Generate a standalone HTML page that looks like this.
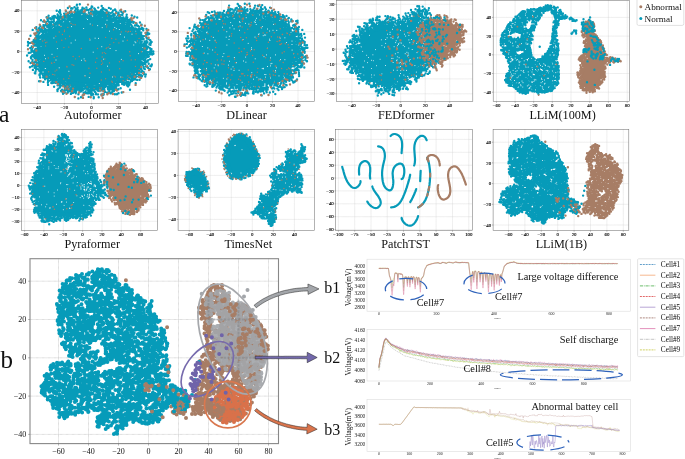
<!DOCTYPE html><html><head><meta charset="utf-8"><title>Figure</title><style>html,body{margin:0;padding:0;background:#fff}svg{display:block}</style></head><body><svg width="685" height="459" viewBox="0 0 685 459"><rect width="685" height="459" fill="#fff"/><rect x="21.3" y="0.4" width="137.0" height="102.9" fill="#fff"/><path d="M37.2 0.4V103.3M64.4 0.4V103.3M91.6 0.4V103.3M118.6 0.4V103.3M145.6 0.4V103.3M21.3 10.8H158.3M21.3 31.2H158.3M21.3 51.6H158.3M21.3 72.1H158.3M21.3 92.5H158.3" stroke="#c9c9c9" stroke-width="0.45" stroke-dasharray="0.7 0.35" fill="none"/><path d="M140.0 51.4L139.8 47.3L139.1 43.9L138.1 40.8L136.7 37.8L134.8 35.0L132.5 32.3L129.7 29.7L126.4 27.2L122.7 25.0L118.5 23.0L111.3 20.6L106.1 19.5L100.4 18.7L90.6 18.2L80.8 18.7L75.1 19.5L69.9 20.6L62.7 23.0L58.5 25.0L54.8 27.2L51.5 29.7L48.7 32.3L46.4 35.0L44.5 37.8L43.1 40.8L42.1 43.9L41.4 47.3L41.2 51.4L41.4 55.5L42.1 58.9L43.1 62.0L44.5 65.0L46.4 67.8L48.7 70.5L51.5 73.1L54.8 75.6L58.5 77.8L62.7 79.8L69.9 82.2L75.1 83.3L80.8 84.1L90.6 84.6L100.4 84.1L106.1 83.3L111.3 82.2L118.5 79.8L122.7 77.8L126.4 75.6L129.7 73.1L132.5 70.5L134.8 67.8L136.7 65.0L138.1 62.0L139.1 58.9L139.8 55.5Z" fill="#069bb9" fill-rule="evenodd"/><path d="M28 42h0m.7 1h0m-.3 .7h0m-.5 1.9h0m.9 7.4h0m-1.7 2.5h0m1.5 5.8h0m1.3 6h0m5.4 6.1h0m-.5-.3h0m.7-1.6h0m-2.6-1.6h0m1.7-2.2h0m-2.8-1.3h0m1.3-.8h0m1.4-.2h0m.6-.2h0m-1.9-1.5h0m.3-.3h0m-2.9-.4h0m3.6-.1h0m-.6-.5h0m-1.5-.3h0m3.3-.8h0m.5-.2h0m-3.4-1.1h0m3-1.5h0m-.3-.2h0m-.5 0h0m-3.6 0h0m4.6-.1h0m-.4-.1h0m-4.4-.7h0m3.3-.3h0m-3-.3h0m3.6-.2h0m-2-.2h0m1.7-.4h0m-1.9-.3h0m2-.4h0m-2.2-.1h0m2-.9h0m-.1-.7h0m.9-.8h0m-4.5-.3h0m3.4-.2h0m.4-.3h0m-2.4-.4h0m.9-.4h0m2.2-.4h0m-3.8-.5h0m3.3 0h0m-2.6-.1h0m-.4-.4h0m0-.1h0m3.8-.7h0m-5.3-.9h0m2.3-.3h0m-.7-1.4h0m3.5-.8h0m-.9-.1h0m.1-.3h0m.9-.1h0m-1.4-.7h0m-3.6-1.5h0m4-.3h0m1.5-.1h0m-3.8-.1h0m1.2-.8h0m2.3-.1h0m-.7-.2h0m-1.2-1.1h0m2.2-1h0m-1-.2h0m.9-1.4h0m-5.3-1.9h0m5.4-.5h0m-.6-1.1h0m-2.6-4.2h0m8.3-9.6h0m-.7 5.6h0m-4 1.3h0m3.1 .5h0m2.2 .9h0m-2.8 .1h0m-2.3 .7h0m5.4 0h0m-2.5 0h0m.6 .6h0m2 .7h0m-1.5 0h0m.6 .2h0m.8 .1h0m-3.9 0h0m3.8 0h0m-1.4 .6h0m1 0h0m-3.9 .1h0m-.7 .8h0m2.5 .7h0m-1 1.3h0m-.2 .9h0m2.8 .5h0m-3.6 .3h0m2.5 .3h0m-1 0h0m3.1 .1h0m0 .7h0m-2.7 .1h0m-1.1 .1h0m1.9 0h0m-3.6 0h0m5.3 .3h0m-2.1 .3h0m0 .1h0m-2.3 .3h0m1.2 .5h0m.1 1.3h0m2.6 .2h0m-3.3 .1h0m.1 0h0m-2 .2h0m5.8 0h0m-2.2 .1h0m-1.5 .1h0m-2.1 .1h0m3.7 .3h0m1.7 .2h0m-3.2 0h0m1.5 .4h0m1.5 0h0m-.9 0h0m-1.5 .3h0m-.7 0h0m.6 .7h0m-2.3 .2h0m4 .4h0m-2.1 .1h0m3.1 .2h0m-1.1 .1h0m-.6 0h0m2 .5h0m-4.8 .1h0m3.1 .2h0m.5 0h0m1.3 .2h0m.1 .3h0m-5.3 .3h0m3.1 .3h0m-2.4 .1h0m2 0h0m0 1h0m-1.7 .1h0m2.2 .5h0m1.9 .4h0m-.4 .5h0m.3 0h0m-.3 .1h0m-.2 .1h0m-4.2 .2h0m.4 .1h0m1.3 0h0m1.3 0h0m-.7 .1h0m-2.9 0h0m5.6 .1h0m-4.2 .3h0m1.5 .1h0m2.4 .2h0m-4.5 .3h0m2.4 .2h0m2.2 .1h0m-3.4 .2h0m-2.2 .2h0m5.6 .1h0m-3.1 0h0m1.1 .3h0m.4 .2h0m-3.4 0h0m2.8 .4h0m-1.1 .1h0m.7 .8h0m1.7 0h0m-1.6 .4h0m-2 0h0m2.7 .2h0m-.1 .1h0m-2.4 .1h0m3 .3h0m1.2 .1h0m-1.2 .2h0m-2.6 0h0m1.1 .1h0m-1.2 0h0m-1.6 .2h0m0 0h0m2.4 .2h0m1.3 0h0m-.4 .2h0m.3 .5h0m-.8 .4h0m-.5 .2h0m3 .1h0m-4.9 0h0m-.1 .2h0m.7 0h0m2.2 .1h0m-.4 0h0m-1 .2h0m1.6 .8h0m1 .1h0m-.1 .1h0m0 0h0m1.3 .3h0m-2.7 .4h0m-1.5 0h0m-1.3 .1h0m3.4 .5h0m-1.4 .2h0m.8 .1h0m-1.4 .4h0m-1.5 .1h0m.9 .2h0m4.7 .2h0m-.7 .4h0m-1.5 .7h0m1.8 0h0m-2.6 .4h0m1.9 .1h0m-2 .7h0m1.5 .1h0m-3.7 .1h0m5.3 .2h0m-.8 .4h0m-.8 .5h0m-1.9 .1h0m3.6 .1h0m-4.9 .3h0m2.7 .5h0m.5 .1h0m-3.1 .1h0m1.3 1.3h0m2 .1h0m-4 .5h0m4.9 .4h0m.8 .1h0m-.1 .2h0m-2.4 .1h0m-2.9 1.3h0m.1 .1h0m1.8 .4h0m2.7 0h0m-5 .2h0m3.7 1.2h0m-.6 0h0m.7 .5h0m.5 .2h0m.8 .2h0m.1 .2h0m-1.1 1.6h0m1.4 0h0m-.5 .2h0m-1.7 .8h0m0 .9h0m.2 .1h0m.5 2.1h0m-1.1 3.8h0m8.8 1.4h0m-4.5-.8h0m1.8-2.5h0m.1-.1h0m-.3-.5h0m.1-.5h0m2.6-.1h0m-.5-.5h0m-3.3-.2h0m2.2 0h0m-2.3-.1h0m-.6 0h0m3.6-.2h0m-2.4-.1h0m3.4-.1h0m.2-.7h0m-1.6 0h0m-1.9-.2h0m-.3-.1h0m-1.2-.4h0m2.5-.9h0m1.6 0h0m-1.7-.2h0m1.7-.1h0m.1-.2h0m-.7-.4h0m.4-.1h0m-.5-.2h0m-4.3 0h0m2 0h0m1.5-.6h0m2.1-.5h0m-3-.3h0m1.1-.1h0m-.4-.2h0m2-.1h0m-.3-.2h0m-.7-.2h0m-1.8-.2h0m-1.9-.9h0m.5 0h0m.2 0h0m-.5-.2h0m0 0h0m3.4 0h0m-1-.1h0m2.6-.1h0m-1.5 0h0m-1.9-.2h0m-.6-.3h0m3.5-.2h0m-3.5 0h0m-1-.1h0m.6-.8h0m3.7 0h0m-4.6-.1h0m-.4-.2h0m5.6-.1h0m-.1-.2h0m0-.1h0m-3.6-.5h0m1.2-.2h0m.7-.4h0m-3.6-.1h0m1.4-.3h0m1.8-.3h0m-3.2-.1h0m2.1-.2h0m-1.7-.1h0m-.3-.2h0m2.7 0h0m-2.6-.1h0m-.4-.3h0m-.2-.4h0m2-.2h0m-1.3-.7h0m0-.2h0m1.9-.2h0m-2.4-.6h0m2.6-.1h0m-.9 0h0m-1.3-.1h0m.4-.5h0m.1-1.5h0m-1-.1h0m.5-.3h0m.3-.4h0m0-.6h0m-.7-.3h0m.2-.1h0m.3-.6h0m-.5-3.4h0m0-1.8h0m-.1-.4h0m.1-3.9h0m.3-3.4h0m0-.9h0m-.1 0h0m.2-.3h0m-.1 0h0m-.2-.7h0m.7 0h0m-.9-.1h0m.2-.6h0m.1-.2h0m1 0h0m.3 0h0m-1.6-.4h0m.8-.1h0m.6 0h0m-.4-.6h0m-.1-.3h0m.6-.3h0m1.3-.2h0m-1.3-.2h0m-1.3-.1h0m1.7-.3h0m-1.5-.6h0m2.5-.2h0m.4-.2h0m-.2-.3h0m-1.7-.1h0m-.9 0h0m2.1-.1h0m1.3-.9h0m-1.7-.4h0m1.5-.1h0m.7 0h0m-2.8-.1h0m1.5-.5h0m1.2-.4h0m-2.6 0h0m1.9-.2h0m-1.2 0h0m2.7-.1h0m-1.1-.3h0m-4-.1h0m2.3-.1h0m1.6-.1h0m-.2 0h0m2-.2h0m-.3-.2h0m-4.6-.6h0m3.2-.3h0m1.1-.3h0m-3.4-.1h0m-1.1-.2h0m1.3-.4h0m-.3-.1h0m-.4-.2h0m1.5-.5h0m.6-.1h0m1.1-.4h0m-2.7 0h0m1.4-.1h0m-.7 0h0m-.3-.1h0m3.4-.4h0m-3.6-.2h0m3 0h0m-.5-.1h0m1.1-.2h0m-2.6-1.4h0m0-.1h0m-2.4-.4h0m1.2-.4h0m-1.6-.1h0m5.1-.3h0m-4.3-.3h0m4-.5h0m-.3-.8h0m-2.3-.1h0m-1-.6h0m2.4-.4h0m.4-.4h0m.1-1h0m-.6-1.4h0m-2.5-.3h0m4.5-.8h0m-.2-1.5h0m-.9-2h0m2-1.5h0m3.8 1h0m.4 .5h0m-2.7 .9h0m-1.6 .1h0m3.6 .2h0m-1.1 .9h0m2.8 .4h0m-5.5 1h0m5.6 .3h0m-.4 .6h0m-1.4 .1h0m.9 .1h0m-3.8 .1h0m1.6 .1h0m-.4 1.7h0m.9 .1h0m-2 .3h0m.7 .2h0m1.6 .1h0m-3.5 .7h0m3 0h0m-1.5 .6h0m.4 .2h0m3 .1h0m.6 .2h0m-5.3 .3h0m1.9 1h0m1.6 0h0m-1.6 .8h0m-.9 .4h0m1.8 .2h0m-1.5 0h0m4.1 .2h0m-2.4 .2h0m-1.6 .2h0m0 .1h0m3.5 .3h0m-1 0h0m-1.5 .1h0m-.5 0h0m-1.9 .1h0m2.4 .1h0m2.2 0h0m-.9 .1h0m-.7 .1h0m0 .3h0m-.9 .9h0m-1.6 0h0m.1 0h0m1.8 .1h0m-1.2 .5h0m-.1 .3h0m0 .8h0m-.2 .2h0m-1.1 34.7h0m1.8 1.6h0m-1 .4h0m1.5 .1h0m-.4 0h0m-.2 1.2h0m1 0h0m-1.5 0h0m-.8 .2h0m.8 0h0m2.9 .1h0m-1.4 1.1h0m-1.6 .1h0m1.2 0h0m-.6 .1h0m.8 .2h0m.3 .3h0m-1.8 0h0m3.3 .2h0m-.8 .4h0m-.9 1h0m-.1 0h0m3.2 .4h0m-.7 .1h0m.9 .2h0m-5.7 0h0m3.2 .1h0m.3 0h0m-.7 0h0m-1.4 .3h0m3.8 .2h0m-1.8 .2h0m-2.3 0h0m1.8 .2h0m2.7 .2h0m-5.3 0h0m2.3 .4h0m-1.3 .1h0m3.3 0h0m.9 .1h0m-.9 .1h0m-2.6 .1h0m2.9 .3h0m-2.3 .3h0m.2 0h0m.2 .3h0m.1 .6h0m-3.4 .6h0m1.9 .5h0m2.7 .2h0m-.3 .8h0m-4.3 .3h0m4.2 .2h0m1 0h0m-.4 .2h0m-.6 .5h0m.7 .1h0m-1.6 .1h0m1 .1h0m-4.2 1.8h0m9.4 6.1h0m-.1-1.2h0m.9-1.1h0m1.6-1.2h0m-5.8-.8h0m5.5-.9h0m-2-.6h0m1.5-.3h0m.4-1.1h0m.2-.8h0m-.1-.1h0m-4.2 0h0m2.1-.1h0m2.5-.3h0m-1.6 0h0m-2.1 0h0m-1.5-.1h0m4.7-.6h0m-.5-.6h0m-2.5-.2h0m3.5-.2h0m-1.2-.2h0m.8-.2h0m-4.9-.3h0m4.3-.1h0m-2-.4h0m-1.1 0h0m2.8-.3h0m-2.4-.3h0m-2.1-.2h0m-.2-.1h0m4.9-.3h0m.8-.6h0m-5-.1h0m1.7 0h0m-2.4-.2h0m3.4-.1h0m-.5-.1h0m-.7-.1h0m.6-.1h0m-1.7-.3h0m.6-.6h0m-.3-.4h0m1.8-.3h0m0-.2h0m-2.2-46.8h0m.9-.7h0m.7-.2h0m.9-.4h0m-2 0h0m-.6-.1h0m3-.3h0m1.3-.1h0m-4.6-.4h0m3.1-.2h0m.1-.6h0m1.3-.3h0m-4.6-.2h0m-.5-.2h0m2.3-.3h0m-1.6-.2h0m-.5-.7h0m5.7 0h0m-3.2-.3h0m1.3-.2h0m0-.2h0m-2.2-.1h0m3.9-.5h0m-2.6-.3h0m1.6-.1h0m-1.3-.4h0m.1-.4h0m2.3-.3h0m-.6-.9h0m-.9-.6h0m-.2 0h0m-.3-.3h0m1.6-.1h0m-.7-.2h0m-2-.8h0m1.4 0h0m-3.8-.1h0m2.7-.3h0m1.1-.2h0m.5-.2h0m-3.4-.4h0m-.2-.5h0m-.9-.3h0m4.4 0h0m-.7-.4h0m-.2-1.1h0m1.4-2.6h0m-2.3-1.1h0m3.3-.4h0m6 1.3h0m-5.9 .5h0m0 1h0m4 .5h0m-3.7 .4h0m5.3 .6h0m-4.9 .2h0m4.9 .2h0m.2 .2h0m-1.4 .6h0m-.6 .7h0m-3.6 .1h0m4.4 .1h0m-1.9 .2h0m1.3 .1h0m-1.7 0h0m-1.9 .1h0m4.1 .1h0m-2 0h0m3.3 0h0m-.6 .4h0m-4.2 0h0m1.3 .7h0m-.4 .1h0m.4 .4h0m.9 .6h0m.2 .1h0m.3 .3h0m-1.9 .1h0m2.9 0h0m-.1 .2h0m.7 .1h0m-5.3 1.1h0m5 .2h0m-2.8 0h0m-1.1 .2h0m-.6 0h0m5.4 .5h0m-1.5 .5h0m-2.7 .1h0m2.7 .2h0m-2.7 0h0m-1.7 .1h0m1.4 .4h0m.1 .1h0m-.6 .1h0m2.4 0h0m-.9 .4h0m1.1 .2h0m-2.9 .2h0m1.9 53.9h0m-2.1 .1h0m0 .4h0m2 .3h0m.4 .1h0m-.2 0h0m2.2 .1h0m0 .1h0m-.6 0h0m-1.6 .4h0m.1 0h0m.4 .6h0m-2.5 .1h0m.6 .1h0m2 .3h0m1.3 .2h0m-2.6 .5h0m2.2 .4h0m-2.5 .2h0m-.7 .3h0m3.9 .2h0m-3.9 0h0m2.2 .1h0m.3 .1h0m-.5 .9h0m-2.8 .1h0m2.5 0h0m2 .3h0m-.4 .8h0m-1.1 .3h0m-2.2 .2h0m2.1 0h0m.2 0h0m2.4 .3h0m-5.1 .3h0m4.4 .6h0m.8 .7h0m-.9 .7h0m-2.8 1.4h0m2.7 .3h0m.2 .5h0m-4 .3h0m.2 0h0m2.2 .3h0m-2 .2h0m1.5 .7h0m1.9 .7h0m-1.8 1.1h0m7.9 .2h0m.2-.2h0m-3.5-.9h0m4.3-.9h0m-3.7-.1h0m2.9-.4h0m-1.8-.4h0m1.8-.2h0m-2.9-.1h0m-.7-.1h0m-.8-.7h0m5.1-.1h0m-2-.1h0m-1.8-.4h0m.9-.6h0m1.4 0h0m1.6-.4h0m-3-.1h0m2.1-.1h0m-4 0h0m1.8-.4h0m2.4 0h0m-4.6-.1h0m2-.4h0m.1-.6h0m-.7-.1h0m-.9-.1h0m2-.1h0m-.2 0h0m1.1-.7h0m-2.1-.3h0m3.7-.3h0m.3-.2h0m-2.1-.4h0m-1.2-.1h0m2.4-.2h0m-2-.1h0m-2.1-.1h0m.4-.3h0m.5-.2h0m2.6-.2h0m-2.9 0h0m-1 0h0m2.8-.1h0m2.5-.2h0m-4.3-.2h0m2.4-.5h0m.7-.4h0m-.4 0h0m-1.1-.1h0m-1.9-.1h0m.4-.6h0m-.9-.6h0m-.7-57.2h0m2.6-1h0m-.8-.2h0m.1-.4h0m1.5-.7h0m-1.2-.1h0m1.6-.1h0m-1.5-.1h0m.9-.2h0m-2.3 0h0m3.2-.3h0m0 0h0m-3 0h0m4.6-.4h0m-.4-.7h0m-.2 0h0m-.2 0h0m-1.3-.1h0m-.5 0h0m0-.3h0m-.7-.1h0m1.3-.1h0m-1.6-.5h0m-2-.1h0m2.1-.1h0m1.9 0h0m-.9-.2h0m-2.4-.1h0m1.9-.6h0m-2.2-.3h0m4.2 0h0m-.2 0h0m-3.3-.3h0m2-.2h0m-.3 0h0m0-.4h0m2.8 0h0m-1.6 0h0m-3.5-.3h0m.1-.2h0m4.4-.4h0m0-.1h0m-3.5-.5h0m.8-.2h0m3.5-.7h0m-2.4-.5h0m.2-.6h0m1.3-.1h0m-.1-1.3h0m.3-2.5h0m-3.3-.2h0m9.1-3.3h0m-.2 .5h0m-2.3 1.9h0m3.1 .6h0m-5.1 .8h0m3.4 .2h0m-.2 .8h0m2.1 .5h0m-2.7 1h0m2.6 0h0m-.8 1.1h0m1 0h0m-2.6 .1h0m-.3 1h0m2 0h0m-4.8 .7h0m4.4 0h0m-2.2 .7h0m-2.4 .1h0m5.1 .1h0m-2.3 0h0m-1.1 .2h0m-1.2 0h0m5.2 .1h0m-1.2 0h0m-1 0h0m-1.9 .2h0m4.3 .1h0m-2.9 0h0m-1.6 .1h0m2.4 0h0m-.1 .4h0m-3.2 .5h0m4.6 .2h0m-1.3 .3h0m1 .1h0m.1 0h0m-2.5 0h0m1.9 .2h0m-.3 .2h0m.5 .6h0m-1.2 .3h0m1.7 .2h0m-1.3 0h0m-2.4 0h0m3.8 .1h0m-1.2 .1h0m.2 0h0m-1.6 .3h0m-.4 .2h0m1.5 .1h0m1.1 .1h0m-3.5 .1h0m-.5 .1h0m.3 .1h0m4.6 .1h0m-5.3 .3h0m3.6 .3h0m-.8 .2h0m-2.3 0h0m3.6 61.9h0m-1.4 0h0m-.3 .1h0m2.2 0h0m-2.8 0h0m3.5 .1h0m-4.2 .2h0m3.9 0h0m.5 .1h0m-.6 0h0m-4.5 .2h0m4.8 0h0m0 .2h0m-5.1 .1h0m5.5 .3h0m-4.6 .2h0m2.9 0h0m-.8 .2h0m-2.6 .1h0m.7 .2h0m3.1 .1h0m.9 0h0m-1.3 .4h0m.3 .1h0m-2.7 .2h0m1.7 .1h0m1.8 .2h0m-1.6 .2h0m.1 .1h0m1.7 .1h0m-5.3 .2h0m0 0h0m3.3 .1h0m2.5 .3h0m-2.4 .2h0m1.2 .2h0m-3.6 .1h0m.2 .4h0m3.3 0h0m.7 .2h0m-.2 .5h0m-1.6 0h0m-.9 .1h0m-1.4 .1h0m2.9 .1h0m-1.6 .1h0m-1.7 .3h0m4.6 .3h0m-4.2 .4h0m1.9 0h0m-.3 .2h0m1.8 .4h0m-.7 .8h0m-.7 .2h0m-.5 .4h0m-.4 .1h0m1.7 .3h0m-3 .7h0m2.7 .5h0m2.6 5.2h0m2.6-1.2h0m2-2.1h0m.4 0h0m-5-.9h0m5.2-1.2h0m-4.1-1.1h0m1.9-.6h0m-1.4-.8h0m2.8-.1h0m-1.8-.3h0m-1.8-.2h0m1.5-.7h0m-1.9-.2h0m1.5-.2h0m2.1-.2h0m-1.7 0h0m3.2-.1h0m-4.9-.1h0m4.1-.3h0m-2.1-.3h0m.7 0h0m-3.5-.2h0m.2-.5h0m.5-.1h0m1.3-.1h0m2.6-.9h0m-.8-.4h0m-3.6-.5h0m.4-.2h0m1.4 0h0m-1.9-.2h0m-.2-.1h0m5.6-.2h0m-.5 0h0m-3.5-.1h0m3 0h0m-1.4-.1h0m-1.8-.2h0m.9-.2h0m2.7-.1h0m.3 0h0m-1.4-.5h0m-2.9-63.4h0m3.2-.2h0m-3.6 0h0m1-.1h0m-.7 0h0m.2-.5h0m4.4-.1h0m-2.4-.2h0m.2 0h0m.4-.3h0m-3.2-.1h0m1.3 0h0m1.5 0h0m-2.3-.1h0m2.3-.3h0m1.7-.1h0m-2 0h0m-1.7-.2h0m4 0h0m-1.4-.1h0m1.3-.2h0m.4 0h0m-1.2-.2h0m-2.9-.1h0m.3-.2h0m-1.2 0h0m3.7-.4h0m-.2 0h0m-.1-.2h0m.8 0h0m-4.7-.2h0m2.2-.2h0m-1.8-1h0m1.4-.1h0m3.4-.5h0m-3.5-.1h0m-.8 0h0m.7 0h0m-.1-.2h0m.1 0h0m-1.1-.2h0m.8 0h0m3.5-.5h0m-1.8 0h0m-2.6-.2h0m1.4-.3h0m2.9-.2h0m-.2-.4h0m-2.8-.6h0m2.4-.2h0m-1.4-.1h0m-.5-.8h0m1.8-1.1h0m.3-1.7h0m-2.7-3.3h0m6.6 3.1h0m-2.1 1.4h0m5.6 .3h0m-2.8 .7h0m1.4 .4h0m-2.6 0h0m-1.3 2.2h0m4.3 .3h0m-3.4 1.4h0m1.3 .6h0m2.4 .4h0m.5 .1h0m-1.9 .3h0m-3.4 .5h0m.1 .2h0m.3 0h0m1.5 .3h0m-.8 .2h0m4.4 .3h0m-.1 0h0m-.8 0h0m-2.6 .1h0m2.3 .6h0m-.2 .1h0m-.7 0h0m-.1 .1h0m-3.2 .2h0m3.8 .1h0m.3 .6h0m-.8 0h0m-2.8 .3h0m4.4 .1h0m-1.4 0h0m-3.8 64.2h0m4.1 .1h0m1.5 0h0m-2.2 0h0m-.3 .2h0m.6 .2h0m-3.7 .1h0m-.2 .1h0m5.1 .5h0m.8 .2h0m-3.5 .3h0m1.6 .3h0m-2.2 .1h0m1.3 .2h0m-2.4 .4h0m1.1 0h0m.3 .1h0m.7 0h0m1 .3h0m-2.8 .2h0m1 .1h0m3.2 .1h0m-4 .8h0m1.5 0h0m-.8 .4h0m2.3 0h0m-.3 .3h0m-.5 .1h0m-2.5 .2h0m4.9 .7h0m-2.6 .2h0m.1 0h0m2.1 .3h0m.5 .1h0m-.3 0h0m-1.2 1.2h0m.6 .2h0m-3.5 0h0m-.3 1.4h0m3.6 .2h0m-2.2 0h0m.5 0h0m-.2 .2h0m1.6 .2h0m.2 3.5h0m5 1.3h0m.1-1h0m-2.3-2h0m1.8-.6h0m-2.4-.2h0m2-.4h0m3-.9h0m-5.2-.1h0m-.7-.5h0m1.5-.1h0m3.4-.6h0m-4.1 0h0m0-.2h0m-.6-.8h0m2.5-.5h0m1.2 0h0m-2.7-.6h0m-1.2-.1h0m4.9-.1h0m.2-.5h0m-.2-.1h0m-2.5 0h0m2-.5h0m1.1 0h0m-4.2 0h0m4.6-.1h0m-2.5-.3h0m2.6-.2h0m-1.8-.1h0m-1.1 0h0m-1.7-.1h0m1.9 0h0m-2.7-.1h0m4.5 0h0m-4.1-.5h0m-.4 0h0m5.1-.1h0m-1.5-.1h0m.6 0h0m-2.2-.2h0m-.4-.4h0m-1.6-.4h0m.3-.2h0m.8-.1h0m.6-.6h0m.8-.4h0m2.5-.2h0m-2.5-.2h0m1.3-.1h0m-1.6 0h0m-2.5-.1h0m-.1-.3h0m.9-64.5h0m4.2-.1h0m.5 0h0m-1.1-.1h0m-1.2-.2h0m-3.1-.1h0m4.6-.1h0m-.9-.1h0m-.2-.1h0m.4 0h0m-1.2 0h0m2.4 0h0m-4.4-.1h0m4.4-.1h0m-1.8-.1h0m.2-.2h0m-1.9-.1h0m-.8-.2h0m0-.8h0m3-.6h0m.9-.4h0m-1.8-1.3h0m-1.4-.2h0m1.3-.1h0m-2.9-.3h0m5.2-.1h0m.5-.4h0m-2.5-.1h0m2.3-.6h0m-4.9 0h0m.1-.8h0m3.3 0h0m-2.5-.3h0m.8-.2h0m-1.3-.1h0m.8-.3h0m3.6-.5h0m-.7-1.2h0m-.7-.7h0m-2.9-.6h0m.8-1.1h0m-.5-.4h0m10-.5h0m-3.5 1.7h0m2.9 2.5h0m.3 .1h0m.4 .7h0m-1.1 .1h0m-3.7 .7h0m2.8 0h0m-2 .1h0m3.7 .2h0m-1.7 0h0m1.3 .3h0m0 .3h0m-3.4 .1h0m-1.5 .4h0m3.6 .3h0m2 .2h0m-5.6 .1h0m3.9 .2h0m-1 .1h0m-.4 .1h0m-.6 1h0m1.2 0h0m0 .1h0m2 .1h0m.2 .2h0m-1.2 .1h0m-1.4 .4h0m-2.8 .2h0m5.4 .1h0m-1.2 .3h0m-3.6 0h0m4.7 0h0m-1.9 .2h0m-.8 .1h0m-2.5 .1h0m4.1 .1h0m.8 0h0m-1.6 .1h0m-1.6 .2h0m2.7 .2h0m-.8 .1h0m-.7 .4h0m-1.6 .1h0m1.7 .6h0m-2.4 0h0m1.6 0h0m3.1 .4h0m-2.5 .1h0m-2.8 .1h0m4.5 0h0m-1.5 .2h0m-.1 0h0m-.5 63.6h0m-.3 .1h0m3.5 .1h0m-3.4 .1h0m-1.9 .4h0m4.1 .1h0m-1.6 0h0m-2.1 .2h0m0 .1h0m4.6 .4h0m-3.5 .1h0m3.7 .2h0m-5.3 .2h0m2.7 .3h0m0 .4h0m-1.8 .1h0m0 .1h0m3.7 .1h0m-1.2 .1h0m-1.8 0h0m-.9 .1h0m1.2 .2h0m-.2 .1h0m1.6 0h0m.9 .4h0m-4.2 .2h0m4.3 .2h0m-.2 .4h0m-.6 .2h0m-1 .3h0m-2.1 .3h0m.8 .2h0m3.7 .2h0m-3.6 .9h0m4.1 .2h0m-3.4 .3h0m2 .1h0m-3 0h0m0 0h0m1.2 .1h0m.2 .1h0m-2.7 3.5h0m1.9 .1h0m3.4 .1h0m-2.7 2.7h0m4-1.9h0m.1-.7h0m.9-.1h0m0-.5h0m3.5-1.4h0m-.1 0h0m-2-.7h0m-.9-.9h0m.3-.8h0m-1.2-.7h0m-.4-.3h0m-.5 0h0m1.8-.3h0m3.7-.3h0m-5.8-.1h0m.6-.3h0m1.5-.1h0m1.2-1.2h0m-1-.1h0m1.3-.2h0m-2.8-.1h0m1.2-.4h0m2.1-.3h0m-2.8-.4h0m1.5-.3h0m1.6-.3h0m-1.8-.2h0m.2-.2h0m0 0h0m1-.1h0m-3.9-.3h0m1.1-.2h0m4.8 0h0m-3.2-.1h0m2.9-.1h0m-2.6-.1h0m.6 0h0m1.6-.1h0m-4.4-.1h0m5-.3h0m.1-62.6h0m-1.9-.8h0m.7-.5h0m.2-.1h0m-4-.2h0m1.4-.1h0m-1 0h0m.5-.1h0m-.1-.1h0m.3-.2h0m3.8-.2h0m-3.3 0h0m.9-.6h0m1.3-.1h0m1 0h0m-1.2 0h0m.9-.1h0m-2.8-.1h0m.4-.3h0m-.2-.1h0m-1.6-.2h0m4-.1h0m-2.3 0h0m-2.7-.1h0m3.3-.1h0m-2.4-.1h0m2.8 0h0m.1-.1h0m-1.5 0h0m-2.1-.2h0m3.7 0h0m-.6 0h0m-1.7-.2h0m1.7-.3h0m-1.9-.3h0m1-.1h0m-2.3-.3h0m1.3-.1h0m.2-.2h0m4.1-.1h0m-.2-.1h0m-1.9-.2h0m-1.6-.4h0m-.7-.1h0m4.3-.3h0m-4.3-.1h0m1-.3h0m2-.5h0m-3.5-.6h0m3.8-.7h0m-.2-.7h0m-1.3-.5h0m-2.8-.4h0m.7-.4h0m.2-.1h0m0-.3h0m-.9-.3h0m.6 0h0m5.8-.4h0m1.9 .8h0m2.3 1.8h0m-.9 1.8h0m-3.5 .1h0m2 .7h0m2.9 .9h0m-4.3 .9h0m4.5 .6h0m-1.6 0h0m-2.1 .2h0m-.5 0h0m4 .3h0m-2.3 0h0m-2.9 .2h0m5.3 .3h0m0 .3h0m-2.7 .6h0m2.9 0h0m-4 0h0m-.2 .2h0m.9 .3h0m.5 .1h0m.9 .1h0m-1.4 .2h0m1 0h0m-1.2 .6h0m3.6 .2h0m-5.8 .3h0m1 .1h0m1.4 .3h0m-1.9 .1h0m4.4 .3h0m-3.6 0h0m-.6 0h0m.6 0h0m2.5 .1h0m-2.4 .1h0m-1 .3h0m.5 .1h0m3 .1h0m-1.8 0h0m1.7 .1h0m-1.4 0h0m-.1 .1h0m1.7 .1h0m.6 1h0m-.9 58.6h0m.2 .3h0m.1 .3h0m-2 .1h0m.3 0h0m3.4 .1h0m-1.3 0h0m-1.4 0h0m2.8 .2h0m-2.1 0h0m-1 0h0m-2.5 .1h0m1.9 .1h0m-1.5 0h0m.5 .2h0m-1.1 .1h0m1.9 .3h0m1.8 0h0m.9 .1h0m-.4 .1h0m-4 .6h0m.1 0h0m2.4 0h0m-1.7 .1h0m4.6 0h0m-5.3 .1h0m2.9 .2h0m-.2 .1h0m2.6 .2h0m-4.3 .3h0m-.4 .1h0m1 .1h0m1.8 .6h0m-.3 0h0m-1.8 0h0m-.4 .1h0m1.8 .4h0m.9 .2h0m-1.9 .4h0m3.2 .2h0m-5.3 .1h0m4 .1h0m-.2 .2h0m-1.6 0h0m-.9 .7h0m4.1 .1h0m-5.5 .3h0m1.1 .7h0m1.5 .3h0m1.1 0h0m1.4 .1h0m.2 .1h0m-.9 .1h0m.7 0h0m-1.4 .1h0m-3.6 0h0m5.6 .3h0m-1 .9h0m.6 .1h0m-4 .2h0m4.6 .2h0m-4.4 .4h0m-.3 .6h0m2.8 .1h0m-1.3 1.2h0m4.2 .8h0m2 0h0m1.6-1h0m-1.4-3.5h0m-2.2-.2h0m2.1-.1h0m1.4-.1h0m-3.5-.1h0m.2-.1h0m.8-.6h0m-1.3-1.4h0m.3 0h0m-.2-.3h0m0-.1h0m1.7-.1h0m.3-.9h0m-.9-.2h0m.7-.1h0m-1.3-.1h0m3.5 0h0m-2.5-.7h0m-1.3 0h0m3.1-.3h0m-3.9-.2h0m3.3 0h0m-.4-.2h0m1.3-.2h0m-1.6-.8h0m-.1 0h0m0-.1h0m1.8-.1h0m-1.8-.2h0m2.1-.4h0m-3-.1h0m-1.5 0h0m1.5-.1h0m4 0h0m-.5-.2h0m-1.9 0h0m2.3-.5h0m-2-.2h0m-2.7-.1h0m4.3-.2h0m-5.1-.1h0m.2-.2h0m3.3-.3h0m0 0h0m2.2-.4h0m-.2-.1h0m-.9 0h0m-1.9-.1h0m1.3-.1h0m-.4-.4h0m.5-.4h0m1.3-.1h0m-.9-.3h0m.6-.4h0m-.7-53.6h0m-1.8-.3h0m1.1-.5h0m-1-.1h0m-.2-.2h0m2.1 0h0m-3-.4h0m-1.1 0h0m2-.1h0m-1.9 0h0m1.6-.1h0m-1.3-.1h0m.7-.1h0m-.1-.3h0m3.8-.2h0m-2.5-.2h0m.5 0h0m-.8-.2h0m1.3 0h0m-1.8-.1h0m2.1-.1h0m-1.1-.2h0m2.8-.1h0m-5-.4h0m0 0h0m-.2-.2h0m1.2-.1h0m3.2-.1h0m-4.7-.3h0m2-.6h0m2.3-.5h0m1.1-.2h0m-3.7 0h0m-.7 0h0m2.4 0h0m2.2-.2h0m-5.7-.2h0m4.7-.3h0m-4.4-.2h0m-.4 0h0m2.2-.3h0m3-.1h0m.5-.8h0m-.7-.5h0m.3-.5h0m-1.8 0h0m1.1-.2h0m.9-.2h0m-4.9-.1h0m3.5-1.3h0m-.1-.1h0m.4-.9h0m-2.3-.8h0m-1-1.8h0m-.3-.6h0m5.3 1.1h0m4.9 .8h0m-3.7 .6h0m1.3 1.2h0m-.9 1.7h0m.6 0h0m.8 2.7h0m-1.5 .3h0m3.9 .3h0m-5.5 0h0m0 .3h0m5.2 .3h0m-1.6 .1h0m-1.8 0h0m-.4 .7h0m2.8 .7h0m-.6 0h0m.6 .3h0m-2.8 .2h0m3 0h0m-3.9 .4h0m0 .1h0m4.6 .1h0m-2.8 .2h0m1.4 .4h0m-.4 .1h0m-2.5 .1h0m3.7 .2h0m-1.1 .1h0m.7 0h0m-1.2 .2h0m-1.3 .1h0m2.6 0h0m.3 .2h0m.1 .4h0m-1.5 .1h0m-1.4 .2h0m1.3 .2h0m.5 .4h0m-2.4 .4h0m1.7 .2h0m-1.4 .3h0m2.5 .1h0m-1.5 .2h0m2 .7h0m-.8 .1h0m1.1 .2h0m-3 0h0m4 .2h0m-.9 .1h0m-.2 .7h0m.1 48h0m-.6 .5h0m.4 .1h0m-2.5 .8h0m.1 0h0m3.6 .1h0m-4.6 .1h0m3.5 .1h0m.2 .8h0m1 .3h0m-2.7 0h0m-3.1 .1h0m5.6 .2h0m-.4 0h0m-4.6 0h0m.3 .1h0m-.7 .1h0m3.2 0h0m-2.8 .2h0m4.2 0h0m-2 .1h0m.3 0h0m2 .2h0m-3.9 .1h0m-1.3 0h0m2.2 .1h0m2 .3h0m-3.7 0h0m3.9 .1h0m-2.4 .2h0m.2 .2h0m-1.5 .6h0m2.9 .1h0m-1.9 .1h0m-.6 .3h0m1.2 .1h0m-2.3 .3h0m2.6 .5h0m.9 0h0m.9 .2h0m-2.4 .3h0m3.2 .5h0m.6 0h0m-2.8 .1h0m1.9 .2h0m-2.8 .5h0m1.9 .8h0m-3.4 3.4h0m1.1 4.3h0m8.2-2.8h0m-1.8-3.3h0m-1.3-1h0m1.1-.1h0m-.7-.2h0m2-.3h0m-2.6-1.3h0m1.1-.5h0m.8-.2h0m-1.4-.1h0m2.8-.1h0m-3.2-.1h0m-.5-.5h0m1.9-.3h0m2.6-.6h0m1.1-.7h0m-1.3-.7h0m-4.5 0h0m4.8-.6h0m.9-.2h0m-2.8-.1h0m-.7-.1h0m-2.3-.7h0m5.9-.4h0m-.1-.1h0m-5.1-.6h0m4.8-.2h0m-1.3 0h0m-2.4-.2h0m-1.2-.1h0m.6 0h0m2.1-.1h0m-2.8-.1h0m5.3-.1h0m-.1 0h0m-4-.1h0m-1.4-.1h0m1.3-.4h0m2.7 0h0m-1 0h0m-1.1-1.1h0m.4-.1h0m-1.8 0h0m4.5-.2h0m-1.3-.8h0m1.9-.1h0m-2.7-.4h0m0-1.1h0m.9-.5h0m1.4-.5h0m-.3-38.1h0m-.4-.7h0m0-.1h0m.8-.6h0m-.6-.5h0m-2.3-.2h0m1.1-.1h0m.6-.1h0m1.1-.2h0m-.9-.2h0m-1.5-.1h0m2.2-.5h0m-2-.1h0m-.9-.1h0m-2-.2h0m5.6-.1h0m-4.5-.1h0m1.7-.1h0m2.7-.2h0m-4.3 0h0m3.9-.2h0m-3-.4h0m.4 0h0m.6-.1h0m1.4-.3h0m-3.4-.2h0m1.4 0h0m-1 0h0m.3-.4h0m.7-.1h0m-.4 0h0m-1.2-.1h0m-1.2 0h0m2.7-.1h0m-2-.5h0m-.3-.3h0m5.2-.1h0m-4.1-.1h0m-1.1-.2h0m1.8 0h0m-1-.1h0m-.3-.5h0m2.5 0h0m1.5-.1h0m-.7-1.1h0m-2.5 0h0m-.8-.1h0m2-.3h0m-.9-.9h0m-.4 0h0m3.3-.3h0m-2-.3h0m-1.8 0h0m.3-1.1h0m1-.4h0m-1.1-.3h0m2.7-.1h0m-2.7-.3h0m2.9-.1h0m-4.1-.2h0m.6-.9h0m.4-.8h0m-.8-.7h0m5.4-1.2h0m-5.1-.7h0m7.8 1.9h0m2.7 .8h0m-4.3 4.2h0m.4 .3h0m.6 .1h0m-.6 .6h0m3.2 .8h0m.5 2h0m-2.1 0h0m.3 .1h0m-2.3 1.8h0m.6 .8h0m1.9 .3h0m-1.4 .1h0m1.9 0h0m-1.6 .1h0m1.6 .5h0m-1.5 .4h0m3.6 .3h0m-4.5 .1h0m1.3 0h0m-1.8 .2h0m4.1 .2h0m.7 .9h0m-3.2 .6h0m2.3 .5h0m.1 .1h0m-.7 0h0m-2.8 .2h0m4.1 0h0m-4.9 .3h0m-.6 .1h0m4.5 0h0m-1.5 .2h0m-.9 .1h0m-.2 .1h0m1.3 .7h0m-.3 .3h0m2 .1h0m.9 .4h0m-.1 .7h0m-2.1 .1h0m.8 0h0m-.9 .1h0m2.1 0h0m-4 .3h0m.6 0h0m3.4 0h0m-1.1 .2h0m-.6 .5h0m.3 .2h0m-.7 .2h0m.9 .9h0m.7 .1h0m-.7 .4h0m-.2 .3h0m1.5 .3h0m-.1 .4h0m-.1 2.6h0m-.1 17h0m0 0h0m.4 .4h0m-.3 .2h0m-.4 .3h0m.6 .6h0m-.6 .6h0m0 .6h0m.5 .2h0m-.6 .2h0m-.3 0h0m1.1 .3h0m-.3 .1h0m-.3 .3h0m.1 0h0m.5 .3h0m-.3 .2h0m-1.7 .4h0m-.2 .2h0m-.5 .5h0m1 .1h0m-1.1 .3h0m1.9 1h0m-.1 0h0m.8 .2h0m-1.9 .1h0m-.6 .2h0m1.8 .1h0m.9 .7h0m-4.1 .1h0m1.4 .1h0m0 .1h0m.2 0h0m-2.1 .3h0m4.5 .2h0m-4 .2h0m1.3 0h0m-1.7 .1h0m2.3 .3h0m-.9 .1h0m2.1 0h0m-1.6 .3h0m2.4 .5h0m-3.4 0h0m2.1 0h0m-3.6 .3h0m-.5 0h0m3.3 .1h0m-2.5 0h0m1.7 .7h0m-.3 .2h0m1.8 0h0m-4.1 .1h0m2.9 .4h0m-2.3 0h0m2.4 0h0m2.4 .2h0m-.9 .1h0m-.6 0h0m-1 .4h0m-1.9 .2h0m-1.1 .2h0m2.3 .1h0m-.2 .1h0m3.3 .1h0m-5.2 0h0m.2 .4h0m1.5 .1h0m-1.2 .3h0m4.3 .1h0m-3.9 .8h0m.3 .1h0m1.7 .3h0m-3 .2h0m3.1 .8h0m1 .1h0m-4.3 .4h0m.7 .1h0m.3 .3h0m-.6 .2h0m.4 .1h0m3.1 .1h0m-1.5 .9h0m.8 1h0m-2 .2h0m.6 .1h0m-.6 .2h0m4 .2h0m-5.2 1.1h0m3.7 2.2h0m3.9-3.4h0m1.5-2.4h0m-2.7-.8h0m2.1-.4h0m1.5-.2h0m-1.8-1h0m-1.4-.3h0m2 0h0m3.2-.4h0m-6-.5h0m5.8-1.5h0m-2.6-.3h0m-2.2-.2h0m-.2 0h0m3.5-1h0m-3.4 0h0m1.7-1.2h0m-1.9-.7h0m2.5-.2h0m2.8-.3h0m-2.8-.2h0m-2-.1h0m-.5-.5h0m.5-.6h0m4.4-.2h0m-.1 0h0m-4.8-.2h0m1.4-.6h0m-1.2-.7h0m4-.4h0m-2-.3h0m.4-.1h0m1.8 0h0m-5 0h0m.6-.5h0m4.3-.2h0m-.2 0h0m-4-.1h0m2.1-.5h0m.7-.1h0m-.4-.1h0m1.9-.3h0m-.6-.3h0m-3.6-.1h0m2.9 0h0m-3.5-.3h0m.8-.1h0m1.5-.8h0m-1.2 0h0m-.3 0h0m.9-1.2h0m3.4-.1h0m-5.2-.4h0m2.3-.1h0m1.7-.2h0m-3.3-.2h0m0-.8h0m1.6-.1h0m1.9 0h0m-1-.2h0m1.9-.1h0m-1.5-.1h0m-2 0h0m2.1-.1h0m.8-.5h0m-.5-.2h0m.7-.3h0m-3.4-.2h0m2 0h0m-1.4-.4h0m3.6-.3h0m.2-.2h0m-3-.2h0m2.3-.3h0m.7 0h0m-.3-.4h0m-2.4-.1h0m2.8 0h0m-1.8-.1h0m-3.4-.3h0m.7 0h0m1.5-.2h0m-1.6-.2h0m.5-.1h0m3.2 0h0m-4.3-.1h0m.6 0h0m2.5-.4h0m-.4 0h0m-2.2-.8h0m.7-.1h0m-.2 0h0m.4-.3h0m3.8-.1h0m-3.7-.1h0m-1.3-.4h0m1.5-.2h0m2.6-.4h0m-3.3-.1h0m1.3-.1h0m.7-.3h0m-3-.2h0m1-.1h0m3.5-.4h0m-2.3-.2h0m2.1-.5h0m-1.2 0h0m0 0h0m-2.9-.1h0m4.6-.1h0m-3.1-1.5h0m.4-.2h0m-1.7-.5h0m-.5-.1h0m3-.1h0m.2 0h0m-2.6-.1h0m1.6-.1h0m.4-.1h0m1.1-.1h0m1.3-.4h0m-2.6 0h0m1.2-.1h0m-2.2-.1h0m2.2 0h0m1.4-.2h0m-5.3-.2h0m1.4-.3h0m1.3-.1h0m-.6-.2h0m3.1-.3h0m.2-.1h0m-5.2-.9h0m2.8 0h0m-2.7-.2h0m2.3-.4h0m.8-.4h0m-3-.7h0m1.1-.6h0m-.4 0h0m-.9-.5h0m-.1-.2h0m2-.4h0m2.5-.2h0m-.9-.1h0m-1.3-.1h0m-2.5 0h0m.3 0h0m5-.1h0m-1.5-.1h0m-1.8-.1h0m-1.8-.2h0m1.8 0h0m-2.2-.2h0m3.1 0h0m-1.1-.1h0m-.8 0h0m3-.1h0m-2.5-.3h0m1.6-.9h0m-1.3-.2h0m1.6 0h0m-2.7 0h0m-.7 0h0m4.9-.4h0m-3.3-.2h0m1.9-.1h0m-.1-.4h0m-3.1-.2h0m2.3 0h0m.7 0h0m-3.2-.1h0m1.4 0h0m-.8-.1h0m.7 0h0m-.8-.6h0m2-.4h0m-1.1-.2h0m-1-.1h0m1.3-.3h0m-1.3-.5h0m-.4-.3h0m2.9 0h0m-1.6-.7h0m-.3-1.4h0m3.8-.5h0m-5.1-.9h0m1.2 0h0m1-.3h0m3.1-.2h0m-1.8 0h0m-2.8-.1h0m3.1-.9h0m-2.8-1.2h0m-.9-.6h0m3.4-1.2h0m-1.6-2.3h0m6.5 6.5h0m1.1 3.4h0m-1.6 .7h0m3.2 .6h0m-3 .2h0m1.6 .6h0m-2.5 1.4h0m1.1 1.3h0m.6 1.2h0m1 .2h0m.4 .4h0m-1.8 2h0m-2 .5h0m1.3 0h0m1.6 .6h0m-2.9 .2h0m0 .5h0m1.6 .2h0m-.7 .4h0m1 .2h0m-1.4 .4h0m4.2 .1h0m-3.8 .7h0m.4 .6h0m.7 .7h0m1.6 .6h0m-3.2 0h0m-.7 .4h0m2.4 .4h0m-2.3 .3h0m5.5 .3h0m-2.6 .4h0m-.2 .2h0m-1.7 .2h0m.9 .4h0m-2 .7h0m.7 1h0m1.2 .8h0m1.5 .2h0m1.6 .2h0m-2.6 .8h0m-2.5 .2h0m1.2 .2h0m.1 .3h0m-.8 .4h0m4.2 .5h0m-3.9 0h0m-.9 .1h0m3.8 .1h0m-3.8 0h0m1.7 .5h0m1.3 .1h0m-1.5 .1h0m1.3 .1h0m-2.1 .5h0m4 .4h0m-4.7 0h0m3.7 .4h0m-3.1 .2h0m2.6 0h0m-1.6 1h0m-.3 1.1h0m-.6 .4h0m3.4 .6h0m-3.1 .2h0m1 .7h0m-1.1 .2h0m2.5 .2h0m-1.4 .5h0m-1.1 .3h0m3.7 1.4h0m-3.6 .4h0m.3 .1h0m.6 2.4h0m2 1.2h0m-3.1 1.3h0m5 .1h0m-4.1 5.3h0m-.5 2.1h0m5.8-10.4h0m-.7-.2h0m1.2-.6h0m.2-.9h0m-1.6-5.4h0m2-4.6h0m-2-.1h0m3.2-.7h0m-3.1-.7h0m.9-.5h0m-.3-.1h0m.5-.9h0m1.9-.1h0m-2.1 0h0m.6-.3h0m-1.4-.9h0m.1-.4h0m1-.7h0m-1.1-.3h0m0-3.9h0m.3-1.3h0m-.6-.3h0m1.5-1.3h0m-1.1-1.2h0m-.4-.5h0" stroke="#069bb9" stroke-width="2.40" stroke-linecap="round" fill="none"/><path d="M45.6 58.7h0m-1.2-3.4h0m9.5-17.3h0m-1.9 16.3h0m7.2 13.5h0m-3.2-7.8h0m1.3-11.4h0m1.8-23.4h0m.4-.2h0m1.5 1.3h0m7.9 45h0m2.2-28.3h0m.4-16.4h0m-1.7-4.9h0m5.5 18.4h0m6.2 20.2h0m2.2-31.8h0m3.8-9h0m-3.4 39.4h0m1 1.8h0m-.1 15h0m4.3 1.9h0m3.9-25.4h0m-3.2-12.2h0m5.1-1.8h0m-4.9-14.2h0m7.5 1.6h0m.8 12.8h0m3.3 8.3h0m-2.5 36.8h0m8.2-17.3h0m-3.8-7h0m-1.5-31.6h0m3.4-3.3h0m1.4-4.1h0m6.2 2.3h0m-3.6 8.7h0m.5 17.3h0m2.4 28.5h0m3.5-26.4h0m3.3-21.1h0m-3-.9h0m-1.5-1.1h0m5.5 6.8h0m4.3 2.8h0m-1.6 4h0m-1.7 18.3h0m-.5 17.6h0m11.2-42.8h0m3 7.6h0m.8 .9h0m-2 2.3h0m4.6 8.6h0" stroke="#ffffff" stroke-width="1.00" stroke-linecap="round" fill="none"/><path d="M29.1 38.9h0m-1.1 10.3h0m5.8 14.7h0m-1.6-1h0m.7-16h0m.5-3h0m-1.6-1.1h0m3.5-4.3h0m-.3-3.9h0m-.7-1.2h0m.9-5.5h0m4.6-3.2h0m-1.6 5.6h0m-2 2.8h0m.1 17.4h0m-.2 9.7h0m1.2 4.4h0m3.3 16.7h0m6-4.6h0m-3.5-48.6h0m-1-.7h0m4.9-3.7h0m-2.2-1.9h0m-.7-1.4h0m3.2-2.8h0m10.7 66.7h0m-1.8-2.2h0m9.6-71.6h0m-3 6.8h0m.5 69.1h0m2.2 2.1h0m-2.8 3h0m1.1 .6h0m2.7 1.6h0m2-4.6h0m-1-2.5h0m-1.4-72.4h0m1.9-1.5h0m2.7-.5h0m.9-.5h0m-.9-.1h0m-1.1-5.1h0m4.6 5.6h0m-1.1 76.5h0m-1.1 2.6h0m2.8 5.8h0m8.2 .9h0m-.4-2.4h0m-3.5-3h0m4.6-80.8h0m4.3-7.1h0m-3.3 5.5h0m-.1 1.2h0m-.3 82.9h0m6.4 3.1h0m.1-83.8h0m.9-3.6h0m8.7 80.4h0m1.2 5.2h0m1.1 2.5h0m4.6-3.8h0m-4.5 0h0m.5-2.9h0m3.4-78.5h0m2.1 80.3h0m4.1 .9h0m4-3.4h0m-1-1h0m3.5-74h0m-3.5-2.5h0m5.2-3.3h0m2.6 2h0m-.4 80.3h0m7.9-73.8h0m2.3-.2h0m-1.5 2h0m3.6 2.8h0m-.9 53.9h0m-.1 .1h0m1 8h0m5.5-7h0m-1.9-.8h0m3.9-3.8h0m-4.1-.4h0m2.2-6h0m-.1-41.5h0m3.8 .3h0m3.4 4.2h0m-1.4 .7h0m-1.4 2.3h0m.5 3.1h0m2.6 1.7h0m-3.9 10.7h0m2.5 17.8h0m1.8 3.9h0" stroke="#a77d65" stroke-width="2.40" stroke-linecap="round" fill="none"/><path d="M43.8 61.4h0m1.8-15.5h0m0-3.1h0m1.3-.7h0m-4.2-1.1h0m2-.9h0m8.5-15.3h0m-4.9 33.2h0m3.2 4.9h0m.3 .3h0m-3.1 8.5h0m4 2.7h0m2.1 .5h0m.3-3.8h0m1.7-1.1h0m-2.5-7.6h0m-.1-4.9h0m2.9-1.1h0m-.6-14.5h0m-.7-5.6h0m3.4-4.3h0m0-7.3h0m2.1-5.6h0m-.5 7.5h0m3.7 3.5h0m-.1 1.4h0m-2 3h0m3.1 4.2h0m-3.7 1.6h0m2.1 7.3h0m-.2 31.4h0m6.4 6.1h0m-1.3-6.7h0m.9-2.5h0m-2.7-8.8h0m-.1-.7h0m1.9-19.3h0m.8-10.8h0m-1.8-8.9h0m3.2-4h0m-4.2-6.5h0m6.2 7.7h0m2.2 .1h0m-2.1 31.8h0m2.4 2.4h0m-3.4 5.8h0m1.7 .6h0m5.5-8.8h0m2-8h0m5.7-34h0m2.6 24.3h0m-3.9 22.2h0m3.2 7.3h0m-3.8 7.8h0m2 10.9h0m7 1.6h0m-4.1-15.4h0m5.6-11h0m-3.1-37.1h0m.1-10.5h0m4.9 33.9h0m-.6 9.8h0m4.7 2.7h0m-.1 3.4h0m-4.7 3.8h0m4.6 3.8h0m-.1 8h0m-1.5 7.9h0m1.7 .1h0m4.1-9.3h0m-3-15.6h0m2.3-4.2h0m-2.7-1.9h0m3.5-3.4h0m-3.3-.6h0m1.9-.4h0m1.9-4h0m.8-1h0m-1.4-10.2h0m1-10.5h0m.3-1.8h0m.6-9h0m6.1 13.7h0m-1.9 8.7h0m2.1 4.1h0m-3.9 2h0m-1.2 2.5h0m.8 15.8h0m-.1 7.1h0m2.4 11.3h0m.5 .9h0m3.2-5.3h0m-1.4-.8h0m5.6-7.4h0m-.3-6.9h0m-.5-18.9h0m-3-3.6h0m10-8h0m-4.6 .6h0m1.8 28.8h0m-1 16.5h0m1.1 3.6h0m4-1.4h0m2.6-2h0m-1.9-1.5h0m4-1.8h0m-.7-14.2h0m-1-4.2h0m-.5-3.9h0m-2.4-11.5h0m.5-8.2h0m.7-.7h0m1.9 0h0m5.7 2.3h0m1.3 7.2h0m-2.1 18.9h0m.2 6.6h0m3.7 3h0m2.2-17.6h0m-2.3-13.4h0" stroke="#a77d65" stroke-width="1.40" stroke-linecap="round" fill="none"/><rect x="21.3" y="0.4" width="137.0" height="102.9" fill="none" stroke="#747474" stroke-width="0.55"/><path d="M37.2 103.3v1.2M64.4 103.3v1.2M91.6 103.3v1.2M118.6 103.3v1.2M145.6 103.3v1.2M21.3 10.8h-1.2M21.3 31.2h-1.2M21.3 51.6h-1.2M21.3 72.1h-1.2M21.3 92.5h-1.2" stroke="#555" stroke-width="0.4" fill="none"/><g font-family="'Liberation Serif','Times New Roman',serif" font-size="4.9" fill="#000" font-weight="normal" stroke="#000" stroke-width="0.12"><text x="37.2" y="108.8" text-anchor="middle">−40</text><text x="64.4" y="108.8" text-anchor="middle">−20</text><text x="91.6" y="108.8" text-anchor="middle">0</text><text x="118.6" y="108.8" text-anchor="middle">20</text><text x="145.6" y="108.8" text-anchor="middle">40</text><text x="19.4" y="12.4" text-anchor="end">40</text><text x="19.4" y="32.8" text-anchor="end">20</text><text x="19.4" y="53.2" text-anchor="end">0</text><text x="19.4" y="73.7" text-anchor="end">−20</text><text x="19.4" y="94.1" text-anchor="end">−40</text></g><text x="92.8" y="118.6" text-anchor="middle" font-family="'Liberation Serif','Times New Roman',serif" font-size="12.2" fill="#111">Autoformer</text><rect x="178.5" y="0.4" width="136.1" height="101.2" fill="#fff"/><path d="M196.2 0.4V101.6M221.6 0.4V101.6M247.1 0.4V101.6M272.5 0.4V101.6M298.0 0.4V101.6M178.5 12.2H314.6M178.5 31.8H314.6M178.5 51.4H314.6M178.5 71.0H314.6M178.5 90.5H314.6" stroke="#c9c9c9" stroke-width="0.45" stroke-dasharray="0.7 0.35" fill="none"/><path d="M295.3 50.6L295.1 46.5L294.4 43.1L293.4 40.0L292.0 37.1L290.2 34.2L287.9 31.5L285.1 29.0L281.9 26.5L278.2 24.3L274.1 22.4L267.1 20.0L261.9 18.9L256.4 18.1L246.7 17.6L237.0 18.1L231.5 18.9L226.3 20.0L219.3 22.4L215.2 24.3L211.5 26.5L208.3 29.0L205.5 31.5L203.2 34.2L201.4 37.1L200.0 40.0L199.0 43.1L198.3 46.5L198.1 50.6L198.3 54.7L199.0 58.1L200.0 61.2L201.4 64.1L203.2 67.0L205.5 69.7L208.3 72.2L211.5 74.7L215.2 76.9L219.3 78.8L226.3 81.2L231.5 82.3L237.0 83.1L246.7 83.6L256.4 83.1L261.9 82.3L267.1 81.2L274.1 78.8L278.2 76.9L281.9 74.7L285.1 72.2L287.9 69.7L290.2 67.0L292.0 64.1L293.4 61.2L294.4 58.1L295.1 54.7Z" fill="#069bb9" fill-rule="evenodd"/><path d="M184.6 44.4h0m5.4 20h0m-.4-.6h0m.8-3.7h0m1.4-.2h0m-1.5-1.2h0m.1-1.5h0m.7-.6h0m.6-.5h0m-.9-.1h0m-3.1-.1h0m-1.6-.1h0m5.6-.6h0m-3.6-1.1h0m1.9-.4h0m-1.7-.3h0m1.1 0h0m-3.1 0h0m5-.3h0m-.3-.1h0m.5-.7h0m-3.2 0h0m.6-.4h0m-2.3 0h0m5.4-.4h0m-.7-2.6h0m.3-.4h0m-4.7-.9h0m2.1-1.1h0m1.5-.9h0m-.5-.7h0m-3.2-1h0m4.3-.2h0m-3.4-1.9h0m2.7-.1h0m-.8-.2h0m.4-.5h0m1.9-.1h0m-4.9-.2h0m4.2-.6h0m-4.9-1.7h0m5.1 0h0m-3-.2h0m-.6-2.1h0m3.5-.5h0m0-1.3h0m-1.7-6.2h0m5.2-3.3h0m-.3 1.2h0m-.3 1h0m2 0h0m-.3 .2h0m1 .2h0m-.8 .3h0m.8 .6h0m1 0h0m-1.1 .7h0m-3.5 .4h0m-.9 1.7h0m5.6 .2h0m-2.5 .7h0m-1.6 1.3h0m.1 0h0m1.4 .7h0m.5 0h0m0 .1h0m2 .8h0m-2.6 .1h0m-.1 .6h0m1.6 .3h0m.6 .1h0m-1 .2h0m1.5 0h0m-1.9 .3h0m-1.8 .3h0m1.4 0h0m2.3 1.4h0m-2.2 .3h0m-1.5 .5h0m-.5 .3h0m2.7 .1h0m1.2 .2h0m-4.3 .5h0m4.3 .1h0m-3.2 .2h0m-.4 1h0m1 .2h0m1.4 .3h0m.7 .2h0m-3.8 0h0m-.4 .5h0m3.8 0h0m.5 .1h0m-1.3 0h0m1.7 0h0m-4.4 .4h0m-.1 .2h0m3 .3h0m.6 .4h0m-1.8 .3h0m-2.3 .1h0m4.2 .4h0m-3.6 0h0m.2 .5h0m3 .1h0m-2.7 .1h0m-.5 .1h0m2.8 .2h0m-.9 .1h0m-1.8 .1h0m4.6 .1h0m-1.5 0h0m-2.5 .3h0m1.2 .9h0m-.1 .1h0m2.1 .3h0m-2.8 .2h0m3.3 .2h0m-1.5 0h0m1.9 .1h0m-3.7 0h0m-.9 .3h0m3.9 .2h0m-2.4 0h0m2.4 .1h0m.5 0h0m-2.7 0h0m0 .2h0m2.9 .1h0m-1.5 .2h0m-.1 .1h0m-1.4 .5h0m-2.4 .4h0m-.3 .1h0m3.1 .1h0m.8 0h0m-2.5 .5h0m1.4 .5h0m2.3 0h0m-.5 0h0m-.4 .1h0m-1.5 0h0m-1.5 .5h0m.3 0h0m3.6 .2h0m-2.2 .1h0m-2.4 .1h0m-.1 .2h0m2.9 .1h0m1.6 .1h0m-3.4 .1h0m3.6 .1h0m-.7 .2h0m-3.1 0h0m-1.3 .2h0m3.5 .1h0m.1 .2h0m-3.5 .3h0m2.1 .2h0m2.7 0h0m-4.4 .1h0m1.9 .7h0m-.8 .4h0m-.2 .1h0m3 .4h0m.1 .4h0m-.3 .1h0m-3.3 0h0m2 .2h0m2.6 .4h0m-.4 .2h0m-1.9 .1h0m2.3 .1h0m-2.5 .2h0m-1 .4h0m2.9 .6h0m-4.3 .1h0m3.7 .9h0m.9 0h0m-4.7 0h0m3.7 .2h0m-4.1 .1h0m2.5 .1h0m3 0h0m-1.2 0h0m-2.8 .2h0m3.1 .2h0m-.6 .4h0m-2.8 .7h0m3.9 .2h0m-2 .3h0m-.4 .1h0m2.5 .1h0m-5.1 .4h0m.1 .2h0m.5 .3h0m3.6 .3h0m-2.9 .7h0m1.1 .6h0m-2.6 .4h0m4.2 .5h0m-.6 .4h0m-1.4 .2h0m3.1 .1h0m.4 .1h0m-.7 0h0m.3 .3h0m-3.2 .3h0m1.7 .1h0m-1.7 .3h0m1.9 .1h0m1.7 .1h0m-.9 .5h0m-1.7 1.3h0m1.8 .3h0m-2.4 .7h0m.1 .4h0m2.7 .1h0m-1.5 .8h0m.6 0h0m1.1 .2h0m-.5 1.1h0m-2 .2h0m1.2 3.4h0m-3 .7h0m4.4 .8h0m4.5 3h0m-.8-.5h0m1.7 0h0m-3.4-1.5h0m3.2-.3h0m-4.2-1.1h0m3.6-.3h0m.9-.5h0m-5-.4h0m4.4-.1h0m-2.9-.8h0m-.1-.8h0m-1.2-.4h0m3.3-.2h0m1.7-.3h0m-1.5-.2h0m1-1.2h0m-.5-.6h0m1.2-.1h0m-1-.1h0m.6-.1h0m.5-.3h0m-3.2-.2h0m1.2-.9h0m.9-.8h0m.1-.7h0m-.6-.1h0m1.2-.3h0m-3-.7h0m.4-.2h0m.4 0h0m-.7-.3h0m2.2-.4h0m-3.1-.1h0m4.2-.1h0m-1.1-.3h0m-3.6-.1h0m2.3-.5h0m-1.6 0h0m1.2 0h0m.1-.1h0m1.2 0h0m-3.2-.7h0m4.3 0h0m-.7-.4h0m-.3-.1h0m-2.1 0h0m1.2-.3h0m-.5-.3h0m.7-.1h0m-.4-.1h0m-2.9-.3h0m1.3-.5h0m.3-.2h0m-2-.7h0m2.7-.2h0m-1-.1h0m1.6-.7h0m-2.5-.1h0m-.4-.1h0m3 0h0m-1.2-.4h0m-.3-.1h0m-1.3 0h0m.7-.9h0m-.4-.3h0m-.2 0h0m.7-.3h0m-.5-.6h0m.9-.2h0m-1.1 0h0m-.1-.3h0m0-1.9h0m-.4-.5h0m1-.8h0m-.4-.2h0m.4-.4h0m-.8-.6h0m.5-.4h0m-.8-.3h0m1.1-.1h0m-.1-.3h0m-.6-.3h0m.5-.7h0m-.5-.3h0m.5-.4h0m.1-1h0m0-.1h0m-.4-2h0m0-.3h0m.2-.3h0m-.5-1.1h0m.3-.9h0m.4-.4h0m-.1-.3h0m.5-.2h0m.3-.6h0m-.9 0h0m0-.7h0m1.7-.2h0m-1.4-.1h0m.9-.4h0m-1-.2h0m.8-.2h0m-1.8 0h0m.4-.2h0m.4-.6h0m2.1 0h0m-.7-.1h0m1.2-.1h0m-.4-.5h0m-1.1-.1h0m-.6-.1h0m.6-.1h0m-1.8-.3h0m2.2-.1h0m.3-.3h0m.4-.2h0m.7-.1h0m-2.2-.7h0m1.8-1h0m-2 0h0m1.3-.1h0m1.7-.4h0m-2.4 0h0m.8-.1h0m.9-.3h0m-2.9-.3h0m4.9-.1h0m-.2-.1h0m-2.9-.4h0m2.3-.1h0m-3.7-.2h0m.3 0h0m2.9-.2h0m1.4-.2h0m-.9-.1h0m-.4-.2h0m-2-.9h0m-1.3-.1h0m3.2-.4h0m-1-.1h0m-2.6-.1h0m-.1-.2h0m4.4-.6h0m-2.9-.2h0m.4-.3h0m-1.4-.6h0m2.5-.8h0m1.4-.3h0m-3.8-.4h0m1.5-.4h0m2 0h0m1.1-.4h0m-2.5-1h0m.4-.5h0m1.8-.9h0m-5.3-.1h0m2.7-.9h0m2.6-.2h0m-1.9-.2h0m.7-.3h0m-1.1-.1h0m-.6-.8h0m2.5-.3h0m-3.3-.3h0m2.7-2.6h0m-2.3-.1h0m7.4-7.8h0m1.5 .8h0m-3.1 2h0m2.4 2.3h0m-.9 .2h0m-.4 0h0m1.7 .9h0m-2.8 0h0m-.8 .9h0m3.8 .6h0m-5 .2h0m5.2 .1h0m-4.5 .2h0m4.5 .5h0m-.8 .3h0m-4.4 .4h0m2.6 .4h0m2.7 0h0m-1 .4h0m1.2 0h0m-3.4 0h0m2.6 .2h0m-2.6 .1h0m3.2 .2h0m-1.4 .1h0m-3.9 .5h0m3.5 .2h0m-2.2 .3h0m1.4 .4h0m0 0h0m1.7 0h0m-4 .3h0m2.3 .2h0m-1.9 .5h0m4.6 0h0m-2.1 .9h0m-3.1 0h0m-.1 .1h0m4.7 .1h0m.2 .2h0m.2 .2h0m-.6 0h0m1 .1h0m-2.1 .3h0m-2.7 .1h0m.4 0h0m-.6 0h0m3.6 .4h0m-1.3 .2h0m1.3 0h0m.2 0h0m1.4 .1h0m-5.6 .3h0m3.6 .1h0m-3.9 .1h0m4.9 0h0m-4.8 .2h0m1.6 .1h0m1.1 .4h0m1.1 0h0m-3.9 .2h0m5.3 .3h0m-4.9 .2h0m.7 .5h0m1.9 .4h0m-2 .1h0m1.2 .5h0m-.2 .1h0m.7 .4h0m-2.7 0h0m2.1 .5h0m-.2 .3h0m-1.1 .3h0m-.9 35.8h0m1.1 .7h0m-.3 .9h0m.5 .2h0m.4 .1h0m-.9 .1h0m3.5 .4h0m.4 .1h0m-2.3 .1h0m2.1 .1h0m-4.5 .1h0m4.2 0h0m-2.2 0h0m-1.5 .2h0m2.1 .1h0m-1.3 .5h0m4 0h0m.6 .1h0m-2.5 .1h0m-.9 .2h0m-1.8 0h0m5.1 .1h0m-1 .1h0m-3.6 .1h0m2.6 .4h0m-2.4 0h0m2.8 .1h0m.4 .3h0m.2 .3h0m-4.3 .2h0m4.1 .1h0m-1.5 0h0m-3.1 .1h0m2.8 .3h0m3.1 .2h0m-3.3 .7h0m2.2 0h0m.3 0h0m-2 .2h0m1 .1h0m-1.7 0h0m1.8 .2h0m1.2 .1h0m-3.5 0h0m2 .3h0m.6 .2h0m-1 0h0m-1.8 .4h0m0 0h0m3.7 0h0m-3.5 .3h0m.2 .1h0m.5 .3h0m-.1 .2h0m2.7 .1h0m-2.3 .4h0m1.6 .5h0m.6 0h0m-3.5 .6h0m2.1 .4h0m-.6 0h0m1.3 .4h0m-3.1 .7h0m.6 0h0m-1.2 .4h0m2.6 1.1h0m1.2 .4h0m1.4 .8h0m-3 .1h0m-2.2 1.1h0m2.7 .8h0m-1 .5h0m9.4 4h0m-3.5-3.9h0m1-.3h0m-.6-.4h0m.7-.1h0m.5-.2h0m-.9-.4h0m-.6-.2h0m2.3 0h0m.2-.3h0m-1.6-.4h0m.1-.4h0m-.6-.2h0m2.9-.2h0m-5.7-.6h0m2.8-.1h0m-.1-.9h0m2.9-.1h0m-1.8-.2h0m.5 0h0m1.2-.1h0m-2.2-.1h0m2.1-.4h0m-1.1-.5h0m1-.7h0m-3.2 0h0m-.4-.1h0m2.8-.2h0m-1.4-.1h0m2.2-.2h0m-2.9-.3h0m1.6-.1h0m.6-.1h0m-1.3-.4h0m2.6-.3h0m-1.6-.1h0m-3.4 0h0m4.7 0h0m-1.7-.1h0m1.4-.1h0m-4.2-.2h0m.7 0h0m.7-.1h0m1.1 0h0m2.1-.1h0m-.3 0h0m-2.4 0h0m-1.6 0h0m2.9 0h0m1.1-.1h0m-.7-.2h0m-4.3-.2h0m4.5-.2h0m-1.9-.3h0m.1-.2h0m2.7-.2h0m-4.3-.2h0m.8-.2h0m-1-.4h0m-.4-.1h0m1.8-.4h0m.8-.4h0m-.5 0h0m-1.7-.1h0m-.1-.3h0m1.6 0h0m-2.5-.8h0m.4-.2h0m.2-.3h0m0 0h0m-.9-44.7h0m2.2-.4h0m.1-.7h0m0-.2h0m-.5-.3h0m1.4 0h0m1.1-.1h0m-.8 0h0m-2.4-.1h0m4.2-.1h0m-.6-.4h0m-1.5-.2h0m-1.1-.1h0m3.3-.1h0m-.9-.1h0m-2.4-.1h0m-1.5-.6h0m3.3-.2h0m-1.1-.2h0m-.4-.3h0m-1.3 0h0m-.9-.1h0m2.8-.3h0m1.9-.4h0m-.8-.1h0m-1.4-.2h0m.9 0h0m.2-.2h0m-3.2-.1h0m2.3-.1h0m-1.1-.2h0m2.5-.3h0m.3 0h0m-1.9-.2h0m2.3 0h0m-.6-.1h0m-.7-.2h0m1.6-.1h0m-2.5-.1h0m1.1-.4h0m.4-1.4h0m-1.1-.1h0m-.3-.5h0m0-.1h0m-1.7-.3h0m-.2-.2h0m4.5-.7h0m-2.7-.2h0m-1.8-1.5h0m3.2-.6h0m1.6-.4h0m.1-.2h0m-.4-1.5h0m-3.5-1h0m2.5-.4h0m4.9 1.2h0m.9 0h0m-2.4 .1h0m1.9 1.5h0m-2.1 .1h0m-1.1 .1h0m1.9 .7h0m-1.6 .6h0m2.2 .2h0m.9 .3h0m-3.7 .1h0m5.1 .2h0m-4.8 .3h0m3 0h0m-.8 .3h0m2.9 .1h0m-5.1 .1h0m2.6 .1h0m2 .8h0m-3.9 .4h0m4.3 .4h0m-4.6 .4h0m-.1 0h0m.5 .4h0m3.9 .2h0m-4.4 .1h0m1.5 .5h0m-1.1 0h0m.5 .1h0m.7 .2h0m.8 .1h0m.9 0h0m-.4 .1h0m.1 0h0m-.8 .1h0m-2.4 .1h0m1.8 0h0m1.1 .2h0m1.3 .3h0m-3.2 .1h0m1.5 0h0m-1.8 .1h0m-1.2 .1h0m2.1 .2h0m2.3 .1h0m.5 .2h0m-2.5 .2h0m-1.8 .2h0m1.1 0h0m1.6 0h0m-1.9 .1h0m-.9 0h0m1.8 .3h0m-1.7 .3h0m2.2 .2h0m-1.6 0h0m2.1 53.6h0m1.7 .3h0m-1.2 .3h0m-1.9 .3h0m.8 .1h0m-1.4 .2h0m.4 .4h0m2.4 .7h0m-3.4 .1h0m4.8 .2h0m-1.8 0h0m-3.7 0h0m.8 .1h0m2.6 0h0m2 0h0m-2.6 .1h0m-1.8 .1h0m4.8 .4h0m-1.4 .3h0m-1.8 0h0m3.1 .3h0m-1.3 .4h0m-1.1 .2h0m.9 .1h0m.7 1h0m-3.4 .3h0m3.3 0h0m-.9 .4h0m.2 .3h0m-1.1 .4h0m.4 .3h0m-1.6 .4h0m-.5 .6h0m2.3 .4h0m-2.9 .3h0m3.7 .5h0m-4.1 .5h0m2.7 .4h0m2.5 .1h0m-.9 .4h0m-.5 .9h0m7.4 3.2h0m-3.1-1.9h0m-1.3-1h0m-1.2-.5h0m5.4-1.1h0m-4.9-.4h0m3-.4h0m1.8 0h0m-1.4-.2h0m-.7-.4h0m2-.2h0m-.7 0h0m-2.9-.2h0m.3-.2h0m2.3-.4h0m-4.1-.1h0m.6 0h0m-.3-.5h0m.8 0h0m4.6-.2h0m-3-.2h0m-2.5-.3h0m.3-.3h0m1-.2h0m-.8 0h0m2-.2h0m-2.3 0h0m5.4-.1h0m-3.1-.2h0m-.9 0h0m1.2-.7h0m-.3 0h0m.3-.1h0m-.4-.3h0m-1.3-.1h0m1.3-.4h0m-.7-.3h0m1.7-.1h0m-2.7-.5h0m2 0h0m.3-.1h0m-.2-.2h0m-1.1-.2h0m1.9 0h0m-3.1-.2h0m-.1-.2h0m1.9-.3h0m-.3-.1h0m-.3-.2h0m-.9-.1h0m-1.1-56.8h0m1.2-.3h0m.3-.5h0m1.9-.1h0m.6-.3h0m-1.2 0h0m-1.8 0h0m.9-.1h0m2.1 0h0m-.3-.4h0m.2 0h0m-3-.4h0m4.2-.1h0m-3.4-.1h0m1.6 0h0m2.4-.1h0m-3.4-.1h0m-1.6-.1h0m3 0h0m1.4 0h0m-4.7-.1h0m4.8-.1h0m-4.1-.1h0m-.1-.2h0m3.1-.1h0m.2-.1h0m-3.4-.1h0m4 0h0m-3.9-.4h0m2.4 0h0m-2.3 0h0m-.6-.2h0m4.2 0h0m-1.3-.7h0m.1-.2h0m-2.6-.6h0m2.4-.3h0m-.4-.7h0m-2.6-.4h0m-.1-.1h0m4.7-.3h0m0-.1h0m.7-.1h0m-3.1-.1h0m.3 0h0m-2.7-.1h0m1.3-.3h0m-.7 0h0m4.9 0h0m-4.9-.7h0m5.1-.1h0m-.7-.1h0m-4.6-.3h0m4-.2h0m-3.9-.1h0m4.8-.4h0m-.5-.5h0m.4 0h0m-3.4-1.1h0m4-.9h0m1.1-4.5h0m1.6 3.3h0m-2.1 .3h0m3.8 .3h0m-2.2 .5h0m-1.8 1.7h0m5 .4h0m.3 0h0m-1.6 .5h0m-2 .1h0m-.1 0h0m-1 0h0m.9 .1h0m2.6 0h0m-2 .3h0m1.4 .2h0m-3.7 .3h0m.8 .8h0m4.8 .1h0m-3.8 .3h0m1.2 .4h0m-1 .2h0m-2.1 .1h0m1 .1h0m3.6 .5h0m-4.1 .3h0m4.2 0h0m-1.5 0h0m1.7 .7h0m-2.2 .5h0m1 .1h0m-1.3 0h0m2.5 .1h0m-1.8 0h0m1.5 .1h0m-2.9 0h0m2.8 .2h0m.6 .7h0m-4.9 .2h0m1.3 .1h0m.7 0h0m2.2 .1h0m-2.6 0h0m3.6 .3h0m-2.2 .1h0m-.7 .1h0m-1.2 .4h0m-1.2 .2h0m-.1 61.1h0m.4 .2h0m2.7 0h0m1.2 .1h0m1 .1h0m-3.3 0h0m-.8 .1h0m4.7 0h0m-2.4 .3h0m-.4 .1h0m1.2 0h0m-.2 .2h0m-3.2 0h0m-.3 .2h0m2.9 .3h0m-3.5 0h0m2 .3h0m.5 .1h0m.1 .1h0m-1.1 .1h0m.5 .5h0m3.7 .1h0m-2.3 .1h0m-1.6 .4h0m1.7 .4h0m2.2 0h0m-1.9 0h0m-1.9 .1h0m2 0h0m-3.2 .3h0m4 .2h0m-2.1 .1h0m1.9 .1h0m-.4 .7h0m-.8 .7h0m1 .3h0m.7 0h0m-2.6 .4h0m3 .4h0m-4.2 .9h0m.3 .6h0m-1 1.2h0m3.8 .2h0m.3 .1h0m-1.9 .4h0m2.8 1.6h0m-1.9 .5h0m-.7 .2h0m-1.8 1.2h0m5.8 1.4h0m.7 0h0m.3-3.3h0m2.3-.6h0m-3.9-1.3h0m3.3-.2h0m.5-.2h0m-3.8-.4h0m1.7-.1h0m2.8-.7h0m.3-1h0m-.5-.2h0m.9-.1h0m-.1 0h0m-3.4-.5h0m2.6-.1h0m-1.7-.7h0m-.3-.2h0m.8-.1h0m1-.5h0m.2 0h0m-3.2-.1h0m4.2-.2h0m-2.7 0h0m.1 0h0m2.5-.2h0m.4-.2h0m-4.8-.1h0m-.4-.3h0m3.8 0h0m-4.6-.9h0m1.5 0h0m-.6-.4h0m-.3-.4h0m3.4-.1h0m.5-.2h0m-.9-.3h0m-2-.1h0m3.6-.5h0m-.4 0h0m-1-.1h0m1.4 0h0m-4.7-.1h0m1.2-.1h0m-1-.6h0m1.7-62.5h0m-1.9-.1h0m-.2 0h0m-.3-.1h0m3.1 0h0m2.4-.2h0m-4.4-.1h0m1.5-.1h0m.4-.2h0m1.7 0h0m-.7-.5h0m-3.4-.1h0m1-.1h0m3.6-.4h0m-.3 0h0m.6-.1h0m-.2-.1h0m-2.6-.1h0m-1.6-.1h0m1.8-.1h0m1-.1h0m-.2-.3h0m-1 0h0m0-.1h0m2.7-.2h0m-3.5 0h0m-.7-.1h0m4-.3h0m-2.6-.2h0m1-.2h0m.3-.2h0m1.2-.3h0m-1.8-.2h0m-1.4-.1h0m3.3-.3h0m-3.3-.9h0m3.7-.1h0m-2.7-1.6h0m2.1-.2h0m-4.7-.9h0m5.1-.1h0m-1.6-.1h0m1.2-.2h0m.7 0h0m-.1-.2h0m-4.3-.2h0m3.5-.1h0m-3.2-1.1h0m1.2-.4h0m3.1-1.7h0m-1.1-.6h0m-1.1-1.8h0m7.1-.2h0m-4.4 3.1h0m4.4 .6h0m-4 .1h0m-.7 .1h0m1.8 .9h0m2.2 .8h0m-2.2 .4h0m3.1 .6h0m-1.7 .6h0m1.3 .4h0m.8 0h0m-2.1 .1h0m-2.1 .1h0m2.2 .1h0m-.9 .4h0m2.8 .1h0m-.8 .1h0m-.4 .9h0m.9 .6h0m-.2 .1h0m.9 .1h0m-2.9 .3h0m-2.1 .3h0m3.6 .4h0m-1.4 0h0m.5 .1h0m-2.2 .3h0m-.4 0h0m4.3 .3h0m-4.5 0h0m4.6 .5h0m-2.9 0h0m2.5 .1h0m-3.2 .1h0m.6 0h0m.9 .3h0m1.2 0h0m-2 0h0m3.4 .1h0m-3.9 .5h0m1.9 0h0m-.8 0h0m1.6 .1h0m-.4 0h0m-1.8 .3h0m1.7 .1h0m-3.4 0h0m2 .1h0m-1.3 0h0m-.3 .1h0m3.4 0h0m.8 .1h0m-2.4 .2h0m2.4 .2h0m.7 .1h0m-1.2 .1h0m-3.9 .2h0m2.8 63.6h0m-2.8 1h0m1.5 0h0m3.6 .3h0m-4.1 .1h0m1.9 .4h0m-2.2 0h0m4.2 .2h0m-5.1 0h0m.4 .4h0m.3 0h0m2.3 .1h0m1.2 .2h0m-3.2 .1h0m2.8 .2h0m-4.4 0h0m4.5 .3h0m1.1 .1h0m-4.8 .2h0m4.5 0h0m-3.7 0h0m.1 .6h0m3.3 0h0m-.7 0h0m0 .5h0m-3.7 .3h0m.7 0h0m0 .3h0m2.8 .1h0m-3.5 0h0m3.1 .8h0m-2.9 .2h0m-.2 .6h0m-.1 .8h0m4.8 2.3h0m-3.3 .8h0m-1.1 .1h0m.6 .3h0m3.3 .1h0m-1.6 1.1h0m2.1 .4h0m-4.4 .4h0m7.3-2.3h0m-2-.3h0m0-1.3h0m1-.1h0m-.6-1.4h0m2.9-1.3h0m-3.3 0h0m5.6-.1h0m-1.9-.5h0m-.3-.3h0m-3.2-.1h0m2-.3h0m.4-.1h0m.5 0h0m-1.7-.1h0m-1.3-.1h0m.1-.3h0m2-.4h0m1.2-.3h0m-1.3-.6h0m-1.7-.1h0m4.7-.2h0m.1-.1h0m-4.7-.4h0m3.2-.3h0m.3-.1h0m.3-.7h0m-.5-.3h0m-.2-.1h0m-2.4-.1h0m-1-.2h0m2.6-.1h0m-1.7-.3h0m-.6-.4h0m3.5 0h0m1-63.7h0m-4.2 0h0m3-.5h0m.6 0h0m-3.4 0h0m-.2-.3h0m.7-.5h0m-1.3 0h0m3.3-.1h0m1.5-.1h0m-4.1 0h0m-.4-.1h0m-.1-.3h0m4.7-.1h0m-4-.1h0m2-.1h0m1.7-.2h0m-3.7 0h0m4.1-.1h0m-1.6-.2h0m-1.6-.2h0m-.5 0h0m2.3-.3h0m-1.1-.1h0m1.3-.4h0m-2.5-.4h0m2.6 0h0m-1.7 0h0m-2.3-.1h0m.5-.1h0m2.6 0h0m0-.6h0m-3-.2h0m5.1-.4h0m-1.5-.3h0m1.9-.1h0m-.5-.6h0m-.9-.3h0m-3-1.1h0m4.3-.1h0m-.9-.4h0m-3.9-.4h0m-.4-.2h0m3.7-.5h0m-2.9-.1h0m2-5.3h0m5.7 1.8h0m2.8 .1h0m-3.4 2.1h0m2.6 1.5h0m-3.8 .3h0m3.9 .6h0m-1.7 .4h0m1 .1h0m-3.6 .2h0m1.2 .4h0m2 .6h0m-.5 .5h0m2 .1h0m-3 .8h0m.3 .2h0m-1.8 0h0m3.6 .1h0m-.6 .1h0m-3.1 .3h0m3.4 .2h0m-3.7 .2h0m4 .2h0m.1 .4h0m.4 .1h0m-2.1 .7h0m-.3 .5h0m-.3 0h0m-1.2 .5h0m4.5 .1h0m-2.9 .1h0m-.3 0h0m1.3 .2h0m-1.7 0h0m-1 .1h0m.1 .1h0m-1.3 0h0m4.7 .4h0m-3.9 0h0m.2 .1h0m4.6 0h0m-1.7 .4h0m-3.4 .1h0m4.5 .2h0m.4 0h0m.1 .4h0m.4 63.1h0m-1.2 .2h0m.2 0h0m.2 0h0m-3.5 .1h0m-.4 0h0m2.9 .4h0m-.3 0h0m-3 .1h0m4.9 .2h0m-2.2 .2h0m.2 0h0m.5 .1h0m-2.4 .9h0m-1.7 .1h0m1.7 0h0m3.1 .1h0m-3.4 .1h0m3.6 0h0m-.1 .1h0m-.1 0h0m-4.4 .2h0m.3 .1h0m2 0h0m1.2 .2h0m.8 .1h0m-.3 .2h0m-1.4 .3h0m2.8 .1h0m-1 .1h0m.6 .1h0m-5 .1h0m0 .3h0m5.2 .2h0m-.3 .4h0m-5.3 .1h0m.2 0h0m2.2 .2h0m.3 .3h0m2.4 .3h0m-1.8 0h0m-.7 .1h0m.7 .2h0m-2.3 .1h0m.9 0h0m.3 .5h0m2 .8h0m-2.7 .4h0m2.8 .5h0m.3 .9h0m-1.2 .2h0m-2.2 .1h0m4.5 .6h0m-4.5 .7h0m-.3 .1h0m.6 .4h0m8 1.8h0m-.8-3.8h0m-2.1-.1h0m4.4-.3h0m-1.3-.3h0m-1.2-.2h0m.2-.4h0m2.8-.2h0m-3.9-.7h0m2.4-.2h0m0-.3h0m-1.7-.1h0m.2-.3h0m1-.1h0m-1.9 0h0m-1.6-.3h0m5.8-.3h0m-2.8-.1h0m.2-.1h0m1.1 0h0m-1.4-.9h0m.3-.1h0m0-.2h0m-.5-.3h0m.8-.4h0m-1.3-.1h0m-.8 0h0m-.5 0h0m0-.3h0m4.4-.3h0m-1.2-.6h0m-1.3-.2h0m-1-.3h0m-1.2-.2h0m4.8-.2h0m-.9-.1h0m-.7-.5h0m-1.5-.3h0m-.6 0h0m1.4 0h0m2.5 0h0m-3.7-.1h0m2.7 0h0m1.2 0h0m-3.6-.1h0m-.8 0h0m-.9-.2h0m5.2-.3h0m-1.5-.1h0m-2.2 0h0m.9 0h0m2.6-61.8h0m-1.9-.2h0m-.5 0h0m.5-.3h0m-1.6-.1h0m-.3-.1h0m-.4-.1h0m2.6 0h0m-3.7-.3h0m1 0h0m1-.2h0m-1.1-.1h0m.8 0h0m.3-.1h0m.5-.1h0m-.5-.1h0m-.7-.1h0m-1.2-.3h0m2.3-.1h0m.8-.5h0m-1.6-.2h0m-.9-.1h0m4.9-.4h0m-5.1 0h0m1.2 0h0m3.7-.2h0m0-.5h0m-5.5-.1h0m.2-.1h0m2.7-.8h0m.7-.3h0m1-.3h0m-1.5-.1h0m2-.4h0m-.3-.2h0m-.6 0h0m1.3-.2h0m-4.4 0h0m.2 0h0m3.3-.4h0m-2.2-.3h0m-2.5-.3h0m2.9-.1h0m1.1-.2h0m-2.7-.1h0m1.7 0h0m0-.9h0m-2.1-.1h0m1.3-.9h0m.1-.6h0m1.2-.2h0m1.1-.2h0m-1.7-1.8h0m-2.5-1.3h0m3.7-.9h0m2.8 2.3h0m-.2 .1h0m1.1 1.8h0m2.6 1.4h0m-3.2 .7h0m3.9 .2h0m-1.1 .1h0m-1 .3h0m-2.8 .1h0m4.6 .3h0m-3 .3h0m.3 .8h0m3.5 .8h0m-5.3 .5h0m2.8 .3h0m.8 .2h0m2 .2h0m-3.9 .1h0m2.2 1h0m-4.2 .8h0m5 .1h0m-2.1 .1h0m-2.2 .1h0m0 .3h0m2.9 0h0m1.8 .2h0m-2.7 .2h0m1.9 .1h0m.7 .1h0m-2.5 .1h0m1 1.1h0m1.5 0h0m.1 .3h0m-4.1 .1h0m-.1 0h0m-.5 .2h0m2.5 .4h0m-1.1 .2h0m3.2 .2h0m-1.1 .2h0m1.2 .1h0m.5 .3h0m-.7 57.4h0m-.3 .8h0m.3 .2h0m-2.3 .6h0m-.5 .2h0m-1.7 .1h0m3.5 .1h0m.4 0h0m-4.5 0h0m2.5 .2h0m-1.9 .1h0m0 0h0m2.9 .3h0m-1.6 0h0m.5 .1h0m1.2 .1h0m-1.4 .2h0m2.5 .1h0m-4.7 0h0m4.5 .1h0m-.4 .1h0m-2 .2h0m2.6 .5h0m-1.4 0h0m2.3 .1h0m-2.2 .3h0m-1.2 .2h0m3.5 .4h0m-2.9 .2h0m3 .4h0m-3.6 .2h0m0 .3h0m.2 1.4h0m-.3 .4h0m.4 .1h0m1.2 .2h0m-2.5 .3h0m.4 .3h0m.5 .9h0m-.8 .1h0m2.1 .5h0m-1.3 1.4h0m.4 1.3h0m3.1 .3h0m-5.7 .9h0m11.2 .7h0m-2.1-2.4h0m1.2-3.1h0m-2.3-.2h0m1.5-1h0m-2.7-1h0m-.5-.7h0m5.2-.5h0m-4.3-.1h0m-.4 0h0m3.4 0h0m1.3-.1h0m-.9 0h0m-3-.5h0m3.4-.6h0m-4.2 0h0m-.1-.1h0m.6-.3h0m-.9-.3h0m2-.3h0m1.9-.1h0m-.9-.8h0m-1.4-.1h0m-1.3-.1h0m2.6-.1h0m-3 0h0m.1-.3h0m1.9-.2h0m1.1-.1h0m2.4-.1h0m-4.6 0h0m2.1-.2h0m-2.3-.6h0m4.7 0h0m-5.1-.1h0m2.9-.1h0m-.3-.3h0m1-.1h0m-2.4 0h0m-.7-.1h0m3 0h0m1.7-.4h0m-4.9-.2h0m-.6 0h0m5.2-.2h0m-1.6-.3h0m-.7-.1h0m-.9 0h0m2.2-.1h0m.5-.1h0m-1.1 0h0m1.9-.1h0m-.6 0h0m-1.3-.4h0m0-.2h0m.9-.3h0m.5-.2h0m.3-52.5h0m-1.1-.2h0m-.1-.9h0m-.8-.4h0m-.6-.1h0m1.6 0h0m-3.5-.1h0m1.6-.1h0m.9-.1h0m-2.4-.2h0m4.6-.2h0m-1.9 0h0m.8-.1h0m-1-.1h0m-2.3 0h0m3.2-.1h0m-3.9-.1h0m4.8-.3h0m-4.1-.7h0m4.2-.2h0m-2.1 0h0m-.4-.1h0m-1-.2h0m.6-.1h0m-2.4-.8h0m0-.1h0m3.3 0h0m0-.1h0m.6-.1h0m-1.9 0h0m2.2-.1h0m-.8-.1h0m1.8-.4h0m-5.2-.5h0m-.4-.9h0m5-.1h0m-3.7-.1h0m2-.1h0m2.5-.1h0m-.7-.2h0m.7-.3h0m-4.2-.1h0m1-1.1h0m.5-.2h0m1.3-.1h0m-4-.2h0m1.2-.1h0m-1.4-.1h0m5.5-.2h0m-4.8-.1h0m3.4-.5h0m-1.4-.4h0m-1.9 0h0m.7-.1h0m-.2-.4h0m3.7-.6h0m-3-1.2h0m-2.1-3.1h0m8.2 4.7h0m.8 2h0m-.9 .6h0m-1.2 .5h0m1.4 .7h0m-.5 .4h0m1.7 .1h0m.7 .2h0m1.1 .5h0m-4.1 .3h0m1.7 .4h0m-1.4 1h0m3.7 0h0m-1.6 .1h0m-3.5 0h0m1.7 .6h0m-.7 .2h0m-.3 .7h0m1 .3h0m3.6 .3h0m-2.7 .5h0m1.6 .2h0m1.2 .1h0m-3.2 .1h0m-.7 .1h0m.4 .1h0m-.7 .2h0m.9 0h0m-2.1 .2h0m1.5 .1h0m1.8 .1h0m.1 .3h0m-1.6 .2h0m-1.2 0h0m2.8 .1h0m-1.5 .2h0m3 .6h0m-1.9 .5h0m2.4 0h0m-3.6 0h0m3.7 .2h0m-.5 .2h0m-4.3 .1h0m4.6 .1h0m-2.6 .2h0m.3 .5h0m1.2 .7h0m.8 .1h0m-1.3 .1h0m1.7 .4h0m.1 .2h0m-.1 45.6h0m-.8 .4h0m-1.2 1h0m1.5 .2h0m-2.1 .1h0m-1.1 1.1h0m-.2 .1h0m1.8 .1h0m-2.7 .1h0m.7 .4h0m-1.3 .1h0m5.1 .2h0m-3.5 .1h0m2 0h0m-1.2 .4h0m-.2 0h0m-1.9 0h0m2.3 .4h0m-.1 .2h0m-.3 .1h0m-.4 .1h0m-1.2 .1h0m-.4 .2h0m1 .4h0m2.5 0h0m-3.5 0h0m.7 .1h0m4.7 .3h0m-1 .1h0m-.6 .3h0m1.1 0h0m-4.1 .1h0m4.5 .3h0m-2.4 .1h0m1.6 .1h0m-1.4 .3h0m-3 .2h0m1.6 .2h0m-1 .3h0m-.9 .2h0m.1 .2h0m.7 .3h0m.4 .4h0m3.9 .2h0m-3.8 .6h0m-1.5 .1h0m4.7 .4h0m-3.2 .2h0m.3 0h0m-.9 .2h0m3.1 1.4h0m-2.9 .1h0m3 .2h0m-1.3 1.1h0m2.3 .1h0m-3.8 1.5h0m1.2 1.5h0m3.5-1h0m1.2-1.8h0m1.5-.2h0m1.9-1.8h0m-1-.7h0m-1.9-1.3h0m2.4-1.6h0m-.1 0h0m-2.3-.2h0m-.3-.7h0m-.2 0h0m2.7-.5h0m-1.2-.2h0m.8-.1h0m.4-.3h0m.8-.1h0m-4-.1h0m2.6-.2h0m1.7-.1h0m.2-.9h0m-4.2-.5h0m-1-.3h0m4-.3h0m-3.4-.4h0m5.2-.1h0m-2.5-.3h0m.3-.3h0m.7-.1h0m-1.2-.3h0m1.4-.5h0m-1.3-.2h0m-2.5-.1h0m2.7-.1h0m2.5-.2h0m-2.7 0h0m-2.9-.2h0m1.8-.1h0m0-.3h0m2.1-.1h0m-1.8 0h0m3.2-.6h0m-1.4-.1h0m-1.9-.1h0m-1.3-.4h0m2.7-.2h0m-2.1 0h0m1.4-.1h0m.6-.1h0m-1.7 0h0m-.4-.3h0m.5-.3h0m1.4 0h0m.6-.3h0m-.8-.1h0m2.3-.3h0m-1.5-.2h0m-.2-.1h0m.9 0h0m.4-.5h0m.8-2.1h0m-1.4-36.4h0m1.4-.2h0m-2-.2h0m-.2-.1h0m-.9-.9h0m.1 0h0m-.2-.1h0m.2-.3h0m2-.1h0m-2.1-.3h0m1.5 0h0m-2.3-.3h0m1.2-.8h0m2.1-.8h0m.7-.1h0m-3.3 0h0m.2-.5h0m-2.1-.5h0m1.2 0h0m1-.2h0m-1.9 0h0m1.4 0h0m.1-.1h0m.4 0h0m-.9-.1h0m2.7 0h0m0-.3h0m-2.6-.5h0m1.6-.1h0m-2.4-.1h0m-.5 0h0m2.7-.1h0m-1.9 0h0m3-.1h0m-1.9-.5h0m-2.5-.1h0m.7-.1h0m-.7-.1h0m3.8 0h0m.4-.1h0m-.3-.1h0m-1.1-.3h0m.5 0h0m-2.5-.1h0m1.5-.5h0m-2.2-.2h0m.5-.8h0m3-.3h0m-3.3-.1h0m-.4-.3h0m.9-.2h0m1.4-.9h0m1.2-.2h0m-2.1-.7h0m.9-.2h0m.4-1h0m-.8-1.1h0m-1-.3h0m1-.2h0m2.4-.6h0m-3.6-.6h0m5.9 2.6h0m-.6 .7h0m3.1 .9h0m.7 1.2h0m-.7 .3h0m1.2 0h0m-4.3 .1h0m3.1 .3h0m-2.5 .7h0m0 1.8h0m5 1.4h0m-.7 .2h0m-4.1 .3h0m.4 .8h0m-1 .5h0m.5 .3h0m.5 .1h0m2.7 .4h0m-1 .3h0m-2.1 .5h0m.1 .1h0m.7 .2h0m4 .2h0m-4.4 .1h0m1.2 .3h0m.1 .4h0m-2 .7h0m2 .2h0m-.9 .7h0m-.4 .9h0m3.2 0h0m-3.4 .2h0m.4 .2h0m1.8 .7h0m-2.6 .2h0m-.2 0h0m1.6 .1h0m2.6 .9h0m-2.8 .1h0m3.6 0h0m-2.6 .1h0m-.4 .2h0m1.4 .1h0m.6 1.4h0m-.9 .6h0m1.2 .3h0m-.6 .2h0m1.6 .6h0m0 .2h0m-1.2 .2h0m-1.6 0h0m2.3 .3h0m-.7 .3h0m-.1 .4h0m1.3 .5h0m-1.2 .2h0m.1 .5h0m.3 .2h0m-.2 .1h0m.1 .4h0m-.2 .3h0m.5 .4h0m.5 .7h0m-.1 14.3h0m-.2 .2h0m.3 .3h0m-.6 .2h0m0 .3h0m.1 .8h0m.6 .8h0m-.9 .5h0m.9 .3h0m-.3 1.1h0m-.2 .2h0m-.3 1.9h0m-1.2 .6h0m-1.8 .1h0m-.4 .5h0m1.2 .2h0m-1.2 .1h0m.9 .1h0m-1.2 .5h0m1.9 .2h0m-1.5 0h0m.6 0h0m1.2 0h0m.2 .2h0m-2.1 .6h0m-.8 .1h0m1.6 .7h0m-.4 .1h0m-.6 .1h0m.7 .6h0m-1.7 1.2h0m1 .1h0m-.5 0h0m1.7 .1h0m1.4 0h0m-.7 .3h0m-2.9 0h0m2.5 1.1h0m-1.4 .1h0m.4 .2h0m-1 .2h0m1.8 .3h0m-.7 1.2h0m1 .3h0m-.8 .1h0m.2 0h0m1.1 .1h0m.9 0h0m-4 0h0m2 .2h0m1.7 1h0m-1.4 .2h0m.2 .5h0m-2 .2h0m1.6 .1h0m-1 .4h0m3.2 .2h0m-4.1 .3h0m4.1 .2h0m.2 .2h0m-1.6 .2h0m-.1 .1h0m-2.2 .5h0m1.8 .2h0m-1.6 .1h0m-.3 .7h0m2.8 .8h0m-2.7 .4h0m.3 .2h0m3.7 .9h0m.2 .9h0m1.2-.5h0m.9-1h0m1.6-1.5h0m2.1-3.5h0m-.1-1.9h0m-3.6-1h0m-.8-.1h0m1.2-.3h0m3.1-.1h0m-4.7-1.3h0m4.5-.9h0m-4.5-.1h0m.6-.2h0m2-.2h0m-2.3-.2h0m3.7 0h0m-1.2-.2h0m-1-.3h0m-.5-.3h0m1.6-.8h0m-.1 0h0m.3-.4h0m2.2-.8h0m-5-.4h0m-.4-.1h0m3.9-.4h0m-1.9-.9h0m1.3-.1h0m-1.6 0h0m-.2-.3h0m-.9-.9h0m.8-.3h0m1.9-.5h0m-1.6-.1h0m2.7-.2h0m-3.1 0h0m.1-.1h0m1 0h0m-2.3-.8h0m5.8-.2h0m-1.7-.1h0m-.3-.1h0m-3.5-.1h0m4.7-.1h0m-2.1-.6h0m-2.6-.1h0m.3 0h0m.6-.1h0m-1.2-.1h0m2.9-.1h0m-1.2-.2h0m.2-.1h0m.8-.2h0m2.1 0h0m-4.4-.1h0m2.5-.4h0m-2.2 0h0m1-.2h0m-1.7-.9h0m.1-.1h0m.7-.2h0m1.3-.2h0m-.4-.2h0m-.6-.1h0m2.8-.1h0m1.2-.3h0m-2 0h0m-.1 0h0m1.8 0h0m-.7-.1h0m.8-.1h0m-3.3-.1h0m-.4-.2h0m2.4-.5h0m-.6-.4h0m.1-.2h0m-2.1-.1h0m-.2-.5h0m1.5-.3h0m2.1-.2h0m-1.2-.4h0m-2.5-.1h0m.6-.3h0m1.5-.2h0m2.9 0h0m-2.3 0h0m-1.3-.1h0m-1.5 0h0m.3-.6h0m.1 0h0m-.5-.3h0m1.7-.2h0m1.8 0h0m-1.8-.4h0m-1.2-.2h0m4.6-.1h0m-5.5 0h0m3.4-.1h0m-2.1-.1h0m.4-.1h0m2.6-.2h0m-.9 0h0m-.6-.2h0m0-.5h0m-2.3-.1h0m3.5-.5h0m-2.2-.1h0m-.2-.1h0m-.5-.1h0m2.2-.1h0m-3.2-.2h0m2.3-.2h0m-1.9-.3h0m4.1-.3h0m-1.8-.2h0m-2.8-.1h0m1.5-.1h0m1.9-.1h0m-2.8-.1h0m3.2-.1h0m-3.7 0h0m2.3-.1h0m-2.4 0h0m4.6-.7h0m-3.7-.1h0m2 0h0m-2.6-.2h0m.6-.2h0m-.5-.2h0m1.8-.3h0m-1.3-.1h0m-.7-.1h0m.1-.7h0m2.9-.2h0m-2.8-.6h0m0 0h0m5.3-.1h0m-2-.3h0m-2-.5h0m-1.8 0h0m-.1-.1h0m2.2-.2h0m-1.7-.2h0m3.2 0h0m1.7-.1h0m-3.6-.2h0m3-.1h0m-1.5-.4h0m-2.9-.1h0m5-.8h0m-2.2-.2h0m.9-.1h0m-1.8-.5h0m-1.8-.4h0m2.6-.5h0m-1.4 0h0m-.2-.3h0m1.6-.1h0m1.3 0h0m-3-.5h0m1-.1h0m-1.5-.1h0m3.6-1.1h0m-4.4-.3h0m.8-.9h0m-.1-.1h0m.9-.4h0m.2-.2h0m3 0h0m-2.3-.1h0m-2.3-.1h0m.6 0h0m2.9-.6h0m-.5-.2h0m-3.2-.1h0m.9 0h0m1.6-.6h0m1.6-.9h0m-4-.2h0m1.2 0h0m-1-.3h0m.9-.2h0m.3 0h0m-.3-.4h0m2.5-.4h0m-1.5-.4h0m1.2-1h0m.3-.3h0m-1.5 0h0m2 0h0m-1.1-.2h0m.5-.1h0m-3.6-.2h0m3.2-.5h0m-.8-.1h0m.1-.1h0m-1.2-.9h0m3.4-.2h0m-3.9-.1h0m.3-.9h0m-.6-.5h0m.1-.7h0m2.8-1.9h0m-1.5-1.7h0m1.4-.3h0m4.8 9.1h0m1.9 4h0m-3.1 .1h0m-.9 .2h0m1.3 1.6h0m3.5 1.8h0m-4.9 .1h0m1.8 .8h0m.2 .6h0m-.3 .2h0m1.5 1.7h0m0 0h0m-2 .3h0m-.4 .6h0m3.8 .1h0m-3 1h0m2.8 .3h0m-3.5 .8h0m3.5 1h0m.8 .1h0m-5 .6h0m.6 .1h0m1.1 1.2h0m.7 .3h0m.1 .6h0m-.6 .3h0m2.5 0h0m-4.6 .1h0m4.8 .1h0m0 .1h0m-2.9 .5h0m2.2 .6h0m-4.1 .9h0m2.6 .1h0m.8 .6h0m1.2 .3h0m-.1 1.2h0m-3.5 .2h0m-.8 .2h0m1.6 1h0m-.5 .5h0m-1.2 .2h0m2.4 0h0m-.1 .2h0m.2 .3h0m-1.2 .2h0m4.2 .6h0m-5.6 .3h0m5 .5h0m-2.9 .2h0m.9 .3h0m-.6 .4h0m3.1 .6h0m-5.5 .5h0m1.2 .1h0m4 1h0m-4.2 .5h0m1.7 0h0m-1.1 .4h0m-.3 .2h0m-1 1.3h0m2.3 .5h0m-2.3 0h0m.6 .1h0m2.5 .3h0m-1.6 .3h0m-.3 .7h0m.7 1.2h0m-1 .5h0m-1 .2h0m1.2 .8h0m-1.3 .1h0m4.1 .3h0m2.5-6.3h0m.2 0h0m-.7-4.6h0m-.2-8.9h0m1.3 0h0m-.4-2.6h0" stroke="#069bb9" stroke-width="2.40" stroke-linecap="round" fill="none"/><path d="M202.3 46.5h0m-1.7-5.3h0m6.5-9.1h0m-.5 .6h0m-1 6.3h0m4.2 1.4h0m-2 7.5h0m-3.6 5.2h0m3.7 .7h0m-1.3 14.6h0m.1 1.8h0m7.5-2.3h0m1.1-3h0m-2.6-14.9h0m2.4-9.7h0m-1.8-2.9h0m4.9 27.3h0m0 1h0m8.7 13.3h0m-3.6-.7h0m-.5-21.7h0m1.1-3h0m3-8.5h0m-.7-7.9h0m.6-5.5h0m-4.3-4.5h0m8.2-4.6h0m1.9 3.1h0m-2.7 2.2h0m-.6 8.4h0m-.3 3.1h0m.5 21.9h0m-1.1 3.8h0m4.6 1.7h0m-1.9 2.3h0m2.9 1.3h0m5.1-.1h0m-2.5-7.6h0m-2.3-5.2h0m5.1-27.2h0m-5.3-1.4h0m5.9-6.5h0m-.6-.7h0m-5.3-3.1h0m11.3 4.8h0m-5.3 2.6h0m2.9 13.5h0m2.7 17.6h0m-2.2 3.9h0m2.4 1.2h0m-3.8 20.1h0m8.7-6.2h0m1-3.4h0m-.1-23.3h0m-.1-1.6h0m-3.4-4.4h0m.7-19.3h0m-2.7-6.4h0m10.4 .6h0m-1.1 1.9h0m-1.2 1.7h0m1.1 .5h0m.8 2.1h0m-1.2 12.6h0m.2 21.7h0m1.7 18.5h0m-3.3 1.9h0m8.6 1.1h0m-3.2-1.2h0m1.3 0h0m3-10.3h0m-1.1-.2h0m1-.3h0m0-32.6h0m-4.8-1.3h0m.7-.5h0m2.6-6h0m.6-1.4h0m5.2 2.5h0m2.2 2h0m-5.3 4h0m1.3 .1h0m3.9 4.1h0m.3 1.3h0m-2.5 7.8h0m-1 6.6h0m-2.4 1.8h0m3.6 9.8h0m-2.8 8h0m1.1 .1h0m-.4 2.5h0m5.1 .9h0m5.1-6h0m-.1-1.5h0m-5-4.6h0m.3-2.1h0m1-.4h0m-1.4-5.5h0m5.1-3h0m-2.6-24.6h0m.4-5.9h0m3.4 6h0m2.8 7h0m.6 .7h0m.3 21.5h0m-4.2 8.2h0m2.7 8.1h0m5.9-16.2h0m1.7-17.2h0m-1.7-4.7h0m7.1 3.3h0m0 3.4h0m.1 5.6h0m1.5 3.6h0" stroke="#ffffff" stroke-width="1.00" stroke-linecap="round" fill="none"/><path d="M184.4 45.9h0m3.3 7.6h0m.1-20.6h0m6.1 3h0m.6 2.3h0m-2.4 9.6h0m.5 .3h0m-.3 8.2h0m1.3 1.8h0m-1 5.7h0m2.6 11.4h0m-1 .2h0m2.4 2.4h0m6.8-2.7h0m-.3-47.8h0m-4.8-1.3h0m.9-7.6h0m6.4-2h0m-.3 7.5h0m.8 52.5h0m-2.1 4.7h0m5.8 1.2h0m2.8 .4h0m-1-62.3h0m1.5-5.2h0m3.4-1.4h0m4.5 3h0m-1.9 75.4h0m2.5 1.2h0m7.1-86h0m-.5 5.6h0m9.2 82.5h0m.8-3.8h0m.1 0h0m1.2-80.7h0m-1-.3h0m2.5-3.4h0m.7 3.6h0m1.6 79h0m-2.2 3.2h0m-1 1.6h0m6.7-4h0m3.2-84.5h0m-3-1.6h0m10.3 4h0m3.9 86.3h0m2.1-81.3h0m-3.8-8.6h0m9 7.2h0m0 82.8h0m2.4-7.8h0m4.1-70.5h0m-3.6-1.4h0m2.6-5.7h0m-2.9-1.5h0m9.1 6.4h0m.6 3.9h0m-2.7 65h0m5.2 1.9h0m-.8-4.3h0m4.9-1.1h0m-1.8-.8h0m.9-59.4h0m-1.5-.3h0m7.5 1.9h0m-1 53.8h0m-1.5 9.3h0m6.6-3.8h0m-.8-8.2h0m3.9-28.9h0m-3.6-12.3h0m-.6-4.1h0m.9-3.4h0m6.3 18.7h0m0 9.9h0m-.8 4.9h0m.2 4.3h0m1.9 2.1h0m3.6-6h0m-.8-2h0" stroke="#a77d65" stroke-width="2.40" stroke-linecap="round" fill="none"/><path d="M197.5 35.4h0m-3.1 9.1h0m1.7 4.9h0m-.1 9.5h0m.2 0h0m7.1 5.2h0m.1-10.5h0m-.3-13.9h0m-3.9-2.7h0m8.9-12.5h0m.5 3.5h0m-.7 5.7h0m1.7 15.5h0m-5 11.2h0m2 2h0m.6 .1h0m-3.1 6.5h0m2.2 1.2h0m1.2 4h0m1.3 .2h0m4 6.1h0m1.4-1.4h0m-2.3-8.1h0m-.7-7.3h0m3.9-11.5h0m.5-4.6h0m-.4-6.7h0m-3.8-4.4h0m4.9-12.5h0m2.1 7.1h0m-2 11.4h0m1.1 12.1h0m-.2 5.3h0m4.1 .2h0m.6 4h0m-3.9 .4h0m-1.6 5.8h0m-.1 .7h0m.5 .8h0m11 6h0m-.3-3.2h0m-3.7-10.3h0m.2-3.2h0m3.7-4.5h0m-3.8-26.7h0m1.3-6h0m-1.8-.1h0m-.8-2.9h0m10.8-5.6h0m-.8 1.3h0m-1 17.1h0m-.4 2.4h0m-2.2 20.2h0m-.6 11.5h0m3.4 7.3h0m-1.3 4.7h0m-1.2 5.2h0m9.3-5.7h0m-4.4-10.6h0m1.1-5.9h0m-.8-3.8h0m4.6-6.4h0m-.2-4.3h0m-4.8-5.2h0m4.4-16.3h0m1.2-9.8h0m-.6-.9h0m6.7-1h0m-2.7 2.8h0m.3 1h0m-1.4 .1h0m.4 2.2h0m-.4 5.8h0m2.6 5.8h0m-4 4.7h0m1.7 2.7h0m1.8 8.5h0m-2.7 2.9h0m.3 21.8h0m1.2 .4h0m-1.1 .3h0m2.7 1.6h0m-4.6 .7h0m.6 3.8h0m5 6h0m3.1-4.2h0m2.3-4.5h0m.6-1.2h0m-3.9-.9h0m3.5-.7h0m-2.9-4.6h0m-1.8-15.2h0m.9-.4h0m-.3-1.9h0m3.5-1.9h0m-4.2-12.9h0m1.3-8.6h0m2.2-2.7h0m1.2-1.5h0m-1-.2h0m1.2-2.3h0m1.5-7.5h0m3.4 23.2h0m.5 2.4h0m-2.5 9.2h0m-1.6 5.8h0m.7 6.6h0m4.5 6.2h0m-.5 3.8h0m-5.2 2.3h0m2.5 .8h0m.7 11.5h0m3.3-.4h0m-.1-6.5h0m2.9-.4h0m1.3-24.2h0m-4.4-19.1h0m4.8-3.3h0m-2.3-5.3h0m-.8-7.5h0m6.9 12.7h0m1.5 9.4h0m-1.1 6.4h0m-1.7 9.1h0m4.2 16.6h0m-4.8 5h0m9.3 3.3h0m-4.1-6.3h0m5.1-.8h0m-2-.6h0m1.8-2.7h0m-1.8-1.1h0m2.7-4.8h0m-.7-.2h0m-5.1-5.9h0m1.2-23.4h0m2.8-4.1h0m.9-8.6h0m5.1 4.7h0m-2.6 8.2h0m2.1 .3h0m.3 3.2h0m-.8 .5h0m-2.1 .5h0m4.4 2.2h0m-1.1 .7h0m-.5 .2h0m-.2 16.1h0m1.9 7.7h0m5.5 5.6h0m-2.9-.3h0m2.7-4.2h0m-3.7-6.9h0m-1-9.6h0m2-1.3h0m1.1-8h0m-3-9.2h0m.2-.1h0m4.8-1h0m-.4-.3h0m2.8 1.6h0m-1.5 10.1h0m.7 2.8h0m4.9 6h0m-.3 12h0m-4.9 2.4h0m1.1 .8h0m2.5 2.2h0m2.3-13.6h0m3.3-3.5h0" stroke="#a77d65" stroke-width="1.50" stroke-linecap="round" fill="none"/><rect x="178.5" y="0.4" width="136.1" height="101.2" fill="none" stroke="#747474" stroke-width="0.55"/><path d="M196.2 101.6v1.2M221.6 101.6v1.2M247.1 101.6v1.2M272.5 101.6v1.2M298.0 101.6v1.2M178.5 12.2h-1.2M178.5 31.8h-1.2M178.5 51.4h-1.2M178.5 71.0h-1.2M178.5 90.5h-1.2" stroke="#555" stroke-width="0.4" fill="none"/><g font-family="'Liberation Serif','Times New Roman',serif" font-size="4.9" fill="#000" font-weight="normal" stroke="#000" stroke-width="0.12"><text x="196.2" y="107.1" text-anchor="middle">−40</text><text x="221.6" y="107.1" text-anchor="middle">−20</text><text x="247.1" y="107.1" text-anchor="middle">0</text><text x="272.5" y="107.1" text-anchor="middle">20</text><text x="298.0" y="107.1" text-anchor="middle">40</text><text x="176.6" y="13.8" text-anchor="end">40</text><text x="176.6" y="33.4" text-anchor="end">20</text><text x="176.6" y="53.0" text-anchor="end">0</text><text x="176.6" y="72.6" text-anchor="end">−20</text><text x="176.6" y="92.1" text-anchor="end">−40</text></g><text x="246.5" y="118.6" text-anchor="middle" font-family="'Liberation Serif','Times New Roman',serif" font-size="12.2" fill="#111">DLinear</text><rect x="336.4" y="0.4" width="136.4" height="101.2" fill="#fff"/><path d="M351.9 0.4V101.6M376.3 0.4V101.6M400.7 0.4V101.6M425.2 0.4V101.6M449.7 0.4V101.6M336.4 4.3H472.8M336.4 19.2H472.8M336.4 34.1H472.8M336.4 49.1H472.8M336.4 64.0H472.8M336.4 78.9H472.8M336.4 93.8H472.8" stroke="#c9c9c9" stroke-width="0.45" stroke-dasharray="0.7 0.35" fill="none"/><path d="M354.6 59.1L356.5 62.5L360.7 67.2L368.8 74.2L375.6 79.2L380.6 82.1L385.2 84.0L388.7 84.6L390.2 84.5L392.1 84.0L393.9 83.0L402.1 76.9L410.2 72.7L412.6 71.1L424.5 61.2L427.2 58.6L429.3 56.0L431.0 53.1L431.4 50.1L430.6 34.2L430.0 30.7L428.4 28.2L420.3 18.5L415.8 21.5L411.6 23.9L407.9 25.4L404.3 26.5L400.5 27.1L396.0 27.5L383.0 27.3L381.0 27.6L378.3 28.3L374.9 29.9L372.3 31.6L369.3 34.4L366.4 37.9L362.9 43.0L359.6 48.5L356.7 54.1Z" fill="#069bb9" fill-rule="evenodd"/><path d="M347.2 69.2h0m-1.8-4.5h0m.9-.9h0m-2.1-.2h0m.5 0h0m1.5-.5h0m.3-.4h0m1.2-.9h0m-1.9-.5h0m-3-.4h0m3.5 0h0m-1.6-.3h0m2.7-.2h0m-.6-1.9h0m.9 0h0m-1.4-1.6h0m-.3-.1h0m-.7-1.3h0m.2-1.6h0m-1.8-1.2h0m3.1-.8h0m-1-.7h0m-.3-1.5h0m2.2-1.7h0m-.7-1.9h0m5.9-10.4h0m-.3 .4h0m.1 2.9h0m-2.4 1.4h0m2 1.1h0m-1.5 .3h0m-1.4 .5h0m3 .9h0m1.1 2.1h0m-1.7 .7h0m-1.8 .1h0m3.1 .7h0m-2.6 .6h0m.7 .9h0m-1.3 .2h0m1.1 .6h0m1.6 .8h0m-2.2 .1h0m1.6 .5h0m.1 0h0m.5 .1h0m.1 .7h0m-3.2 0h0m2.1 .3h0m.7 .4h0m.5 .3h0m1.1 .1h0m-2.8 .2h0m-1.5 .1h0m3.4 .2h0m-3.3 0h0m1.7 .4h0m1.5 .1h0m-.6 .2h0m0 0h0m.2 0h0m-.3 0h0m-2.4 1h0m2.7 .1h0m-1.7 .9h0m2 .2h0m-3.3 .1h0m-.4 .9h0m.9 .7h0m1.2 1.3h0m-2.3 .1h0m2.2 .1h0m2.2 0h0m.4 .2h0m.3 .1h0m-3.9 0h0m-1.9 .6h0m4.2 .2h0m-4.3 .1h0m5.5 0h0m0 .2h0m-3.1 .1h0m1.7 .1h0m-.9 .2h0m-.2 .2h0m.6 .1h0m1.8 .3h0m-1.4 .3h0m1.5 .2h0m-3.4 .6h0m1.4 0h0m-1.6 .3h0m3.6 0h0m-.3 .3h0m-1.6 0h0m.2 .1h0m1.2 0h0m-.5 .9h0m-1.5 0h0m.9 .1h0m1.6 .1h0m-1.5 .5h0m-1.1 .2h0m2.8 .2h0m-4 .5h0m3.9 .5h0m-4.7 1h0m-.1 .1h0m2.6 .2h0m2.1 .6h0m-1.1 .6h0m-3.9 .5h0m3.9 .4h0m-.3 0h0m-.5 .1h0m0 .6h0m-.9 .8h0m1.1 .1h0m-1.7 1h0m2.4 .5h0m-1.2 .1h0m1.5 .1h0m6.2 10.3h0m.6-3.7h0m-1.8-.7h0m-.1-2.7h0m1.7-.2h0m-.4-1.3h0m-2.9-1.1h0m.3-.5h0m1.9-.4h0m1.3-.5h0m-4.6-.8h0m4.7 0h0m-2.6-.1h0m2.3-1h0m-2.1-.1h0m-1.8-.2h0m1.8-.2h0m-.9-.4h0m.4-.2h0m-.9-.6h0m-1.2-.1h0m3.4-.6h0m-2-.3h0m-.9 0h0m4.4-.1h0m-5.7-.1h0m4.4 0h0m-1.8 0h0m2-.8h0m-3.8-.1h0m4.3-.1h0m-.7 0h0m-4-.5h0m.2 0h0m.5-.1h0m3.9-.2h0m-1.6-.5h0m1.3-.3h0m.4-.2h0m-1.8-.2h0m-1.2-.3h0m2.8-.1h0m-3.2-.3h0m2.5-.2h0m-3.1 0h0m.1-.1h0m2.3-.3h0m-.3-.1h0m.6-.1h0m-3-.3h0m-.1-.1h0m2.2-.2h0m-.5 0h0m-.9-.7h0m-.2-.1h0m-.8-.4h0m0-1.1h0m0-.1h0m.7-.3h0m.5 0h0m.6-.7h0m-.5-.8h0m-1.2-.9h0m.3 0h0m.4-.7h0m-.3-.3h0m1.4-.1h0m1.3-.3h0m.1 0h0m-1.8-.2h0m.5-.1h0m.8-.1h0m-1.3-.1h0m-.3 0h0m.5-.3h0m-.1-.3h0m-1-.2h0m.5-.5h0m-1.3-.2h0m4 0h0m-1.7-.1h0m-.3 0h0m-1.9-.2h0m2.6-.2h0m-.6-.8h0m2.5-.4h0m-.7-.3h0m-1.1-.6h0m-1.1 0h0m.1-.8h0m-1.4 0h0m-.7-.2h0m.2-.3h0m2.3-.2h0m-2-.1h0m3.5-.4h0m1.4-.3h0m-2.3-.3h0m-.9 0h0m1-.2h0m.7-.1h0m1.6-.2h0m-2.6-.1h0m2.9-.2h0m-5.6-.3h0m1 0h0m3.8-.3h0m-4.7 0h0m2.8-.1h0m2.3-.1h0m-2.8-.3h0m.1-.3h0m.7-.5h0m.2-.1h0m-.4 0h0m-1.7 0h0m-1.5-.3h0m5.6-.1h0m-1.9 0h0m2.1-.1h0m-5.7 0h0m1.3-2.1h0m-.6-.1h0m2.6-.7h0m-.4-.6h0m.1-.1h0m2.9-.1h0m-5.5-.4h0m.3-.8h0m3.6-.3h0m-2.2-.2h0m2.3-.3h0m-1 0h0m1.9-.3h0m-3-.3h0m1.2 0h0m-3.5-.4h0m1.5-.1h0m-.8-.4h0m-.4-.5h0m4.1 0h0m-3.1-1h0m-.5-.4h0m1.8-.4h0m3-.4h0m-5.6-.3h0m2.2-4h0m3.3-.3h0m-.1-1.4h0m.2-2.3h0m-1.7-.3h0m6.4-3.6h0m1.2 .4h0m-1.5 2.8h0m1.7 1.1h0m-4 1.3h0m4 .1h0m-3.4 .1h0m2.5 .6h0m-.8 .1h0m-1.4 .7h0m-.3 .1h0m1.1 .1h0m-1.2 0h0m1 .4h0m-.1 .3h0m-2.4 .5h0m4.2 .7h0m-4.1 .3h0m4.8 .1h0m-5.5 0h0m1.8 .3h0m.7 .1h0m2.2 .1h0m.8 0h0m-5.5 1.1h0m4.5 0h0m1.1 .3h0m-2.7 0h0m-.7 .7h0m-.9 .3h0m4.4 .2h0m-2 .1h0m-2.6 .1h0m2.1 0h0m.3 0h0m.7 .1h0m.5 .1h0m.4 .1h0m-3.1 0h0m.3 .3h0m-1.4 .5h0m3 0h0m-1.3 .1h0m2.3 .2h0m-3.2 .1h0m-.2 .5h0m.5 .8h0m.8 .1h0m-2.3 .1h0m3.9 .2h0m-1.1 .1h0m-3.3 .3h0m0 0h0m4.8 .4h0m-.9 .7h0m0 .1h0m-4 0h0m2.2 .1h0m1.4 0h0m.9 .1h0m-4.3 0h0m3.5 .2h0m-2.6 .2h0m3.9 .4h0m-.4 .2h0m-1 .1h0m.2 .4h0m-1.6 .3h0m.5 .4h0m-.8 .2h0m-.5 .1h0m1.6 .4h0m.5 .1h0m-2.1 .1h0m-.3 0h0m1 .3h0m-1.6 .2h0m2.5 .1h0m-1.5 .8h0m.8 .2h0m-.1 .3h0m-1.3 2.3h0m-.2 .7h0m-.7 .3h0m.7 0h0m-.4 16.5h0m1 .2h0m-1.4 1.5h0m1.1 .7h0m1.5 .2h0m-2.4 .5h0m1.3 .1h0m2.7 .1h0m.6 .4h0m-2.1 .2h0m2.4 0h0m-5 .1h0m5.1 .9h0m-4.4 .2h0m4.4 .1h0m-2.2 .4h0m-.6 .2h0m2.4 0h0m-1.3 .1h0m-2.9 .2h0m2 .1h0m1.9 .3h0m1.2 .3h0m-1.2 .4h0m.7 .2h0m0 .1h0m-.1 .5h0m-2.4 .4h0m-1.2 .1h0m4 .5h0m-3.5 .2h0m3.7 .3h0m-4.1 0h0m-1.1 .3h0m5.5 .3h0m-.2 .2h0m-5.5 0h0m.3 .1h0m3.9 0h0m1.5 0h0m-2.7 .1h0m2 .2h0m-.2 .6h0m-3.9 0h0m2.3 .4h0m2.3 .1h0m-.6 .4h0m.4 .3h0m-3.5 .3h0m1.3 0h0m2.5 .5h0m-1.7 .3h0m.3 0h0m-2.7 .1h0m1.1 1.3h0m8.3 6.1h0m.3-.8h0m-.6-.8h0m-1.9-1.4h0m-2.5-.5h0m.3-.5h0m2.6-1h0m-2.1-.5h0m3.7-.5h0m-1-.3h0m-1.5-.1h0m3.2-.5h0m-2.5-.4h0m-.3-.1h0m-.2-.1h0m-1.2-.2h0m2.1 0h0m-2.3 0h0m4.3-.2h0m-5 0h0m.2 0h0m5.1-.1h0m-3.5-.2h0m.1-.2h0m-.6-.2h0m-1.8-.1h0m4.6 0h0m-3.5-.1h0m.6-.3h0m-1.2-.2h0m1.5-.2h0m1-.3h0m-.3-.5h0m1.7-.7h0m-2.5-.3h0m-.6-.4h0m1.4-.1h0m-.6-.1h0m.3-.1h0m.2-.1h0m-1.5-.2h0m.9-.3h0m-1.9-.4h0m3.9-.4h0m-1.6-.9h0m-1.2-.2h0m-.9-.1h0m.2 0h0m.5-.1h0m-.3-.1h0m-.7-.2h0m.2-.4h0m-.1-.1h0m.7-32.2h0m.4-.6h0m0-.3h0m-.5-.3h0m-.6-.1h0m1.5-.8h0m-1.4-.2h0m.8 0h0m1.6-.1h0m-.4-.1h0m-.4-.8h0m.8 0h0m.6-.3h0m-1.4-.1h0m-1.4-.1h0m0-.1h0m4.3-.6h0m-2.4-.3h0m.6-.2h0m1.8-.1h0m-2.4-.1h0m0-.3h0m-.6-.3h0m.2-.7h0m1.4-.3h0m-2.7-.2h0m0-.1h0m3.1 0h0m2.2-.1h0m-.7-.2h0m-2.8-1h0m-1.6-.6h0m2.8 0h0m.2 0h0m-2.1-.1h0m2.9-.1h0m.3-.9h0m0-.1h0m-3.2-.2h0m2.6-.3h0m-2.9-.2h0m3.1-.7h0m-.9-.1h0m-.1-.2h0m-2.3-.5h0m3.9-.7h0m-4.5-.4h0m.9-.4h0m4.4-.6h0m-5-1.2h0m4.9-.5h0m-2.1-.4h0m-.5 0h0m.9-.4h0m0-.3h0m1.5-1.4h0m-2.1-.3h0m.6-.5h0m7.2-3.2h0m0 1.1h0m-.9 .3h0m-3.7 .8h0m3.2 1.2h0m1.6 .3h0m-4.5 0h0m3 0h0m-4.1 1.5h0m.6 .9h0m4.3 .4h0m-3.3 0h0m.3 .4h0m.5 .5h0m-2.1 .4h0m3.7 .5h0m-.1 .2h0m-1.3 .1h0m-2 .2h0m1.1 .1h0m4.2 .5h0m-5.2 0h0m4 .1h0m-3 .1h0m1 .5h0m2.9 .1h0m-4.1 .9h0m4 .1h0m-1.7 .1h0m1 .3h0m1.1 .3h0m0 .5h0m-3.1 .1h0m3.1 0h0m-3 0h0m1.1 .1h0m-4 .4h0m5.4 0h0m-2 .3h0m1.8 0h0m-.2 .1h0m1 0h0m-5.1 .3h0m.1 0h0m.3 .2h0m3.2 0h0m-.2 .2h0m-3.3 .1h0m.1 .1h0m-.7 .1h0m1.1 .3h0m-1.1 44.4h0m2 1.1h0m-1.6 0h0m1.8 .3h0m-1 .5h0m.4 1.1h0m.5 .4h0m-1.2 0h0m-.7 .3h0m.8 0h0m2.2 0h0m.7 0h0m-.7 .1h0m1.4 0h0m-2.8 .3h0m-1.7 0h0m4.8 .1h0m-3.1 .2h0m.8 0h0m1.7 .2h0m-1.6 .1h0m2.4 .1h0m-2.1 .2h0m-2.8 .1h0m.9 .4h0m1.2 .1h0m1.2 .3h0m1.4 .2h0m-1 .1h0m1.5 .4h0m-.3 .6h0m-3.6 .2h0m-.1 1.1h0m.5 .1h0m2.7 0h0m.4 .1h0m-.9 .6h0m.2 .1h0m-.8 .1h0m-2.7 .3h0m3.2 .2h0m-1.4 .1h0m-1.7 .4h0m-1.1 .5h0m3.8 .9h0m1.8 2.1h0m-1.5 1h0m.1 .3h0m-.6 .2h0m2 4.3h0m3.5-1.3h0m-2.8-1.3h0m5-.1h0m-4.2-.8h0m-.8-.9h0m.3-.4h0m3-.5h0m-2.1-.3h0m1.8-.9h0m-.4-.1h0m-2.4-2.5h0m3.2-.5h0m.8-1h0m-3.9-.2h0m4.4-.3h0m-5.1-.1h0m5.3-.1h0m-.9 0h0m-2.1-.2h0m-1.9 0h0m1.3-.4h0m3 0h0m-2.9-.3h0m2.2-.1h0m1.8 0h0m-1.6-.2h0m.6-.1h0m-4.6-.5h0m4.6-.2h0m-.1-.1h0m-3.1-.1h0m1.8-.7h0m-1.2-.2h0m-.5-1.1h0m-1.2-.7h0m.9-50.3h0m-1.5-.3h0m2.8-.1h0m-2.3 0h0m3.4-.4h0m-2.1-.2h0m.5-.1h0m3.4-.1h0m-.3 0h0m-3.3-.1h0m-.2-.3h0m-.8 0h0m.7-.1h0m3.6-.2h0m-2.4 0h0m-.7-.1h0m.8-.2h0m-3-.4h0m2-.4h0m1.6-.6h0m1.8-.1h0m-3.8 0h0m1.9-.1h0m-1.4 0h0m1.8-.2h0m1-.1h0m-3.9-.4h0m.3 0h0m3.4-.3h0m-2.9-.1h0m2.8-.1h0m-2.5-.5h0m1.7-.7h0m-2.8-.2h0m3.8-.8h0m-2.3-.1h0m-1.3-1.1h0m-.2-.2h0m.3-.1h0m.2-3.6h0m5.8-.6h0m2.5 .2h0m-.4 1.1h0m-.3 .7h0m1 .1h0m-.9 .9h0m-.3 0h0m-1.1 .7h0m-.9 1.2h0m3.4 .6h0m.2 .2h0m-1.8 .7h0m-1.2 .1h0m2.6 .2h0m1.7 .1h0m-5.9 .1h0m5.3 0h0m-3.6 .2h0m2.3 .2h0m.7 .5h0m1 .2h0m-4 .6h0m3.9 .3h0m-.7 .5h0m-1.1 .3h0m-2.1 0h0m.9 0h0m-2.2 0h0m4.6 .1h0m-4.6 .3h0m2.8 .4h0m-2.8 .1h0m.3 .2h0m3.1 .1h0m-.1 0h0m.4 .4h0m-.4 .1h0m-2.1 .4h0m4.1 .1h0m-3.2 .3h0m-2.4 0h0m.6 54.1h0m-.1 .1h0m-.4 .2h0m1.7 .1h0m3.7 .7h0m-.7 .1h0m-2.5 .1h0m-.1 .1h0m1.8 0h0m1.3 .1h0m-3.1 .2h0m-1.1 0h0m3 0h0m-1.7 .2h0m.4 .1h0m-2.7 .1h0m4.2 0h0m-.7 .1h0m2.2 0h0m-3.4 .1h0m-.7 0h0m1.4 .1h0m-.3 .1h0m-1.3 .3h0m3.6 0h0m-2.6 .1h0m0 0h0m-.3 .2h0m-1.5 .4h0m.5 .1h0m4.3 .2h0m-5.3 .6h0m3.9 0h0m-1.1 .2h0m1.9 0h0m-4.8 .8h0m4.9 .5h0m-.5 .1h0m.3 .1h0m1 .2h0m-3.3 .1h0m-2 .1h0m4.9 0h0m-4.8 .2h0m1.3 .1h0m-1.4 1.1h0m4.5 0h0m.3 .1h0m-2.6 .4h0m-.8 .4h0m2.3 1h0m.9 1.7h0m4.9 1.3h0m-1.7-.5h0m2.3-2.1h0m-.9-.6h0m-1.1-.3h0m.5-.2h0m.4-.7h0m-.9-.1h0m.2-.3h0m1-.1h0m-3.9-.8h0m3.7-.2h0m-3.5-.4h0m4.2-1.3h0m-3.9-.2h0m2.9-.1h0m-2.5 0h0m4.2-.3h0m-2-.6h0m1.8-.1h0m-.6-.1h0m.4-.1h0m.1-.2h0m-.3-.1h0m-.3 0h0m.6-.4h0m-1.1-.2h0m-2.8-.2h0m.3-.1h0m-.7-.9h0m2.6-.3h0m.1 0h0m.4-.3h0m-3.2-.1h0m5.6-.1h0m-4.2-.1h0m1.7-.3h0m-.6 0h0m1.2-.3h0m1.8-.3h0m-1.3-1.2h0m1.3 0h0m-2.6-52.7h0m-1.2 0h0m-.3 0h0m1.1 0h0m1.4 0h0m-3-.2h0m-.6 0h0m2.9 0h0m1.8 0h0m-.3-.1h0m.5-.1h0m-3.8-.2h0m4.2 0h0m-1.9 0h0m1 0h0m-4.4-.1h0m1.2 0h0m-1-.1h0m-.3-.1h0m4.3 0h0m.1-.3h0m-3.3-.1h0m3.2-.1h0m.1-.1h0m.1-.1h0m-.4-.1h0m-3.2 0h0m4.1-.1h0m-5.5-.2h0m.9 0h0m4-.2h0m-3.6 0h0m-.5-.1h0m1.2-.1h0m-1-.3h0m-.8-.1h0m2-.3h0m-1.5-.2h0m3.1-.2h0m-1.1-.8h0m1.2 0h0m.5-.3h0m-.4-.5h0m-2.8-.2h0m-.3-.4h0m3.5-.3h0m-3.1-.4h0m1.3-.3h0m2.9-.8h0m-5.4-1.1h0m1.1-.2h0m1.5-.5h0m1.9-.4h0m-1.7-.1h0m-.2-.9h0m-2.4-.7h0m8.2-1.6h0m.4 2.2h0m.7 1.4h0m-1.5 1.4h0m3.4 .1h0m-3.7 .2h0m3.8 .4h0m-3.4 .1h0m2.5 .3h0m-.2 0h0m-.3 .1h0m1.4 .6h0m-1.2 .2h0m-.9 .1h0m-2.6 0h0m3.1 0h0m1.5 0h0m-2.6 .1h0m-2.4 .2h0m3.3 0h0m-2.1 .1h0m-.6 .5h0m1.1 .1h0m-1.6 .4h0m5.1 .3h0m-2.1 .3h0m-.4 1.2h0m2.2 .1h0m-3.3 .1h0m3.6 .1h0m-2.8 0h0m-1.2 .1h0m1 0h0m-1.7 .2h0m2.9 .1h0m.9 0h0m-.3 0h0m-.4 .3h0m-1.5 .1h0m-.2 .4h0m2.6 .2h0m-2.7 0h0m-1.6 .4h0m4.3 .4h0m.6 47.7h0m-.8 .2h0m-.7 .9h0m-1.3 .7h0m-.3 .1h0m2.5 1.1h0m-3.1 0h0m3.9 0h0m-2.7 .1h0m2.5 0h0m.1 0h0m-2.4 .1h0m-2 .1h0m0 .2h0m1.3 0h0m.4 .2h0m-2 0h0m.8 .3h0m2.8 .8h0m-2.4 .2h0m.8 .1h0m1.7 .3h0m.9 .5h0m-2.4 .5h0m1.2 .2h0m.5 0h0m-2 .1h0m-2.3 .5h0m2.4 .1h0m-.3 .2h0m.9 .1h0m-2.4 .1h0m3.7 0h0m.3 .2h0m-2.4 .3h0m-.9 .1h0m2.9 0h0m-2.6 .8h0m3.6 .1h0m-4.6 .2h0m2.5 0h0m-3.4 .5h0m.2 .2h0m3.9 0h0m-1.9 .2h0m2 0h0m-3.2 .2h0m.3 .1h0m-1.1 .1h0m-.4 .1h0m4 .1h0m-3.1 0h0m1.9 .4h0m-2.4 .2h0m3.2 .6h0m-1.4 .9h0m-1.7 .1h0m3.6 .1h0m-1.3 .5h0m.1 .9h0m8.7-1.2h0m-4.8-.4h0m3.1-.1h0m.6-1.3h0m-2.9-1h0m1.2-1h0m-1.2-1.2h0m.4-.2h0m-1.4-.5h0m1.8-.1h0m-2.5 0h0m.2-.2h0m3.4-.1h0m.9 0h0m-2-.1h0m3-.1h0m-5.2 0h0m2.4-.2h0m-1.2-.1h0m-.1-.3h0m-.9-.5h0m-.1-.3h0m1.9-.1h0m2.9-.2h0m-4.8-.2h0m4-.9h0m-2.1-.2h0m.8-.2h0m2.5-.1h0m-1.1 0h0m-.9-.2h0m-3.6-.3h0m.1-.8h0m4 0h0m-.3 0h0m-2.5-.3h0m-1.3-.2h0m.6 0h0m4-.2h0m-1.8 0h0m-2.2 0h0m4.3 0h0m-2.7-.3h0m-.3-.2h0m2.8-.4h0m-3.7-.3h0m-.5-.3h0m-.4-.1h0m1.5-.3h0m-1.3-.1h0m3.8-.3h0m-2.3-.3h0m0-.1h0m1.1 0h0m2.8-.2h0m.1-.2h0m-3.2-.2h0m3.2-.1h0m-.4 0h0m-1.3-.1h0m-1.1-.5h0m1.5-.1h0m-.2-.2h0m-1.5-45.8h0m.4-.3h0m-.4 0h0m-2.7-.7h0m5.7 0h0m-2.1-.1h0m-3.5-.1h0m-.2 0h0m3.4 0h0m-3.3-.1h0m3.1-.2h0m-1.3-.1h0m-1.8 0h0m4.8-.1h0m-1-.1h0m-.3 0h0m-1.9-.2h0m-.7-.6h0m1.8-.1h0m-.2-.1h0m-.1-.1h0m2.3-.1h0m.9-.2h0m-4.9-.2h0m2.1-.1h0m1.2-.1h0m.8-.2h0m-3.9 0h0m-.6-.3h0m2-.2h0m3.4-.2h0m-4.3 0h0m-.4 0h0m.9-.3h0m-1.2-.1h0m5-.4h0m-3.9-.4h0m2.5-.5h0m.8-.2h0m-4.4-.1h0m1.9-.1h0m1.3 0h0m-2.9-.4h0m.8-.6h0m3.3-.1h0m-4.2-.1h0m4.6-.2h0m-4.7 0h0m.7-.2h0m2.2-.5h0m1.5-1h0m-3-.1h0m3.6-.4h0m-.8-.7h0m-4 0h0m3.1-1h0m-.7-2.1h0m5.4-3.6h0m1.7 2.2h0m-1 .2h0m1.1 .4h0m-4.5 .4h0m4.2 1.2h0m-2.4 .6h0m3.8 1.1h0m-4.2 .6h0m3.8 .7h0m-.2 .6h0m-2.6 0h0m.5 .1h0m-2.7 .2h0m3.4 0h0m-1.5 .3h0m1.2 .2h0m1.7 .1h0m-1.1 .1h0m-1.1 .2h0m-3.1 .3h0m5.2 0h0m-5.1 0h0m4.8 .7h0m-.1 .5h0m-.7 .1h0m-2.1 .1h0m3.7 .2h0m-1 0h0m-1.8 .1h0m-.8 .2h0m-.3 0h0m3.7 .2h0m-2.8 .2h0m2.4 0h0m-4.6 .2h0m1.8 0h0m.3 .2h0m2.2 .2h0m-4.8 .1h0m1.6 .4h0m2 .2h0m2.3 .5h0m-.7 .4h0m-2.4 .1h0m-.4 .2h0m.7 .4h0m.8 .2h0m-2.8 .2h0m1.4 .2h0m-2.2 .2h0m1 .3h0m0 .4h0m-.3 0h0m-1 .1h0m0 .1h0m5.7 42.6h0m-.6 .5h0m.4 .8h0m-.7 .1h0m-2 .8h0m1.8 .2h0m.1 .1h0m-2.3 .5h0m-1.9 .1h0m.1 .1h0m2.5 .2h0m-2.4 .1h0m4.1 .1h0m.9 .1h0m-1.1 .1h0m-.4 .2h0m-1.1 0h0m.5 .4h0m-.1 .6h0m.1 .3h0m-2.3 .3h0m2.9 0h0m-2.2 .1h0m1.3 .1h0m1.2 .5h0m-3.5 .2h0m0 .1h0m1.6 .4h0m1.6 .1h0m-1.2 .4h0m2.7 0h0m.1 .2h0m-2.9 .1h0m-1.3 .2h0m0 .6h0m.3 3.6h0m-.4 .3h0m1.7 .6h0m-2 1.2h0m1.3 .8h0m5.9-2.4h0m.1-.6h0m-1.5-1.4h0m1.9-1h0m-1.4-.1h0m2.7-.9h0m.6-.1h0m-1.2-.5h0m-1.5-.1h0m2.3-.3h0m-.2-.5h0m1.1-.7h0m.1-.4h0m-3.2-.1h0m1.8 0h0m-2 0h0m-1.1-.4h0m1.6-.3h0m1.3 0h0m-1.5-.1h0m.9-.1h0m-.3-.2h0m-.4-.1h0m-1.9-.1h0m-.6 0h0m5.3-.2h0m-.9-.4h0m-1.4-.6h0m1.5 0h0m-1.3-.2h0m-1.5-.1h0m1.5-.4h0m-1.6-.1h0m2.4 0h0m-2.2-.1h0m2-.2h0m2.2 0h0m-5.6-.1h0m4.6-.3h0m-3.5-.1h0m-1-.2h0m-.1-.1h0m5.3-.2h0m-3.7 0h0m-.6 0h0m-.9-.2h0m2.4-.5h0m2-.1h0m-4.9-.2h0m1.2-.3h0m.4 0h0m1.3-.3h0m1.6-.4h0m-1.4-.1h0m1.7 0h0m-.5-.1h0m-2.9-.5h0m-.4-.1h0m5-.2h0m-2.3-1.2h0m.2-.6h0m0-.2h0m1.7-.1h0m.1-.3h0m.2-.1h0m-1.6 0h0m.4-.3h0m.6-.2h0m-5.3-41h0m.7-.7h0m2.7-.8h0m-1.8 0h0m.5-.5h0m1.4-.1h0m.4-.1h0m.2-.1h0m-.6-.3h0m2-.2h0m-3.8-.1h0m.8-.1h0m-2 0h0m0-.1h0m3.9-.2h0m-3-.1h0m.1-.2h0m3.7-.1h0m.3-.1h0m.3-.1h0m-1.7-.2h0m-.9-.1h0m-3.1-.1h0m5.3-1.1h0m-5-.2h0m4.7 0h0m-1.4-.1h0m.5-.1h0m1.1-.2h0m-4.8-.1h0m1.9 0h0m-.7 0h0m.1-.1h0m1.6 0h0m-2.6-.1h0m4.4-.1h0m-2.7-.1h0m1.9-1.1h0m.5 0h0m-.2-.1h0m0-.2h0m-1.5-.3h0m-3.1-.2h0m4 0h0m-2.3-.2h0m2.4 0h0m-.3-.1h0m-1.9-.5h0m-1.5-.6h0m1.5-.1h0m-1.5-.5h0m-.2-.5h0m4.2-.1h0m.8-1h0m-1.8-.1h0m.2-.9h0m-2.2-1.1h0m3.8-.5h0m-.1-1.9h0m-1.9-.6h0m1.7-.1h0m3.7 .5h0m1.9 2.2h0m1.3 1.3h0m-2.9 .1h0m-2.3 .4h0m1.1 .3h0m-1.2 .1h0m5.3 .1h0m-2.7 0h0m-3 .2h0m5.4 0h0m-3.3 .6h0m2.7 1.1h0m-4.9 .8h0m1.9 .1h0m-.3 .2h0m3.2 .2h0m-3.5 .3h0m.1 .4h0m-1.4 .1h0m.4 .1h0m.5 .1h0m4.9 .4h0m-3.5 .2h0m-.6 .1h0m4.1 .4h0m-5.5 .2h0m2.8 .1h0m-.7 0h0m1.3 .3h0m-3 .3h0m4.9 .2h0m-4.5 .2h0m2.7 .1h0m-.4 .6h0m-2.9 0h0m.3 .2h0m4.7 .7h0m-5.3 0h0m.3 .1h0m5 .3h0m-4.5 .2h0m2.1 .1h0m-1.5 .1h0m2.1 0h0m-1.4 .4h0m-1.5 .2h0m1.3 0h0m-.8 .1h0m2.9 .1h0m-1.7 .3h0m-1.2 .3h0m4.1 .2h0m-3.8 .1h0m3.5 .1h0m-2 .3h0m.9 .2h0m.8 .2h0m-.9 .2h0m.5 .4h0m1.1 .2h0m-2.5 .2h0m1.3 .4h0m-1 .6h0m2 1.4h0m.4 .7h0m-1.3 32.9h0m.8 .4h0m-1.3 .1h0m0 0h0m1.5 .4h0m-2.8 .6h0m.3 0h0m.1 .1h0m1.7 .1h0m-1.8 .5h0m2 .1h0m-2.9 .2h0m1.9 0h0m-1 .4h0m0 .1h0m-1.5 .1h0m2.1 .4h0m-1.1 .7h0m.6 0h0m-2.6 .2h0m1.5 .2h0m3.6 .5h0m-2.6 0h0m-2.5 0h0m4.6 .1h0m-4.3 .3h0m3.2 .1h0m1.9 .1h0m-5.2 .3h0m.2 .3h0m4.7 .1h0m-2.3 .3h0m2.1 .1h0m-2.9 .1h0m-.2 .2h0m2.7 .1h0m-2.5 .2h0m-.5 .2h0m-.9 .2h0m4.1 1h0m-4.4 .2h0m2.7 .1h0m-.4 .1h0m-.4 0h0m0 .2h0m-2.6 .1h0m2.4 .3h0m-2.2 .3h0m5.6 0h0m-5.7 .1h0m3.4 .1h0m-1.5 .1h0m1.9 .4h0m-2.4 .7h0m-.8 .6h0m-.5 .3h0m.9 .2h0m4.4 1.2h0m-5.2 0h0m.1 1h0m3.7 .9h0m-2.4 0h0m-1.2 .1h0m0 .5h0m1.6 .1h0m5.8-2.1h0m1.4-1h0m.4-1.5h0m-3.5-.3h0m1.2-2.4h0m1.3-1.9h0m2.9-.9h0m-5.6-.4h0m5.5 0h0m-3.4-.3h0m2.7-.3h0m-1-.5h0m-2.9 0h0m1.4-.2h0m2.8-.1h0m-3.6-.1h0m1.1-.5h0m2-.2h0m1-.1h0m-.4-.2h0m-4.4-.7h0m-.5-.3h0m3.4-.1h0m-2.3-.6h0m1.3 0h0m-1.4-.2h0m2.6-.5h0m-1.2-.2h0m1.7 0h0m.5 0h0m-1.7-.5h0m-.8 0h0m-1.3-.3h0m3.5-.3h0m-4.2 0h0m2.3-.5h0m-2.2-.1h0m1.6 0h0m3.2-.1h0m-1.3-.4h0m-1.9-.2h0m3.4-.2h0m-.9 0h0m-2.5-.3h0m3.8-.2h0m-2.7-.1h0m-2.3-.2h0m2 0h0m.8-.4h0m2-.2h0m-3.6-.3h0m2.6 0h0m.2-.2h0m-.8-.3h0m-1.1 0h0m0-.1h0m-.7 0h0m2.6-.7h0m-2.4-.3h0m3.2-.2h0m-1.7-.2h0m1.5 0h0m-2.7-.1h0m1.7-.2h0m-.8-.3h0m1.2 0h0m.3-.2h0m-1.2-.2h0m1.9-.2h0m-2-.4h0m1.4-1h0m.5-.4h0m-1.2-.3h0m1.1-1.1h0m-.7-.1h0m.5-1.3h0m-.2-.3h0m-1.3-.8h0m1.5 0h0m-.5-.5h0m-.8-.2h0m1.4-.7h0m.1-.4h0m-1.3-.7h0m.2-.2h0m-.2-.3h0m1.1-.3h0m-1.7-.1h0m.7-.2h0m.1 0h0m-.1-.4h0m1.2-.3h0m-1.3-.4h0m.6-.1h0m.5-.4h0m-.7-1.3h0m-.3 0h0m0-.1h0m-.3-.1h0m.7-.2h0m-.9-.1h0m1-.2h0m.9-1.9h0m-.4-.1h0m-.3-.5h0m-.3-.5h0m-1.3-.7h0m.5-.5h0m1.8-.1h0m-1.1-1h0m.5 0h0m-.9-2.5h0m.6-.2h0m.4-.3h0m.2-.3h0m-2.8-.3h0m1-.4h0m1.4 0h0m.1-.3h0m-3.1 0h0m2.1-.5h0m-2.4-.3h0m.8-.2h0m1.2-.2h0m-.6-.1h0m.2-.3h0m.1-.4h0m.9-.1h0m-2.6-.4h0m2.2-.2h0m-.4 0h0m-1.7-.1h0m2.9-.1h0m-1-.2h0m-2.4-.1h0m-.4 0h0m2.5-.4h0m-2.9-.3h0m2.7-.1h0m-1.1-.1h0m2.5 0h0m-4.9 0h0m.9-.3h0m2.4-.3h0m-2.2-.3h0m2-.5h0m-.9-.1h0m2.2-.1h0m-1.6-.1h0m-1.1-.7h0m2.6-.4h0m-4.2-.1h0m.3-.2h0m.2-.4h0m-.3-.1h0m2.5-.5h0m-2.4 0h0m.9-.2h0m2.3-.3h0m-1.7-.1h0m1.5-.2h0m-.7-.8h0m1.7-.4h0m-1.6-.2h0m-1.6-.2h0m2-.4h0m-2.8-.2h0m0-.2h0m1.9-.1h0m-2.2-.3h0m4.4-.1h0m-3.8-.2h0m4.4 0h0m-4.7-.7h0m2.1 0h0m2.4-2.4h0m-.2-.4h0m-4.5-.1h0m1.3-.6h0m2.3-.8h0m-2.3-.1h0m-.4-1.3h0m1.3-1.8h0m.5-2h0m4.7 9.8h0m3 2.6h0m-3.5 2.7h0m.7 .4h0m1.5 .6h0m-2.3 1.1h0m4.8 1h0m-4.7 .1h0m-.6 .9h0m2.7 .3h0m-2.2 .1h0m1.7 .2h0m-1.7 .3h0m3.7 0h0m1.2 .3h0m-.1 .1h0m-2 .1h0m-3.5 0h0m2.4 .1h0m-.2 .4h0m.4 .2h0m.2 .3h0m-2.4 .1h0m1.5 .1h0m-1 .6h0m.7 .1h0m3 .5h0m-4.1 .9h0m2.8 1.1h0m.6 .2h0m-1.4 .5h0m.6 .6h0m-3.3 .2h0m4.4 .1h0m-.2 .1h0m-1.5 .2h0m1.7 .2h0m-4.4 .5h0m5.1 .4h0m-2.9 0h0m-.8 .1h0m.1 .1h0m1.4 .1h0m2.1 .2h0m-2.3 .3h0m-2.3 .1h0m3.9 .1h0m-2.9 .1h0m0 .3h0m1.5 .2h0m-.1 0h0m.9 .4h0m-1.6 .2h0m-2 .2h0m.7 .1h0m-.8 .2h0m.7 0h0m3.4 .1h0m.4 .3h0m-1 .5h0m-1.3 .1h0m-.2 .5h0m-.9 .1h0m-1.1 0h0m.3 0h0m.7 .1h0m.4 .1h0m1 0h0m-.9 .6h0m.5 .1h0m2.4 .2h0m-.9 .3h0m1.6 .3h0m-3.9 .2h0m1.2 .5h0m1.2 .3h0m-2.6 .2h0m3.9 .1h0m-2.5 .1h0m-.6 .2h0m1 .5h0m.7 .1h0m.4 .5h0m-2.1 .4h0m1.4 .2h0m.2 .1h0m-2.6 .1h0m5.1 .1h0m-3.4 .9h0m-2.5 .2h0m.8 .1h0m.8 0h0m1.1 .1h0m-.3 .3h0m-1.3 .1h0m1.2 .3h0m-1.3 .2h0m2.5 .2h0m-2.4 .1h0m1.9 .1h0m-.9 .2h0m1.6 0h0m-1.4 .1h0m.4 .1h0m0 .1h0m-.1 .2h0m3.1 .4h0m-5 0h0m1 .1h0m-1.3 .3h0m4.5 0h0m-4 0h0m1.7 .2h0m-1.6 .2h0m1.8 0h0m2.7 .1h0m-.9 .1h0m-.8 .5h0m-.4 0h0m-3.3 .1h0m-.1 .9h0m3.1 .3h0m-2.7 .2h0m-.4 0h0m.2 .1h0m-.2 .3h0m1.7 0h0m-1.8 .5h0m3.3 .5h0m-3.3 .3h0m4.3 .5h0m-.2 .1h0m1 .3h0m-2.8 .1h0m-.3 .3h0m-.6 .1h0m3.2 .2h0m-3.5 .2h0m4.6 0h0m-3.6 .5h0m-2 0h0m1.8 0h0m2.8 .1h0m-4.6 0h0m5.1 .8h0m.4 .1h0m-1.8 0h0m-1.8 .1h0m.1 1.1h0m-1.9 .5h0m0 .7h0m3.7 0h0m-.3 .2h0m0 .6h0m1.7 .8h0m-4.7 .8h0m2.5 .4h0m.7 .6h0m-1.2 .2h0m.5 1.3h0m.4 2.5h0m-2.4 .1h0m5.5-4.5h0m-.1-2.8h0m0-2.2h0m-.4-2h0m2.8-.2h0m-2-.2h0m1.8-.6h0m-1.1-1.7h0m2.4-.1h0m.7-1.2h0m-3.9 0h0m.7-.2h0m-.6-.1h0m3.6-2.8h0m-2-1.6h0m-2.4-1.1h0m3.6-.5h0m-3.4-.6h0m-.3-.1h0m2.8-.9h0m.2-.3h0m-.2-1h0m-1.6-1.5h0m3.4-1h0m-2.9-1.9h0m.9 0h0m.6 0h0m-3.1 0h0m1.5-.1h0m-1.5-.6h0m.9-2.4h0m3.3-.5h0m-4.2 0h0m4.1-2h0m-3.8-2.3h0m1.3-.1h0m-1.2-.8h0m4.8-.2h0m-2.7-.2h0m0-1.6h0m-2.6-1h0m2.6-.6h0m-.9-4.9h0m4.4 27.9h0" stroke="#069bb9" stroke-width="2.40" stroke-linecap="round" fill="none"/><path d="M361.3 46.9h0m1.4 4.5h0m1.7 9.6h0m-1.6 6.1h0m.7 .1h0m8 7.7h0m-.1-6.4h0m-3.8-5.9h0m4-2.3h0m-3.1-2.8h0m-1.8-2.2h0m2.7-19.9h0m6.1 14.2h0m-2.6 5.2h0m.4 5.9h0m3.3 5h0m-2.4 9.4h0m7.7-1.2h0m-1.8-14.6h0m1.8-13.7h0m-.6-5.8h0m4.2 25.7h0m7.5-7.1h0m-.1-19.8h0m5.4-1.7h0m1.7 6h0m-1.4 1.6h0m-1.3 12.3h0m1.7 10.3h0m14.1-35.6h0m4.8 2.5h0m-3.9-3.3h0m2.6-3.3h0m1.8-4.7h0m1.8-1.6h0m3.6 12.6h0m-1.5 9.7h0m1.6 4.3h0m1.5 9.7h0" stroke="#ffffff" stroke-width="0.90" stroke-linecap="round" fill="none"/><path d="M387.6 34.2h0m-.5 3.6h0m-1.4 1.7h0m0 3.9h0m-1.3 3.8h0m9 23h0m-.3-7.7h0m-1.3-4.1h0m3.5-4.6h0m-1.2-7.1h0m1.6-4.1h0m-4.7-4.9h0m-1-3.3h0m.1-2.1h0m2.4-3h0m2.3-5.3h0m6.6-4.2h0m-4.8 2h0m3.9 2.8h0m.1 5.7h0m-2.8 7.6h0m-1.6 2.9h0m5.1 2.3h0m-3 .6h0m-.7 2h0m-.4 2.6h0m.8 4.3h0m1.1 5.1h0m-2 2.2h0m-.6 .8h0m3.8 1.7h0m-1.1 .7h0m2.7 .4h0m-1.5 2.9h0m-3.2 3.9h0m3.6 .3h0m-.4 2.9h0m-.8 2.4h0m7.8 .5h0m-3.5-1.3h0m2.7-4.7h0m-2.8-.2h0m1.7-5.1h0m-2.1-1.6h0m1.6-.4h0m2.6-7.2h0m-2.4-2.2h0m1.7-1.4h0m-2.2-5.7h0m-1.5-1.3h0m2.5-9.2h0m-1.3-1.9h0m3.6-1.5h0m-.5-6.6h0m-1-5.2h0m-2.5-.7h0m4.9-2.9h0m0 18.1h0m2.7 4.1h0m-2.7 .4h0m4.3 2.1h0m-3.4 .7h0m-1 5.5h0m3.4 1.3h0m-4 3.6h0m.5 2h0m1.4 4.4h0m-.5 1.4h0m2.7 4.3h0m4.1 11.3h0m-.2-.8h0m.1-3.6h0m-1.4-6.5h0m2.9-7.7h0m-.8-5.3h0m-.4-9.2h0m3.1-3.3h0m0-8.1h0m-1.2-.6h0m-1-1.4h0m1.5-1.8h0m5.9-12.1h0m-4.3 1.4h0m5.4 1.6h0m-2 .5h0m.9 .2h0m-1.7 2h0m-1.5 12.5h0m1.7 2.6h0m.6 1.2h0m.3 3h0m-.5 2.5h0m-1.2 2.5h0m1.1 3.8h0m1.5 1.8h0m-1.2 3h0m-.4 3.6h0m-1.3 7.2h0m1.3 .2h0m-.2 7.1h0m6.2-14.2h0m-2.9-2.3h0m5.1-2.5h0m-1.7-17.9h0m-2.2-3.4h0m1.6-14.8h0m2.9 11.8h0m-.2 4.4h0m3.2 .2h0m-.8 2.6h0m.6 5.3h0m-1.6 1.2h0m2.2 5.4h0m-1.4 4.9h0m2.4 .1h0m.3 6.1h0m-4.9 3.1h0m5.8-17.8h0m.2-12.7h0m.1-.6h0" stroke="#ffffff" stroke-width="1.00" stroke-linecap="round" fill="none"/><path d="M432.3 33.9L432.5 36.4L433.1 39.3L435.9 48.1L438.0 52.7L439.3 54.6L440.0 54.9L442.9 54.0L445.7 52.3L448.3 50.1L451.3 46.8L454.0 43.1L456.4 38.9L458.2 34.7L458.7 32.1L458.2 30.6L457.0 29.0L455.3 27.6L453.3 26.5L450.1 25.5L444.0 24.0L441.1 23.5L439.2 23.4L438.1 23.7L436.6 24.6L434.4 27.0L432.9 30.0L432.5 31.7Z" fill="#a77d65" fill-rule="evenodd"/><path d="M425.9 30.1h0m-1 2.4h0m1.1 2.7h0m-.1 3.4h0m0 5.6h0m4.4 8.6h0m1.2-.6h0m-.6-.2h0m-.9-2.6h0m-2.1 0h0m1.4-2.8h0m1.3 0h0m1.2-.6h0m-2.2-1h0m-.1 0h0m-2.2-1.3h0m2.1-.2h0m-1.3-2.5h0m1.4-.1h0m-.2-.2h0m.9-.5h0m-3.6-.3h0m.7-.8h0m3.1-.8h0m.7 0h0m-1.3-.3h0m1.7 0h0m-.7-.1h0m.7-.1h0m-4.1-.1h0m-.7-.4h0m3.2-.1h0m1.7-.5h0m-2.4-.2h0m2.7-.1h0m-2.7-.5h0m2.8-.2h0m-5-.3h0m.9-.1h0m3.8-.7h0m-3-.2h0m-.3-.3h0m2.7-.6h0m-1.9-.5h0m-1.9 0h0m1.4-.2h0m.9-.2h0m-.1 0h0m1.4-.6h0m-1.6 0h0m-1.9-.3h0m3.2-.2h0m-1.7-.7h0m3-.3h0m-3.5-.6h0m2.7-.1h0m.3-.1h0m-3.4-.4h0m3.2-.1h0m-4-.2h0m3.9-1.8h0m-3.4-.3h0m-.3-.5h0m3.2-.6h0m1.1-.5h0m-4.7-.1h0m2.4 0h0m1.4-.1h0m.9-1.3h0m-1.9-.4h0m1.7-.2h0m-.8-.3h0m.8-.2h0m-1-.4h0m-.1-.6h0m.3-.2h0m.9-.2h0m-.1-1.4h0m-1.2-1.2h0m7-3.5h0m-1 1.1h0m-.4 .1h0m1.8 1.9h0m-.2 .7h0m-3.9 .6h0m1.4 .3h0m.8 1h0m-.6 .1h0m1.7 .2h0m-3 .1h0m3.6 0h0m-3.5 0h0m3.8 .1h0m-3.7 .1h0m-1.2 1.1h0m4.7 .3h0m.2 0h0m-3.5 .1h0m3.2 .2h0m-5.2 .5h0m5.6 .1h0m0 .2h0m-1.5 0h0m-1.8 .1h0m2 .3h0m-2.5 .1h0m1.5 0h0m-.7 .5h0m1.4 .1h0m-2.8 .5h0m-.5 .3h0m1.7 .3h0m.7 .1h0m-1.8 .3h0m2.1 .1h0m-3.5 .3h0m1 .1h0m1.4 0h0m-.8 .2h0m-1.4 .1h0m1.8 .1h0m1.1 0h0m-.7 .3h0m-1.4 .2h0m1.4 .7h0m-.5 .2h0m-.4 .2h0m-1.3 .3h0m.2 1h0m-.2 .3h0m1.3 .8h0m.1 .4h0m-1.5 0h0m.8 .5h0m-.7 .1h0m.6 .2h0m-1 .2h0m.1 .4h0m1.3 .8h0m-1.2 .1h0m1.2 1.4h0m.3 1h0m-.2 1h0m-.1 .7h0m1 1.1h0m-1.9 .1h0m1.2 .3h0m.1 0h0m-.9 0h0m1.7 .5h0m-2.4 .5h0m.2 .6h0m0 .3h0m2.7 0h0m-1.7 .1h0m-.6 .2h0m.8 .3h0m-1.4 1.3h0m.5 .2h0m2 .1h0m-.3 .6h0m.2 0h0m-1.7 .7h0m1.3 .8h0m-.3 0h0m.8 .1h0m-2.4 .2h0m3.1 .3h0m-.9 .1h0m1.7 .7h0m-.2 0h0m-3.7 .8h0m.6 .7h0m3 0h0m.7 .1h0m-.9 .3h0m-2.8 .1h0m2.5 .1h0m1.3 .5h0m-4.1 .1h0m2.4 .1h0m-2.8 .2h0m3.6 0h0m1.3 .1h0m-1.4 .4h0m.8 0h0m-.9 .1h0m1 .1h0m-3.7 .5h0m3.6 .5h0m-.4 0h0m1.5 .3h0m-2.3 0h0m1.5 .1h0m1.2 .3h0m-2.1 .1h0m.4 .8h0m-.2 .3h0m.7 .1h0m-2.7 .1h0m-.1 .3h0m1.9 .1h0m1.2 .5h0m-.4 0h0m-3.9 .2h0m5 0h0m-1.5 .3h0m-.5 .1h0m-3.4 .2h0m-.3 .1h0m1.5 .3h0m3.7 .3h0m-2.6 .5h0m1 0h0m-.1 .7h0m-2.9 .3h0m5 1.1h0m-4.3 1h0m7.3 2.5h0m1.6-.8h0m-2.8-.1h0m2.3-.3h0m.6-.6h0m-2-1.6h0m1.3-.6h0m1.2-.1h0m-4-.5h0m4.7-.1h0m-1.3-.1h0m.3-.4h0m-4.6-.2h0m3.3-.3h0m.3-.1h0m-.9-.4h0m-.1-.2h0m1-.4h0m-2-.2h0m-.4-.5h0m3.8 0h0m-2.6-.2h0m.3-.1h0m-1-.1h0m1.7-.1h0m2.3-.2h0m-2.8-.4h0m1.2-.1h0m-.2-.1h0m-1.1-.1h0m0-.1h0m-.5-.1h0m-2.1-.1h0m.8-.2h0m2.4-.1h0m2.5-.4h0m-5.4-.1h0m3.9 0h0m-3-.2h0m-.5-.1h0m-.2-.1h0m1.1-27.8h0m-1.5-.2h0m1.6-.1h0m-.1 0h0m1.7-.1h0m.9-.4h0m.9-.7h0m-2.2-.1h0m1.6-.3h0m-.9-.1h0m-.4-.1h0m-1.1-.5h0m1.7-.5h0m-1.4-.1h0m2-.2h0m-4.4 0h0m.1 0h0m.2-.1h0m4.1-.1h0m.2-.1h0m-.2-.3h0m1.3-.2h0m-.3-.3h0m-3.4-.3h0m-.1-.1h0m.2 0h0m.6-1.5h0m-1-1h0m-.4-.1h0m.8-.3h0m-.2-.1h0m-.7-1.5h0m5.1 .4h0m2.1 .8h0m.8 1.2h0m-2.1 1.5h0m1.1 1.1h0m1.1 0h0m.3 1.1h0m-1 0h0m-.8 .2h0m-.1 .2h0m3.5 .5h0m-2.1 .7h0m-2.5 .2h0m-.6 .6h0m5.1 0h0m-3.5 .1h0m2.3 0h0m.9 .2h0m.7 .2h0m.1 0h0m-1.4 .2h0m-4.4 .1h0m5 .2h0m-.4 .3h0m-4 0h0m3.3 .3h0m-.2 .7h0m2.3 20.8h0m-.4 .6h0m-1 .9h0m.2 .1h0m-.7 .3h0m-.5 .5h0m.7 .1h0m-.8 .8h0m.7 .4h0m-.2 .1h0m-1.8 .9h0m.5 0h0m1.7 0h0m-1.5 .1h0m-2.3 .5h0m3 .1h0m-2.3 .7h0m.5 .1h0m-.9 .2h0m.2 0h0m1.5 .1h0m-.6 .4h0m-.8 .2h0m.7 .2h0m3.8 .4h0m-4.1 0h0m2.5 .4h0m-3.4 .3h0m5.3 .1h0m-2.3 0h0m-1.5 .1h0m1.4 .3h0m-2.7 1h0m2.2 0h0m-2.2 .1h0m0 .4h0m1 .7h0m1.1 .1h0m0 .3h0m.8 0h0m-3.4 .1h0m1.2 1.5h0m-1.3 .1h0m-.2 .1h0m6.1-3h0m3.5-.6h0m1.3-1.2h0m-4.3-.2h0m2.3-.2h0m-1.9-.5h0m1.6-.1h0m-1.8-.9h0m3-.1h0m-.8-.2h0m-.6-.2h0m-1-.2h0m1-.2h0m1.8-.3h0m-2.6-.2h0m-1.7-.7h0m4.7-.4h0m-4-.1h0m3.8-.1h0m0-.1h0m-2.3-.1h0m-.7-.1h0m-.2-.3h0m1.4-.1h0m2.9-.2h0m-1.2-.6h0m-4.4-.8h0m1.4-.3h0m1.7-.3h0m.9 0h0m-2.2-.2h0m-.9 0h0m4.8-.1h0m-3.3-.3h0m.9 0h0m1-1.2h0m-2-.1h0m-.4-.2h0m-.9-.4h0m3.9-.9h0m-2-.4h0m2-.1h0m-1-.1h0m-1.1-.3h0m1.1-.1h0m1-.1h0m.7-.2h0m-.5-.2h0m-1-.3h0m-.9-.2h0m1.1-.1h0m-1.3-.1h0m1.9-1.3h0m-.1-1.5h0m1-1h0m.1-.1h0m-.5-.2h0m-.2-9.8h0m-.5-.3h0m-.5-.5h0m-1.7-.3h0m1.9 0h0m-.9 0h0m-3.1-.3h0m-.1-.5h0m2.8-.2h0m-.5-.1h0m.8 0h0m1.6-.1h0m-3.8 0h0m1.7-.1h0m-1.1-.4h0m.8 0h0m2.3-.3h0m-3.4-.1h0m.8-.1h0m-2.1-.2h0m.5-.1h0m5.3-.3h0m-4.3 0h0m-1.2-.1h0m.8-.4h0m-.4-.6h0m-.3-.2h0m.1-1h0m2.8-.4h0m-2.7-.3h0m-.8-.9h0m5.7-.5h0m-.4-.3h0m-4-.2h0m3.4 0h0m1.5 3.5h0m.9 1.2h0m-.2 .2h0m.9 .4h0m2.8 0h0m-4.4 .4h0m2.7 .2h0m.7 .1h0m-1.8 .1h0m-1.8 .4h0m4.9 .4h0m-.9 .1h0m.4 .5h0m-.8 0h0m-3.5 .6h0m2.8 .3h0m-1.8 .6h0m-1.1 .4h0m1.8 .1h0m-.2 .1h0m-.6 .1h0m-.1 0h0m.5 .1h0m4.5 0h0m-.6 .2h0m.2 0h0m-1.6 .1h0m.8 .3h0m-1.7 .1h0m2.4 1.3h0m-3.4 0h0m-.1 .2h0m1 0h0m-.1 0h0m0 .2h0m1.3 .1h0m-.6 .3h0m-1.5 .2h0m3.9 .1h0m-4.3 .1h0m-.1 .9h0m.3 .1h0m2 .1h0m-.3 .1h0m-1 .2h0m1.7 .4h0m-2.2 .1h0m-.7 .1h0m3.3 .3h0m-1.2 .1h0m1.2 .2h0m-2.8 .7h0m-1.3 .1h0m.2 .2h0m-.1 .8h0m4 0h0m-2.8 .2h0m1.9 0h0m-2.2 .1h0m-.5 1.2h0m2.5 .1h0m1.9 .3h0m-5 .1h0m2.5 .1h0m0 .1h0m-.9 .4h0m3.7 .4h0m-3.9 .4h0m1.8 .1h0m-1.8 .5h0m-.4 .1h0m1 .3h0m3.4 .2h0m-.5 .1h0m-2.5 .6h0m-1.6 1h0m2.8 .1h0m-.3 .2h0m-2.2 .4h0m-1.5 .6h0m.6 .7h0m3.1 .5h0m-1.6 1.7h0m-1.8 1.1h0m1.5 .3h0m1.8 1.1h0m-2.5 1.1h0m-.6 .3h0m.3 1.1h0m-.7 .2h0m6.5-10.3h0m1.6-.7h0m-1.7-.6h0m1-2.3h0m.4-.5h0m-1.3-2.7h0m-.5-.1h0m.8-.5h0m.6-.1h0m.1-1.7h0m-1-.8h0m-.1-.1h0m1.6-.5h0m2.1-.1h0m-2.5-.3h0m1.3-.8h0m-2.5-3.6h0m.1-.1h0m-.3-1h0m.3-.7h0" stroke="#a77d65" stroke-width="2.40" stroke-linecap="round" fill="none"/><path d="M444 45.6h0m2.1 .8h0" stroke="#ffffff" stroke-width="0.90" stroke-linecap="round" fill="none"/><path d="M388.3 46.6h0m1.2 2.2h0m2.2 12.1h0m.6-5.5h0m.6-18.8h0m4.5-7h0m.4 5h0m2.6 5.6h0m-3.5 9.1h0m4.7 10.9h0m0 .5h0m-4.2 1.7h0m-.2 .3h0m0 4.7h0m8.1 12.2h0m-3-10.3h0m3.8-3.4h0m-3.5-1.7h0m-.1-1.5h0m3.8-.9h0m4.8-40.9h0m-1.6 11.8h0m4.4 8.3h0m-.1 17.6h0m-3.4 5.1h0m1.6 1.4h0m6.2-18.3h0m4.4-24.2h0m2.6 11.2h0m-4.5 6.6h0m1.7 1.5h0m-.4 1h0m-2 14.8h0m3.8 7.8h0m-2 9.3h0m7.1-11.4h0m-.2-3.5h0m-2.4-21.4h0m4.2-15.6h0m1.3-1h0m3.3 14.8h0m3.4-6.8h0" stroke="#a77d65" stroke-width="2.40" stroke-linecap="round" fill="none"/><path d="M348.6 57.4h0m21.3 25.6h0m7.7 2.4h0m3.9-5.3h0m-.3-4.5h0m-1.3-.8h0m9.2-56.5h0m-.9 3.9h0m-1.5 8.3h0m-.1 25.5h0m8.1 22.9h0m-3.8-6.5h0m5.7-25.1h0m4.9 17.2h0m.6 3.4h0m4.9-13.3h0m-2.9-23.4h0m9.8-14.9h0m-.3 27.4h0m-1.3 .6h0m-3.7 13.3h0m3.1 17.7h0m2.7-.3h0m3.5-23.4h0m1.1-35.1h0m-1-1.6h0m2.6 50.1h0m7.3-2.5h0m-.7-43.1h0m3.6-3.1h0" stroke="#a77d65" stroke-width="1.50" stroke-linecap="round" fill="none"/><path d="M419.9 47.5h0m-.4-.2h0m-.7-.7h0m-1.1-4.4h0m1.8-1.8h0m.2-1.6h0m0-.6h0m-1.3-3.2h0m-.6-.8h0m0-1.4h0m.1-.6h0m-1.3-.1h0m2.8-.9h0m.1-1.6h0m-2.1-.8h0m2.4-.4h0m3.2-4.2h0m-2.1 .7h0m1.1 .2h0m1.2 .2h0m-3 .5h0m.2 0h0m1.4 1.2h0m2.2 .4h0m0 2.2h0m.8 .3h0m-4.4 1.4h0m3.9 .8h0m-1.1 .3h0m-.2 .5h0m.4 1.5h0m-2 1.2h0m-.4 .5h0m1.6 .4h0m1.1 2.5h0m-.7 .3h0m1.5 .1h0m-2.9 .5h0m3.5 .5h0m-3.8 1.7h0m4.7 1.5h0m-1.1 .7h0m-3.1 3.4h0m2.6 .1h0m.6 1.7h0m.9 .5h0m-2.7 .7h0m.5 .9h0m-1.9 1.2h0m1.4 .6h0m-1 .8h0m.8 .4h0m-.5 .1h0m2.6 .1h0m.6 3.3h0m-.7 .1h0m-1.8 .1h0m1.5 1.9h0m4.7 6.1h0m2.5-6.6h0m-3.4-.2h0m2.4-1.3h0m.6-.1h0m-4.2-.7h0m.9-1.1h0m-1.9-.3h0m1.3-.8h0m-.4-5.9h0m-.1-1h0m6.3 11.8h0m-.8 .5h0m1.8 1.7h0m-1.7 .1h0m.1 0h0m3 1.4h0m-3.3 .5h0m2.7 1.6h0m-.8 1.3h0m1.8 1.6h0m.5 1.5h0m5.2-3.7h0m.6-1.2h0m-.6-1.1h0m-1.4-.5h0m-.1-.1h0" stroke="#a77d65" stroke-width="2.40" stroke-linecap="round" fill="none"/><path d="M425.9 31h0m-.1 4.5h0m6.1 17.7h0m-3.3-4.4h0m.4-2.2h0m1-1h0m1.6-.2h0m-1.7-3.7h0m-1-.6h0m-1.6-.4h0m1.1-.5h0m1.1-5.2h0m-2.4-.7h0m1.6-2.8h0m.6-1.2h0m-1.9-3.5h0m4.3-2h0m-3.2-.4h0m7.4-6.9h0m-.9 .4h0m-1.7 6.5h0m1.3 3.9h0m-1.5 .4h0m2.4 .6h0m.7 3.3h0m.5 2.6h0m-1.3 1.9h0m2.3 2.5h0m-1.6 1.1h0m1 0h0m-4.4 1.2h0m.4 1.2h0m1.7 6.6h0m-1.8 1.1h0m2.8 1.2h0m-1.9 .6h0m1.8 1.9h0m-1.7 .8h0m3.4 .5h0m-3.1 0h0m2.7 1.4h0m-3.9 1.9h0m2.7 1.9h0m3.3-3.1h0m2.2-6.4h0m1.4-1.7h0m-.2-2.2h0m-3.2-3.5h0m.3-1.4h0m2.9-1.5h0m.2-1.6h0m.9-.7h0m-.7-2.3h0m-3.9-2.9h0m.6-4.3h0m-.8-.1h0m5.1-4.6h0m-4.2-.5h0m4.8-6.8h0m-.3 2.5h0" stroke="#069bb9" stroke-width="2.40" stroke-linecap="round" fill="none"/><path d="M432 53.5h0m-1.4-4.1h0m-3.1-7.4h0m1.6-.8h0m-1-12.9h0m-1.1-1.6h0m2.8-.7h0m1.8-3.9h0m5.6-5.1h0m-3 12.2h0m-1.7 11.7h0m6 10.7h0m3.9-.3h0m-2.8-16.9h0m-.5-2.4h0m3.8-2.6h0m-3.7-11.2h0m6.2 2.5h0m2.9 4.2h0m-1.5 10.1h0m-1 1.2h0m1.4 7.4h0m-2.7 15h0m7.5-9.3h0m7.9-24.6h0m-.3 5h0m-2.6 3.3h0m.3 8.9h0" stroke="#069bb9" stroke-width="2.40" stroke-linecap="round" fill="none"/><rect x="336.4" y="0.4" width="136.4" height="101.2" fill="none" stroke="#747474" stroke-width="0.55"/><path d="M351.9 101.6v1.2M376.3 101.6v1.2M400.7 101.6v1.2M425.2 101.6v1.2M449.7 101.6v1.2M336.4 4.3h-1.2M336.4 19.2h-1.2M336.4 34.1h-1.2M336.4 49.1h-1.2M336.4 64.0h-1.2M336.4 78.9h-1.2M336.4 93.8h-1.2" stroke="#555" stroke-width="0.4" fill="none"/><g font-family="'Liberation Serif','Times New Roman',serif" font-size="4.9" fill="#000" font-weight="normal" stroke="#000" stroke-width="0.12"><text x="351.9" y="107.1" text-anchor="middle">−40</text><text x="376.3" y="107.1" text-anchor="middle">−20</text><text x="400.7" y="107.1" text-anchor="middle">0</text><text x="425.2" y="107.1" text-anchor="middle">20</text><text x="449.7" y="107.1" text-anchor="middle">40</text><text x="334.5" y="5.9" text-anchor="end">30</text><text x="334.5" y="20.8" text-anchor="end">20</text><text x="334.5" y="35.7" text-anchor="end">10</text><text x="334.5" y="50.7" text-anchor="end">0</text><text x="334.5" y="65.6" text-anchor="end">−10</text><text x="334.5" y="80.5" text-anchor="end">−20</text><text x="334.5" y="95.4" text-anchor="end">−30</text></g><text x="406.2" y="118.6" text-anchor="middle" font-family="'Liberation Serif','Times New Roman',serif" font-size="12.2" fill="#111">FEDformer</text><rect x="493.2" y="0.4" width="136.1" height="101.2" fill="#fff"/><path d="M496.5 0.4V101.6M515.1 0.4V101.6M533.7 0.4V101.6M552.3 0.4V101.6M571.0 0.4V101.6M589.7 0.4V101.6M608.4 0.4V101.6M627.2 0.4V101.6M493.2 17.4H629.3M493.2 36.1H629.3M493.2 54.8H629.3M493.2 73.5H629.3M493.2 92.2H629.3" stroke="#c9c9c9" stroke-width="0.45" stroke-dasharray="0.7 0.35" fill="none"/><path d="M503.5 53.7h0m-.2-.1h0m.5-1.6h0m-1.5-1.4h0m-1-.3h0m1.2-.4h0m-1.3 0h0m2.4-.6h0m.2-.7h0m-.3-1.1h0m-.8-.5h0m0-.6h0m-.2-.9h0m-1.6-.3h0m-.1-.4h0m.5-.1h0m2.2-.5h0m-.6-.4h0m.6-.6h0m.1-.7h0m-2.9 0h0m.4-.2h0m1.8 0h0m.6-.3h0m.4-.6h0m-2.4 0h0m0-.3h0m.5-.2h0m-1.3-.1h0m1.8-.1h0m.8-.4h0m-2.5-.4h0m2.6-.4h0m-1.5-.4h0m-.9-.6h0m.5-.2h0m2.3-1h0m-.9-1h0m-.8 0h0m.9-.2h0m-1.2-1h0m2.1 0h0m-1.7-.2h0m.6-.1h0m-.3-.8h0m.2-.9h0m6-8.8h0m.9 .2h0m-.6 .8h0m-1.1 0h0m.6 .3h0m-.3 0h0m1.1 .6h0m-2.1 .3h0m1.1 .5h0m-.9 .2h0m2.2 .1h0m-.1 .5h0m-3.1 .3h0m.6 .6h0m-.3 .5h0m.8 .4h0m1.8 .3h0m.1 .2h0m-3.5 .1h0m3.2 .1h0m-4 .1h0m2.6 .3h0m-.8 .3h0m-.7 .1h0m-1.4 .3h0m2 .1h0m-2.5 .3h0m-.3 0h0m2.1 .4h0m1.8 .1h0m-.6 1h0m.4 0h0m0 .5h0m.4 .2h0m-2.4 .5h0m-1.1 .1h0m2 .2h0m-1.9 .1h0m0 0h0m1.7 1.8h0m.4 .1h0m-.9 .7h0m1.3 0h0m2.1 0h0m-.2 .2h0m-.5 .1h0m-2.5 .1h0m3.1 .5h0m-.5 .2h0m-.2 .1h0m-2 .3h0m2 .1h0m-.3 .3h0m.9 .2h0m-3.2 0h0m.6 0h0m.1 0h0m-1 .1h0m-.5 .2h0m1.4 .2h0m.8 0h0m.1 .3h0m-.3 .6h0m-2.2 .4h0m2.2 .3h0m-2.6 .2h0m3.5 .2h0m2 .3h0m-3.6 .6h0m3.2 .2h0m-2.9 .1h0m-.4 .1h0m-.4 0h0m-1.5 .1h0m2.7 0h0m-1.5 .1h0m2.7 0h0m-1.8 .2h0m.7 .1h0m-2 0h0m3.8 .3h0m-4.9 .1h0m3 .9h0m2.5 .1h0m-1.8 .1h0m1.9 .8h0m-.2 .1h0m-1.4 .2h0m-1.1 .2h0m.6 .2h0m.3 .1h0m1.2 .1h0m-3.3 .1h0m2 .1h0m-2.2 0h0m2.5 0h0m1.1 .1h0m-2.5 .3h0m-2.6 .5h0m4.8 0h0m-1.4 .3h0m1.3 .1h0m-.6 .3h0m-2.8 .2h0m-.2 .4h0m4 .3h0m-3 0h0m-1.8 .2h0m.6 .2h0m1.5 0h0m.7 .2h0m-.5 0h0m-1 .1h0m2.2 .1h0m-3.2 0h0m2.3 .4h0m1.4 .3h0m.2 .1h0m-1.8 .5h0m.7 .4h0m-3.3 0h0m-.1 .2h0m1.2 .3h0m.7 .1h0m.6 .9h0m-.2 0h0m2.1 .1h0m-2.4 .1h0m.6 .1h0m2.3 .8h0m-3.6 .2h0m4.3 .5h0m-2.6 .3h0m-.6 .3h0m2.7 .8h0m.3 0h0m-1.1 .3h0m-2.3 .1h0m2.4 .3h0m-1.6 .2h0m1.8 .3h0m.7 .4h0m-.3 0h0m-1.4 0h0m1.3 1.5h0m0 .8h0m-.6 0h0m1.1 .1h0m-1.6 .1h0m.9 0h0m.2 1.3h0m-.4 .3h0m1.2 .4h0m0 .2h0m-.6 3.2h0m.7 1.1h0m.1 .9h0m-.7 2.1h0m.5 1h0m-1.6 1.5h0m-1.5 .8h0m3 0h0m-.6 .1h0m-.3 .2h0m-.6 1.1h0m.3 0h0m-2.4 .6h0m2.9 .3h0m-1.8 .2h0m2.5 0h0m-3.5 .2h0m1.6 .4h0m.4 .2h0m.1 .2h0m-.4 .2h0m1.1 .6h0m.8 .1h0m-1 .1h0m-.6 0h0m.7 .5h0m-2.8 .4h0m1.2 .1h0m1.5 .2h0m-2 .1h0m-1.7 .2h0m2.8 .3h0m.5 .2h0m1.2 .6h0m-3.8 0h0m.2 .1h0m3.1 .1h0m-2 .1h0m2.5 .1h0m-1.4 .6h0m-.2 0h0m-1.6 .1h0m-.1 .3h0m2.3 .1h0m1.1 .1h0m-2.2 .1h0m2.1 .1h0m-.9 .1h0m1.2 1h0m-1.2 1.6h0m1.3 .2h0m5.8 3.1h0m-1.5-1.5h0m1-.2h0m.5-.2h0m-2.3-.4h0m.3-.3h0m-1.5-.3h0m-1.1-.1h0m4.2-.1h0m-1.4-.2h0m-2.4-.2h0m-.9-.3h0m2.3-.1h0m-.1-.1h0m-2.5-.1h0m.7-.5h0m-.7-.2h0m1-.1h0m.9 0h0m.1 0h0m1.6-.2h0m-2.3 0h0m2.3 0h0m-2.6-.1h0m2.9 0h0m-1.1-.1h0m1.2-.4h0m-3.9 0h0m.8-.2h0m2.7-.2h0m-2.4-.2h0m-.4-.2h0m3.8-.4h0m-3.3-.3h0m-1.6-.4h0m2.1-.3h0m2.8-.1h0m.6-.2h0m-1.6 0h0m-.8-.1h0m.3 0h0m1.1-.3h0m-1.3-.3h0m1.1-.1h0m.2-.5h0m-2.5-.1h0m2.2-.2h0m-2.1-.1h0m.4 0h0m3.1-.3h0m-.5-.3h0m0-.1h0m.3-.1h0m-4.3 0h0m1.5-.1h0m1.5-.9h0m.6-.1h0m-.7-.4h0m-3.4-.4h0m5.2-.1h0m-2.5-.1h0m-.7-.2h0m2.5-.4h0m.5-.2h0m-4.1-.1h0m4-.1h0m-4.6-.1h0m4.7-.4h0m-2.6-.1h0m2.3-.1h0m.5 0h0m-4.5-.2h0m.8-.2h0m2.7-.2h0m-4-.1h0m.4-.8h0m4.3-.1h0m-1-.1h0m-.2-.4h0m-3.8 0h0m1.1 0h0m-1-.1h0m3.3 0h0m-1.2-.2h0m1.9-.1h0m-1.8-.1h0m-2-.2h0m.9-.1h0m.8-.1h0m3-.1h0m0 0h0m-3-.1h0m2.3 0h0m-2.2-.2h0m.4-.1h0m-1.1-.1h0m2-.2h0m-3.8-.2h0m2.1-.2h0m-.6 0h0m0-.1h0m-.5 0h0m3.9-.3h0m0 0h0m-2.3-.2h0m2.4-.1h0m-1.6-.2h0m-1.2-.1h0m0-.1h0m2-.1h0m-4.1-.1h0m4.4 0h0m-1.7-.4h0m1.8 0h0m-3.9 0h0m3.1-.2h0m.2-.3h0m-.2-.2h0m-1-.3h0m.8-.2h0m-2.2-.2h0m-1.3 0h0m3.6-.3h0m-.1-.1h0m.6 0h0m-4.1-.1h0m1.8-.1h0m1.8 0h0m-.6-.3h0m.5-.2h0m-1.9-.3h0m2.7-.1h0m.5-.2h0m-.5-.3h0m-4.5-.1h0m1.7 0h0m1.8-.1h0m-.8-.1h0m1.3 0h0m-3.8-.1h0m1.5-.5h0m3.4 0h0m-1.3-.2h0m.7-.1h0m-3.3 0h0m4.2-.1h0m-4.2-.5h0m1.4-.2h0m2.5-.6h0m-2.8-.1h0m.6-.1h0m2.6-.5h0m-1.5 0h0m.9-.2h0m-1.6-.1h0m.7-.2h0m-3.9-.6h0m-.1 0h0m.4-.4h0m3.9-.1h0m.5-.1h0m-.5 0h0m1-.8h0m.4-.1h0m-4.7-.2h0m4.7-.3h0m-1.6 0h0m0-.2h0m-.9-.8h0m2.6-.4h0m-4.4 0h0m-.3 0h0m3.7-.1h0m-1.1 0h0m.1-.4h0m-1.7-.5h0m1.6-.1h0m-2.6-.1h0m3.2-.3h0m-.2-.1h0m-1.3-.3h0m-1-.2h0m1.5-.1h0m-3-.1h0m.6-.3h0m2.7-.3h0m-.8-.1h0m-2.8-.2h0m.5-.3h0m5.2 0h0m-1.4-.1h0m-1.4-.3h0m-1-.1h0m-.4-.4h0m1.7-.3h0m0-.1h0m2.1 0h0m-2.1-.4h0m-3 0h0m2.4 0h0m-.1-.4h0m1.4-.3h0m1.5-.4h0m.1-.1h0m-4-.1h0m-.4 0h0m1.2-.5h0m2.8-.4h0m-1.2 0h0m-1.7-.2h0m-1.7-.1h0m2.6-.2h0m-2-.1h0m3.9-.3h0m-4-.1h0m1.4 0h0m-.1-.1h0m2.8 0h0m-3.6-.1h0m-1.4-.1h0m5.1 0h0m-1.2-.1h0m.2 0h0m-1-.1h0m.9-.3h0m-1.5-.1h0m3.1 0h0m-3.5-.1h0m2.9 0h0m.6-.1h0m-3.6 0h0m-.2-.2h0m-1.2-.2h0m.4-.2h0m3.2-.3h0m-.5 0h0m-1.5-.1h0m-1.1-.2h0m2.4-.1h0m-.8-.1h0m-2.8 0h0m5.3 0h0m-4.5-.1h0m.5-.1h0m.8-.1h0m3.3-.1h0m-5.1 0h0m0-.1h0m2.5-.1h0m-2.3 0h0m.5-.1h0m4.4-.8h0m-1.8-.3h0m-1.7-.1h0m-.5-.1h0m-.4-.5h0m1.3-.2h0m2.7-.3h0m-2.8-.1h0m3-.1h0m-2.8-.1h0m.6-.2h0m2.6 0h0m-1.4 0h0m-3.6-.2h0m2.3-.2h0m1.5-.4h0m-2.5 0h0m-1.6-.3h0m1.3 0h0m2.6-.3h0m-1.7-.2h0m3.3-.2h0m-4.1-.3h0m.8-.4h0m2.2 0h0m-.9-.2h0m-.9 0h0m-1.9-.2h0m1.2-.1h0m.9-.2h0m-2.9-.2h0m.9-.3h0m.6-.4h0m2.5 0h0m-3-.2h0m.4-.1h0m-.8-1.1h0m-.6-.1h0m.3-3.4h0m1.4-1.1h0m-1.1 0h0m2.7-.3h0m-2-.5h0m.6 0h0m3-.5h0m-.3-.1h0m-3.1-.6h0m3.1-.3h0m-.7 0h0m1.2-.2h0m-3.2-.2h0m2.1-.1h0m-.7-.2h0m-1.4 0h0m3.2-.2h0m.1-.3h0m-1.5-.2h0m-1.6-.5h0m-.8-.1h0m-.9-.3h0m-.6-.1h0m3.8-.1h0m-1-.1h0m.4-.1h0m1.7-.3h0m-1.4-.2h0m-2.4-.1h0m1.5-.1h0m1.3-.2h0m-2.9 0h0m3.2-.1h0m-.3-.4h0m2-.1h0m-1.3 0h0m-1.9-.3h0m2.1-1h0m.9-.1h0m-.9 0h0m-1.5-.2h0m.2-.1h0m-.6-.5h0m-.7 0h0m-1.5-.2h0m3.5 0h0m-1-.1h0m1-.1h0m-1.3-.2h0m-1.1 0h0m-.9-.3h0m1-.2h0m.3-.4h0m-2.1 0h0m4.2-.1h0m.4-.4h0m.7-.3h0m-1-.1h0m-.1-.4h0m-.9-.1h0m-.3-.6h0m.6-1.4h0m1.2 0h0m.4-.5h0m.3-.3h0m-.2-1.3h0m0-.2h0m6.5-5.2h0m-1.2 1h0m1.1 .8h0m-1.4 .1h0m-.2 .2h0m-1.2 .7h0m1.3 0h0m-1 .9h0m.3 .2h0m-1.9 .2h0m2.6 .1h0m-1.5 0h0m-.6 .2h0m-.8 .2h0m3.9 .3h0m-.9 0h0m-3 .1h0m1.2 .1h0m-1.6 .2h0m-1 0h0m1.1 .2h0m4.2 .4h0m-3.6 .4h0m3.6 .1h0m-2 .5h0m-2.2 0h0m-.4 0h0m.2 .3h0m.6 .1h0m2.2 .4h0m.6 .3h0m-2.5 .5h0m1.4 .2h0m-2.2 .1h0m1.7 .1h0m-2.7 .2h0m3.6 .1h0m-.8 .2h0m-1.1 0h0m-.1 0h0m-1.2 0h0m5.5 .2h0m-1.7 0h0m-1.1 0h0m.7 .2h0m-1.5 .3h0m.1 .3h0m1.5 .4h0m-2.8 .1h0m.6 .1h0m1.5 .1h0m-1.1 .1h0m-2.1 .4h0m4.2 0h0m-4.3 .3h0m2.7 .2h0m2.3 0h0m-3.2 .7h0m2.8 0h0m-1.6 .4h0m.2 0h0m1.6 .1h0m-1.3 .4h0m-3 .1h0m2 .3h0m-1.7 .5h0m1.3 .5h0m1.8 .2h0m.5 .3h0m-.7 .2h0m-.2 0h0m-.8 .2h0m1.4 0h0m1.5 .1h0m-4.5 .3h0m1.6 .6h0m.5 .1h0m2.5 0h0m-.8 0h0m-2.2 .4h0m2 0h0m-3.2 .2h0m.5 0h0m-1.3 0h0m1.2 .1h0m1.9 0h0m-3.3 .2h0m4 0h0m-.1 0h0m-.9 .1h0m-.3 .2h0m-.7 .3h0m-.9 .2h0m1.2 .4h0m1.4 .6h0m-3.6 .4h0m1.9 .5h0m1.6 .3h0m-1.3 0h0m.8 .2h0m1.6 .3h0m.7 1.1h0m0 1h0m-.1 .4h0m-.1 .3h0m-.3 1.4h0m.2 .5h0m-3.5 0h0m-.2 .4h0m.5 .5h0m2.3 .2h0m-4.3 .4h0m5.6 .4h0m-.4 .2h0m0 .1h0m-2 0h0m-3.4 .2h0m2.3 .3h0m.9 .2h0m.7 .4h0m-2.2 .1h0m1.2 .3h0m-.8 0h0m3.5 .1h0m-2.6 .2h0m1.5 .4h0m-1.6 0h0m2.4 .3h0m-1.7 0h0m-3.6 .4h0m5.4 .1h0m-4.8 0h0m3.9 0h0m1 .1h0m-5.2 .3h0m1.2 0h0m3 .1h0m-1.3 0h0m-.8 .1h0m-.7 .1h0m.5 0h0m.1 .4h0m-2.1 .1h0m.7 .3h0m-.3 0h0m-.5 .3h0m2.6 .6h0m-.8 0h0m2.4 .4h0m-.2 .1h0m-.4 .2h0m.9 .1h0m-4.3 .2h0m3.8 0h0m.3 .4h0m-4.3 .3h0m-.2 .1h0m5.1 .2h0m-.7 .1h0m.1 .2h0m-4 .2h0m2.5 .4h0m-3.1 .1h0m4.9 .3h0m-4.6 .2h0m2.7 0h0m-1.1 .1h0m2.6 .5h0m-1.2 .2h0m-1.3 .1h0m-.8 .1h0m4.7 .2h0m-3.4 .2h0m-1 .2h0m-.7 4.2h0m3.6 .6h0m.6 .2h0m-2.9 0h0m1.9 .2h0m-2.1 0h0m1.8 .1h0m1.1 .1h0m-1.8 .1h0m2 .4h0m-2.8 .3h0m-.8 0h0m2.3 0h0m-2.3 .1h0m.9 .4h0m3.1 0h0m-.9 .1h0m-4.3 .2h0m3.4 .4h0m-.2 .1h0m-2.6 .4h0m.8 .3h0m-.2 .7h0m3.8 0h0m.4 .1h0m-.3 0h0m-2.2 .4h0m-2.5 .3h0m3.6 0h0m-3.6 .2h0m3.8 0h0m-3.6 .1h0m2.3 .5h0m-1.3 .5h0m-1.2 .1h0m1.9 .1h0m-2 .2h0m.3 0h0m2.3 0h0m-1.4 .2h0m1.8 .5h0m.7 .2h0m.8 .1h0m-3.8 0h0m2.1 .1h0m-1.4 .1h0m3.9 0h0m-.8 .1h0m-1.8 0h0m-1 .3h0m1 .1h0m-1.2 .1h0m-1.2 .1h0m3.9 .4h0m1 .5h0m-2.7 .1h0m-2.8 .1h0m.8 .7h0m3.5 .4h0m-1.8 .1h0m-1.7 .9h0m3.2 .2h0m.2 .1h0m-2.7 0h0m1.1 .1h0m-2.3 0h0m.6 .1h0m.4 .2h0m4.3 0h0m-.4 .2h0m-.1 .1h0m-2.4 .3h0m.3 0h0m-3.2 .2h0m.4 .3h0m4.5 .2h0m-4.7 .1h0m.9 .1h0m3.5 .1h0m-2.3 .5h0m1.3 .1h0m-2.3 0h0m2.1 0h0m-.2 .1h0m-2.1 .1h0m4 .1h0m-2.9 .5h0m2.4 .1h0m-1.3 .1h0m-1.1 .4h0m-.7 .3h0m-.1 .5h0m1.4 .2h0m3.1 0h0m-4.1 .1h0m2 .3h0m-3.6 .3h0m1.9 .1h0m-1.6 .2h0m5.1 0h0m-.4 .2h0m-1.4 0h0m.3 .3h0m-.5 .2h0m-1 .1h0m-1 .6h0m-1.2 0h0m.7 .1h0m-.1 .1h0m.7 .5h0m-.5 0h0m4.3 .2h0m.3 .2h0m-1.5 .1h0m-4.2 .2h0m5.7 .3h0m-1.8 .3h0m-3.9 .2h0m1.1 .2h0m-.4 .1h0m5 0h0m-4.4 0h0m.1 .2h0m2.6 .1h0m1 .2h0m-4.1 .3h0m.7 0h0m4.1 .4h0m-.6 .1h0m-2.8 .1h0m.2 .2h0m-1.5 0h0m3.6 .1h0m-2.3 .1h0m-2.3 .5h0m4.1 0h0m0 .1h0m-3.4 .2h0m-.2 .1h0m5.4 .2h0m-4.9 0h0m2.2 .1h0m.4 .1h0m-3.7 .2h0m1.5 0h0m2.6 0h0m-2.9 .1h0m.6 .1h0m1.2 .1h0m-1.6 .1h0m4.5 .3h0m-.5 .1h0m-1.4 .1h0m-3.5 0h0m-.4 .2h0m3.4 .2h0m-1.7 0h0m2 0h0m1.4 .5h0m-1.8 .1h0m-1.2 .1h0m1 .1h0m1.8 .1h0m-2.9 0h0m.8 .1h0m-.5 .6h0m1.9 .2h0m-.1 .1h0m-2.1 .2h0m.5 .1h0m1 .1h0m-1.8 0h0m-1.7 0h0m3.4 .1h0m-.4 .1h0m1.3 0h0m-.4 .4h0m-2.9 .2h0m1.7 .1h0m2.4 .1h0m-.7 .3h0m.8 0h0m-5 .1h0m.6 0h0m.1 .5h0m2.9 .3h0m-3 .1h0m2.7 0h0m-2.8 .1h0m3.1 .4h0m1.2 .2h0m.4 .1h0m-1.8 .3h0m1.8 .2h0m-1.7 0h0m.1 .2h0m-.1 .2h0m-.3 0h0m1.9 .1h0m.3 .1h0m-4.9 .4h0m.6 0h0m4.4 .2h0m-2.2 .2h0m.8 0h0m-1.2 .1h0m.7 .1h0m1.9 .4h0m-3.1 .2h0m-.7 .2h0m-.1 .5h0m3.2 .1h0m-3.5 .1h0m2 .7h0m1.1 .2h0m.4 .4h0m-1.5 .1h0m.1 .3h0m6.1 1.2h0m-.6-.1h0m.3-.2h0m-3-.2h0m.6-.2h0m1.9-.4h0m2.3-.1h0m-4.8-.1h0m3.3-.2h0m.4-.1h0m-2.6 0h0m1.6-.3h0m-1.4-.1h0m0-.3h0m-1-.1h0m1.9-.1h0m2 0h0m-.5 0h0m-.5-.8h0m1.8-.1h0m-1.2-.1h0m1.5-.1h0m-5.5 0h0m5.3-.1h0m-2.8-.1h0m2.2-.2h0m-3.2-.1h0m2.6-.1h0m1.6 0h0m-.9-.2h0m-.3-.2h0m-1.3 0h0m.6 0h0m-3.4-.1h0m1.9-.4h0m2.3-.4h0m-.7-.6h0m-1.9 0h0m-.1-.3h0m2.5-.3h0m.4-.7h0m.4-.2h0m-.3-.3h0m-2.1 0h0m.5-.1h0m-2.4-.3h0m3.2-.3h0m-3.1-.1h0m4.2 0h0m-3.8 0h0m1.3-.2h0m1 0h0m-.8-.1h0m-1.3-.1h0m2.8-.1h0m-4.2-.2h0m5.4 0h0m-4.3-.2h0m-1-.5h0m2.6-.1h0m-1.1-.1h0m-1 0h0m4.6-.1h0m-2.9-.1h0m-.1-.3h0m-.8-.2h0m1.1 0h0m1.6-.1h0m-1.4 0h0m-2.1 0h0m2.5-.2h0m-.4-.1h0m-2.5-.5h0m2.1 0h0m-1.8-.1h0m3.8-.4h0m.9 0h0m-3.1 0h0m0-.1h0m-2.2 0h0m-.2-.3h0m1.3-.1h0m3-.1h0m-.9-.3h0m-1.2-.1h0m-.8-.6h0m1.8-.4h0m.6-.1h0m-.3-.2h0m-3.6 0h0m2.8-.3h0m-1.1-.1h0m-.5-.1h0m-.7-.6h0m1.8 0h0m-.8-.2h0m-1.6-.1h0m1.7-.2h0m1 0h0m2.5-.3h0m-4.7 0h0m5-.2h0m-5.2-.1h0m.7-.5h0m3.7-.4h0m-1.5-.2h0m.5-.1h0m1.5-.2h0m-3.4 0h0m.9-.1h0m.2-.3h0m-.3-.4h0m-.6 0h0m-.5-.6h0m-.8-.1h0m4.3-.1h0m-4.6-.2h0m3.2-.1h0m-.6 0h0m-.1-.2h0m1.2-.2h0m.5-.1h0m-2.9-.1h0m2.8-.1h0m-3.1-.2h0m1.8-.1h0m.6-.1h0m.5-.1h0m-2.8 0h0m.7-.1h0m1.2-.8h0m-3-.5h0m2.7 0h0m2.4-.4h0m-4.8 0h0m1 0h0m-.2-.3h0m.1-.2h0m.4-.2h0m-1.4-.2h0m2.9-.4h0m1.6 0h0m-2.1 0h0m.5-.4h0m-.6-.1h0m1.4-.2h0m1.6-.4h0m-.2-.1h0m-1.9-.3h0m-.9 0h0m1.4 0h0m-2.6-.1h0m.3-.1h0m-1.9 0h0m5.3-.5h0m-3.6-.2h0m-1.2-.1h0m-.1-.4h0m.4-.1h0m-.1-.2h0m4.3 0h0m-.4-.4h0m-.3-.1h0m-3.7-.1h0m3.2 0h0m-1.4 0h0m-1.6-.1h0m4.9 0h0m-1.1 0h0m-2.5-.3h0m2.1-.2h0m-.6-.3h0m-2.3-.6h0m2.6-.1h0m1.4-.2h0m-4.1-.3h0m.4 0h0m1.4-.1h0m-.2-.3h0m1.4 0h0m1-.3h0m-.8-.1h0m.9-.1h0m-2.1 0h0m1.6 0h0m-4.7-.1h0m4.6 0h0m-.1-.1h0m-2.7-.2h0m.4-.3h0m.5-.1h0m-.5-.1h0m-1.6-.5h0m3.2-.1h0m-2.3-.1h0m-.2 0h0m-1.2-.1h0m2-.3h0m.1-1h0m-1-.3h0m-.8-.2h0m-.5-.3h0m1.4-.2h0m2.6 0h0m-4.1-.2h0m2.9-.1h0m1.1-.1h0m-3.9-.1h0m4.9 0h0m-3.5-.1h0m.1 0h0m-1.1-.4h0m.3-.2h0m4.8-.3h0m-5.1 0h0m4.7 0h0m-1.3-.5h0m-.9 0h0m.6 0h0m-2.7-.1h0m-.4-.1h0m1.8-.2h0m-.2-.2h0m-2 0h0m2.7-.2h0m1.6-.3h0m-2.7-.1h0m4-.4h0m-3.2-.1h0m3.3-.3h0m-5.8-.1h0m3.3 0h0m1.2 0h0m.9-.1h0m-3.5-.4h0m1.2-.2h0m-1.9 0h0m1.7 0h0m.9-.2h0m.9-.2h0m-.5-.5h0m-.4-.2h0m-.6-.1h0m.3-.4h0m1.4-.1h0m.5-.1h0m-.1-.1h0m-2.8-.4h0m1.2-.1h0m.9-.3h0m.5-.1h0m-2.3-.5h0m1.4-.4h0m-2 0h0m-.9-.4h0m2.2-.1h0m-3.2-.2h0m5.5-.5h0m0-.2h0m-1.2-.1h0m-2.7-.2h0m2.1-.2h0m.7 0h0m-3.6-.3h0m2.7-.1h0m.2-.1h0m.2 0h0m-3.7-.1h0m4.2-.1h0m-3.8-.2h0m1.1-.1h0m-.9-.1h0m.3-.1h0m-.3-.2h0m3.5 0h0m.4-.1h0m-1.7-.4h0m-1.9 0h0m.1-.2h0m-.6 0h0m2.8-.1h0m-1.4-.3h0m2.9 0h0m.7-.4h0m-5.5 0h0m2-.2h0m-.6-.5h0m.5-.2h0m-1.2-.6h0m1.5-.6h0m1.6 0h0m1.6-.4h0m-5.1 0h0m2.5-.2h0m-2.6-.2h0m4.4-.3h0m.8 0h0m-4.2-.2h0m2.9 0h0m-1.1 0h0m.2-.1h0m-2.2 0h0m.5-.6h0m3-.3h0m.5-.4h0m-2.8-.1h0m-1-.2h0m3.4 0h0m-3.7-.3h0m2.4-.4h0m-2.1-.2h0m2.3-.4h0m-1.9-.2h0m-.6 0h0m3.6-.2h0m-1-.2h0m1.6-.5h0m-1.6-.1h0m-.7-.1h0m.3-.3h0m-2.7 0h0m2.8-.2h0m-2.7-.2h0m3.9-.1h0m-.2-.2h0m-.1-.1h0m-4.4-.5h0m1.7-.3h0m2.8 0h0m-1.1-.3h0m1.2-.3h0m-.5-.8h0m.6 0h0m.8-.2h0m-2.5-.1h0m-2.9-.1h0m4.5-.2h0m-1.2-.5h0m-3.2-.2h0m4.4 0h0m-1.9 0h0m-2.8-.4h0m2.4-.4h0m-1.7 0h0m.4 0h0m-.7-.2h0m3.7-.4h0m-3.3-.1h0m2.7-.2h0m-2-.1h0m.6 0h0m-1.7-.1h0m5-.2h0m-1.4-.3h0m1.9-.1h0m-4.4-.1h0m-1.1 0h0m5.1-.2h0m-5-.2h0m0-.8h0m.3-.1h0m.9-.2h0m-1.1-.1h0m-.2 0h0m3.4-.1h0m-3.5-1.8h0m.2-.1h0m-.1-.7h0m0-.1h0m2.9-.5h0m-2.1-.7h0m2-.1h0m-.8-.2h0m-1.1-.9h0m2-.3h0m-.7-.3h0m-.2-.1h0m1 0h0m0-.4h0m1.5-.1h0m-2.9 0h0m.1-.4h0m-1.6-.8h0m.9-.2h0m-1.5-.4h0m2.6-.2h0m-1.1 0h0m2.3-.2h0m-.8-.2h0m-2.6-.3h0m3 0h0m1.5-.1h0m-3.5-.3h0m-.3-.8h0m2.6-.1h0m0 0h0m.2-.2h0m-3.5-.1h0m-.4 0h0m2.1 0h0m-.6-.2h0m1.3 0h0m-1.4-.1h0m-.1-.2h0m4.2-.2h0m-3.8-.2h0m.4-.2h0m3.3-.6h0m-.7 0h0m-4.6 0h0m4-.1h0m-2.8-.2h0m-.9-.1h0m1.5-.5h0m.6-.2h0m-.6-.1h0m-1.8-.2h0m3.6-.1h0m-2.2-.2h0m-1 0h0m1.2-.2h0m3.1 0h0m-.4 0h0m-4.1-.2h0m1.5-.2h0m-1.6-.7h0m1.9-.4h0m3.6-.3h0m-2.4-.7h0m-.4-.3h0m-.6-.1h0m-1.2-.1h0m4.4-1.1h0m-.1-.4h0m6.4-.7h0m-2.9 .1h0m1.8 .2h0m-3.9 .8h0m4.8 .2h0m-2.9 .1h0m-2.7 .3h0m2.8 .1h0m-.2 .5h0m-1 .1h0m-.6 .5h0m0 .1h0m2 0h0m1.3 .1h0m-.1 .2h0m-1.7 0h0m2.1 .2h0m-3.1 .1h0m-.3 .3h0m1.2 .2h0m2.8 0h0m-4 0h0m3.6 0h0m-1.8 .1h0m1.1 0h0m.2 .1h0m-4.2 0h0m.5 0h0m5.4 .6h0m-4.7 .1h0m1.3 .5h0m-.8 .3h0m-1.1 0h0m2.1 .3h0m-2.3 .1h0m3.7 .1h0m-.2 .1h0m-3.2 0h0m4.3 .2h0m-2 .6h0m-.8 .1h0m-1.5 0h0m2.5 0h0m-2.4 .4h0m1 .1h0m-1.5 .1h0m3.2 .8h0m.3 .3h0m1.5 .1h0m-1.4 .1h0m-.8 .1h0m.6 .3h0m2 0h0m-3.8 .1h0m-1.2 .1h0m4.2 .2h0m-.3 .5h0m.7 .4h0m-.8 0h0m-3.3 .3h0m3.4 1.3h0m-.5 .8h0m1 3.1h0m-1.1 .1h0m1 .1h0m-1.4 .1h0m1.8 0h0m0 .6h0m-.8 .9h0m-1.6 .2h0m2 .2h0m-1.4 0h0m1.7 .2h0m-.5 .3h0m-2.6 .8h0m.1 .1h0m1.7 .4h0m.6 .1h0m-1.6 .1h0m-1.2 .1h0m-1.2 .4h0m2.8 0h0m2.5 .1h0m-1.8 0h0m-.8 .9h0m0 0h0m-2.3 .2h0m1.1 .2h0m-.5 0h0m.9 .1h0m-.4 .4h0m.6 0h0m0 1.2h0m-2 .1h0m-.6 .1h0m2.2 .5h0m-1.8 .2h0m-.4 .1h0m3.3 0h0m-2.1 .3h0m-1.1 .2h0m2.7 .1h0m.9 .2h0m.1 .1h0m-.1 .3h0m-.5 .2h0m-1.9 0h0m.3 .3h0m2.9 .1h0m-3.8 1.5h0m1.4 .5h0m-1 .2h0m-.1 .1h0m-.2 .2h0m2.5 .1h0m-.9 .1h0m-1 .2h0m2.6 .4h0m.3 .2h0m-4.2 .7h0m2.2 .5h0m-2.4 .3h0m.4 .4h0m.5 .6h0m-.8 0h0m.5 .2h0m-.4 0h0m.9 .5h0m1.8 .2h0m.1 .2h0m-2.9 .2h0m1.1 .2h0m-.7 .8h0m.1 .6h0m.8 .8h0m-.8 .6h0m.1 .6h0m-.3 .4h0m1.4 .2h0m-.8 .1h0m.2 0h0m-.2 0h0m-.1 0h0m1.1 1.1h0m-1.9 .2h0m1.1 .7h0m0 0h0m.3 0h0m.9 0h0m-2 .5h0m2.2 .8h0m-2.6 .2h0m2.2 .2h0m.3 .7h0m-1.2 .1h0m1.7 .7h0m-3 .2h0m2.1 1.1h0m-1.8 .2h0m2.6 .2h0m-1.4 0h0m-1.2 .2h0m3.1 .1h0m-2 .2h0m-.2 0h0m2 .4h0m-.9 .4h0m.8 .2h0m-.4 0h0m-2.1 .1h0m0 .5h0m2.9 .1h0m-2.2 .5h0m3.9 .5h0m.1 .5h0m-3.4 0h0m0 .8h0m2.6 .1h0m-2.4 .2h0m1.9 .5h0m-3 0h0m.4 .2h0m.5 .3h0m1 .3h0m-2.3 0h0m4.6 0h0m-2.4 0h0m-2.3 .3h0m.6 0h0m1.9 .1h0m.5 .2h0m1.1 0h0m-1.1 .2h0m-1.8 .1h0m3.6 0h0m-3.3 .1h0m3 .1h0m-3.2 0h0m4 0h0m-3.8 .1h0m-.6 .2h0m3.3 0h0m-3.5 .1h0m4.6 .1h0m-5.3 .4h0m-.5 0h0m4.7 .5h0m-.8 0h0m.8 .2h0m-2 .3h0m1.5 .2h0m1.2 .1h0m-5.1 0h0m3.7 .2h0m-2.9 0h0m.1 .2h0m1.3 .4h0m3.2 .1h0m-1.5 .4h0m-2 .1h0m-.9 .2h0m2.7 .4h0m.1 .3h0m-.4 .3h0m-2 0h0m3.5 .1h0m-2.6 .1h0m3 0h0m-3.5 .3h0m2.5 .3h0m-.1 0h0m-2.2 0h0m-1.4 .3h0m.8 0h0m3.5 .2h0m0 .2h0m.2 .2h0m-.9 .2h0m-2.7 .3h0m-1.5 0h0m2.8 .2h0m2.6 0h0m-1.7 .1h0m0 .1h0m-3.5 .3h0m4.9 .1h0m-5.1 .5h0m3.7 .1h0m-3 .1h0m4 0h0m-4.2 .3h0m3.9 .2h0m-3.1 .3h0m4 .1h0m-2.6 0h0m-1.7 0h0m-1.1 .1h0m3.9 .3h0m.1 0h0m-3.9 0h0m-.1 .1h0m5.5 .2h0m-3.7 .1h0m1.7 .2h0m1.1 0h0m-2.9 .2h0m.7 0h0m-2.4 .3h0m2.1 .1h0m.5 1h0m.7 .1h0m-2 .3h0m.2 .4h0m1.9 .2h0m-1.8 .8h0m2.8 .5h0m-3.3 .4h0m3.2 0h0m-.4 .1h0m1.6 0h0m-.8 .4h0m-3.1 .9h0m-1.2 .2h0m4.3 .4h0m-3.7 0h0m-1 .2h0m3.8 0h0m-1.1 .6h0m-2.9 .4h0m2.6 .1h0m-.6 .1h0m.2 0h0m1.6 .2h0m.5 .2h0m.6 .5h0m-1.9 0h0m.2 .5h0m-.8 .5h0m0 .2h0m.5 0h0m-1.3 .3h0m2.3 .1h0m-3.4 .3h0m3.7 0h0m-.8 .2h0m-2.7 .1h0m-.5 .1h0m1.8 .9h0m-1.6 .1h0m5.3 .2h0m-.4 0h0m-2.5 .2h0m-2 .3h0m1.8 .4h0m.6 0h0m-1.7 .1h0m3.7 .1h0m-.9 .3h0m1 .1h0m.4 .1h0m-.3 .2h0m-.2 .1h0m-2.2 0h0m2.5 .2h0m-3.8 .1h0m-1.1 0h0m0 .1h0m.4 0h0m4.2 0h0m-.8 .2h0m-1.7 .3h0m-1.4 0h0m2.3 .2h0m.1 .3h0m-2.6 0h0m.1 .3h0m-.6 .5h0m4.3 .1h0m-2.8 .1h0m-1.8 0h0m4.5 .1h0m-.1 0h0m-4.7 .1h0m.7 .2h0m-.4 .1h0m2.4 1.1h0m-1.3 .2h0m4.1 .3h0m-5.6 .1h0m4.3 .4h0m-4.3 1.5h0m10.5 1.4h0m-.1-.4h0m-.4-1.2h0m-.8-.2h0m1.5-.2h0m-.3 0h0m-1.6-.2h0m-2.4-.3h0m2.2-.3h0m.6 0h0m.5-.2h0m1.5-.1h0m0-.3h0m-3-.1h0m.3-.1h0m1-.3h0m-1.5-.1h0m3.1-.1h0m-2.5-.2h0m-2.2-.1h0m3.1-.2h0m.1-.3h0m-1.6-.1h0m.4-.1h0m1.9 0h0m-.3-.6h0m1.7-.2h0m-4.1 0h0m-1.2-.3h0m-.3-.1h0m.2 0h0m4.7-.1h0m-3.3-.4h0m3.1-.1h0m-1.8-.7h0m-.6 0h0m2.8-.1h0m-2.1 0h0m1.8-.1h0m-3.9-.2h0m-.9-.2h0m4.8-.9h0m-2.1-.1h0m-2.8 0h0m5.6-.2h0m-1.3-.3h0m-.2-.2h0m-3.5-.1h0m5.1-.1h0m-2.9 0h0m-.3-.1h0m.1-.1h0m.5 0h0m1.5-.4h0m1.1-.2h0m-3.8 0h0m1.8-.3h0m-1.4-.1h0m-1.4-.1h0m2.3 0h0m-3.2 0h0m3.9-.5h0m.7-.1h0m1.2-.8h0m-4.4-.1h0m-.6-.5h0m1.9-.1h0m1.6 0h0m.1 0h0m-.8-.1h0m1.6 0h0m-1.6 0h0m-1.7-.1h0m3 0h0m-1.4 0h0m-2.2-.1h0m.9-.2h0m-1.1-.5h0m3.4-.7h0m.7 0h0m-1.9 0h0m-.3-.1h0m.2-.1h0m-2.1-.1h0m3.4-.1h0m1.1-.2h0m-5.1-.2h0m3.5 0h0m-1.1-.1h0m2 0h0m-.7-.1h0m-2.3 0h0m-1.1-.1h0m.6-.5h0m1.8-.1h0m1.6-.2h0m-.8-.1h0m-4-.3h0m1.2-.3h0m3.5-.3h0m-1.3-.2h0m.4 0h0m-2.2-.8h0m1.9-.4h0m1.3 0h0m1.1-.2h0m-1.8-.1h0m0 0h0m-3-.1h0m2.3 0h0m.7-.2h0m.7 0h0m-2.7-.7h0m1.5-.1h0m-3.1-.1h0m2.4-.1h0m.5 0h0m-1.4 0h0m-.9-.1h0m1.7-.3h0m2.5-.2h0m-4.4-.1h0m-.4-.3h0m.8 0h0m1.2-.1h0m-1.2-.2h0m-1-.2h0m4.7 0h0m-3.9-.2h0m.4 0h0m-.7-.2h0m0-.4h0m4.7-.5h0m-1.4-.1h0m1.2-.2h0m-.3-.1h0m.4-.1h0m-2.9-.4h0m2.2 0h0m-4 0h0m1.9-.2h0m2.9 0h0m-1.8-.1h0m-.7-.2h0m.5-.2h0m1.6-.2h0m-2-.1h0m-1.7-.3h0m4.4 0h0m-5.7-.3h0m.6-.1h0m.1-.2h0m.8 0h0m3.8-.6h0m-1.8-.3h0m-1-.4h0m-.8 0h0m.5 0h0m1.9-.1h0m-2.6 0h0m3.8-.3h0m-.9-.2h0m-2-.3h0m3-.3h0m-2.8-.1h0m0-1.1h0m-1.9-.3h0m4 0h0m1.2-.4h0m-4.6 0h0m2.8 0h0m-1.6-.2h0m-.3-.2h0m3.5-.2h0m-.9-.2h0m-3-.3h0m-.4 0h0m.7-.2h0m2.6-1.2h0m-.7-.3h0m-1-.3h0m.8-.4h0m2 0h0m-1-.1h0m-4.2-.2h0m-.4-31h0m.6-1.3h0m0 0h0m-.6-1.1h0m2-1.4h0m-.6-.7h0m.4-1.1h0m-2.1-.3h0m.6-.1h0m3.4-1.7h0m-1-.1h0m1-.6h0m-2.2-.1h0m2.9-.3h0m-2.7-.2h0m-.9-.1h0m4.1-.2h0m-4.8-.3h0m4.6-.4h0m-2.2 0h0m-1.7-.2h0m-.5 0h0m4.2-.1h0m1.1-.2h0m-5.8-.1h0m2.6 0h0m-2.4-.3h0m3.7-.1h0m.1 0h0m.6-.3h0m-2.2-.1h0m-1.7 0h0m.6-.4h0m-1.1 0h0m3.5-.2h0m-.7-.2h0m.3-.1h0m-.2-.2h0m-1.2-.1h0m.1-.3h0m3.7-.4h0m-1.2 0h0m-1.9-.1h0m-1-.2h0m-.1 0h0m-.8-.2h0m.3-.4h0m3.6-.2h0m-.1-.5h0m-1.6-.5h0m-1.8 0h0m3.8-.2h0m-1.7-.2h0m2.6 0h0m-2.5-.1h0m-1-.3h0m-.5 0h0m3.4-.7h0m-2.5-.6h0m-.3-.1h0m-.2-.1h0m3.4-.2h0m-1.3-.3h0m-1.4-.5h0m-2.5-.1h0m.2-.2h0m2.8-.1h0m1.6-.8h0m6.8-2.6h0m-.2 .1h0m-2 1.3h0m1.4 .1h0m-.2 0h0m.6 .1h0m.5 0h0m-5.6 .3h0m4.6 .1h0m.7 .2h0m-3.9 .6h0m1.3 .2h0m.5 .2h0m1.9 0h0m.2 .2h0m-4.3 .3h0m-.4 .2h0m1.6 .2h0m-.1 .4h0m-2.4 .4h0m4.2 .3h0m.7 0h0m-2 .1h0m-1.5 0h0m2.4 .6h0m-.4 1.3h0m-3.1 1h0m-.3 .7h0m1.5 .3h0m-1.5 .4h0m1.4 .2h0m3.7 38.4h0m0 .8h0m.2 .6h0m.1 .7h0m-1 .1h0m1.2 .3h0m-.8 .1h0m-2.4 0h0m1.9 .4h0m-1 .5h0m2.1 .5h0m-3.2 .2h0m3 .4h0m-2.6 .1h0m1.6 0h0m1.2 .1h0m-3.1 0h0m3.2 .1h0m-4.4 .2h0m3 0h0m-4.1 .3h0m2.6 0h0m-1.2 .2h0m0 .2h0m1.6 0h0m-2.9 .1h0m1.5 .2h0m3.9 .1h0m-2.2 .5h0m-1.8 .2h0m2.6 .2h0m-1.8 .1h0m-2.3 .1h0m5.2 .2h0m.7 .4h0m-4 0h0m2.3 .1h0m-3.2 .2h0m4.4 .3h0m-2.6 0h0m.8 .1h0m.4 0h0m-3.2 .2h0m.3 .1h0m3.9 .1h0m-1.8 .1h0m-1.6 .2h0m2 0h0m.3 .2h0m-1.4 .2h0m2.6 .1h0m.6 .1h0m-5.6 .1h0m4.1 .1h0m1.6 0h0m-4.2 .1h0m-.1 0h0m-1.3 .7h0m.5 0h0m1.6 .3h0m.6 .1h0m1.5 .8h0m-.3 .1h0m-3.2 .1h0m1.6 0h0m-1.3 0h0m4.4 .3h0m-1.3 .2h0m-.4 0h0m.5 .3h0m-1.6 .1h0m-.4 .3h0m3.3 0h0m-3.9 .5h0m1.6 .1h0m-.8 .1h0m.6 1.1h0m2.3 .2h0m-1.5 .3h0m.2 0h0m-.1 .2h0m.7 .4h0m.6 .1h0m-.9 .1h0m1 .3h0m-1.8 .4h0m-1.4 .3h0m2.3 0h0m-2.9 .2h0m-.8 0h0m-.2 .1h0m4.2 .4h0m-3.2 .2h0m-.3 .1h0m2.3 .3h0m.5 .4h0m-2.5 .1h0m-1.3 .2h0m.4 .1h0m3.1 0h0m-3.9 .2h0m1.3 .2h0m-1 .4h0m.3 .1h0m.9 .2h0m2.1 .2h0m-2.7 .1h0m1.4 .5h0m-.6 0h0m4.2 .4h0m-2.7 0h0m2.2 .2h0m-2.3 .1h0m-1.2 .1h0m-1.1 .4h0m-.4 .3h0m2.9 0h0m-1.6 .1h0m1.8 0h0m2.1 .1h0m-.1 .1h0m-.1 .2h0m-3.3 0h0m-1.9 .1h0m1.9 .1h0m-.9 .2h0m2 .3h0m.4 .1h0m1.9 .1h0m-.3 .6h0m-5.3 .1h0m5.7 0h0m-1.1 0h0m-.9 .9h0m1.3 .2h0m-2.3 .2h0m.9 .1h0m-2.5 .2h0m2.7 .1h0m-.8 0h0m-.1 .2h0m2.3 .1h0m0 0h0m-.3 .5h0m.5 .1h0m-4.5 .1h0m3.3 .2h0m-1.2 0h0m1.7 0h0m-.4 .1h0m-.8 .1h0m-3.1 0h0m2.2 .5h0m1.6 .2h0m-1.5 .3h0m2.3 .1h0m.5 0h0m-4.9 .1h0m4.9 .1h0m.1 .1h0m-1.6 .2h0m-1.8 .2h0m2.4 .1h0m.9 .1h0m.4 .2h0m-1.5 .1h0m-3.1 0h0m2.8 0h0m-.6 .4h0m-.7 0h0m-1 .2h0m.5 .3h0m-.6 0h0m1.5 .1h0m-1.5 .2h0m2.4 .5h0m-1 0h0m1.3 .1h0m-2.4 0h0m3.1 .1h0m-1.8 .2h0m-2.5 0h0m3.3 .1h0m-3.2 .1h0m2.3 0h0m-1.3 .3h0m.3 .1h0m3.5 .2h0m-3.8 .1h0m2.8 .2h0m1.1 0h0m-3.2 .2h0m1 0h0m-.6 0h0m-3 .4h0m1.5 .1h0m3.6 .4h0m-3.5 .6h0m4 .3h0m-5 0h0m4.6 .1h0m-4 .3h0m0 .3h0m4.1 .1h0m-.7 .1h0m-1.6 .3h0m.6 0h0m-2 .4h0m-1 .2h0m2.7 0h0m1.7 .1h0m-4.5 .1h0m2.4 .2h0m-.4 .1h0m-1 .3h0m1.3 0h0m-.1 .1h0m2 .2h0m2-.7h0m1.4-.5h0m-2-.2h0m4.6-.1h0m-2.1 0h0m3.3-.4h0m-3.8-.3h0m3.3 0h0m-4.8-.4h0m4-.3h0m-.7-.4h0m-2.5 0h0m-1.2 0h0m4.9-.3h0m-2.4-.6h0m-2.1-.3h0m3.3 0h0m-2.8-.1h0m3.9 0h0m-4.3-.1h0m.2-.3h0m1.7-.1h0m2.4-.3h0m-4.2-.4h0m-.6-.1h0m2.2 0h0m-.8-.2h0m-.2 0h0m4.5-.2h0m-2.1-.9h0m.7 0h0m-.2-.2h0m1.4-.3h0m-2.9 0h0m0-.1h0m-1.4-.2h0m1.6-.1h0m1.8-.2h0m-.5-.2h0m-3.8-.1h0m4.5-.3h0m-1.3 0h0m.1-.2h0m-2.4-.1h0m4.1-.1h0m-3.2-.2h0m2.3 0h0m-.4-.1h0m-1.5-.1h0m1.1-.2h0m-3.1-.1h0m2.1 0h0m1.6-.1h0m-3.2 0h0m-.3-.4h0m4-.1h0m-3.8 0h0m-.2-.1h0m-.3-.1h0m.9-.1h0m2.6-.5h0m-1-.1h0m-1.9 0h0m2.5-.7h0m.6-.2h0m.9-.2h0m-1.2-.2h0m-3.9-.1h0m3.4 0h0m-.5-.1h0m-.2-.5h0m-1.4-.1h0m1.3 0h0m1.8-.3h0m-1.4-.6h0m-2.9 0h0m3.4 0h0m-.2-.3h0m1.8 0h0m-2.8-.4h0m-2 0h0m4 0h0m-1.3-.1h0m2.5-.2h0m-3 0h0m-1.4-.1h0m1.3-.3h0m2.1-.3h0m1.2 0h0m-.4-.4h0m-1-.6h0m-1.5-.1h0m-1.8-.2h0m1.5-.4h0m2.9-.1h0m-2.7 0h0m-1.3 0h0m4.4-.2h0m-1.4-.1h0m-1.3-.1h0m2-.2h0m-1 0h0m.4 0h0m-4.3 0h0m5.1-.4h0m-4.4 0h0m3.6 0h0m1.2-.7h0m-.9-.1h0m-.4-.1h0m0 0h0m-.8-.1h0m1.1-.2h0m-3.4-.6h0m3.3-.8h0m-4.2 0h0m.4-.4h0m1.7-.1h0m-1.5-.3h0m-.7 0h0m2.9-.1h0m1.4 0h0m-1.2-.1h0m-.3-.1h0m-1.7-.5h0m2.2-.1h0m1.7-.1h0m-2.7 0h0m.3-.3h0m-.6-.1h0m-1.8-.1h0m1.2-.6h0m-.4 0h0m1-.1h0m2.1-.1h0m-3.5-.1h0m-.8 0h0m4.5-.1h0m1.3 0h0m-4.6-.3h0m.6-.2h0m1.5-.1h0m0 0h0m-1.8-.2h0m-1.5-.4h0m4.9-.2h0m-4.3 0h0m4.2-.1h0m-4.4-.1h0m3.5-.1h0m-3 0h0m3.7 0h0m-.1-.1h0m-.9-.1h0m-2-.2h0m2.7-.2h0m-3.2-.3h0m-.1 0h0m-.5-.1h0m2.9-.3h0m-1.6-.6h0m-.6-.2h0m4.2-.1h0m-4.7-.1h0m-.6-.4h0m3.8-.4h0m-1-.2h0m-1.1-.5h0m-2-.1h0m3.2-.1h0m-.3-.1h0m.8-.2h0m-2.7-.1h0m4.5-.3h0m-4.9-.1h0m4.8-.5h0m-1.4-.1h0m-.4-.2h0m-3.3-.2h0m1.3-.2h0m1-.4h0m-1.1-.2h0m2.6-.2h0m-.9 0h0m-1.9-.1h0m2.6-.5h0m-.4-.4h0m-1.9-.4h0m2.1-.1h0m.5-.1h0m.5-.2h0m-1.5 0h0m-1.2-.7h0m3.3 0h0m-1.9-.1h0m-3.2-.2h0m2.6-.1h0m-2.8 0h0m5.4 0h0m0-.1h0m-2.4-.1h0m1-.3h0m-1.4-.2h0m1.9 0h0m-2.1-.2h0m.7-.2h0m-.1-.1h0m2.6-.2h0m-2.9-.3h0m.2-.2h0m-2.2-.1h0m2.6-.1h0m-.7-.3h0m-.1-.1h0m-1.9-.1h0m4-.5h0m1 0h0m-4.3-.5h0m2.9-.1h0m-2.5-.1h0m0 0h0m1.6-.2h0m1.3 0h0m.1-.3h0m.4-.1h0m.2-.1h0m-.9-.5h0m-2.5-.2h0m3.2-.2h0m-1.3 0h0m-.2-.1h0m-.4-.5h0m.2-1.1h0m-.5-.1h0m1.6-.1h0m-.4-.1h0m.9-.2h0m.9-.1h0m-1.2 0h0m-1.5 0h0m2.1-.8h0m-1-1.4h0m1.4-.4h0m.1-.1h0m-1.1-2.8h0m1.3-.9h0m-.4-.6h0m-.1-.4h0m.1-28.9h0m0-1.4h0m-3.9-.5h0m-1.7-.2h0m1.1-.1h0m1.5-.2h0m-1.8-.4h0m5.1 0h0m-1.5-.3h0m-1.3-.3h0m-2-.3h0m.2 0h0m2.1-.1h0m1.9-.5h0m-1.4 0h0m1-.1h0m-1.7-.1h0m-.1-.4h0m-1.7 0h0m-.6-.2h0m.4 0h0m-.9-.2h0m3.6-.1h0m-3.4 0h0m2.6 0h0m.5-.5h0m1.5-.4h0m-.9-.4h0m-2.4-.3h0m6.1 1.5h0m3.8 .6h0m-2.9 .3h0m-1.2 0h0m2.2 .3h0m-2.9 .2h0m-.7 .1h0m1.6 0h0m-.4 .3h0m.7 .1h0m1.7 .3h0m-3.7 .7h0m.1 .1h0m3.8 .1h0m-1 .4h0m-.5 0h0m.2 .1h0m.3 .1h0m-2.6 .6h0m.7 .3h0m2.6 0h0m-.8 .8h0m1.8 0h0m-2.2 .1h0m.9 .2h0m.3 0h0m1.3 .1h0m-3.4 .2h0m-1.4 .4h0m3 0h0m2.6 0h0m-1.5 .1h0m1.6 .3h0m-.9 .2h0m.7 .3h0m-1.2 .1h0m-.8 .1h0m-1.5 0h0m-.1 .1h0m.5 .5h0m1.5 .3h0m.7 .1h0m-1.8 .2h0m1.7 .2h0m-2.1 .2h0m1.1 .1h0m.1 .4h0m-.1 .2h0m0 .6h0m-.7 .4h0m1.7 .2h0m-1.2 1.1h0m.7 1.4h0m-1.9 .8h0m1.2 0h0m1.8 .2h0m-1.9 .2h0m1.4 .3h0m-2 .1h0m3 .1h0m-4.2 .4h0m1.9 1.3h0m1.8 .1h0m-.7 0h0m.1 .1h0m.8 0h0m-1.6 .5h0m-.1 .6h0m-.7 0h0m1.2 .1h0m-.2 .1h0m0 .1h0m-2.7 1.1h0m1.9 .2h0m1.7 .5h0m-2.4 .4h0m.8 .1h0m.9 .8h0m-2.1 .3h0m-1.2 .1h0m1.9 .3h0m-.2 .1h0m-1.7 .7h0m3.1 1.2h0m-2.1 .4h0m2 .3h0m-2.6 .2h0m1.4 .9h0m1.7 .2h0m-2.2 .1h0m1 .2h0m-2.7 0h0m1 .2h0m-1.1 .3h0m.7 .5h0m.9 1.3h0m-1 .1h0m3.7 0h0m-.6 0h0m-3.8 .1h0m4.2 .1h0m-4.4 .5h0m1 .6h0m1.6 0h0m-.3 .1h0m-.3 .3h0m-.3 .2h0m-1.5 .1h0m.2 .3h0m.4 .5h0m2.5 .2h0m-.9 0h0m-2.4 .6h0m5.2 .7h0m-4.1 .2h0m4 0h0m-3.6 .2h0m1.2 .1h0m1.2 0h0m.4 .1h0m-3.5 .2h0m2.1 .1h0m.4 .2h0m-2 .2h0m.9 0h0m2.3 .4h0m-1.6 .1h0m.2 .3h0m-.3 .1h0m-2.4 .8h0m4.1 .6h0m-1.9 1h0m-1.6 .1h0m1.3 .1h0m2.1 .1h0m-3.4 .1h0m3.6 .1h0m1.1 .2h0m-4.7 .7h0m4.8 .6h0m-3.8 .2h0m-.2 .4h0m1.7 .3h0m-1.3 .1h0m-.4 .4h0m-1.6 0h0m1.7 .4h0m-1.7 .9h0m5.4 0h0m-1 0h0m-4.7 .1h0m1 .1h0m1.2 0h0m1 .1h0m-.4 .2h0m.9 .3h0m-3.5 .1h0m3.3 .1h0m-2.3 .4h0m4.6 0h0m-2.9 0h0m-2 0h0m4.8 .1h0m-5.1 0h0m5.3 .2h0m-.9 .7h0m.4 .4h0m-4.8 0h0m.8 .5h0m4.4 .1h0m-3.7 .2h0m1.4 .3h0m-3.4 .6h0m1 .1h0m3.6 0h0m-.7 .3h0m-.2 .1h0m-2.6 .2h0m-.8 .6h0m-.3 .5h0m0 .3h0m1 .2h0m2.2 0h0m.6 .5h0m1.2 0h0m-4.3 .1h0m.4 .6h0m-1 .3h0m1.9 0h0m2.3 .3h0m-1.5 .2h0m-.5 .3h0m.6 0h0m-.4 .5h0m-.1 .1h0m-.6 .1h0m2.7 .1h0m-4.5 .2h0m0 0h0m2 .4h0m-1.8 .1h0m.5 .1h0m1.3 0h0m.2 .3h0m-.2 0h0m-1.4 .2h0m1 .3h0m-.8 .2h0m1.4 .4h0m.4 .2h0m-.2 .3h0m2.8 .2h0m-2 .6h0m-1.3 .2h0m3.6 0h0m-4.3 .1h0m0 .6h0m1.8 .1h0m1.5 .1h0m-4.3 0h0m.6 .1h0m2.4 .4h0m-1.7 0h0m1.8 .2h0m-1.8 .1h0m.7 .1h0m2.9 .4h0m-5 0h0m1.1 .6h0m3.4 .1h0m-2.9 .2h0m-.2 0h0m2.6 0h0m-3.6 .2h0m4.5 .8h0m-4.3 .1h0m2.2 .1h0m-1.3 .3h0m1.8 0h0m-.5 .1h0m-2.6 .1h0m1.5 .1h0m1.4 .1h0m-.2 .3h0m-2.6 .2h0m.9 0h0m4.3 0h0m-2.1 .2h0m-2.9 0h0m1.1 .1h0m-1.8 .1h0m1 .1h0m3.2 .2h0m1.1 .1h0m-1.8 0h0m.3 .1h0m.6 0h0m.8 .1h0m-1.9 .2h0m2.6 .5h0m-3.8 .1h0m1.3 0h0m.3 .3h0m1.1 .1h0m-1.1 .2h0m-2.8 .1h0m2.4 .4h0m1.1 .3h0m-1.1 .4h0m-3.2 0h0m-.1 .2h0m2.9 .2h0m1.1 .1h0m-.4 .1h0m-.6 .1h0m-.2 .2h0m-1.9 .1h0m3.1 .1h0m-1.5 .2h0m.4 .1h0m2.9 0h0m-5.2 .1h0m4 .2h0m.8 .3h0m-3.8 .1h0m-.3 .3h0m1.4 .3h0m-2.6 .4h0m4.3 .1h0m.8 .2h0m-4.7 0h0m2 .2h0m-1.8 .1h0m-.3 .2h0m4.1 .2h0m-2.3 .1h0m1.4 0h0m-2.5 .2h0m4.8 0h0m-4.8 .2h0m4 .3h0m-3.5 0h0m.7 .1h0m-.8 .1h0m.5 0h0m-1.6 .2h0m-.3 .1h0m2.7 .1h0m2.8 .1h0m-4.9 0h0m1.2 .1h0m-.6 .3h0m1.1 0h0m1.9 .2h0m-1.3 .4h0m2.5 .2h0m-4.6 .3h0m4.7 .1h0m-2.1 .2h0m-3.5 0h0m2.3 .5h0m-.3 .1h0m-2 .1h0m2.7 .1h0m-.2 .1h0m-.2 .1h0m-1.9 .1h0m5 .1h0m-5.3 0h0m1.1 .5h0m-.9 .3h0m2.5 .2h0m2.7 0h0m-3.3 .5h0m-.8 0h0m2.4 .2h0m1.1 0h0m-.5 .1h0m1.5 0h0m-4 0h0m1.9 .2h0m-1.2 .9h0m2.8 .1h0m-2.7 0h0m3.1 .1h0m-2.3 0h0m-.2 .3h0m-1.7 .3h0m2.3 .2h0m.6 .1h0m.3 .2h0m-1.9 0h0m.7 .7h0m-2.2 .3h0m-1.5 .3h0m.9 .4h0m.4 1.5h0m1.4 0h0m-1.4 .2h0m-.5 .9h0m5.5-6h0m.4-4.5h0m.1-1.1h0m-.2-1.1h0m.1-.7h0m.2-1.5h0m-.9-.8h0m.7-.4h0m.1-2.3h0m-.3-.9h0m.1-2.3h0m-.2-1.5h0m.3-.2h0m-.7-11.2h0m.6-4.4h0m-.3-2.1h0m.1-4.4h0m0-18.8h0m0-1.2h0m.2-.2h0m.2-3h0m1.7-1.7h0m-.3-.1h0m1.8 0h0m-3.1-.3h0m-.2-.6h0m4.5-.2h0m-4.8-.2h0m3.2-.1h0m1.7 0h0m-3.7-.4h0m-.3-.1h0m-.9-.1h0m5.2-.1h0m-2.2-.8h0m-.7-.2h0m1.8-.6h0m-3.7-.3h0m2.4-.6h0m.8-.4h0m.3-.1h0m-3.9-.1h0m4.5-.2h0m-4.5-.1h0m.3-.7h0m.8 0h0m-.3-.1h0m1.4-.4h0m.3 0h0m-.4-.3h0m.5 0h0m-1.8-1.2h0m1.1-.7h0m5.1 5.4h0m0 1.1h0m1.7 .2h0m-1.4 .1h0m.6 .2h0m.2 .8h0m-1.9 .6h0m.3 .1h0m4.7 0h0m-5.4 .1h0m5.7 .8h0m5.3 1.7h0m-2.7-.1h0m2.9 0h0m-2.1-.2h0m.6-.5h0m-.6-.2h0m0-.6h0m-.6-.3h0m-.9 0h0m-1.8-.1h0m1.9-.5h0m-1.8-.1h0m.8-.6h0m5.7 2.5h0m-.3 .1h0" stroke="#069bb9" stroke-width="2.40" stroke-linecap="round" fill="none"/><path d="M539.7 46.7h0" stroke="#069bb9" stroke-width="2.40" stroke-linecap="round" fill="none"/><path d="M502.7 45.7h0m5.7-15.3h0m-4.1 13.5h0m1.5 2h0m0 .1h0m3.3 4.4h0m-3.4 .9h0m3 2.7h0m0 3.4h0m3.7 27.8h0m2.1-4.7h0m-2.8-2.7h0m-.6-1.7h0m1.2-.1h0m.7-.6h0m-1.7-1.3h0m3.8-.4h0m-4.6-1.6h0m5.4-.7h0m-2.8-1h0m2.2-2h0m-5.1-6.8h0m1-2.6h0m.2-.6h0m3.8-.2h0m-4.3-1.5h0m2.1-10.8h0m-.4-2.7h0m-2.1-1h0m5.3-.3h0m-3.7-14.3h0m-.6-.7h0m3.4-2.2h0m-2.8-1h0m.9-.2h0m2.2-1.1h0m.5-3.6h0m3.1-2.5h0m1.2 1.7h0m1.5 25.6h0m-3.6 1.9h0m-1 1.8h0m5 11.1h0m-4.6 1.2h0m-1 .5h0m2.6 1h0m1.1 .7h0m-.8 .8h0m0 2.4h0m-.4 3.1h0m2.3 2.5h0m-4 .1h0m3.2 4.4h0m-3.2 2.6h0m2.3 4.9h0m-.5 .5h0m1.8 1.7h0m.3 1h0m6.3 .1h0m-4.3-3.2h0m-1-1.6h0m1.9-8.6h0m-.8-1.2h0m.6-.7h0m2.3-3.4h0m-.8-2.3h0m-1.2-.6h0m.2-3.5h0m1.3-11.5h0m2.2-5h0m.2-.5h0m-1.9-.7h0m1.1-3h0m.1-7.2h0m0-15.1h0m-1.7-2.6h0m8-4h0m-1.1 4.2h0m-2.8 19h0m-1.5 32.8h0m4 .5h0m.3 2h0m-4.2 2.2h0m3.8 .1h0m1 9.5h0m-1.5 .5h0m.8 .4h0m-3.5 2.6h0m2 1.3h0m-.9 1.5h0m-.3 .1h0m-.6 .6h0m6.4 1.4h0m-1.1-9h0m1.6-1h0m-1-.5h0m-.4-4.8h0m3.8-4.8h0m-2.7-.2h0m1.3-3.3h0m2.5-2.4h0m-3.5-46.3h0m1.4-1.5h0m6.5 47.7h0m1.2 1.1h0m-4.6 .5h0m5.1 .2h0m-3.2 .8h0m-1.7 2.6h0m1.9 1.4h0m-1 7.9h0m3.1 1.7h0m-2 1.7h0m-1.5 1h0m3.9 .6h0m-.5 .7h0m-4.2 1.7h0m1.9 1h0m.5 1.4h0m5.7-.9h0m.1-8.9h0m-1.2 0h0m.4-7.2h0m.1-.7h0m-1.6 0h0m3.5-3.4h0m-1.6-.7h0m2-11.3h0m2.6-46.3h0m.6 .6h0m4.4 4.4h0m-2.8 27.3h0m.6 4.3h0m.4 1.1h0m-2.4 .8h0m1.8 .7h0m-2.6 4.5h0m.7 2.7h0m-.7 8.8h0m2.6 .5h0m-1.4 2.6h0m-1.5 4h0m3.4 1.6h0m-2.4 3.4h0m2.2 1.2h0m0 3.2h0m-1.3 .1h0m-1.6 .3h0m2.2 4.8h0m6-70h0" stroke="#ffffff" stroke-width="1.00" stroke-linecap="round" fill="none"/><path d="M583.1 59.0L584.4 62.1L584.5 64.8L583.9 67.4L581.7 72.0L581.4 73.8L581.7 76.5L583.2 83.6L584.3 86.4L586.1 88.1L588.4 88.9L591.2 88.5L593.8 87.4L596.0 86.0L597.3 84.7L598.9 82.3L601.5 77.7L602.3 75.4L602.4 74.0L601.9 68.7L602.2 67.0L602.7 65.2L603.6 63.6L604.8 62.3L606.1 61.2L608.4 59.9L605.9 58.9L604.4 57.9L602.9 56.5L601.9 55.0L600.9 52.5L599.3 45.4L598.4 43.5L594.7 37.3L592.8 33.6L591.7 30.4L590.4 24.5L589.6 22.6L586.4 28.8L585.7 30.8L585.3 32.5L585.6 35.8L587.5 42.6L588.2 45.7L588.4 48.3L588.2 50.9L587.6 53.4L586.6 55.4L585.0 57.5Z" fill="#a77d65" fill-rule="evenodd"/><path d="M581.8 31.3h0m0 .6h0m0 23.8h0m.2 .2h0m-1 .4h0m0 .6h0m-.1 .6h0m-1.1 0h0m1.4 .1h0m-1.4 .6h0m-.5 .3h0m2.4 .3h0m-2.9 .7h0m2.2 .9h0m-1 .2h0m1.2 .1h0m-1.1 0h0m.2 4.5h0m.7 2h0m-.4 1.6h0m.9 1.2h0m0 .1h0m-1.3 .8h0m1.2 .3h0m-3.7 1.2h0m-.3 .2h0m.9 .2h0m2.2 .1h0m.1 .1h0m-1.9 .5h0m1.5 1.1h0m-2.7 .2h0m.9 0h0m1.1 0h0m-.4 .2h0m2.7 .4h0m-3.7 .7h0m2.5 1.1h0m-2.3 .1h0m3.3 .1h0m-2.1 .8h0m1.8 .2h0m.5 .8h0m0 .1h0m-.3 .6h0m-1.8 .9h0m.6 1.1h0m1.2 .1h0m-1.3 .1h0m1.5 .3h0m-2.8 .1h0m.8 .1h0m2.2 .3h0m-1 .2h0m-.3 .4h0m-.5 .6h0m1.4 1.1h0m.4 1h0m-1.6 .3h0m.4 1.4h0m5.8 4.8h0m.1-2h0m-3-.3h0m3.8-.1h0m-2.1 0h0m-2.6-.4h0m3.3-.1h0m1.2-.2h0m-.1-.1h0m-.1 0h0m-3.5-.2h0m.5-.2h0m1.1-.1h0m2.5 0h0m-.5-.4h0m-1-.3h0m.5 0h0m-3.6 0h0m-.3-.1h0m-.5-.4h0m3.4-1.4h0m-2.5-.1h0m1 0h0m-2-.3h0m1.7-.1h0m1.4-.1h0m-2.3 0h0m1.5-.6h0m-.4-.1h0m.8-.1h0m-1.1-.6h0m-1.5-.2h0m1.6-.5h0m.4-1h0m-.7-1h0m-.6-.4h0m.5-1.6h0m-1.3-.1h0m.1-6.4h0m.6-.8h0m0-.3h0m-.6-.6h0m1.2-.7h0m-.6-.1h0m.7 0h0m-.9-.6h0m1.1-.6h0m.7-.3h0m-1.5-.3h0m-.8-.1h0m2.1-.1h0m0-.2h0m.1-.4h0m.6-1.1h0m-.5 0h0m-1.7-.7h0m2-.3h0m-1.6-.3h0m.9 0h0m1.4-.1h0m-2.3-.1h0m.4-.5h0m-.7-.2h0m1.8-.2h0m-1-.1h0m1.1-.3h0m.1 0h0m-2.1-.3h0m2-.5h0m-2.6 0h0m1.2-.1h0m-1.1-.1h0m.2-.1h0m.5-.2h0m.2-.3h0m2.1 0h0m-2.4-.2h0m-.7-.3h0m3-.2h0m-1-.2h0m.7-.1h0m-2.1-.3h0m-.1-.1h0m1.5-.1h0m-2-1h0m.3-.3h0m.8-1.5h0m2.3-.2h0m-2.1-.3h0m1.7-.1h0m.6 0h0m-.6-.3h0m-2.4-.2h0m1.9-.4h0m0-.1h0m.1-.3h0m-.4-.3h0m3.2-.2h0m-.5-.3h0m-3 0h0m3.6-.2h0m-4.8-.2h0m2.2-1.1h0m1.6-.1h0m-2.5-.2h0m-.3-.1h0m.4-.2h0m.7-.1h0m.9 0h0m.7-.3h0m-2.5-.3h0m3.9-.1h0m-1.6 0h0m1.2-.1h0m-.7-.3h0m.1-1.2h0m-1.4-.7h0m-.9-.9h0m2.8-.1h0m-2.5 0h0m1.4-.7h0m-.1-1.3h0m.9 0h0m-.8-.1h0m0-.4h0m-1.4-.7h0m1.9-.6h0m.5-.1h0m-2-.1h0m2.5-1.8h0m-2.1 0h0m-.3 0h0m.5-.2h0m.3-.3h0m1.7-.1h0m-3.2-.2h0m-1-.1h0m.4-.2h0m-.1-.1h0m0-1.2h0m1.7-.1h0m.8-.4h0m.9-.5h0m-.9-.2h0m-.1-.2h0m-.3-.2h0m-.2-.1h0m1.8 0h0m-4.1-2.2h0m1.7-.9h0m-2.9-.9h0m2.1-.4h0m-.2-.7h0m.2 0h0m-1.8-.3h0m2.6-.4h0m-.3-1.2h0m-.5-.8h0m-2.3-.3h0m3.6-.4h0m.8-.7h0m-2.6-.1h0m-1.3-.2h0m.5-.2h0m2.9-.4h0m1.1-.1h0m-2.7 0h0m.6-.5h0m-.7-1.5h0m2.9-.3h0m-1.3 0h0m1.6-.1h0m-2.8-1h0m-1-.1h0m.9-.4h0m2.4-.4h0m.3-.1h0m-1.8-.8h0m.9-.1h0m.9-.5h0m.5-.1h0m-2.4-.2h0m-.5 0h0m2.7-1.4h0m-.1-.1h0m-1.8-.1h0m3.1-1.7h0m.3 .4h0m-.1 .3h0m.5 1.4h0m-.7 0h0m.9 .1h0m3 0h0m-2.6 .2h0m.8 .2h0m-2 .1h0m.4 .5h0m4 0h0m-3.7 .1h0m-.2 .4h0m1.9 .5h0m-1.7 .1h0m1.9 .1h0m-1.9 0h0m.3 .1h0m3.4 .1h0m-3.8 .2h0m.1 0h0m1.1 .5h0m1.7 1.3h0m-.9 .1h0m0 .5h0m1.6 .2h0m-1.5 .3h0m1.5 .1h0m-2.2 .4h0m-.2 0h0m-.4 .2h0m1.2 .4h0m1.7 .3h0m-1.3 .2h0m-1 .3h0m1.9 .1h0m-.3 .3h0m.8 0h0m-1.6 0h0m-.8 1h0m2.8 .2h0m-2.2 1.8h0m1.2 0h0m-.6 .2h0m1 1.4h0m.8 .7h0m-.4 1.3h0m-.8 .2h0m1.1 .1h0m-.8 .3h0m-5.1 3.5h0m.5 1.8h0m.2 .4h0m-.7 .6h0m.4 .5h0m.4 1.2h0m.1 .8h0m-.4 .3h0m.9 .7h0m-.7 .8h0m.7 .5h0m-.4 0h0m-.6 .6h0m-.2 .5h0m1.3 1.1h0m-.6 0h0m-.3 .1h0m-.4 2.2h0m.1 .7h0m3.7 34.3h0m1.5 .5h0m-3.7 0h0m-.3 .2h0m2.3 .1h0m-2.1 0h0m1.1 0h0m2.3 .8h0m-1 .4h0m-3.8 .2h0m-.3 .3h0m2.5 .2h0m1.7 .6h0m1.1 .5h0m-3.5 .4h0m2.7 0h0m.2 .3h0m2.2-.9h0m-.3-1h0m.2-1.1h0m4.3-.7h0m-2-.4h0m.5-.1h0m.9-.1h0m-4.5-.7h0m1.3-.5h0m1 0h0m-1.9-.4h0m3.5-.1h0m.3-.3h0m-3.6-.5h0m2.9-.2h0m.2-.1h0m1.7-.3h0m.6-.2h0m-1.8-.4h0m-1.4-.4h0m1.5-.3h0m-.3-.9h0m1.6-.2h0m.3 0h0m.1-1.2h0m-1-.4h0m.6-30.2h0m-.2-1.6h0m0 0h0m.5-1.1h0m-.6-1.2h0m-1-.3h0m.2-.1h0m-.1-.8h0m-.1-.1h0m-.4-.4h0m.6-.5h0m1.1-.3h0m-2-.5h0m1.7-1h0m-2.9 0h0m2.4-.2h0m-1.1-.1h0m1.4 0h0m-2.1-.2h0m2.2-.5h0m-1.3-.7h0m1.2-.1h0m-1.2 0h0m1.4-.1h0m-1.8-.5h0m-.4-.1h0m.2 0h0m-1.1-.2h0m3.7-.1h0m-2.1 0h0m-1.7-1h0m1.7-.2h0m-3.5-.3h0m3.8-.1h0m-1.8-.3h0m-1.2-.2h0m-.9-.2h0m0 0h0m.7-1.4h0m2 0h0m-1.2-.1h0m-1.6-.4h0m0-.1h0m1.8 0h0m-.3-1h0m-1.4-.6h0m.6-3.1h0m-.1-.2h0m-.3-.3h0m-.1-4.1h0m-.3-2h0m6.7 16.6h0m.2 .9h0m-.4 .6h0m.7 .3h0m-.2 1.9h0m1.9 .9h0m-.1 .1h0m-2.6 .6h0m.6 0h0m0 .3h0m.3 .4h0m1.6 .1h0m-1.6 1.2h0m.5 .1h0m-.3 .1h0m2.7 .2h0m-.2 .1h0m-.1 .2h0m-2.1 .5h0m.2 .2h0m-.8 1.1h0m.3 .5h0m-.9 .1h0m4.4 .2h0m-4 .1h0m2.6 .7h0m-2.2 0h0m1.6 .1h0m-2.5 0h0m1.3 .2h0m-1.1 0h0m-.1 .8h0m1 .1h0m-1.2 .1h0m5.1 .2h0m-3.3 .1h0m.8 .2h0m2.7 .2h0m-2.1 .3h0m-2.2 .3h0m2.7 .3h0m-2.8 .3h0m2.5 .5h0m0 .2h0m-1.8 .6h0m1.7 0h0m-1 0h0m.5 .3h0m-.3 0h0m0 .4h0m2.2 .1h0m-2 .3h0m2.5 2.1h0m.5 .7h0m-1 .6h0m0 .1h0m-.1 .1h0m-.5 .2h0m1.4 .7h0m-2.9 .5h0m-.2 .4h0m.7 .2h0m1.8 0h0m-1.1 .1h0m-.3 .2h0m-1.2 .2h0m1.1 .4h0m-1.5 1.2h0m.2 .4h0m1.2 .5h0m1.5 0h0m-3.5 .6h0m3.8 .1h0m.2 1.1h0m-1.1 .1h0m-1.1 0h0m-1.3 .1h0m.9 0h0m1.9 .2h0m-2.8 .1h0m-.6 .8h0m-.3 .6h0m2.1 .3h0m.1 .2h0m-.4 .2h0m-1.2 .5h0m3 .4h0m0 .2h0m-2 .1h0m1.9 .1h0m-1.4 .2h0m-2.1 .3h0m3.4 .2h0m-1.6 .9h0m1.7 .4h0m-.8 0h0m-.9 .1h0m-.6 .2h0m-.9 .4h0m.4 .4h0m-.2 .3h0m3.1 .1h0m-1.6 .1h0m-.9 .4h0m-1.6 .4h0m4.6 .1h0m-2.1 .2h0m-.4 .1h0m-.9 .2h0m-1.3 .1h0m3.1 0h0m.7 .1h0m-3.6 .4h0m.2 0h0m.4 .2h0m-.4 0h0m.4 0h0m-1.2 .3h0m2.6 1.1h0m.8 0h0m.7 .1h0m-2.2 1.8h0m-.6 .7h0m1 .1h0m-1.4 .1h0m.4 1h0m-.7 .2h0m6.6-18.9h0m1.7-1.9h0m.4-.1h0m.6-.1h0m-3.7-.7h0m.1-.1h0m3-.5h0m-.9-.2h0m-2.1-.5h0m4.6-.1h0m-4.7-.2h0m1.6-.3h0m-.2-.5h0m2.7-.2h0m-3.1-.2h0m1.7-.1h0m-1.9-.4h0m2.4-.1h0m-2.5-.3h0m2.8-.5h0m.7-.3h0m-3.7-2.2h0m5.7 2.6h0m.1 0h0m2.7 .8h0m-1.8 .2h0m.4 .8h0m-1.7 0h0m1.2 .1h0m.3 .4h0m1.2 .1h0m2.5 .2h0m-1.6 .3h0m-.7 .3h0m.3 .2h0m-1.7 1h0m-.4 0h0m.6 .6h0m4.1-.9h0m2.7-.4h0m-.8-.6h0m-1.7-.8h0" stroke="#a77d65" stroke-width="2.40" stroke-linecap="round" fill="none"/><path d="M587.2 58.4h0m2.5-27.2h0m10.9 25.2h0" stroke="#ffffff" stroke-width="0.90" stroke-linecap="round" fill="none"/><path d="M571.7 33.7h0m-.2-.2h0m1.1-1.1h0m3.3-.4h0m-.5-.4h0m.4-.9h0m-1.7-.2h0m2.1 .3h0m-.1 2.7h0" stroke="#069bb9" stroke-width="2.40" stroke-linecap="round" fill="none"/><path d="M581.9 22.8h0m0 1.6h0m4.5 8.6h0m.7-.6h0m-3-1.7h0m-.8-.2h0m-.2-1.2h0m4.3-.4h0m-1.4-.2h0m-1.3 0h0m-2.1-.5h0m2.4-.1h0m-2-1.7h0m.3-.8h0m4.4-1.2h0m-4.8-.2h0m2.1-.1h0m2.2-.2h0m.3-.5h0m-4-1.3h0m0-2.9h0m6.6-1.8h0m-.8 2.6h0m1.2 1.1h0m2.1 1.4h0m-1.6 .5h0m.7 .3h0m-.2 1.2h0m1.2 .1h0m.6 1h0m.1 .3h0m-4.1 .5h0m4.5 .6h0m-3.8 .5h0m2.3 .5h0m.3 .3h0m-2.1 2.7h0m-1.4 .8h0" stroke="#069bb9" stroke-width="2.40" stroke-linecap="round" fill="none"/><path d="M587.3 30.5h0m5.6-2.4h0m-.3 .7h0m-.6 1.2h0m-.1 .4h0m1.7 1h0m-1.5 .1h0m-1.5 4.2h0m.6 .2h0m2.1 .8h0m-1.4 3.4h0m.7 1.6h0m.9 1.6h0m.4 2.1h0m3.7 8h0m.1-3.6h0m-1.5-.4h0m-1.7-.9h0m2.2-.6h0m1.1-.5h0m-.4-.3h0m-2.6-1.6h0m3.7-.1h0m-1.4-.1h0m-.8-.2h0m-1.8-1h0m3.6-.8h0m-3.1-.1h0m3.8 0h0m-1.6-1h0m1.3-1.9h0m-1.3-1h0m-.7-1.9h0m-1.4-.6h0m-.6-6.7h0m6.4 14.4h0m-.8 .8h0m2.6 2.2h0m.8 2h0m.3 1.3h0m-3.4 1.2h0m.6 .9h0m-.1 3.3h0m-.7 1.2h0m.9 .2h0" stroke="#069bb9" stroke-width="2.40" stroke-linecap="round" fill="none"/><path d="M583.4 52.1h0m3.1-.1h0m-1-.6h0m-.8-.9h0m-1.2-.3h0m1.3-.6h0m2.8 0h0m-3.9 0h0m.5-.3h0m1.5-.2h0m3.4-.5h0m-.8 1.4h0m3.3 1.4h0m.1 1.2h0" stroke="#069bb9" stroke-width="2.40" stroke-linecap="round" fill="none"/><path d="M593.4 54h0m-1.8 .2h0m1.2 .3h0m-1.4 1.3h0m-.5 .2h0m.8 1.2h0m1.7 1.4h0m6.5 .6h0m-4-1h0m-.3-.8h0m1.1-1.1h0m-1.2-1h0m2-.8h0m-.8-.3h0m8.1-.1h0m0 .6h0m-1.8 .7h0m-1.7 1.5h0m2 .9h0m-1.1 .7h0m-1.8 .2h0m2.1 .6h0" stroke="#069bb9" stroke-width="2.40" stroke-linecap="round" fill="none"/><path d="M611.1 60.8h0m.2-1h0m1.1-1.5h0m5 .7h0m-3.7 .3h0m2.2 1.4h0m.8 .3h0m.7 0h0m-2.1 .2h0m2.9 .1h0m.3-2.2h0m.5-.1h0" stroke="#069bb9" stroke-width="2.40" stroke-linecap="round" fill="none"/><path d="M587 82.2h0m.5-20.8h0m7.3 23.5h0m-.4-15.1h0m15.7-4.9h0" stroke="#069bb9" stroke-width="2.40" stroke-linecap="round" fill="none"/><path d="M508.6 36.7h0m-1.8 15.5h0m3.5 25.6h0m7.1-51.1h0m2.3 17.7h0m6.2 20h0m1.5-25.5h0m5.6-22.2h0m5.6 78.4h0m-1.2-28.4h0m6.7 8.9h0m12.2-11.2h0" stroke="#a77d65" stroke-width="1.80" stroke-linecap="round" fill="none"/><rect x="493.2" y="0.4" width="136.1" height="101.2" fill="none" stroke="#747474" stroke-width="0.55"/><path d="M496.5 101.6v1.2M515.1 101.6v1.2M533.7 101.6v1.2M552.3 101.6v1.2M571.0 101.6v1.2M589.7 101.6v1.2M608.4 101.6v1.2M627.2 101.6v1.2M493.2 17.4h-1.2M493.2 36.1h-1.2M493.2 54.8h-1.2M493.2 73.5h-1.2M493.2 92.2h-1.2" stroke="#555" stroke-width="0.4" fill="none"/><g font-family="'Liberation Serif','Times New Roman',serif" font-size="4.9" fill="#000" font-weight="normal" stroke="#000" stroke-width="0.12"><text x="496.5" y="107.1" text-anchor="middle">−60</text><text x="515.1" y="107.1" text-anchor="middle">−40</text><text x="533.7" y="107.1" text-anchor="middle">−20</text><text x="552.3" y="107.1" text-anchor="middle">0</text><text x="571.0" y="107.1" text-anchor="middle">20</text><text x="589.7" y="107.1" text-anchor="middle">40</text><text x="608.4" y="107.1" text-anchor="middle">60</text><text x="627.2" y="107.1" text-anchor="middle">80</text><text x="491.3" y="19.0" text-anchor="end">40</text><text x="491.3" y="37.7" text-anchor="end">20</text><text x="491.3" y="56.4" text-anchor="end">0</text><text x="491.3" y="75.1" text-anchor="end">−20</text><text x="491.3" y="93.8" text-anchor="end">−40</text></g><text x="562.6" y="118.7" text-anchor="middle" font-family="'Liberation Serif','Times New Roman',serif" font-size="12.2" fill="#111">LLiM(100M)</text><rect x="21.3" y="129.3" width="136.2" height="101.2" fill="#fff"/><path d="M24.6 129.3V230.5M43.9 129.3V230.5M63.3 129.3V230.5M82.6 129.3V230.5M102.0 129.3V230.5M121.3 129.3V230.5M140.7 129.3V230.5M21.3 137.6H157.5M21.3 149.6H157.5M21.3 161.6H157.5M21.3 173.6H157.5M21.3 185.5H157.5M21.3 197.5H157.5M21.3 209.4H157.5M21.3 221.3H157.5" stroke="#c9c9c9" stroke-width="0.45" stroke-dasharray="0.7 0.35" fill="none"/><path d="M36.2 187.4L36.3 189.7L36.9 192.1L39.5 198.9L40.6 202.4L42.2 211.7L44.2 214.2L47.4 217.0L52.0 215.2L56.2 214.1L59.0 213.8L61.7 213.9L68.4 215.0L73.8 213.8L80.3 212.8L83.0 212.0L84.2 211.3L85.1 210.4L86.9 203.5L88.1 200.8L89.5 198.6L91.5 196.5L93.4 195.0L95.4 193.8L97.8 192.9L96.8 189.8L96.5 185.4L93.9 183.1L92.2 180.7L91.1 178.0L90.0 174.3L87.8 168.8L86.9 164.3L86.5 158.1L83.6 159.6L81.5 160.1L79.9 160.2L77.4 160.0L75.7 159.5L71.9 157.5L69.5 155.4L67.9 153.2L66.4 150.1L65.0 144.4L64.2 143.2L62.8 142.0L58.8 146.4L51.3 152.8L48.5 156.6L46.5 160.7L42.6 171.7L37.6 181.8L36.7 184.4Z" fill="#069bb9" fill-rule="evenodd"/><path d="M28.8 185.8h0m.6 1.9h0m.6 1.9h0m4.6 23.2h0m1.1-1h0m-1.7-.2h0m1.7-.5h0m-1.4-.8h0m-.1-.5h0m.6-1.9h0m.8-.4h0m-.4-3h0m-1.5-.4h0m1.4-.5h0m-2.4-1.7h0m1.8-.9h0m-2.6-.9h0m-.7-1.3h0m.3-1.1h0m3-.4h0m.7-.4h0m-3.1-.1h0m2.2-.5h0m-1.1 0h0m2.2-.3h0m0-.1h0m.2-.5h0m-.1-.1h0m-1.3-.4h0m1.5-.2h0m.2-.5h0m.1 0h0m-3.4-.1h0m-.4 0h0m1.2-.4h0m-3.3-.1h0m5.2-.5h0m-2.1-.3h0m-.4-.1h0m1.5-.1h0m-2.6-.2h0m2.9-.5h0m-.7-.8h0m-1.7-.1h0m0-.1h0m1.4-1h0m1.9-.1h0m-3.1-.1h0m3.3-.3h0m-2-.1h0m-.1-.2h0m-1.4-.8h0m2.5-.1h0m-.3-.1h0m-3.3-.1h0m3.7-.3h0m-1.8 0h0m1.9 0h0m-.9-.1h0m-.2-.1h0m-3.7-.4h0m5.5-.5h0m-4.1-.1h0m4.2 0h0m-3-.2h0m3-.4h0m-.7 0h0m.4-.3h0m-1 0h0m.5-.4h0m-1.2 0h0m-.1-.3h0m.9-.3h0m-.1-.1h0m1.5-.1h0m-3-.8h0m1.3-.1h0m-3.9-.6h0m5.6 0h0m-.4-1h0m-.6-.3h0m-1.6-1h0m-1.1-.3h0m-.6-.2h0m2.8-.3h0m.6-.7h0m-.8-1.4h0m-1.5-.5h0m3-.6h0m-.9-1.2h0m-.2-.2h0m-.5-2.1h0m1.7-1.4h0m5.5-16.8h0m-.9 3.4h0m1.2 .1h0m-2.7 2.3h0m2.9 1.3h0m-1.7 1.2h0m-1.4 .1h0m1.6 1.6h0m1.5 .4h0m-.3 .3h0m-2.2 .6h0m2.4 .6h0m-4.5 .3h0m4.2 0h0m-3 .1h0m-.1 .2h0m-.5 .2h0m1 .1h0m1.9 .2h0m.8 1h0m.4 .2h0m-.5 .5h0m-2.2 .1h0m.1 .4h0m2.4 .3h0m-.5 0h0m-4 .4h0m.8 .1h0m3.4 .3h0m-2 .6h0m-2.6 .1h0m2.1 .5h0m1.4 0h0m-1.7 .1h0m3 .1h0m-2.6 .1h0m2.4 .3h0m-1.3 .3h0m-1.2 0h0m-2.8 .3h0m3.5 .1h0m2.2 .2h0m.2 0h0m-2.6 .2h0m-.4 .4h0m-2.1 .3h0m3.4 .3h0m-2.7 .1h0m-.2 .2h0m1.9 0h0m-2.3 .6h0m1.5 .4h0m2.1 0h0m-1.4 .1h0m2.2 .4h0m-5.2 0h0m5.1 .2h0m-3.1 .1h0m-.5 .2h0m.1 .3h0m2.7 0h0m-4.1 .1h0m1.3 .9h0m-1.1 0h0m.2 .1h0m.3 .3h0m-.8 .3h0m2.8 .1h0m-.4 0h0m-2.2 1.2h0m-.5 .4h0m.7 .1h0m1.8 .1h0m-.9 .2h0m.8 .1h0m.3 .5h0m-.6 .6h0m-.7 .5h0m-.6 0h0m.8 1.5h0m-1.5 1.2h0m.8 .9h0m-.6 .9h0m.8 .1h0m.6 1.9h0m-1.5 .2h0m1.2 .4h0m.1 .5h0m-1 .3h0m-.1 1.1h0m.5 0h0m.2 .6h0m-.4 .1h0m1.9 .3h0m-2 0h0m1.9 .3h0m-.4 .3h0m-1.7 0h0m2.2 .2h0m-1.2 .9h0m-.2 .3h0m1.7 .2h0m-2.7 0h0m2.5 .2h0m-.8 0h0m.6 .2h0m-.4 .6h0m1.4 .6h0m-2.4 .5h0m2.6 .2h0m-1.3 .3h0m1.2 .1h0m-2 .3h0m1.8 0h0m-2.8 .2h0m-.2 .4h0m1.9 0h0m2.3 0h0m-.4 .7h0m-2.1 .3h0m1 0h0m0 0h0m-2.9 .2h0m4 .1h0m.1 0h0m1 .1h0m-4.7 .1h0m-.3 0h0m4.4 .7h0m0 .1h0m-3.1 .7h0m2.4 .1h0m1.2 .2h0m.2 0h0m-4.4 .2h0m4.7 0h0m-1.3 0h0m-2.1 .2h0m2.9 0h0m-5.1 .3h0m5.2 .5h0m-2.9 .1h0m1.6 .1h0m-.3 0h0m-.7 0h0m-.7 .3h0m.8 .2h0m-1.9 .1h0m3.2 .5h0m.1 .2h0m1 .4h0m-2.6 .2h0m1.7 .1h0m.7 .1h0m.5 .6h0m-2.6 .2h0m1 .3h0m-1 .2h0m-.5 .1h0m-1.5 .2h0m-.3 .3h0m4.1 0h0m-1.8 .1h0m1.5 .2h0m-.1 0h0m-2.9 .1h0m2 .2h0m-1.2 0h0m-1 .2h0m-1.5 .1h0m4.9 .1h0m-.7 0h0m-.9 .2h0m-3 .7h0m3.6 .2h0m-3.7 0h0m.6 .5h0m2 .1h0m-2.6 0h0m1.2 .2h0m-.2 0h0m.9 .1h0m2 .3h0m-3.3 .2h0m5 0h0m-.5 0h0m-4.5 .1h0m4.4 .4h0m-2.6 0h0m-.8 .4h0m3.8 .7h0m-3.9 .4h0m3.4 .5h0m-2.1 .1h0m2.4 .6h0m-2.7 1.1h0m2.2 .4h0m-1.3 1.7h0m1.6 .2h0m.3 2.9h0m0 .1h0m4 1h0m-1.5 0h0m-1.9-.3h0m5.6-.1h0m-2.1 0h0m1.2-.2h0m-4.3-.1h0m4.7-.4h0m-3.5-.3h0m3.8-.1h0m.5-.1h0m-.9-.4h0m-4.8-.6h0m5.4 0h0m-.5-.1h0m.2-.5h0m-.8 0h0m-1-.3h0m-2.8-.2h0m3.8 0h0m1 0h0m-.8-.6h0m-1.2-.4h0m2.3-.1h0m-3.1-.2h0m.7 0h0m.3-.5h0m-.4 0h0m2.1 0h0m-1.9-.5h0m.6 0h0m-3.6 0h0m3.8-.2h0m-3.3-.3h0m-.3 0h0m1.2-.4h0m1.4-.4h0m.1-.7h0m-.4 0h0m-1.7-.1h0m1-1.1h0m-.7-.6h0m-.4-.5h0m-.6-.4h0m.6-.1h0m-.2-.5h0m-.3-.2h0m-.3-2h0m-.4-32.6h0m.1-1.5h0m.8-1.7h0m-.7-.7h0m1-.3h0m1-2h0m-1.9-.1h0m-.3-.4h0m-.1-.1h0m2.7-.9h0m-2.6-1.1h0m1.8-.2h0m1.2-.5h0m-1.3 0h0m1-.7h0m-2.7-.1h0m4.3-1.2h0m-3.2-.4h0m.6 0h0m-1-.2h0m1.9 0h0m-2.5-.9h0m1.9-.2h0m-2-.4h0m.1 0h0m4.6-.1h0m-1.2-.1h0m-1-.1h0m-.1-.1h0m2.7-.4h0m-1.6 0h0m-1.6-.3h0m-.1 0h0m-1 0h0m4.1-.2h0m-1.5-.3h0m-2.3 0h0m3.6-.2h0m.8-.3h0m-4.6-.1h0m4.1 0h0m-2-.1h0m-.2-.2h0m2.6-.1h0m-.5-.4h0m1-.1h0m-.5-.1h0m-.4-.2h0m-4.7-.5h0m4.8-.1h0m.6-.2h0m-4.5-.1h0m3.7-.9h0m.8-.7h0m-1.2-.3h0m.3-.2h0m-3-.3h0m-.7-.1h0m4.5-.4h0m-1.4-.2h0m.1-.2h0m-1.5-.2h0m2.4-.2h0m-3.5-.2h0m-1.4-.5h0m4.7-.5h0m.7-.6h0m-.3-.2h0m-.4-.3h0m.3-.5h0m.6-.3h0m-.3-.8h0m0-.1h0m-1-.2h0m-3-.1h0m1.6-.1h0m1.6-.2h0m.6-.8h0m-1-.6h0m.4-1.9h0m6.6-5.3h0m-.2 2.5h0m.5 1.1h0m-4.2 .1h0m1.6 .6h0m2.4 .4h0m-3.8 .1h0m1.1 .6h0m-2.2 .4h0m3.5 0h0m-1.4 .1h0m2 .5h0m-.8 .1h0m-1.4 .4h0m2.3 0h0m-4.1 .2h0m.5 0h0m2.4 .2h0m2.2 0h0m0 .3h0m-5.6 .4h0m4.5 .2h0m-1.8 .2h0m-2.5 0h0m.9 .2h0m4 .4h0m-4.8 .3h0m5 .1h0m-4.5 .1h0m1.2 .4h0m-.4 .6h0m.8 .1h0m-1.4 0h0m-.3 1.1h0m2.4 0h0m-.4 0h0m2.3 .2h0m-1.8 .1h0m.9 .2h0m-1.5 0h0m.7 .1h0m-.4 0h0m-3 0h0m3.6 .2h0m-1.5 0h0m-1 .2h0m1.8 .9h0m-1.8 1h0m.9 .1h0m-1.2 .1h0m1 .2h0m.3 .1h0m-1.7 1.3h0m-.1 1.6h0m-.5 1.6h0m4.9 53.4h0m-1.2 .1h0m.4 0h0m0 .1h0m-1.1 .1h0m2.1 .6h0m-1.2 .1h0m-.3 .2h0m-3.4 .2h0m2.3 .8h0m-2.2 0h0m.8 .4h0m4.6 .3h0m-.5 .8h0m-.2 0h0m-2.6 0h0m-2 .2h0m3.8 0h0m1.7 .1h0m-2.3 .3h0m-.6 .1h0m-.1 0h0m.7 0h0m-3.5 .1h0m4.7 .1h0m.2 0h0m-4 .1h0m4.4 .8h0m-4 .7h0m.4 .3h0m2 .3h0m-3.1 .4h0m4.9 .8h0m-4.4 2.4h0m7.3-3.6h0m-1.6-.2h0m5-.4h0m-.4-.2h0m.3-.1h0m-.4-.4h0m-2.4-.3h0m.4-.3h0m-2-.1h0m.8 0h0m3.8-.3h0m-2.8-.2h0m1-.3h0m.3-.2h0m-.4 0h0m-3.9 0h0m3.7-.8h0m-3.3-1h0m3.8-.1h0m1.3 0h0m-1.6-.1h0m-3.6-.1h0m1.1-.1h0m2.6-.2h0m.9-.1h0m-1.6 0h0m-.8 0h0m.6-.1h0m-.5-.2h0m2-.3h0m-2.3-.1h0m1.4-.2h0m1.7-.4h0m-4.7-.1h0m3.7 0h0m-2-.5h0m3.3 0h0m-2.6-.3h0m1.1-.2h0m-3.3-61.9h0m-.5-.8h0m1.3-.1h0m-1.5-.8h0m1-.3h0m-.6-.4h0m-.4-.4h0m4.2-.4h0m-.2-.1h0m-2.2-.4h0m3.4-.3h0m-5.4-.1h0m.3-.1h0m3.7-.1h0m-.2-.4h0m1.8-.4h0m-2.3-.3h0m-3.5 0h0m.5-.2h0m5.4-.1h0m-4.8-1h0m4.8-.3h0m-1.1-.1h0m-1.2-.1h0m.8 0h0m1.1-.2h0m-.8-.3h0m0-1h0m-3.1 0h0m3.3-1.5h0m.6-.8h0m-1.7-.7h0m1.1-.5h0m.9-1.2h0m-.7-.3h0m-.5-1.2h0m3.5-2.1h0m2.3 .3h0m-2.6 .5h0m1.5 .4h0m2.5 .2h0m-3.4 .3h0m1.6 0h0m.1 1.1h0m-1.7 .4h0m1.9 .3h0m-1.9 .2h0m.1 .6h0m-1.4 .1h0m1.5 1.8h0m-.6 .4h0m-.8 .2h0m3.4 .1h0m-1.9 .1h0m.4 .5h0m.2 .2h0m2.4 .1h0m.2 .2h0m-3.3 0h0m1 .2h0m-2 .3h0m1.2 .2h0m1.1 0h0m-.2 .1h0m0 0h0m-2.8 0h0m2.5 .1h0m2.5 .1h0m-1.5 .1h0m-3.5 .3h0m.2 .1h0m2.6 0h0m-1.4 .1h0m-1 .5h0m-.7 0h0m3.7 0h0m.1 0h0m.6 1.5h0m.2 .3h0m-1 .4h0m1.3 .2h0m-.3 .4h0m-.1 1.4h0m.6 .9h0m.1 1.3h0m-1.8 62.7h0m-3.1 .2h0m3.2 .1h0m-4 .1h0m3.2 .3h0m-2.8 .2h0m1.2 0h0m1.4 .1h0m2.1 .4h0m-3.2 .1h0m-1.6 .1h0m4.2 0h0m-4.3 .7h0m3.7 0h0m-2.2 .1h0m3 .2h0m-3.1 .1h0m-1.2 .1h0m.1 .2h0m1 .2h0m2.3 .4h0m1.8 .8h0m-4.2 .4h0m.3 .1h0m2.8 .5h0m.2 1.2h0m-4.7 .9h0m6.2 .3h0m1.9-1.1h0m-.8 0h0m.9-.4h0m-1.4-.4h0m1.5-.4h0m-1.1-.1h0m1.8-.2h0m1.1-.2h0m-2.8-.4h0m.3-.1h0m-.2 0h0m3.3-.3h0m-3.5-.4h0m1-.5h0m-1.2-.7h0m2.1 0h0m1.5-.1h0m-.2-.2h0m-.5 0h0m1.1-.3h0m-4.9 0h0m3.3-.2h0m.4 0h0m-.2-.3h0m-.5 0h0m-2.1-.2h0m-1.1-.3h0m4.1-.2h0m-2.8-.2h0m-.3-.1h0m5-55h0m-.2-.4h0m-.6-.1h0m-.6-.3h0m-1.4-1.2h0m-.2-.3h0m2.3 0h0m.4-.5h0m.2-.4h0m-2.4-.2h0m.4-.3h0m2.1 0h0m-1.5-.1h0m-2.4-.2h0m3.8-.1h0m-4.7 0h0m-.2-.1h0m3.6-.4h0m-.9 0h0m-2.8-.3h0m2.1-.2h0m2-1.4h0m-.1-.7h0m-.9-.1h0m-2.4-.3h0m.2-.1h0m3.5-.1h0m-.3-.4h0m-2-.3h0m2.4-.7h0m-4.7-.7h0m2.9 0h0m1.8-.2h0m-3.7-.3h0m.4-.1h0m1.5-.4h0m-3.3-.2h0m2.8-.2h0m.5-.4h0m1.3-.1h0m-4-.1h0m.8-.1h0m.3-.3h0m1.7-.2h0m-1.1-.6h0m.4-.7h0m-.5-.2h0m1-.2h0m.5-1h0m1.9-.1h0m-1.4-.5h0m-2.6-.3h0m-1.6-.9h0m1.2-1h0m1.6-.5h0m-2.2-.4h0m.5-1.1h0m-1.1-.6h0m1.7-.7h0m-1.7-.8h0m6 10h0m.1 .5h0m1.8 3.1h0m-.8 .8h0m2.2 .8h0m-.2 .3h0m-.6 .7h0m-.2 .3h0m-1.6 .1h0m4.3 .1h0m-2.4 .1h0m.9 0h0m-1.7 .3h0m2.2 .7h0m-.5 .5h0m2 .1h0m-.5 .5h0m-2 .5h0m-2 .3h0m-.6 .2h0m1.7 .1h0m1.8 0h0m-.7 .1h0m1.1 .1h0m.3 .6h0m-4.8 .3h0m2.2 .3h0m-1 .2h0m4 .9h0m-3.8 0h0m3.1 0h0m-.5 .5h0m-.8 .1h0m-.8 0h0m2.7 .7h0m-.9 .1h0m.1 .1h0m-.5 51.8h0m-1.3 .3h0m3.3 0h0m-1 .6h0m-2.2 .1h0m2.1 .2h0m-4 .2h0m-.7 .1h0m2.9 .4h0m.8 .3h0m-3.8 .2h0m.4 .6h0m5.5 .1h0m-4.7 .1h0m3.9 .1h0m-4.8 .3h0m1.1 .4h0m1.8 .4h0m-1.1 .1h0m1.7 .1h0m-3.7 0h0m2.9 .1h0m-1.5 .4h0m.2 .1h0m-.7 .2h0m4.2 .1h0m.2 0h0m-1.3 .5h0m3.2 2.3h0m3.6-1.3h0m-2.1-.6h0m-.6-.1h0m3.1-.6h0m.7-1.3h0m-5.5-.2h0m2.1-.2h0m-1.8-.1h0m3.2-.1h0m.3-.1h0m1.7 0h0m-4.7-1h0m1-.7h0m-.9 0h0m0-.1h0m1.1-.1h0m2.3-.3h0m1.2-.1h0m-.9-.2h0m-3.5-.1h0m1.5 0h0m.3-.1h0m-.6-.2h0m-2.8 0h0m4.1-.4h0m-3-.2h0m2.5-.1h0m-1.7-.3h0m2.7-.2h0m-.6-.8h0m1.6-.2h0m-3.7-49.5h0m-.9-.2h0m2.8-.7h0m-1.1-.2h0m-2.6-1h0m.9-.1h0m-.1-.1h0m3.2 0h0m-1.7-.3h0m1.6-.5h0m.6-.1h0m.7-.1h0m-3.2-1.4h0m2.4 0h0m1.4-.1h0m-1.3-.6h0m1.1-.2h0m-1.5-.1h0m-3.4-.8h0m1.9 0h0m1-.1h0m-.7 0h0m.7-.1h0m-3.4-.4h0m5.5-.1h0m-4.7 0h0m3.4-.1h0m-1.2-.2h0m2.4-3h0m5.4-7.3h0m.3 2.3h0m-2.3 1.7h0m-.8 .1h0m3.3 .3h0m-.5 .5h0m-3.5 .6h0m3.3 .1h0m-4.4 .2h0m1 .3h0m2.7 .5h0m-2.2 .8h0m-1.4 .4h0m.8 .2h0m3.4 .1h0m-3.8 .2h0m4.7 .1h0m-.9 .6h0m-2.2 .1h0m-1.4 0h0m-1 .1h0m2.5 .3h0m1.2 0h0m-1.4 .7h0m-1.1 .6h0m-.7 .2h0m4.1 .1h0m-2.8 .7h0m2.1 .2h0m.9 .6h0m-.6 .6h0m-1.4 0h0m-1.8 .3h0m.2 .6h0m-.8 0h0m.6 .2h0m4.8 .2h0m-4.5 0h0m-.8 .1h0m2.6 .6h0m-.3 .1h0m.3 .2h0m1.2 .1h0m-.8 0h0m-2.4 .2h0m2.1 .5h0m2.1 0h0m-4.6 0h0m.6 .2h0m-.5 0h0m.6 .1h0m4 1h0m-2.4 .1h0m-.7 .3h0m1 .4h0m.3 .1h0m1.2 .1h0m-2.2 .1h0m.4 .2h0m-1.1 .1h0m.1 .7h0m3.4 .1h0m-2.9 0h0m1.2 .4h0m.7 .4h0m-1 .4h0m-1.8 .3h0m2.5 .9h0m-1.4 0h0m3 .2h0m-1.3 .4h0m.2 .2h0m-1 .5h0m1.4 0h0m-.9 .3h0m-.3 0h0m-.2 .4h0m.7 .2h0m-1.8 .4h0m2.4 .1h0m-.4 .5h0m-.7 .4h0m1.4 .3h0m-1.1 .2h0m.3 1h0m0 .5h0m-.6 .5h0m.4 .2h0m1.4 .1h0m-.9 1.2h0m-.1 .1h0m.9 1.1h0m-.5 .9h0m.6 1.2h0m-.2 .5h0m.2 .4h0m.1 19.8h0m-.5 .3h0m-.5 .2h0m0 .4h0m-1.3 .9h0m.4 .5h0m1.5 .1h0m.3 0h0m.1 1h0m-2.9 .8h0m2.2 .2h0m-2 .2h0m2.7 .3h0m-2.4 .5h0m-1.8 .2h0m4.3 0h0m-3.5 .1h0m1.4 .5h0m1.4 0h0m0 .3h0m-.9 0h0m-1.6 .1h0m1.1 0h0m-2.3 1.7h0m1.4 0h0m-.6 .1h0m.8 .1h0m-.8 .3h0m1.7 .1h0m.3 .1h0m-3.2 0h0m3 .4h0m-2.1 0h0m-.1 .2h0m1.1 0h0m-2.1 .2h0m.9 .1h0m3.2 0h0m-4.4 .5h0m3.2 .2h0m.5 .2h0m-2 .4h0m2.7 .3h0m-1.5 .1h0m.3 .4h0m-3 .4h0m0 .2h0m.7 .3h0m-1.4 .9h0m1.3 .4h0m2.4 .1h0m1.9 .2h0m-4.2 .5h0m1.4 0h0m-.2 .2h0m-2.3 1.1h0m2.7 .3h0m1.6 0h0m-.9 .2h0m-2.4 .4h0m2.8 0h0m-.9 .3h0m-1.9 .1h0m1.5 .2h0m-1.4 1.1h0m.6 .4h0m.6 .2h0m-1.1 .7h0m5.2-2h0m-.8-2.2h0m2.1-1h0m-.5-1.2h0m-.2-.6h0m1.8-.3h0m-3.1-.7h0m2.6-.4h0m-2.4-.7h0m1.8-1.3h0m-.6 0h0m-.8-1.8h0m2.4 0h0m.4 0h0m-2.2-.6h0m.9-.3h0m1.4-.2h0m-2.8-.2h0m4.7-.4h0m-4.6-.5h0m1.5-.1h0m-.8-.9h0m-.5 0h0m3.2-.1h0m-1.3-1.2h0m-2.2-.3h0m2.2-.6h0m-1.9 0h0m1.4 0h0m3.4-.1h0m-2.1-1.3h0m-2.3-.1h0m1.7-.1h0m2.4-.2h0m-3.1-.6h0m-.5-.1h0m-1.5-.1h0m3.4-.1h0m-2.5-.6h0m2.5-.5h0m-3.2-.2h0m2.3-.2h0m1.4-.1h0m1.1 0h0m-3.5-.9h0m2.4 0h0m.3-.1h0m1.1 0h0m-1.4 0h0m.7-.5h0m-.5-.2h0m1.1-.1h0m-1.5 0h0m.1-.4h0m1-.2h0m.1-.4h0m.3-3.7h0m-.4-.9h0m-.3-2.4h0m-.7-.7h0m.4-.4h0m-1.3-.8h0m1.6-.2h0m-.4-.1h0m.4-.3h0m-3-.8h0m-.6-.2h0m0 0h0m2.4-.9h0m-1.8-.4h0m3.2-.3h0m-.2-.1h0m-1.7-.1h0m-1.1-.3h0m2.2-.2h0m-2.3 0h0m1.2-.2h0m.8-.1h0m-3.5-1h0m3.7-.2h0m-2.9-.3h0m3.8-.1h0m-3.2-.1h0m2.2 0h0m.3-.5h0m-3-.1h0m3.1-.1h0m-4.2-.1h0m2.5-.1h0m.1 0h0m-2.9-.1h0m1.5-.6h0m-.2-.1h0m4-.6h0m-1-.4h0m-1-.4h0m2.1-.2h0m-3.7-.1h0m1.9-.1h0m-3.7-.7h0m.7-.2h0m.8-.3h0m-1-.1h0m4.4-.2h0m-.4 0h0m-2.8-.5h0m3.9-.6h0m-1.5-.4h0m1.4 0h0m-2.4-.4h0m-3.2-.3h0m1.5-.2h0m2.3-.6h0m.3-.2h0m-2.5-.3h0m3.2-.6h0m-4-1.3h0m-.3-.1h0m3.1 0h0m-3.5-.1h0m1.8-.3h0m1.2-.1h0m1.4 0h0m-4.3-.2h0m4.2-.2h0m-3.7-.6h0m1.4-.1h0m.1-.5h0m2.4-.3h0m-2.5-1.1h0m2.4-.4h0m-.7 0h0m-3.2-1h0m2.5-.6h0m-2.6-.7h0m2.9-.2h0m-1.4-.1h0m1.1-.6h0m.4-.8h0m-.8-.1h0m-1.3-.1h0m-.7-.1h0m2.8-.3h0m-2.9-.1h0m2.1-.3h0m-1.5-.2h0m.6-.1h0m-1.3-3.2h0m.9-.1h0m1.2-.7h0m-1.7-.7h0m2.6-1.6h0m-2.6-.5h0m-.6-1.9h0m-.3-.1h0m1.3-2.4h0m-.5-.7h0m0-1.9h0m.9-.2h0m-1.7-1.1h0m.4-1h0m6.6 32.2h0m-.7 2.4h0m.7 .1h0m.5 .1h0m0 1.3h0m-1.2 .5h0m.4 1.1h0m3.5 .2h0m-3.4 .6h0m1 .6h0m-1.7 .5h0m5 0h0m-3.4 .1h0m-1.5 .2h0m2.2 0h0m-1.6 0h0m-.5 .3h0m.5 .2h0m1.4 .3h0m.6 0h0m.1 .3h0m-2.5 .5h0m1.2 .6h0m4 .2h0m-2.2 .5h0m-.8 .2h0m-2 .1h0m.2 .4h0m1.2 .1h0m-1.1 .2h0m1.2 0h0m1.5 .2h0m1 .2h0m-.3 .3h0m-1.2 .1h0m-1.5 .3h0m3.2 .7h0m-3.5 0h0m-1 .3h0m2.6 .2h0m-2.7 .3h0m1.7 .2h0m-1.5 0h0m2.5 .1h0m1.5 .1h0m-3.1 0h0m.4 .1h0m-.2 .3h0m3.1 .2h0m1 0h0m-4.3 .3h0m1.3 .2h0m.3 .5h0m2.3 .1h0m.7 .2h0m0 .1h0m-2.4 .4h0m-3 .1h0m1.4 .1h0m1.4 .1h0m-2.3 .5h0m.9 .1h0m2.4 .2h0m-1.3 .2h0m2.1 .4h0m-3.5 .1h0m1.8 0h0m-1.3 .3h0m3.1 0h0m-1.3 0h0m-2.1 .1h0m-.8 .5h0m.5 .3h0m-.2 .3h0m1.2 .5h0m2.3 .5h0m-2.4 .1h0m-.5 .1h0m.1 .7h0m.6 1.2h0m-.6 .5h0m-.2 .2h0m1.9 1.1h0m-1 .2h0m5.1-2.2h0m-1.3-1.2h0m2.7-1.5h0m.9-.2h0m-2.9-1.5h0m-1-.1h0m2.8-.4h0m-2.9-.2h0m.4-.6h0m-.2-.3h0m1-.3h0m.2-1h0m1.3-.9h0m-2.4-3.2h0m1.6-1.7h0m.1-.3h0m.3-1.3h0" stroke="#069bb9" stroke-width="2.40" stroke-linecap="round" fill="none"/><path d="M39.5 196.9h0m1.9 7.9h0m4.3 2h0m1.1-2.5h0m-2-18.1h0m-1.7-7.9h0m5.9-17.5h0m2.2 1.5h0m-2.4 4.7h0m0 1.9h0m2.6 6.2h0m-3.1 16.9h0m1.7 15.6h0m-.1 .8h0m6.6-4.1h0m-2.3-8.2h0m-.1-3.3h0m3.3-2.8h0m.7-21.4h0m-2.1-.2h0m2.5-1.6h0m-4.3-1.3h0m1.8-13.6h0m8.8-6h0m.1 17h0m-3.2 8.9h0m-1.4 .1h0m.5 10.8h0m-.4 1h0m1.4 17.9h0m.1 .4h0m-.6 .2h0m2.8 3.2h0m-.8 4.3h0m6.6-1.2h0m-.4-.4h0m-3.1-6h0m-.2-3.3h0m1.2-7.8h0m-.1-2.1h0m.5-4.3h0m-1.2 0h0m5.3-6.3h0m-4.2-2h0m3.3-9.8h0m.9-2.9h0m-2.3-7.7h0m3.6 3h0m2 11.1h0m-1.3 6h0m2.5 .7h0m-3.3 .9h0m4.2 4.9h0m-4.2 .5h0m3.9 2.8h0m-2.3 4.5h0m2.2 5.5h0m-3.2 6.7h0m10.1 2.8h0m-.1-7.1h0m-3.5-.6h0m1.9-11.7h0m-.9-2.1h0m2.6-13h0m1-4.9h0m2.6 5.7h0m.6 2.1h0m-2.4 0h0m-1.5 12.7h0m5.4 7.9h0m-1.1 3.7h0m-.1 .3h0m5-5.5h0" stroke="#ffffff" stroke-width="0.90" stroke-linecap="round" fill="none"/><path d="M65.4 154.7h0m.5 .6h0m.1 5.5h0m2.4 14.2h0m.8-.4h0m.5-1.4h0m.4-.2h0m-2.5-2h0m.1-1.5h0m.2-.3h0m-1.4 0h0m1.6-.4h0m-2-.5h0m1.8-.4h0m.6-.3h0m.4 0h0m.5-1.2h0m-1.3-.2h0m.3-.4h0m0-.1h0m1.6-2.9h0m-2.1-.4h0m-1.3-.9h0m1-.6h0m1.2-.7h0m-2.5-.4h0m3.6-.9h0m-3.3 0h0m1.7-.8h0m-1.4-.3h0m.4-1.4h0m.3-.1h0m-1.5-.3h0m3.6-.2h0m-2.2-.1h0m2-.2h0m-2.2-.4h0m-1-.3h0m.2-.1h0m3.5-.3h0" stroke="#ffffff" stroke-width="1.10" stroke-linecap="round" fill="none"/><path d="M82.4 196.5h0m-.2-.5h0m-.3-.2h0m2.1-6.6h0m-3-.3h0m-.2-1.9h0m2-2h0m5.7-2.5h0m1 .8h0m-2.1 .5h0m-3.2 .8h0m4.3 2.4h0m-1.3 .1h0m-3 0h0m2.8 1.6h0m2.9 .3h0m-5.2 .2h0m-.6 .2h0m.2 .4h0m2.2 .1h0m-1.6 .9h0m4.1 .5h0m-1.4 3.5h0m1.7 .3h0m-4.8 0h0m2.7 1.6h0m2 .1h0m.4 .4h0m3.7-.9h0m-.5-1h0m-1.1-1h0m2.3-2.8h0m-3.5-1h0m.4-1.9h0m4.6-2h0m-1.4-.5h0m1.5-.8h0m-1.3-.4h0m-3-.8h0m-.7-.6h0m.6-.5h0m-.3-1.8h0m5.4 8.4h0m.3 5.2h0m-.5 1.5h0" stroke="#ffffff" stroke-width="1.10" stroke-linecap="round" fill="none"/><path d="M117.9 167.5L116.0 169.1L114.5 171.0L109.9 178.3L109.1 180.1L111.7 186.8L113.6 193.7L114.4 195.9L115.6 197.7L121.6 202.6L127.0 208.4L128.0 209.0L129.4 209.3L131.8 209.1L134.2 207.6L136.4 205.4L139.1 201.8L142.9 196.1L144.5 193.2L145.1 191.4L145.4 189.6L145.1 187.6L144.1 186.3L138.3 182.1L131.6 176.2L124.1 171.6Z" fill="#a77d65" fill-rule="evenodd"/><path d="M107.4 190.8h0m-.4-3.8h0m-.2-.3h0m1.1-1.4h0m-4-1.7h0m4-.2h0m-1.6-.9h0m-.3-.9h0m-1.9-.3h0m3-.5h0m-.5-.3h0m.5-1h0m-1.1-.9h0m1.8-.6h0m-2.3-.6h0m-.1-.2h0m-.7-.5h0m-.3-.3h0m.6-.1h0m1.6 0h0m1.1-.7h0m-1.7-.9h0m.7-1.2h0m.7-.5h0m-.4-1.3h0m.7-.9h0m3.1-4h0m3.1 .5h0m-1.3 1.1h0m.6 0h0m-3 .2h0m3.5 .1h0m-1.9 .2h0m1.3 0h0m-4.1 .1h0m.6 .2h0m4.3 .4h0m-4.6 .3h0m0 .1h0m2.2 .4h0m-.8 .2h0m2.2 .2h0m-1.1 .5h0m-2.5 .2h0m4.4 .2h0m-.4 .3h0m-2.5 .1h0m1.1 .1h0m-1 .1h0m.5 .2h0m1.2 .5h0m1.3 .1h0m-.9 0h0m-2.4 .2h0m-2.3 .4h0m1.7 0h0m3.1 .5h0m-3.2 .2h0m-.8 .2h0m3.2 .1h0m-3 .1h0m.5 0h0m1.4 0h0m-.6 .4h0m-.1 .1h0m-.5 .2h0m1.1 .2h0m1.9 .2h0m-2.6 .3h0m-2.3 .1h0m3.6 .3h0m-.2 .3h0m-2.3 .7h0m2.5 .1h0m-2 .3h0m-1 1.5h0m1.7 .1h0m-.3 .1h0m-1.5 1h0m1 .8h0m-.1 .6h0m-.6 .2h0m1.8 1h0m.5 .3h0m-.8 .2h0m-1.1 0h0m1.2 .8h0m.1 .5h0m1.8 .2h0m-.2 .2h0m-1.9 .1h0m.3 0h0m.8 .2h0m-2.7 .4h0m.4 .1h0m.4 0h0m-.9 .1h0m3.9 .5h0m-.4 0h0m-2 .9h0m2.9 .3h0m-1.9 .2h0m.9 .1h0m-.8 .4h0m1.1 .4h0m-2.5 .1h0m2.1 .4h0m.1 0h0m.2 .4h0m-2.5 .1h0m3.3 .1h0m-.3 0h0m-1.1 .4h0m-3 .8h0m2.2 .2h0m1.6 .6h0m-1.1 .1h0m0 0h0m.1 .4h0m-.1 0h0m2.2 .3h0m-4.9 .1h0m3.3 .1h0m-2.8 .1h0m1.1 .1h0m-.9 .2h0m3.6 .1h0m.5 .1h0m-1.9 .3h0m1.5 .5h0m.8 .3h0m-3 .4h0m2.7 .4h0m-2.5 0h0m-2 .2h0m.8 .5h0m-.2 .7h0m4 .4h0m-3.8 0h0m.1 .3h0m-.8 .1h0m4.1 .2h0m-2 1.5h0m2.5 .2h0m-1.6 1.5h0m7.5 6.4h0m-.6-2.2h0m.7-.7h0m-4.6-.5h0m1.6-.4h0m1.5-.4h0m-1.3-.7h0m-2.2-.1h0m4.4-.8h0m.8-.4h0m-1.4-.4h0m-.3 0h0m-.4-.2h0m2-.3h0m-1-.3h0m-1.8-.3h0m-2.3-.2h0m4-.4h0m-2.7-.2h0m.9-.3h0m-2.8-.3h0m.3-.2h0m.8 0h0m2.4-.4h0m-.5-.3h0m0-.5h0m-1.5-.7h0m.7 0h0m-1-.2h0m-.8-3.2h0m.1-20.1h0m0-1.4h0m0-1.9h0m4.8-.5h0m-1-.2h0m-4 0h0m5.4-.2h0m-1.6-.1h0m-2.9-.3h0m.2 0h0m3.8-.1h0m-4.7 0h0m-.2-.3h0m5.1-.3h0m-4-.3h0m1.3-.1h0m1.7-.1h0m-1.4-.1h0m-.4 0h0m-1-.1h0m-1 0h0m5.2-.2h0m-4.2-.6h0m1.1-.4h0m-1.5-.1h0m2.9-.1h0m-1.3-.6h0m1.5-.2h0m-2 0h0m2.6-.1h0m-2.5-1h0m3.2-1.1h0m.4 .2h0m1.1 1h0m-.8 1.2h0m5.3 .3h0m-4.5 .2h0m2.4 .8h0m-.3 .6h0m-1.5 .9h0m-.9 .4h0m3.8 .2h0m-1.6 .3h0m-1 .3h0m3.3 0h0m.4 0h0m-3.4 .2h0m-1.6 .1h0m3.2 .3h0m-3.7 .2h0m3.4 0h0m1.6 .2h0m-4.6 0h0m-.1 .3h0m4.4 .1h0m-1.5 .3h0m.8 0h0m.2 .1h0m-.7 0h0m-1.5 .1h0m-.4 0h0m1.4 .3h0m-.3 .4h0m.2 .3h0m-.2 .2h0m-.3 .1h0m2.5 .5h0m-.5 .6h0m-4.2 27h0m.1 .4h0m.5 .9h0m.9 0h0m-1.1 .3h0m.3 .9h0m1.2 .3h0m-2.1 .1h0m2.5 .4h0m-.3 .4h0m.5 .2h0m-.1 .3h0m.7 .3h0m-1.9 .1h0m3.3 .2h0m-2 .4h0m2.8 .1h0m-2.5 .1h0m1.4 .1h0m-.5 0h0m-4.1 0h0m.7 .7h0m1.5 .2h0m-1.1 .3h0m1.1 .2h0m2.4 0h0m-2.3 .1h0m2.1 .5h0m-1.5 .2h0m-2.4 .7h0m1.2 .1h0m.7 0h0m1.6 .1h0m1.6 .3h0m-.6 0h0m-.9 .1h0m1.8 1.5h0m-1.9 .1h0m-.8 .3h0m-1.3 0h0m3.8 .7h0m-.4 1.9h0m4.6 .8h0m-1.7-.7h0m3.1-.3h0m-3.8-.7h0m.5-.9h0m1.7-.1h0m1.9-.1h0m-1.5-.4h0m-.6-.3h0m-.3 0h0m-1.5-.1h0m1.8 0h0m-3.3-.2h0m5.4-1.3h0m-.4-.1h0m-.4-.1h0m-2.8-.4h0m.5-.6h0m.2-.1h0m-1.5-.2h0m-.8-.3h0m4.9-.1h0m.6-30.1h0m-.2-.2h0m-.8-.1h0m-1.6-1.2h0m1.9-.6h0m-1.2-.2h0m-2.3-.5h0m.2-.8h0m-.2-.1h0m3-.2h0m-4.5 0h0m1.7-.7h0m-.8 0h0m2.9-.1h0m-1.9 0h0m2.3-.4h0m-.2 0h0m-3.7-.6h0m-.2 0h0m5-.4h0m-3.7-.1h0m2.7-.2h0m-3.9 0h0m2.4-.8h0m.7-.3h0m.7 0h0m-.8-.3h0m2.2-.6h0m-4.9-.7h0m6 2h0m-.7 2.2h0m.3 .5h0m4.3 1h0m-1 .3h0m-.6 .5h0m-2 .1h0m-.5 .2h0m2.6 .5h0m-.8 .1h0m-.8 .2h0m3.7 .8h0m-2.9 .8h0m0 .4h0m-.3 .1h0m3.3 .1h0m-1.6 .6h0m-1.3 .2h0m-.9 .3h0m2.8 .7h0m0 .3h0m-.3 .8h0m.7 .1h0m.7 1h0m.2 20.1h0m-1.1 1h0m1.2 .7h0m-1.5 .3h0m-.4 0h0m1.3 .6h0m-.8 .3h0m.9 .2h0m-1.4 .2h0m.6 .2h0m-1.9 .1h0m-.3 .4h0m-.2 .1h0m1.3 .3h0m-1.2 .2h0m1.2 0h0m-2 .1h0m3.8 0h0m.6 .1h0m-.3 .1h0m-.4 .1h0m-2.6 .1h0m-2 .8h0m.4 .1h0m1.6 .2h0m-1.6 0h0m4.7 0h0m-1 .7h0m1.4 .3h0m-4.1 .4h0m-1.2 .1h0m.7 .1h0m-1.2 .1h0m5 .4h0m-4.5 .5h0m1.9 .2h0m-.6 .2h0m3 .4h0m-2.5 .5h0m-1 .4h0m-1.1 .1h0m-.1 .4h0m1.9 .6h0m-1 0h0m5.3-3.4h0m-.4-1.3h0m.5 0h0m1.7-2h0m-.9-1.6h0m-.9-.5h0m.9 0h0m3.6-.3h0m-2.4-.2h0m1.1-.1h0m.8-.4h0m-.7-.2h0m-2 0h0m2.7-.2h0m-2.7 0h0m.3-.1h0m-1 0h0m.6 0h0m.8-.3h0m-.5-.3h0m-1.8-.2h0m5.1-.3h0m-3.3-.3h0m-.1 0h0m-.3-.4h0m2.1 0h0m-3.4-.2h0m3.8-.8h0m-2.9 0h0m2.8 0h0m1-.1h0m-1.7-.2h0m-.4-.1h0m2.8-.6h0m-3-1.2h0m2-.1h0m.4-.7h0m-2.1-.7h0m1.1-.3h0m1.6-.2h0m-2.1 0h0m-.3-.1h0m1.6-.4h0m.1-.4h0m-.1-.8h0m.6-.9h0m.3-6.9h0m0-.7h0m-1.2 0h0m.6-1.6h0m.3 0h0m-.1-.4h0m-1.2-.3h0m1.3-.5h0m-1-.3h0m1.3-.3h0m-5 0h0m2.1-.2h0m-.7-.6h0m-2.1-.1h0m4-.1h0m-2.5 0h0m-.5-.3h0m3.3-.3h0m.4-.3h0m1-.3h0m-4.2-.3h0m1.1-.1h0m2.1-.1h0m-4.1-.5h0m2 0h0m-1.9-.7h0m1.2-.3h0m2.7-.1h0m-.6-.1h0m-.6-.1h0m.1-.5h0m-2.7-.3h0m5.6 3.2h0m1.9 1.2h0m2.6 1.5h0m-4.8 .1h0m.6 .4h0m2.2 .3h0m-1.8 .2h0m4.3 .8h0m-4.4 0h0m1.6 .2h0m-2.6 0h0m2.2 .2h0m.8 .1h0m-2 .3h0m2.8 .1h0m-3.3 .2h0m3.2 .2h0m-.4 .5h0m-2.6 .4h0m.9 .2h0m2.6 .1h0m-1.2 .1h0m-.7 0h0m2.8 .3h0m-2.2 .1h0m-.9 .4h0m.4 .1h0m-1 .1h0m.9 .2h0m-2.1 .8h0m-.2 0h0m1.6 0h0m2.4 .3h0m1.5 .1h0m-.8 .4h0m-1.8 .2h0m-.4 .4h0m-2.1 .1h0m1 .3h0m.8 .1h0m.5 .2h0m-2.4 0h0m1.7 .3h0m-.7 .2h0m1.5 .2h0m-2.7 .2h0m.7 .4h0m1.6 .2h0m-2.5 0h0m2.5 .2h0m-.7 .1h0m1 .4h0m1.1 0h0m-2.8 .4h0m.8 .9h0m1 .1h0m-2.7 .4h0m.4 .1h0m2.1 .2h0m-.7 .1h0m2.6 .2h0m-.5 0h0m-1.2 .1h0m0 1.2h0m-.8 .9h0m-.4 .1h0m-1.4 .9h0m1.8 .6h0m-.6 .2h0m-.6 .1h0m1.8 .2h0m-1.1 1.3h0m5-11.7h0m.1-2.6h0m-.1-.7h0m-.1-.7h0m-.3-1.7h0" stroke="#a77d65" stroke-width="2.40" stroke-linecap="round" fill="none"/><path d="M113.2 190.3h0m27.6 5.8h0" stroke="#ffffff" stroke-width="0.90" stroke-linecap="round" fill="none"/><path d="M107.5 196.1h0m-.1-8.3h0m0-1.3h0m-2.9-1.5h0m2.5-.7h0m.2-2.4h0m-2.8-1.7h0m-.4-4.5h0m3.3-4.3h0m1.4 4.7h0m4.3 1.3h0m-2.2 12.1h0m2.9 .5h0m1.7 7.7h0m2.8-13.3h0m6.1-20.8h0m-2.5 1.2h0m-.6 1.4h0m-.4 2.9h0m4.5 1.2h0m-1.4 4.7h0m1.7 21.4h0m-1 3.3h0m-4.2 .7h0m4.9 10.5h0m-2.2 2.1h0m4.4 .7h0m1.1-1.5h0m3.4-9.9h0m-.1-14.5h0m-3.2-.9h0m4.5-16.7h0m.9 1.1h0m3.4 5.3h0m-1.2 2.3h0m1.6 .9h0m-.1 .6h0m-.5 1.6h0m-3.2 .3h0m-1 17.3h0m3 9.3h0m2.5-9.3h0m2.6-16.7h0m2.6-1.2h0m5.5 8.7h0m-2.2 7.7h0m.9 1h0m2.9-3.5h0" stroke="#069bb9" stroke-width="2.40" stroke-linecap="round" fill="none"/><path d="M34.6 204.9h0m-2-11.2h0m2.6-10.3h0m10.4 35.4h0m-2.3-32.6h0m3.7-31.3h0m2.2 7.7h0m3.8 44.3h0m1.4 2.4h0m.6-60.2h0m-.5-1.2h0m3.4-6.2h0m-.3-4.7h0m5.4 4.2h0m.5 28.4h0m1.6 3.4h0m.6 26.1h0m1.1 9.6h0m4.7-.7h0m-.3-2.7h0m-1.5-16.3h0m-3.1-20h0m2-18.6h0m5.3 4.4h0m-.7 2.1h0m3.4 9.3h0m-.5 28.5h0m-3.7 9.9h0m9.8 14.1h0m-2.4-33.2h0" stroke="#a77d65" stroke-width="1.60" stroke-linecap="round" fill="none"/><rect x="21.3" y="129.3" width="136.2" height="101.2" fill="none" stroke="#747474" stroke-width="0.55"/><path d="M24.6 230.5v1.2M43.9 230.5v1.2M63.3 230.5v1.2M82.6 230.5v1.2M102.0 230.5v1.2M121.3 230.5v1.2M140.7 230.5v1.2M21.3 137.6h-1.2M21.3 149.6h-1.2M21.3 161.6h-1.2M21.3 173.6h-1.2M21.3 185.5h-1.2M21.3 197.5h-1.2M21.3 209.4h-1.2M21.3 221.3h-1.2" stroke="#555" stroke-width="0.4" fill="none"/><g font-family="'Liberation Serif','Times New Roman',serif" font-size="4.9" fill="#000" font-weight="normal" stroke="#000" stroke-width="0.12"><text x="24.6" y="236.0" text-anchor="middle">−60</text><text x="43.9" y="236.0" text-anchor="middle">−40</text><text x="63.3" y="236.0" text-anchor="middle">−20</text><text x="82.6" y="236.0" text-anchor="middle">0</text><text x="102.0" y="236.0" text-anchor="middle">20</text><text x="121.3" y="236.0" text-anchor="middle">40</text><text x="140.7" y="236.0" text-anchor="middle">60</text><text x="19.4" y="139.2" text-anchor="end">40</text><text x="19.4" y="151.2" text-anchor="end">30</text><text x="19.4" y="163.2" text-anchor="end">20</text><text x="19.4" y="175.2" text-anchor="end">10</text><text x="19.4" y="187.1" text-anchor="end">0</text><text x="19.4" y="199.1" text-anchor="end">−10</text><text x="19.4" y="211.0" text-anchor="end">−20</text><text x="19.4" y="222.9" text-anchor="end">−30</text></g><text x="92.2" y="248.1" text-anchor="middle" font-family="'Liberation Serif','Times New Roman',serif" font-size="12.2" fill="#111">Pyraformer</text><rect x="178.1" y="129.3" width="136.5" height="101.2" fill="#fff"/><path d="M189.3 129.3V230.5M210.3 129.3V230.5M231.3 129.3V230.5M252.3 129.3V230.5M273.3 129.3V230.5M294.4 129.3V230.5M178.1 131.5H314.6M178.1 153.4H314.6M178.1 175.4H314.6M178.1 197.4H314.6M178.1 219.4H314.6" stroke="#c9c9c9" stroke-width="0.45" stroke-dasharray="0.7 0.35" fill="none"/><path d="M189.1 177.7L189.7 180.2L191.7 183.9L195.2 188.4L199.0 192.6L204.6 187.2L201.4 177.4L199.9 174.9L198.1 173.3L196.9 172.9L195.0 173.0L191.1 174.0L190.3 174.5L189.6 175.2L189.1 176.6Z" fill="#069bb9" fill-rule="evenodd"/><path d="M186 177.6h0m-.4 1.4h0m-.4 .5h0m.7 2.3h0m5.5 9.3h0m-1.2-1.9h0m.1-2.1h0m-1.6-.4h0m2.7 0h0m-3.3-.6h0m-.8-1.1h0m3.5-.1h0m-3.7 0h0m2.2-.7h0m.7-.1h0m-2.1-.6h0m3.1-.3h0m-1.8-.4h0m-2-.1h0m3.7-.4h0m-1.6-.3h0m.1-.7h0m.6-.1h0m-1.7 0h0m-.5-.1h0m-.6-.3h0m-.3-.6h0m3.4-.3h0m.4-.4h0m-3.5 0h0m2.1-.4h0m-.2-.1h0m-1.1-.2h0m-1-.3h0m1.4 0h0m-.9-.5h0m-.7-.1h0m2.9-.5h0m.2 0h0m-2.4-.1h0m.7-.2h0m.7-.2h0m-.4-.1h0m.9-.3h0m-2.8-.1h0m1.3 0h0m1.4-.1h0m-2.8-.1h0m2.2-1.1h0m2.2 0h0m-4.3-.5h0m2.2-.3h0m-2.5-.2h0m3.5 0h0m-2.1-.2h0m4.2-.4h0m-2.6-.2h0m-2.2-.2h0m-.2-.6h0m3.7-.1h0m-3.3-.1h0m-.8-.2h0m5.1 0h0m-.2-.3h0m-2.1-.2h0m8.4-3h0m-2.1 .5h0m-2 0h0m2.7 1.2h0m-2.2 .1h0m2.2 .1h0m-3.5 .1h0m3.3 .4h0m-.5 .2h0m2.1 .1h0m-5.7 .2h0m0 .2h0m2.1 .8h0m-.4 .2h0m-.4 .2h0m3.3 .3h0m-2 0h0m1 .1h0m2.3 .1h0m-2 .1h0m-1.2 .1h0m.4 0h0m-2.4 0h0m4.2 .2h0m-.3 .3h0m-2.9 .1h0m-1.4 8.1h0m1.2 2.8h0m-.3 .1h0m-.6 .3h0m.5 .5h0m-.7 .1h0m3.2 .6h0m-1.4 .4h0m.9 .3h0m-1.3 0h0m1.3 0h0m-.2 .4h0m.1 .2h0m1.4 .3h0m-1.2 .3h0m1.5 .2h0m-1.2 .3h0m-1.7 1h0m1.8 .9h0m.2 0h0m.7 .4h0m-.6 .3h0m.6 .2h0m-2.1 .4h0m1 .1h0m-.3 .3h0m2.6 .3h0m-1.3 .4h0m0 1h0m1.2 .3h0m-.6 2h0m1.6 .6h0m.5-.9h0m.3-.3h0m2.5-.7h0m-1.3-.4h0m-1.8 0h0m2.6-.4h0m-1 0h0m1.7-.5h0m-1.3-.5h0m-2-.6h0m2.5-.4h0m-1.4-.1h0m.2-.2h0m.5-.4h0m-.5-.2h0m-1.2-.1h0m2.9-.1h0m-2.2 0h0m3-.1h0m-1.2-.1h0m-3-.1h0m1.9-.4h0m1.7-.1h0m-2.2 0h0m1.7-.2h0m2.5-.6h0m-3-.2h0m2.4 0h0m-1.3-.1h0m1.9-.1h0m-.7-.1h0m-1.9 0h0m1.1-.4h0m.3-.6h0m-1-.2h0m.9-.4h0m.7-2.5h0m-.6-.4h0m.5-.2h0m-.3-.4h0m1-.4h0m-.5-.3h0m-1.3-.3h0m-.1-.3h0m.3 0h0m.3-.7h0m.7-.5h0m-.6 0h0m-1-1.6h0m-.3-.1h0m1.5-.1h0m-.6 0h0m.1-.3h0m-1.3-.6h0m1.5-.2h0m-1.1-.5h0m2.2 0h0m-1.7-.1h0m-.8-.8h0m2.7-.2h0m-2.3-.5h0m-1.7-.2h0m1.9 0h0m-1.5-.4h0m.5-.1h0m1.7-.2h0m-2.3-.2h0m.8-.4h0m-2.4-.1h0m4.3-.1h0m-1-.2h0m.2-.1h0m1.7 0h0m-2.4 0h0m-1.7 0h0m.7-.1h0m2.7 0h0m-3 0h0m-1.7 0h0m3.1-.5h0m1.9-.2h0m-2.9-.7h0m0-.4h0m-1-.1h0m-.2-.2h0m-1.3 0h0m3.7-.1h0m.9-.2h0m-4.5-1.4h0m1-1.2h0m-.2-.7h0m5.2 5.8h0m1 2.7h0m-.6 .6h0m-.4 .7h0m1.4 .5h0m-1.1 .3h0m0 .8h0m3 1.1h0m-1.1 0h0m-1.7 .9h0m.4 .3h0m-.1 .3h0m.9 .1h0m-.2 .1h0m.4 .2h0m2.1 .4h0m-3.9 .1h0m-.1 .1h0m.1 .1h0m.1 0h0m0 .2h0m1.8 .6h0m-2.1 .2h0m1.8 .5h0m-.8 .7h0m.7 .1h0m2.4 .2h0m.2 .5h0m-2.9 .2h0m-.2 .3h0m-.5 0h0m-.3 .2h0m2.5 0h0m.1 .2h0m.6 .2h0m1.2 .1h0m-4.8 .4h0m1 .2h0m-.6 0h0m-.3 .1h0m2.9 .2h0m-2 .2h0m1.1 .1h0m.6 1.9h0m-.7 0h0" stroke="#069bb9" stroke-width="2.40" stroke-linecap="round" fill="none"/><path d="M201.2 185.4h0" stroke="#ffffff" stroke-width="0.90" stroke-linecap="round" fill="none"/><path d="M185.2 176.1h0m-.5 2.4h0m.8 1h0m-.8 .5h0m1.1 1.3h0m2.5 7h0m3.6-20.2h0m.8 .4h0m2.7 25h0m-.7 1.7h0m.2 .3h0m4.2 2.4h0m3.5-1.5h0m-.4-1.7h0m1-20.7h0m-2.4-2.4h0m2.8-.5h0m-5.2-1.1h0m6 2.5h0m2.1 4.1h0m1.6 6.4h0m-.7 3.1h0" stroke="#a77d65" stroke-width="1.70" stroke-linecap="round" fill="none"/><path d="M227.6 156.8L227.5 160.2L227.9 163.7L228.7 167.1L229.8 170.1L231.4 172.7L232.7 174.1L234.1 175.3L235.9 176.1L236.8 176.1L238.5 175.6L246.2 172.7L248.0 171.8L249.2 171.0L251.1 168.9L253.9 164.6L254.9 162.7L255.6 160.6L255.3 158.4L254.6 156.3L251.1 147.7L248.9 143.3L247.1 140.5L245.8 139.2L244.0 138.1L242.4 137.7L239.8 137.7L237.4 138.5L235.0 140.0L232.8 142.1L231.1 144.8L229.2 148.9L228.0 153.4Z" fill="#069bb9" fill-rule="evenodd"/><path d="M226.9 174.1h0m.6-1.6h0m.4-.6h0m-.7 0h0m-.4-.2h0m.9 0h0m.1-2.5h0m-1.6-1h0m.8-.9h0m-2.1-.7h0m.7-.1h0m.2 0h0m-1.4-.4h0m2 0h0m0-.1h0m-2.4-.5h0m2.4-.2h0m.4 0h0m-1.1-.1h0m2-1.7h0m-.6-.5h0m.6-.4h0m-2.8-.1h0m-1.3-.1h0m2.9-.1h0m-1.7-.2h0m2.6-.1h0m-3.4 0h0m-.5-.1h0m4.5-.2h0m-3.5-.1h0m-.2-.1h0m2.9-.7h0m-1.7-.3h0m2.4-.2h0m-1.9-.1h0m.6-.5h0m-1.7 0h0m.4-.1h0m-1.4-.2h0m1.6-.1h0m.3 0h0m2.1-.3h0m-2.3-.1h0m-1.7-.6h0m.6-.1h0m2.6-.1h0m-.7-.2h0m1.1-.1h0m-2.6-.9h0m1.8-.2h0m1-.1h0m-.5 0h0m-.8-.2h0m1-.1h0m-.1-.6h0m-3.1-.2h0m1.9-.1h0m-3-.4h0m3.4-.5h0m.1-.4h0m1 0h0m-.4-.3h0m-2.7-.7h0m2.8-.2h0m-.6-.4h0m1.2-.2h0m-1.3-.1h0m.1-.2h0m.7-.1h0m.1 0h0m-2.1-.1h0m-.4-.8h0m2.6-.6h0m-3.5-.4h0m2.4 0h0m.6-.7h0m.5-.7h0m-1.1-.2h0m.2 0h0m.9-1.2h0m-.6-.3h0m-.2-.1h0m-.7-.1h0m.6-.2h0m.7-.1h0m-.7-.2h0m-1.2-.3h0m1.6-.2h0m.2-.3h0m-.5-.5h0m.5-.1h0m-.4-.8h0m6.8-6h0m-.2 .5h0m-1.9 .1h0m.3 .8h0m.1 .9h0m-.2 0h0m1.2 .1h0m.4 .6h0m-3.8 .3h0m1.1 .1h0m2.2 .4h0m.5 .1h0m-1 .3h0m1.4 .2h0m-2.8 .5h0m2.5 0h0m-1.3 .3h0m-2.4 .6h0m1.7 .1h0m1.4 .1h0m-2 .3h0m.4 .2h0m-1.8 .3h0m.6 .9h0m-.7 .1h0m-.5 .1h0m2.3 .2h0m.2 .3h0m-1.8 .5h0m-1.4 .7h0m2.6 .2h0m-2.4 0h0m-.3 .3h0m1.9 .4h0m-1 .3h0m-.4 .7h0m.6 2.2h0m0 .4h0m-.1 .2h0m-.7 .8h0m-.2 .3h0m.3 0h0m.7 .5h0m-.5 .4h0m-.4 .5h0m-.2 1.2h0m.1 1.5h0m0 2.6h0m-.1 .3h0m.2 .2h0m0 2.6h0m.9 1.5h0m-.1 .3h0m-.8 1.4h0m.5 .5h0m.1 .3h0m1.2 .8h0m-1.2 .3h0m-.7 .7h0m2.1 .2h0m-1.5 .1h0m.7 .1h0m-.4 1h0m2.4 .3h0m-1.1 0h0m-1.8 .1h0m.3 .2h0m1.7 0h0m-1.2 1h0m-.7 .1h0m3.9 .3h0m-2.7 .9h0m-.4 0h0m-.1 .5h0m.6 .9h0m2.6 .3h0m.2 0h0m-.1 .3h0m-1.3 .2h0m1.8 0h0m.1 .7h0m-2.7 .5h0m.3 .4h0m-.8 .2h0m2.7 .3h0m-3.2 0h0m1.1 .6h0m1.8 .8h0m6.7-.5h0m-3-.2h0m3.2-.1h0m-2-.3h0m-1.9-.4h0m4.1-.2h0m-2.7-.5h0m-2.2-.4h0m2.7-.2h0m.3-.1h0m-3.1-.1h0m4.1-.1h0m-4.6-.5h0m5 0h0m-3.6-.1h0m-.7-.1h0m1.2-.1h0m-1.9-33.1h0m.6-.3h0m1.2-1.1h0m-.7-.4h0m1.7-.1h0m-1.5-.3h0m1-.2h0m-1.9 0h0m1.5 0h0m-1.7-.1h0m3.7-.2h0m-2.8 0h0m3.6-.4h0m-3.9-.1h0m4.3-.2h0m-2.3 0h0m1.6-.3h0m-.4-.1h0m-3-.1h0m.8 0h0m1.6-.3h0m2-.6h0m-3.3-.1h0m1.9-.1h0m1.1-.3h0m-1.9 0h0m-3-.1h0m2.3-.1h0m-1.8-.4h0m1.8-.2h0m2.6-.3h0m-4-.1h0m1.2-.4h0m3.5 0h0m-.1-.2h0m-1.3 0h0m-1.6-.1h0m2-.6h0m.4-.2h0m2.4-.4h0m-.6 .5h0m-.1 .8h0m2.7 0h0m-.1 .2h0m-1.6 .1h0m-1.8 .1h0m3.4 .1h0m1 .4h0m-1.2 .4h0m1.7 .1h0m-2.3 .5h0m.7 0h0m-2.4 0h0m.2 .4h0m2.1 .2h0m-2.7 .3h0m.1 .4h0m2.7 .2h0m2 0h0m-4.2 .1h0m3.7 0h0m-1.9 .1h0m-.1 .6h0m1.6 .1h0m.6 1h0m.4 .3h0m-.4 31.5h0m-1.6 .4h0m-.4 .2h0m1.1 .2h0m-1.6 .1h0m-.4 0h0m1 .1h0m2.2 0h0m-.8 .5h0m-.8 .2h0m-1.5 .2h0m1.1 .2h0m-3 .1h0m2.9 0h0m1.4 .4h0m-2.3 .3h0m3.5 0h0m-3.4 .4h0m-2.6 .6h0m.9 .2h0m2.4 .3h0m-1.1 .3h0m0 .5h0m.7 0h0m-2.6 .2h0m5.2 .4h0m-1.2 .2h0m-4.1 1.2h0m1.4 .1h0m6.7-3h0m.9-.2h0m.9-.4h0m-2.1-.4h0m1.7-.9h0m-.4-.4h0m-.3-.3h0m.4-.6h0m-3.1-.1h0m5.4-.2h0m-.2-.3h0m-2.7 0h0m2.3-.2h0m.7 0h0m-2.7 0h0m-1.7-.2h0m2.9-.6h0m-3.1 0h0m1.7-.1h0m-1.9-.5h0m2.1-.4h0m2.2-.2h0m-2.4-.1h0m-.2-.3h0m2.6-.2h0m-.7-.4h0m.3-.3h0m.4-.4h0m.1-.6h0m-.6-19.4h0m.6-.1h0m-.4-.3h0m-1.6-1.3h0m1.3 0h0m.7 0h0m.3-.7h0m-2.9-.7h0m3-.2h0m-.6-.1h0m-1.5-.4h0m-.7-.2h0m2.9-.1h0m-3.3-.2h0m1.6-.1h0m-1.3 0h0m2.1-.4h0m-3.5-.4h0m2.2-.2h0m-.7-.1h0m2.2-.1h0m-1.9-.2h0m-2.7-.7h0m1.1-.1h0m2.4 0h0m-1.1 0h0m2.3-.1h0m-3.6-.1h0m1.4-.1h0m-2-.6h0m.7-.3h0m3 0h0m-.6-.2h0m.2 0h0m-2-.2h0m-1.4 0h0m3.4-.1h0m-3.8-.4h0m2.6 0h0m-1.3-.2h0m2.6 0h0m-3.5-.3h0m1.3-.2h0m-1.5 0h0m-.2-.3h0m1.7 0h0m.2-.3h0m-1.1-.2h0m-.2 0h0m-.9-.5h0m3.5-.6h0m-3.4-2.9h0m6.5 8.7h0m-.7 .5h0m1.7 .7h0m-.5 .4h0m.7 1.3h0m-.4 .2h0m-1.3 .1h0m2.6 .1h0m0 .4h0m-2.8 .7h0m0 .1h0m1.5 .4h0m2.5 1.4h0m-1.3 .2h0m-2.8 .2h0m1.3 0h0m.9 .3h0m-.5 .4h0m-.8 .1h0m.3 .6h0m2.1 .1h0m-3 0h0m3.2 .5h0m-1.5 .1h0m-1.4 0h0m3.9 0h0m-2.1 .1h0m2.5 .2h0m-2 .6h0m-1.4 .4h0m-.2 0h0m2.2 .1h0m-3.1 0h0m.2 .1h0m4.5 .3h0m-2.4 .6h0m-1.3 .2h0m1.2 .2h0m-.7 .3h0m.6 .4h0m2.2 0h0m-3.3 0h0m.5 .8h0m.8 .1h0m1 .2h0m-1.8 .1h0m1.9 .1h0m-1.7 .1h0m-.6 .1h0m2.7 .2h0m-.2 .1h0m-2.3 .1h0m1.2 0h0m.5 .4h0m1.5 .1h0m-1.1 .2h0m-.9 .3h0m3 .4h0m-1 .4h0m-2.2 .2h0m1.2 .1h0m1 .1h0m-2.2 .2h0m2.2 .1h0m.6 .1h0m-.6 .3h0m-.7 .3h0m-.5 .2h0m-.4 .1h0m-.7 .8h0m-.4 .1h0m-.1 0h0m.9 .3h0m2.2 0h0m-.4 .1h0m-2.5 .2h0m3.4 .2h0m-.6 .2h0m-.5 .1h0m-1.8 .1h0m.7 0h0m-1.9 .1h0m.3 .5h0m2 .2h0m-2.3 .1h0m2.7 .3h0m-1.7 .6h0m-1 .1h0m3.3 0h0m-.9 .2h0m-3.3 .5h0m.6 0h0m-1.3 .1h0m1.7 0h0m-1.5 .1h0m5.7 .2h0m-5.5 .5h0m2.6 0h0m-.1 0h0m.4 .2h0m.2 .4h0m-1 .4h0m2.2 .3h0m-4.5 .6h0m.2 .2h0m3.9 .4h0m-.1 .4h0m-1.4 .5h0m-1.3 .5h0m-.5 .8h0m1.2 .3h0m-1.4 .9h0m.3 .7h0m5.7-9.3h0m-.7-2.9h0m.3-.1h0m-.1-.7h0m-.2-.7h0m1.5-1.4h0m-1-.3h0m.6-2.1h0m-.8-1.4h0" stroke="#069bb9" stroke-width="2.40" stroke-linecap="round" fill="none"/><path d="M234.9 145.6h0m.3-.2h0m6.8 4.3h0m-1 23.3h0" stroke="#ffffff" stroke-width="0.90" stroke-linecap="round" fill="none"/><path d="M222 159h0m5.7 16.9h0m-.6-3.3h0m-1.3-.1h0m1.4-.2h0m-2.6-2.9h0m-.5-.7h0m1.5-2.3h0m-1-2.5h0m-.8-1.3h0m0-.7h0m-1.1-6.2h0m.5-.5h0m3.8-9.2h0m-.1-2.9h0m6.9-8.7h0m-1 1.1h0m-2.3 1.9h0m-2 1.8h0m1.1 .1h0m-.7 .8h0m.9 37.1h0m3.4 .8h0m3.4 1h0m-.8-.1h0m4.1 0h0m-4.8-44.1h0m5.2-1.5h0m2.6 .8h0m.6 42.9h0m3-1.2h0m.5-40h0m6.2 5.9h0m1.3 4.2h0m-1 0h0m1.9 3h0m2.1 2.1h0m-.3 17.5h0m-4.7 6.6h0m6.4-19.1h0" stroke="#a77d65" stroke-width="1.70" stroke-linecap="round" fill="none"/><path d="M256.5 212.4L262.6 214.6L265.0 215.7L264.1 214.2L263.9 212.4L264.4 210.9L265.5 209.7L267.2 208.9L269.3 208.6L271.0 209.0L272.6 210.1L273.4 204.5L274.6 200.0L276.3 196.4L278.5 194.0L281.2 192.5L287.0 190.9L292.7 188.8L295.7 188.5L298.5 189.0L298.6 185.7L299.7 180.0L297.4 175.8L296.4 173.4L295.8 170.3L295.7 168.3L296.3 165.2L297.8 162.1L298.8 160.9L300.3 159.8L303.4 158.6L301.5 156.6L300.6 153.9L299.1 154.4L297.3 154.5L290.5 152.8L289.1 152.7L289.4 159.1L289.2 160.8L288.5 162.7L287.6 164.1L286.0 165.4L283.8 166.6L281.1 167.5L283.4 168.2L284.7 169.0L285.5 169.9L286.1 171.8L285.7 173.6L284.9 174.7L283.7 175.7L282.3 176.4L280.4 176.7L278.8 176.7L277.1 176.2L275.7 175.5L274.4 174.4L273.7 175.8L273.7 176.8L275.2 182.3L275.5 185.2L275.4 187.0L274.5 189.5L273.1 191.5L270.8 193.5L268.3 194.7L263.6 196.0L262.5 196.8L261.6 198.8L261.3 204.3L260.6 207.1L258.9 209.9ZM267.5 217.3L269.6 219.3L271.2 221.4L272.1 219.3L272.5 216.1L271.1 217.0L270.0 217.4L268.5 217.5Z" fill="#069bb9" fill-rule="evenodd"/><path d="M251.5 212.5h0m6-5.9h0m-.3 .6h0m0 .3h0m0 1h0m-1.7 .1h0m.6 0h0m-.7 .6h0m-1.1 1.9h0m1.5 .2h0m1.4 .1h0m0 .5h0m-3.9 .1h0m3.9 0h0m-4.3 .2h0m3.5 .3h0m-.4 .2h0m-1 .1h0m.4 0h0m-1.4 .2h0m3.3 .2h0m-4.3 .1h0m.4 1.3h0m9.6 3.8h0m-1.4-.3h0m2.3 0h0m-.2-.7h0m-3.6-.8h0m.7-.2h0m1.5-.1h0m0 0h0m-1.1-.4h0m1.3-.3h0m1.3-.1h0m-1.2-.3h0m-.4 0h0m1.5-.6h0m-4.2 0h0m3.8-.2h0m-5.2-.1h0m1.2-.4h0m4.2-.4h0m-4.9-.1h0m1-.1h0m.8-.2h0m-.7-.1h0m-1.7-.1h0m.9 0h0m4.7-.1h0m-3.8 0h0m-1.2-.1h0m-.2-.2h0m1-.3h0m4-.9h0m-5.2-.3h0m2.5-1.1h0m-1.2-.1h0m-.4 0h0m4.9-.3h0m-6 0h0m5.8-.2h0m-3.1-.7h0m-.1-.4h0m-.2-.1h0m-.9 0h0m1.6-.1h0m-1.2-.3h0m.4-.3h0m-2.1-.1h0m3.9-1.4h0m-.5-.3h0m-2.1-.2h0m-.6-.3h0m2.4-.1h0m.3-.2h0m.5 0h0m-2.4-.7h0m2.7 0h0m0-.2h0m-2.3-.3h0m-.3-.9h0m1.3-.2h0m-2.1-.6h0m3.4-.6h0m-.2-.6h0m.5-.9h0m-1.1-.4h0m-.3-.1h0m.6-.1h0m-1.9-.5h0m1.3-.4h0m1.9-.7h0m-1.6-.1h0m1-.9h0m0-.3h0m-2.1-.1h0m2.8-.5h0m-2.1-.4h0m.4-.2h0m-.4-1.3h0m8.4-2.3h0m-1.5 .4h0m1.4 .6h0m.3 .6h0m-1.1 .1h0m.6 .2h0m-.3 .3h0m.9 .5h0m-4.1 .3h0m0 .1h0m1.4 .1h0m.5 .5h0m1.7 .2h0m-.1 .4h0m-.9 0h0m-3.4 .2h0m1.4 .3h0m-1.6 .5h0m4.6 10.4h0m-2.2 .2h0m-.2 .2h0m1.6 .1h0m1.3 .1h0m-2.5 0h0m2.1 .4h0m.3 .5h0m-1.3 .1h0m-.1 0h0m-2.5 .1h0m1.1 .1h0m2.7 .2h0m-3.6 .4h0m-1.7 .7h0m.3 .1h0m4.3 .4h0m-3.6 .1h0m1.7 .2h0m-1 .1h0m-.1 .2h0m1.6 .2h0m-.5 .4h0m.5 0h0m-3.6 .5h0m.5 .7h0m2.3 .2h0m-.5 .2h0m.9 .2h0m.1 .6h0m-1.5 .1h0m3.7 .1h0m-.3 .4h0m-4.6 .1h0m1.9 .4h0m3.2 .3h0m-2.6 .7h0m-.1 .5h0m1 .1h0m.2 0h0m.3 .9h0m-1.8 .3h0m1.3 .1h0m-3 .2h0m3.2 0h0m1.4 .7h0m.4 .8h0m-.1 .5h0m-1.8 .4h0m.7 .1h0m-.2 .4h0m1.3 2.2h0m-1.1 0h0m1.9 2.1h0m.9-.1h0m-.6 0h0m1.5-.9h0m-1.1-.4h0m-.2 0h0m-.1-.2h0m1.1 0h0m-.8-.1h0m-.1-.2h0m-.9-.5h0m-.2 0h0m2.5-.4h0m1.8-1.1h0m-3.7-.1h0m1.6 0h0m1.7-.2h0m-.6-.6h0m1-.1h0m-3.9 0h0m2.4-.4h0m-1.3-.1h0m-1.2-.7h0m4-.2h0m.1-.2h0m-2.2-.2h0m-.1-.4h0m3.6 0h0m-.3-.1h0m-5.3-.1h0m3.3-.2h0m-.8 0h0m.6 0h0m.4-.4h0m-1.6-.2h0m3.8-.5h0m-4.3 0h0m1.4-.4h0m-3-.2h0m3.7-.3h0m-1.7-.4h0m1.2 0h0m-1.7-.8h0m4-.2h0m-1.6 0h0m-.4-.3h0m0-.2h0m-.4-.6h0m-.7-.6h0m-1.4-.1h0m2.7-.4h0m1.3-1h0m-1.5 0h0m1.5-.6h0m-2.2-.2h0m1.5-.1h0m-3.9 0h0m4.5-.1h0m-3.2-.4h0m-.6 0h0m2.2 0h0m-2.2-.2h0m1.1-.2h0m1.5-.3h0m-1.4-.4h0m2.6-.2h0m-2.4-1.5h0m-.2-.1h0m-.2 0h0m-.1-.5h0m0-.4h0m1.8-.1h0m.5-.3h0m-2.2-.5h0m2.9 0h0m-2-.3h0m2.3-.2h0m-1.9-.1h0m.8 0h0m.2-1.5h0m-1.2 0h0m-.3-.3h0m2.1-.8h0m-1.6 0h0m-.1-.9h0m1.1-.3h0m1.4-1.4h0m-1-.7h0m-.7-1h0m.2-.1h0m1.3-1.9h0m-4.9-1.3h0m.9-.5h0m-1.7 0h0m2.4-.7h0m-2.2-.1h0m.7-.3h0m2.2-.1h0m-1.1-.3h0m-1.7-.3h0m3.6-.3h0m-1.4-.3h0m.8-.3h0m.4-.6h0m-1.6-.4h0m-.9-1h0m3.7-1.2h0m-2.5-.2h0m2.6-.1h0m-.2 0h0m1.1-.1h0m-.7-.3h0m.6 0h0m-1.7-.1h0m-1.7-.8h0m1-.9h0m-.8-.5h0m3.3 0h0m-3.2-.4h0m2.5-.2h0m.5-1.1h0m-2.9-.9h0m1.4-.4h0m1.3 0h0m-.6-.2h0m-1-.3h0m.1 0h0m-2.8-.5h0m3.9-.3h0m0-.1h0m-1-1.2h0m.2-.3h0m-.7-.1h0m-.3-.1h0m.9-.5h0m.1-.1h0m.5-.1h0m.2-.2h0m-1.9-.3h0m1.7-.8h0m-3.8-.1h0m1.2 0h0m3.2-.2h0m-4.4 0h0m2.8-1h0m1.1-.1h0m-1.8-.2h0m2.3 0h0m-5.3-.1h0m3.5-.2h0m.5-.8h0m.9-.3h0m-3.3-.3h0m1.4-.1h0m2.2-.1h0m-1.2-.2h0m-1.5-.1h0m2.3 0h0m.4-.2h0m-3-.1h0m3.7-.2h0m-.3-.1h0m-1.3-.7h0m.3-.6h0m-.1-.6h0m0-.4h0m1-.3h0m.1 0h0m0-.1h0m-.4-.6h0m-.6-.2h0m-.6-.1h0m7.8-4.1h0m-2.8 .8h0m1.9 .5h0m-.6 .2h0m-3.8 .4h0m3.8 0h0m-1.6 .5h0m-.1 .1h0m1.5 .1h0m.1 .2h0m-.3 .1h0m1.6 0h0m-.2 .3h0m-.3 .1h0m.1 0h0m-3 .3h0m1.8 1h0m1.9 .3h0m-1.4 .2h0m1.2 .1h0m-1.3 .5h0m-4.2 .1h0m0 .4h0m.2 2.2h0m4.7 .6h0m-2.6 .7h0m.6 .3h0m2 0h0m-1.4 .6h0m1.9 .1h0m-3.1 .5h0m1.9 .1h0m-2.4 .2h0m2.3 .3h0m.5 .1h0m-1.5 0h0m1.5 0h0m-2.6 .1h0m3.2 .3h0m-1.1 .1h0m-1.5 .3h0m-.9 0h0m-1.6 5h0m-.3 1.5h0m.7 .5h0m-.3 .6h0m0 .9h0m-.3 .2h0m.4 .2h0m4.5 4.8h0m.4 1h0m-2.8 .2h0m1.1 .3h0m-.9 .4h0m.3 .2h0m-1.2 1.4h0m2.3 .2h0m.5 .1h0m-4.3 .1h0m5.3 0h0m-5.4 1.2h0m4 0h0m-.2 .1h0m-1.3 .4h0m-.9 .3h0m-1.6 .1h0m1.3 .6h0m.1 .6h0m.6 0h0m-.2 .2h0m-2 .4h0m-.1 .2h0m1.8 .5h0m-1.3 .9h0m1.4 .5h0m-1.9 1.6h0m1.3 .7h0m-1.1 4.5h0m7.1-13.8h0m-1.2-.7h0m1.1-.3h0m3.7 0h0m-2.5-.3h0m-.3-.2h0m.6-.2h0m2.1-.6h0m-4.8-.1h0m4.5-.1h0m1.1-.1h0m.2-.1h0m-5.4-.1h0m3.7-.1h0m-1.2 0h0m-1.7 0h0m4-.1h0m-4.4-.1h0m.3-.3h0m.9-.3h0m2.5-1h0m1.4 0h0m-5.7-12.2h0m.2-.6h0m.5-.3h0m-.8-.7h0m4-.6h0m.2 0h0m-1.4 0h0m-2.3-.5h0m4-.1h0m-.4-.2h0m-2.4-.3h0m3.1-.8h0m-.1-.7h0m-.3-.6h0m-.7-.6h0m-1.7-.1h0m-.6-.1h0m3.3-.2h0m-3.1-.1h0m1-.2h0m-.9-.4h0m.5-.6h0m2.9 0h0m-1.9 0h0m-1.8-.3h0m1.1-.1h0m-2-.1h0m1.9-.8h0m1.7-.2h0m-1.1-.1h0m-1.1-.4h0m.7-.1h0m.1-.4h0m-2.3-.5h0m3.4-.1h0m.3-.3h0m-.3-1.6h0m1.3-.4h0m-4.3 0h0m3.5-.3h0m-4.1-.7h0m3.6-.7h0m1.4-.5h0m-2.1-.2h0m1.7 0h0m-.3-.5h0m-.8-.2h0m1.4-2.2h0m.5-.6h0m-.5-.5h0m-.6-1.4h0m-.6-.1h0m-.1-.2h0m1.6-.3h0m-.1-.8h0m.2-.5h0m.3-.6h0m-1.1-.2h0m1-1.7h0m-1.9-.3h0m4.9-2.5h0m2.9 1.2h0m-3.3 0h0m-1 .1h0m-1.4 .4h0m.6 .4h0m3.9 .4h0m-.7 0h0m-.5 0h0m.2 .5h0m1.2 .4h0m-.5 .1h0m-1.2 .1h0m1.9 .1h0m-.4 .5h0m-1.7 .2h0m-1.3 .4h0m-.4 .3h0m4.3 .3h0m-3.8 .5h0m.9 .4h0m-2.3 0h0m.6 .4h0m1 .3h0m.4 1.2h0m.1 .1h0m-1.1 1h0m-.5 .1h0m-.1 .3h0m.9 .1h0m-1.4 .3h0m.1 .3h0m.2 .1h0m.8 .4h0m-.3 .1h0m.6 1.7h0m.1 .1h0m-1.4 .4h0m1.1 .8h0m-.7 .6h0m-.1 .1h0m5 23.3h0m-.8 .4h0m-1 .3h0m-.5 .1h0m.2 .1h0m1.7 .1h0m-3.4 0h0m2.6 .6h0m1.3 .2h0m-.8 .1h0m-1.3 .8h0m-2.5 .1h0m2.3 .3h0m1.2 .9h0m-.5 .1h0m-4 .7h0m9.7 .2h0m-.7-.4h0m2.7 0h0m-1-.1h0m-2.2-.8h0m.7-.4h0m.9-.3h0m-4-.1h0m5.1-.2h0m-1.5-.1h0m-2.8-.7h0m2.4-.3h0m1-.1h0m1.5-.3h0m-3.8-.2h0m-.5-.7h0m.4-.1h0m1.7-.9h0m0-1h0m1.6-.2h0m-1.5-1.4h0m2.2 0h0m-1.4-.4h0m.1-1.3h0m.1-1.8h0m0-.2h0m.7-.8h0m.2-1.3h0m.3-.5h0m-.6-.2h0m-1.9-.4h0m1.3-.1h0m-.2-.5h0m-.7 0h0m1.7 0h0m.1-.3h0m-2.3-.1h0m.3-.2h0m-.1-.1h0m.8-.2h0m-1-.3h0m-1.1-.7h0m2.7-.1h0m-1.2-.2h0m.3-.1h0m-2.9-.7h0m.2-.7h0m4 0h0m-4.1-.4h0m-.1-1.1h0m-.5-.7h0m.6-.1h0m1.4-.4h0m.4-.5h0m-.3-.3h0m-1.7-.3h0m1.8-.2h0m.3-.1h0m.7-.1h0m.6 0h0m-.7-1.3h0m1-.6h0m.6-.1h0m-4.1-.6h0m3.5-.2h0m-1.2-.6h0m-1-.2h0m1.6-.4h0m-1.6-.1h0m-.5 0h0m1.5-.1h0m-1.2-.2h0m1.7-.3h0m-.4 0h0m-1.5-.4h0m2.4-.3h0m-2.6-.1h0m3-.3h0m.4-.2h0m-1.8-.5h0m-.6 0h0m1.6-.3h0m-.8-.7h0m.3-.7h0m-.2-.1h0m1-.6h0m1.2-1.3h0m-1-3h0m-1.8-.1h0m1-.2h0m-1.7-.3h0m-2.2-.5h0m4.9-.2h0m-3.1-.2h0m-.9-.1h0m-.1-.3h0m3.2-.1h0m-3.4 0h0m3.2-.2h0m.8-1.2h0m-.3-.1h0m-3.1-.6h0m4.1-.1h0m-4.9-1h0m6.7-6.2h0m.4 1.2h0m.5 .5h0m.1 1.1h0m2.7 .1h0m-1.7 .2h0m-.1 .3h0m-2 .4h0m2.7 .3h0m-1.1 0h0m-.6 .7h0m-1 0h0m3.5 .3h0m-.3 .8h0m-1.1 .3h0m-2.4 0h0m2 .2h0m1.2 .5h0m-2.6 .2h0m1 0h0m1.4 .1h0m-2.4 .8h0m-.6 .4h0m1.3 .4h0m.3 1.1h0m-.6 .1h0m-.2 .1h0m-1.8 0h0m2 .3h0m-1.3 .4h0m-.7 .1h0m.9 .1h0m1.9 .1h0m2.3 0h0m-4.3 .1h0m.2 .3h0m.3 .4h0m.9 .1h0m1.9 .4h0m0 .5h0m-1.8 0h0m-1.1 .6h0m.1 .1h0m4 .1h0m-1.7 .3h0m1.7 .1h0m-.7 .2h0m-4.1 .2h0m4.1 .2h0m1.3 .1h0m-1.4 .7h0m-3.2 .2h0m3.4 .4h0m-4 .7h0m4.6 .3h0m-2 0h0m-2.7 .6h0m.3 .1h0m1.7 .1h0m2.3 0h0m-2.1 .4h0m-1.7 .1h0m-.8 .5h0m.6 11.6h0m.5 1h0m-1.1 1.1h0m1.2 .2h0m.8 1.6h0m-.8 .2h0m0 .1h0m-.3 .9h0m.8 .1h0m-1.7 .2h0m2.1 .3h0m-1.1 2.2h0m-.4 0h0m-.7 .3h0m.9 .9h0m1 0h0m.1 .4h0m-2.2 .1h0m1.3 1h0m.3 1.8h0m-1.2 2.3h0m-.1 1.9h0m1.2 .8h0m-.4 .4h0m.6 .2h0m5-33.9h0m-.6-.3h0" stroke="#069bb9" stroke-width="2.40" stroke-linecap="round" fill="none"/><path d="M263.6 206.8h0m-1.8-4.2h0m4.2-7.1h0m2.5 .3h0m5.8 3.3h0m1.6-9.4h0m-.6-10.4h0m3-1h0m1.6 2.1h0m.1 9.7h0m2 .3h0m4.3-.3h0m-.9-7.1h0m-2.8-5.8h0m3.1-.2h0m7.6-23.1h0m.5 17.3h0m-2.2 4.1h0m-.2 9h0m-2.1 2.4h0m2.7 .8h0m3.6-1.6h0m1.9-8.3h0m.3-.8h0m-3.7-12.6h0" stroke="#ffffff" stroke-width="0.90" stroke-linecap="round" fill="none"/><path d="M263.7 207.8h0m4.5-14.4h0m7.6 25.6h0m-.2-6.9h0m-.7-2.2h0m-2.9-3.4h0m-.4-20.9h0m2.7-14.3h0m6.3-7h0m1.2 15.6h0m-4.2 23h0m6.3-14.4h0m2.8-9.5h0m.8-8.2h0m-4.3-1.1h0m5-20.8h0m1.5 13.8h0m3.5 10.7h0m1.2 13.3h0m.5-8.1h0m.4-2.9h0m3.7-6.3h0m-4.9-3.9h0m3-9.9h0m5 2.6h0" stroke="#a77d65" stroke-width="1.50" stroke-linecap="round" fill="none"/><rect x="178.1" y="129.3" width="136.5" height="101.2" fill="none" stroke="#747474" stroke-width="0.55"/><path d="M189.3 230.5v1.2M210.3 230.5v1.2M231.3 230.5v1.2M252.3 230.5v1.2M273.3 230.5v1.2M294.4 230.5v1.2M178.1 131.5h-1.2M178.1 153.4h-1.2M178.1 175.4h-1.2M178.1 197.4h-1.2M178.1 219.4h-1.2" stroke="#555" stroke-width="0.4" fill="none"/><g font-family="'Liberation Serif','Times New Roman',serif" font-size="4.9" fill="#000" font-weight="normal" stroke="#000" stroke-width="0.12"><text x="189.3" y="236.0" text-anchor="middle">−60</text><text x="210.3" y="236.0" text-anchor="middle">−40</text><text x="231.3" y="236.0" text-anchor="middle">−20</text><text x="252.3" y="236.0" text-anchor="middle">0</text><text x="273.3" y="236.0" text-anchor="middle">20</text><text x="294.4" y="236.0" text-anchor="middle">40</text><text x="176.2" y="133.1" text-anchor="end">40</text><text x="176.2" y="155.0" text-anchor="end">20</text><text x="176.2" y="177.0" text-anchor="end">0</text><text x="176.2" y="199.0" text-anchor="end">−20</text><text x="176.2" y="221.0" text-anchor="end">−40</text></g><text x="248.3" y="248.1" text-anchor="middle" font-family="'Liberation Serif','Times New Roman',serif" font-size="12.2" fill="#111">TimesNet</text><rect x="335.7" y="129.3" width="136.6" height="101.2" fill="#fff"/><path d="M338.4 129.3V230.5M354.7 129.3V230.5M371.0 129.3V230.5M387.2 129.3V230.5M403.5 129.3V230.5M419.8 129.3V230.5M436.1 129.3V230.5M452.5 129.3V230.5M468.8 129.3V230.5M335.7 139.4H472.3M335.7 152.3H472.3M335.7 165.2H472.3M335.7 178.0H472.3M335.7 190.9H472.3M335.7 203.8H472.3M335.7 216.7H472.3M335.7 229.6H472.3" stroke="#c9c9c9" stroke-width="0.45" stroke-dasharray="0.7 0.35" fill="none"/><path d="M342.2 166.8L342.5 167.9L342.8 168.9L343.1 169.8L343.4 170.8L343.6 171.8L343.9 172.7L344.1 173.7L344.4 174.6L344.7 175.5L345.0 176.4L345.3 177.3L345.7 178.2L346.1 179.1L346.5 180.0L346.9 180.9L347.4 181.8L348.0 182.7L348.6 183.6L349.2 184.5L350.0 185.3L350.7 186.1L351.5 186.8L352.4 187.4L353.3 187.8L354.2 188.0L355.1 188.0L356.0 187.7L356.9 187.2L357.8 186.6L358.6 185.8L359.3 185.0L359.8 184.0L360.2 183.1L360.5 182.1L360.5 181.2" stroke="#069bb9" stroke-width="2.2" stroke-linecap="round" stroke-linejoin="round" fill="none"/><path d="M359.2 174.7L359.1 173.9L359.1 173.1L359.0 172.2L359.0 171.3L359.0 170.4L359.0 169.5L359.1 168.6L359.2 167.6L359.4 166.7L359.6 165.9L359.9 165.0L360.3 164.2L360.8 163.5L361.4 162.8L362.1 162.2L362.9 161.7L363.7 161.3L364.6 161.1L365.5 161.0L366.3 161.2L367.1 161.7L367.7 162.2L368.4 162.9L368.9 163.7L369.3 164.6L369.7 165.4L369.9 166.3L370.1 167.1L370.2 168.0L370.2 168.9L370.2 169.8L370.2 170.7L370.2 171.6L370.1 172.5L370.0 173.4L370.0 174.2L369.9 175.1L369.9 176.0L370.0 176.9L370.1 177.8L370.2 178.6" stroke="#069bb9" stroke-width="2.2" stroke-linecap="round" stroke-linejoin="round" fill="none"/><path d="M372.3 186.5L372.6 187.4L372.9 188.2L373.3 189.0L373.7 189.8L374.2 190.6L374.7 191.4L375.2 192.1L375.7 192.8L376.2 193.5L376.7 194.3L377.3 195.0L377.8 195.7L378.3 196.5L378.8 197.2L379.2 198.0L379.7 198.8L380.1 199.7L380.4 200.6L380.6 201.4L380.7 202.3L380.7 203.2L380.5 204.1L380.1 205.0L379.6 205.9L379.0 206.6L378.3 207.2L377.5 207.7L376.7 208.0L375.8 208.1L374.9 208.0L374.1 207.8L373.2 207.4L372.3 206.9L371.4 206.4L370.6 205.7L369.9 205.0L369.2 204.3L368.6 203.6L368.1 202.9L367.6 202.2L367.3 201.6" stroke="#069bb9" stroke-width="2.2" stroke-linecap="round" stroke-linejoin="round" fill="none"/><path d="M378.1 146.4L379.5 146.6L380.8 147.0L381.9 147.7L382.8 148.5L383.5 149.6L384.0 150.7L384.4 152.0L384.7 153.3L384.8 154.6L384.9 156.0L384.8 157.3L384.6 158.6L384.4 159.8L384.1 161.1L383.8 162.3L383.5 163.6L383.2 164.8L382.9 166.1L382.7 167.3L382.5 168.6L382.3 169.9L382.2 171.2L382.1 172.5L382.1 173.8L382.1 175.1L382.2 176.4L382.3 177.7L382.4 179.0L382.6 180.2L382.8 181.5L383.1 182.8L383.4 184.0L383.9 185.2L384.5 186.4L385.2 187.5L386.1 188.5L387.2 189.4L388.5 190.1L389.7 190.4L390.7 190.2L391.5 189.5L392.2 188.3L392.7 187.0L393.0 185.4L393.2 183.9L393.3 182.4L393.3 181.0L393.2 179.7L393.0 178.4L392.9 177.1L392.8 175.9L392.7 174.7L392.6 173.5L392.7 172.3L392.9 171.0L393.2 169.8L393.6 168.5L394.2 167.4L395.0 166.3L396.0 165.3L397.1 164.5L398.4 163.9L399.7 163.6L400.9 163.7L401.9 164.1L402.8 165.0L403.4 166.1L403.9 167.5L404.2 169.1L404.3 170.8L404.3 172.4L404.1 174.1L403.8 175.6L403.4 176.9L402.9 178.0L402.3 178.8L401.6 179.1" stroke="#069bb9" stroke-width="2.2" stroke-linecap="round" stroke-linejoin="round" fill="none"/><path d="M390.6 136.0L391.4 135.2L392.3 134.6L393.2 134.2L394.1 134.0L395.0 134.0L395.9 134.2L396.8 134.5L397.6 134.9L398.4 135.4L399.2 136.1L399.8 136.8L400.4 137.5L400.8 138.3L401.2 139.2L401.5 140.1L401.8 141.0L401.9 141.9L402.0 142.9L402.1 143.8L402.1 144.8L402.1 145.8L402.1 146.8L402.0 147.8L401.9 148.7L401.8 149.7L401.8 150.6L401.7 151.5L401.6 152.4L401.6 153.2" stroke="#069bb9" stroke-width="2.2" stroke-linecap="round" stroke-linejoin="round" fill="none"/><path d="M410.2 174.7L409.9 176.0L409.6 177.4L409.3 178.7L408.9 180.1L408.6 181.4L408.2 182.7L407.8 184.0L407.4 185.3L407.0 186.6L406.6 187.9L406.1 189.2L405.7 190.5L405.2 191.8L404.7 193.1L404.2 194.4L403.6 195.7L403.1 197.0L402.5 198.3L401.8 199.6L401.1 200.8L400.4 201.9L399.6 203.0L398.7 204.0L397.7 204.9L396.6 205.7L395.4 206.4L394.1 206.9L392.7 207.2L391.1 207.4" stroke="#069bb9" stroke-width="2.2" stroke-linecap="round" stroke-linejoin="round" fill="none"/><path d="M414.1 165.5L414.5 164.3L414.8 163.0L414.9 161.7L415.0 160.4L415.0 159.0L414.9 157.7L414.8 156.3L414.7 154.9L414.6 153.5L414.5 152.1L414.4 150.7L414.3 149.4L414.3 148.0L414.4 146.6L414.5 145.3L414.8 144.0L415.1 142.7L415.6 141.4L416.2 140.2L417.0 139.0L417.9 137.9L419.0 137.0L420.1 136.3L421.2 135.8L422.4 135.8L423.5 136.1L424.7 136.9L425.7 138.2L426.7 140.2" stroke="#069bb9" stroke-width="2.2" stroke-linecap="round" stroke-linejoin="round" fill="none"/><path d="M420.7 170.8L420.6 171.7L420.6 172.7L420.5 173.6L420.5 174.6L420.4 175.5L420.4 176.5L420.3 177.4L420.3 178.4L420.3 179.3L420.2 180.3L420.2 181.2" stroke="#069bb9" stroke-width="2.2" stroke-linecap="round" stroke-linejoin="round" fill="none"/><path d="M416.2 189.1L415.9 189.9L415.7 190.7L415.4 191.5L415.0 192.2L414.7 193.0L414.4 193.8L414.1 194.6L413.7 195.4L413.4 196.1L413.0 196.9L412.6 197.7L412.2 198.4L411.9 199.2L411.5 199.9L411.1 200.7L410.6 201.4L410.2 202.1" stroke="#069bb9" stroke-width="2.2" stroke-linecap="round" stroke-linejoin="round" fill="none"/><path d="M427.2 157.7L427.8 159.1L428.2 160.6L428.6 162.1L429.0 163.6L429.3 165.1L429.5 166.6L429.7 168.1L429.9 169.6L430.0 171.2L430.1 172.7L430.1 174.2L430.1 175.8L430.1 177.3L430.0 178.8L429.9 180.3L429.8 181.9L429.6 183.4L429.5 184.9L429.2 186.4L429.0 188.0L428.7 189.5L428.4 191.0L428.0 192.5L427.7 194.0L427.2 195.5L426.7 197.0L426.1 198.4L425.5 199.8L424.7 201.1L423.9 202.4L423.0 203.6L421.9 204.7L420.8 205.7L419.5 206.6L418.1 207.4" stroke="#069bb9" stroke-width="2.2" stroke-linecap="round" stroke-linejoin="round" fill="none"/><path d="M401.6 217.8L401.7 218.6L401.9 219.4L402.3 220.1L402.7 220.9L403.2 221.7L403.8 222.4L404.5 223.1L405.2 223.8L406.0 224.4L406.8 224.8L407.6 225.2L408.4 225.5L409.3 225.7L410.1 225.7L410.9 225.6L411.7 225.3L412.5 224.9L413.2 224.4L413.9 223.8L414.5 223.1L415.1 222.3L415.7 221.5L416.2 220.7L416.7 219.9L417.1 219.0L417.4 218.2L417.7 217.4L417.9 216.7L418.1 216.0" stroke="#069bb9" stroke-width="2.2" stroke-linecap="round" stroke-linejoin="round" fill="none"/><path d="M427.2 159.5L427.3 158.6L427.5 157.7L427.8 157.0L428.2 156.4L428.8 155.9L429.4 155.5L430.0 155.3L430.7 155.1L431.5 155.0L432.2 155.0L433.0 155.1L433.7 155.3L434.5 155.6L435.1 155.9L435.8 156.3L436.3 156.8L436.9 157.3L437.4 157.9L437.8 158.5L438.2 159.1L438.5 159.8L438.8 160.5L439.1 161.2L439.3 161.9L439.4 162.7L439.6 163.4L439.7 164.1L439.7 164.8L439.8 165.5" stroke="#a77d65" stroke-width="2.2" stroke-linecap="round" stroke-linejoin="round" fill="none"/><path d="M438.2 185.1L437.9 185.7L437.8 186.5L437.7 187.6L437.7 188.9L437.8 190.3L438.1 191.7L438.4 193.2L438.8 194.7L439.4 196.0L440.0 197.2L440.8 198.3L441.7 199.0L442.7 199.5L443.8 199.6L444.9 199.3L446.1 198.8L447.2 198.1L448.1 197.2L448.9 196.2L449.5 195.1L449.9 194.0L450.1 192.8L450.3 191.5L450.3 190.3L450.2 189.1L450.1 187.8L449.9 186.6L449.7 185.5L449.5 184.3L449.2 183.1L449.0 182.0L448.8 180.8L448.5 179.6L448.4 178.4L448.2 177.2L448.1 176.0L448.1 174.8L448.2 173.6L448.4 172.3L448.7 171.1L449.2 170.0L449.8 168.9L450.6 168.0L451.6 167.2L452.7 166.7L453.9 166.3L455.0 166.4L456.1 166.7L457.1 167.4L458.0 168.2L458.9 169.3L459.6 170.3L460.3 171.4L461.0 172.5L461.6 173.6L462.1 174.6L462.6 175.7L463.1 176.7L463.5 177.8L463.9 178.9L464.3 180.0L464.7 181.1L465.1 182.2L465.5 183.4L465.9 184.6" stroke="#a77d65" stroke-width="2.2" stroke-linecap="round" stroke-linejoin="round" fill="none"/><path d="M427.6 158.7L427.8 159.2L427.9 159.7L428.1 160.2L428.3 160.7L428.4 161.3" stroke="#a77d65" stroke-width="2.2" stroke-linecap="round" fill="none"/><path d="M430.1 173.5L430.1 174.1L430.1 174.8L430.1 175.4L430.1 176.0L430.1 176.7" stroke="#a77d65" stroke-width="2.2" stroke-linecap="round" fill="none"/><path d="M429.2 186.8L429.1 187.6L428.9 188.3L428.8 189.0L428.6 189.8L428.5 190.5" stroke="#a77d65" stroke-width="2.2" stroke-linecap="round" fill="none"/><path d="M427.7 193.7L427.6 194.2L427.5 194.6L427.4 195.0L427.2 195.4L427.1 195.8" stroke="#a77d65" stroke-width="2.2" stroke-linecap="round" fill="none"/><path d="M422.5 204.1L421.8 204.8L421.1 205.4L420.3 206.0L419.5 206.6L418.6 207.1" stroke="#a77d65" stroke-width="2.2" stroke-linecap="round" fill="none"/><rect x="335.7" y="129.3" width="136.6" height="101.2" fill="none" stroke="#747474" stroke-width="0.55"/><path d="M338.4 230.5v1.2M354.7 230.5v1.2M371.0 230.5v1.2M387.2 230.5v1.2M403.5 230.5v1.2M419.8 230.5v1.2M436.1 230.5v1.2M452.5 230.5v1.2M468.8 230.5v1.2M335.7 139.4h-1.2M335.7 152.3h-1.2M335.7 165.2h-1.2M335.7 178.0h-1.2M335.7 190.9h-1.2M335.7 203.8h-1.2M335.7 216.7h-1.2M335.7 229.6h-1.2" stroke="#555" stroke-width="0.4" fill="none"/><g font-family="'Liberation Serif','Times New Roman',serif" font-size="4.9" fill="#000" font-weight="normal" stroke="#000" stroke-width="0.12"><text x="338.4" y="236.0" text-anchor="middle">−100</text><text x="354.7" y="236.0" text-anchor="middle">−75</text><text x="371.0" y="236.0" text-anchor="middle">−50</text><text x="387.2" y="236.0" text-anchor="middle">−25</text><text x="403.5" y="236.0" text-anchor="middle">0</text><text x="419.8" y="236.0" text-anchor="middle">25</text><text x="436.1" y="236.0" text-anchor="middle">50</text><text x="452.5" y="236.0" text-anchor="middle">75</text><text x="468.8" y="236.0" text-anchor="middle">100</text><text x="333.8" y="141.0" text-anchor="end">60</text><text x="333.8" y="153.9" text-anchor="end">40</text><text x="333.8" y="166.8" text-anchor="end">20</text><text x="333.8" y="179.6" text-anchor="end">0</text><text x="333.8" y="192.5" text-anchor="end">−20</text><text x="333.8" y="205.4" text-anchor="end">−40</text><text x="333.8" y="218.3" text-anchor="end">−60</text><text x="333.8" y="231.2" text-anchor="end">−80</text></g><text x="405.6" y="248.1" text-anchor="middle" font-family="'Liberation Serif','Times New Roman',serif" font-size="12.2" fill="#111">PatchTST</text><rect x="493.1" y="129.3" width="135.7" height="101.2" fill="#fff"/><path d="M508.5 129.3V230.5M524.9 129.3V230.5M541.3 129.3V230.5M557.7 129.3V230.5M574.1 129.3V230.5M590.5 129.3V230.5M606.9 129.3V230.5M623.3 129.3V230.5M493.1 142.2H628.8M493.1 162.9H628.8M493.1 183.6H628.8M493.1 204.3H628.8M493.1 225.0H628.8" stroke="#c9c9c9" stroke-width="0.45" stroke-dasharray="0.7 0.35" fill="none"/><path d="M503.5 204.8h0m-.4-.2h0m.7-.9h0m-.4-.8h0m.5-.1h0m-2.7-.3h0m-.5-.1h0m2.8 0h0m-2.9-.4h0m-1.2 0h0m4.1-1.6h0m-1.1 0h0m.2-.5h0m-.1-.1h0m-.4-.1h0m-2 0h0m1.3-1.5h0m-.4-.6h0m.6-1.5h0m1.9-.7h0m-1.3-.5h0m-.3-.5h0m-.6-.4h0m2.3-.1h0m-2.1-.2h0m1.8-.1h0m.6-.9h0m-1.3-.1h0m.1-1.1h0m7.2-43.8h0m-.7 1.7h0m.2 .7h0m.5 .9h0m-.5 .6h0m.1 .4h0m-.4 1.5h0m.2 2.1h0m-.3 .5h0m.4 1.4h0m.5 .6h0m-.3 .1h0m0 1.1h0m.2 0h0m.2 .5h0m-.4 .9h0m-.9 1h0m1.1 .8h0m0 .1h0m-1.3 .6h0m1.4 3.3h0m-1.1 2.6h0m.2 3h0m.4 1.4h0m.5 .8h0m-2.3 13.1h0m-1.3 1.1h0m2.9 .1h0m.5 .2h0m-2 .1h0m2 0h0m-2 .2h0m1.6 .8h0m.1 .3h0m-1.7 .5h0m-1.2 0h0m2.4 .1h0m-3.3 .4h0m3.2 0h0m-4.5 .3h0m5.7 .2h0m-1.5 .1h0m-3.2 0h0m1.5 .1h0m3 .1h0m-5.3 .3h0m1.7 .5h0m-1 0h0m1.2 0h0m2.5 .1h0m-4.1 0h0m3.9 1.3h0m-2.7 .3h0m2.3 0h0m-.6 .5h0m-.1 .5h0m-2.5 .1h0m.6 .1h0m2.9 .1h0m.4 .2h0m-1.3 .2h0m.2 .2h0m1 0h0m-2.8 .6h0m.2 .4h0m1.8 .5h0m-.1 0h0m-4 1.3h0m5.3 .6h0m-1.4 .2h0m-1.6 0h0m3.2 .3h0m-2.6 0h0m-.1 .3h0m-.9 .1h0m.5 .2h0m2.6 .1h0m.4 .1h0m-2.4 0h0m.2 .8h0m.5 .2h0m1.1 .1h0m-3.1 .1h0m-1.5 .1h0m.5 0h0m-.5 .1h0m1.1 0h0m3.1 .2h0m.1 .1h0m.6 .1h0m-.4 .4h0m-.5 .5h0m1.1 .4h0m-2.9 0h0m1.3 .2h0m-1.4 .5h0m1.3 0h0m-2.6 .1h0m1.6 .7h0m-.4 .3h0m-.4 0h0m1.8 .4h0m2.1 1h0m-2.3 .1h0m-.7 .2h0m1.3 2.5h0m.6 .1h0m-.7 .9h0m2 .3h0m-2 .6h0m-.1 .1h0m-.9 .3h0m2.9 .2h0m-.8 .1h0m.8 .1h0m-.4 .4h0m1.7 2.4h0m.3-.3h0m3.6-.2h0m-2.6-.7h0m.6-.5h0m1.4-.1h0m-2.8-.2h0m1.7 0h0m-1.4-.2h0m3.2-.4h0m-2.1-.6h0m-.6 0h0m3.3-.1h0m-4.4 0h0m-.5-.3h0m2.4-.2h0m-2-.5h0m1.4 0h0m-.1-.4h0m2.6-.3h0m-3.5-.4h0m1.4-.1h0m-1.1-.1h0m-1.7-.1h0m5.1-.3h0m-1.4-.1h0m-2.4-.1h0m2.7-.2h0m1.5 0h0m-1.4-.3h0m-3.6 0h0m4-.1h0m.4-.2h0m-4-.1h0m2.5-.1h0m.3-.1h0m-2.5-.1h0m2.6-.2h0m.7-.3h0m-1.8 0h0m-1.7-.3h0m1.5-.2h0m-.2-.3h0m-2-.2h0m0-.2h0m4.1-.1h0m-1.2 0h0m.1-.5h0m.6 0h0m1.1 0h0m-1.1-.2h0m1.1-.6h0m-.9 0h0m.5-.1h0m-3.2 0h0m.8-.4h0m1.8-.9h0m-3.3 0h0m0-.2h0m-.6-.1h0m1.6-.1h0m-.4-.3h0m-.7-.1h0m.8 0h0m2.4-1.5h0m-2.5-.2h0m-.4-.1h0m3.1 0h0m-.6-.5h0m0 0h0m-1.2-.3h0m-.1-.4h0m3.3-.5h0m-4.2-.3h0m3.6-.1h0m-.7 0h0m-2.8-.4h0m2-.1h0m.7-.2h0m-3.2-.2h0m4.9 0h0m-5.6 0h0m5.6-.2h0m-5.6-.3h0m4.8-.4h0m.7-.1h0m-3.2-.2h0m1.3-.1h0m1.8-.4h0m-2.4-.1h0m.6 0h0m-.7-.1h0m-.8 0h0m2-.4h0m0-.4h0m-3-.2h0m-.7-.1h0m3.3-.1h0m1.1 0h0m.5-.1h0m-.6-.1h0m-3.1-.1h0m4.1-.1h0m-.5-.2h0m-2.9-.6h0m-1.2 0h0m1-.2h0m-.8-.1h0m-.2 0h0m.2 0h0m3.9-.1h0m-4.7 0h0m3.4 0h0m-3.2-.2h0m-.4-.5h0m1.6-.1h0m2.9 0h0m-.9 0h0m-.4 0h0m-1.6-.1h0m-.2-.2h0m.5-.1h0m1.5-.2h0m-3.9-.1h0m3.1-.2h0m2-.1h0m-.4-.1h0m-2.2 0h0m-.7-.2h0m-1.5-.4h0m4.6-.3h0m-3.2-.2h0m-.8-.1h0m2.7-.3h0m-2.4-.1h0m3-.1h0m-3.6 0h0m1.1-.5h0m3.2-.7h0m-1.3-.1h0m-1.1-.3h0m1.6 0h0m.6-.1h0m-2.6-.1h0m-1.7-.2h0m4.7-.4h0m-1.1-.2h0m.8-.3h0m.1-.3h0m-1.9-.1h0m1.1-.3h0m-3.8-.1h0m3.3-.3h0m.9-.1h0m-.4-.9h0m0-.1h0m1.3-3.2h0m-.2-.3h0m-.7-1.5h0m1-1.4h0m-4.5-1.8h0m4.5 0h0m-.3 0h0m-3.9-.6h0m.5-.1h0m2-.1h0m1.7-.3h0m-.8-.5h0m-1.5 0h0m.1-.1h0m1.4-.3h0m-2.9-.2h0m-.2-.1h0m4-.4h0m-.1 0h0m-.2-1.1h0m-1-.1h0m-2.1 0h0m-2-.5h0m1.2 0h0m.7-.2h0m.5 0h0m.9-.1h0m1.4 0h0m-3.8 0h0m3.6-.3h0m-3.7 0h0m-.3-.3h0m1.5-.2h0m.8-.1h0m-.9-.1h0m2.8 0h0m-4.7-.2h0m1.8-.1h0m-1.8-.1h0m3-.1h0m.3-.2h0m2.4-.2h0m-2.4 0h0m-2 0h0m3.4-.3h0m-.5-.2h0m-2-.1h0m-1.4 0h0m2.1-.2h0m-3 0h0m2-.2h0m-.3-.1h0m3.5 0h0m-4.7-.2h0m4.9-.2h0m-3.7-.5h0m-1.1 0h0m1.7-1.6h0m2-.3h0m-2.6-.3h0m1.7 0h0m-.8-.5h0m1.1-.6h0m-2 0h0m.5 0h0m1.8-.5h0m-1 0h0m-1.2-.1h0m2.7 0h0m1.2-.3h0m-3.6-.1h0m3.3-.1h0m-5.1-.4h0m1.4-.1h0m-.8 0h0m4.1-.2h0m-1.6 0h0m-1.6-.1h0m-1.3-.1h0m3.3-.2h0m-1.7-.2h0m-2.2-.5h0m2.9-.4h0m-2.1 0h0m4.3 0h0m-4.4 0h0m2.9-.7h0m-1.8-.1h0m-1.8-.1h0m4.9-.2h0m-4.2-.4h0m3.9-.3h0m-4.5-.1h0m3.8 0h0m1.7-.1h0m-1.3-.6h0m1.2 0h0m-.4-.4h0m.2-.2h0m-5.3-.1h0m1.5 0h0m0-.2h0m-.9-.1h0m.8 0h0m3.4-.1h0m-.5-.1h0m.5-.6h0m-.7-.8h0m-3.9 0h0m3 0h0m1.9 0h0m-3.8-.4h0m.2-.1h0m2.4-.3h0m-1.5-.2h0m-2-.2h0m3.1-.1h0m-3.5 0h0m-.1-.2h0m3.1-.1h0m1.4-.5h0m.4-.3h0m-3.8-.1h0m2.3-.2h0m-1.7-.1h0m.5-.1h0m-.5 0h0m3.3-.1h0m-2.5-.2h0m-1.9-.4h0m1.8 0h0m-1.4 0h0m2.2-.1h0m-1.7-.2h0m3.6-.2h0m-4-.1h0m-.3-.6h0m1.4-.1h0m-2.2-.2h0m3.9 0h0m-.9-.3h0m2-.1h0m-1.3-.2h0m-2.9-.8h0m1.7-.2h0m-2.3 0h0m4.5 0h0m-.5-.1h0m1.6-.4h0m-3.5 0h0m.3-.4h0m2.1-.3h0m-4.4-.3h0m4.5-.1h0m-2.8-.2h0m-.5-.1h0m2.7-.9h0m-2.3 0h0m3.7 0h0m-2.9 0h0m-1.9-.8h0m3.8 0h0m-.4-.6h0m.5-.2h0m-.2-.1h0m-.5-.4h0m-.7-.1h0m2.1-.7h0m.4-.3h0m-.1-.6h0m-.6-.3h0m-1.4-.2h0m.6-1.5h0m7.6-1.8h0m-.1 .2h0m-3.3 0h0m.5 .4h0m.4 1h0m2.2 .3h0m-2.4 .5h0m-1.3 .4h0m1.1 .1h0m-1.2 .1h0m3.6 .1h0m-3.8 .2h0m3.1 .1h0m-1.3 .1h0m-.2 .1h0m-2.9 .3h0m.5 .1h0m2.9 .5h0m-.9 0h0m3.2 0h0m-2.4 0h0m-2 .2h0m-1.2 .1h0m.5 .8h0m2.7 .1h0m1.1 .1h0m-.7 .5h0m.5 .3h0m-4 .1h0m3.6 0h0m-.2 .1h0m-.2 .2h0m.6 .2h0m-1.1 .3h0m-.6 0h0m-1.9 .4h0m2.4 0h0m.1 .1h0m-1.4 .1h0m1.1 .2h0m.7 .1h0m-.6 .7h0m1.1 .4h0m-1.6 .2h0m2.2 .3h0m1.1 0h0m-5.5 .9h0m2.4 .3h0m1.6 .1h0m.5 .1h0m-1.1 1.5h0m-.4 .5h0m2.5 .2h0m-5.1 .1h0m1.3 0h0m3.3 .3h0m0 .1h0m-5 .4h0m.4 .5h0m2.4 .3h0m2.5 0h0m-2.2 .2h0m-3.3 .1h0m5.8 .4h0m-4.4 0h0m1.1 .1h0m2.6 .2h0m-4.2 .3h0m1.5 .3h0m-2 0h0m2.6 0h0m-2.7 .3h0m2.8 .3h0m.4 0h0m.7 .4h0m1.2 .6h0m-2.2 .3h0m2.5 0h0m-2.6 .4h0m1.9 .1h0m.5 .4h0m-1.9 .3h0m-1.8 .4h0m3.8 .3h0m-3.6 .5h0m-.8 .1h0m4.1 .1h0m-2.2 .1h0m2.3 .2h0m-3.4 .7h0m1.5 .5h0m2.1 0h0m-3.7 .3h0m.5 .1h0m-2.4 .3h0m1.6 0h0m-1.1 0h0m.8 .1h0m1.1 .3h0m2.4 .2h0m-3.4 0h0m-1.1 .2h0m2 .1h0m-1.4 .6h0m3.5 .3h0m.3 .1h0m-.2 .2h0m-3.6 .2h0m2.2 0h0m-2.5 0h0m2.4 .1h0m-1.3 .7h0m0 .2h0m-1.3 .1h0m3.3 .3h0m-2.3 .2h0m3.1 .1h0m-2.2 .1h0m-1.3 .8h0m.2 0h0m2.5 .3h0m0 0h0m-3.4 .1h0m3.4 .7h0m-1 .2h0m-1.7 .1h0m-1.1 .4h0m0 .9h0m4.3 0h0m-1 .2h0m.2 .1h0m.4 .1h0m.8 0h0m-3.8 .1h0m2.6 .4h0m1.1 .1h0m-3.4 .6h0m2.7 .2h0m.4 0h0m-3 .3h0m3.8 0h0m-5 .1h0m2.3 .1h0m2.2 0h0m-4 .5h0m4.9 .5h0m-.2 .1h0m-2.5 0h0m3 0h0m-1.1 .1h0m-3.8 0h0m1.4 .2h0m-.6 .2h0m1.7 .1h0m.5 .6h0m-1.8 .1h0m-1.5 .6h0m.2 .2h0m-.5 .1h0m4.7 .3h0m-1.7 .1h0m1.5 .6h0m-1.4 .2h0m.3 .5h0m-2.5 .1h0m.9 .5h0m-1.7 .3h0m2.6 .1h0m-.6 .3h0m-.7 .3h0m-1.2 .2h0m1.3 0h0m-1.3 0h0m4.2 0h0m-2 .1h0m2.5 0h0m-4.1 0h0m3.1 .2h0m-3.8 0h0m3.8 0h0m.7 .1h0m-1.2 .3h0m.9 .1h0m1 .6h0m-2.8 .1h0m2.7 0h0m-3.1 .2h0m.5 .3h0m-1.7 .3h0m1.9 0h0m2 0h0m-1.8 .5h0m-2.5 .1h0m2.8 .3h0m2 .8h0m-2.9 .2h0m1.3 .1h0m1.7 .3h0m-1.8 .8h0m.3 .4h0m-.3 .1h0m-3.2 .4h0m4.1 .1h0m.7 .4h0m-2.6 .3h0m3.1 .2h0m-5.6 .3h0m3.3 0h0m-1.6 .1h0m3.7 .5h0m-1.8 .5h0m-2.1 .4h0m2.1 .9h0m-2.3 .3h0m.1 .1h0m4.2 0h0m-3.6 0h0m-1.9 .3h0m4.2 .4h0m-3.9 .1h0m-.1 .4h0m.4 0h0m1.1 .2h0m-1.7 .1h0m4.4 0h0m-3 .2h0m4 .1h0m-5.5 0h0m4.3 .1h0m-4.4 .1h0m.9 1h0m3.9 0h0m-1.2 0h0m.8 0h0m-1 .3h0m-3.5 .5h0m.6 .1h0m-.8 .6h0m3.5 0h0m1.8 .3h0m-5.1 0h0m3.2 .1h0m2.5 .1h0m-.3 .1h0m-2.7 0h0m-1.4 .1h0m3.3 .1h0m0 .1h0m-3.5 .1h0m.2 .4h0m4.3 .1h0m-1.4 .3h0m-3.8 .5h0m0 .1h0m1.3 .2h0m-.1 .7h0m3.7 .1h0m-5.2 .1h0m.9 .5h0m-.8 .2h0m5.4 .4h0m-4.9 .2h0m-.8 0h0m4.2 .1h0m.8 .2h0m-3 .1h0m-.1 .4h0m3.3 0h0m-4.1 .3h0m2.7 .2h0m.3 .1h0m-3 .2h0m4.2 0h0m.3 .5h0m-.6 0h0m-3.1 .4h0m-.9 .5h0m2.6 0h0m.4 0h0m-1.6 .1h0m1.2 .1h0m-1.4 .1h0m3.2 .6h0m-1.3 .1h0m-4.1 .2h0m4.1 .4h0m-3.1 .3h0m1.8 .1h0m-1.1 .1h0m-.7 .1h0m1.2 .7h0m-.5 0h0m-1.6 .4h0m3.7 0h0m-3.2 .1h0m1.5 .1h0m1.5 0h0m-1.5 .4h0m-.9 .3h0m1.5 .3h0m2.5 1.1h0m-.2 .1h0m-2.3 .1h0m2.2 .2h0m0 .3h0m.5 .1h0m-2.4 .2h0m-1.9 .6h0m1.7 0h0m-2.9 .3h0m2.3 .1h0m3.3 .3h0m-3.5 .1h0m-1.5 .2h0m-.5 0h0m1.7 .1h0m-1.8 0h0m3.5 .4h0m1.4 .4h0m.7 .1h0m-1.8 .2h0m-2.8 .1h0m-.4 .3h0m.2 .3h0m-.7 .1h0m2.7 .4h0m-1.6 .5h0m-1.2 .3h0m1.3 .2h0m10.6 .3h0m-1.7-1h0m.7-1h0m-4.7 0h0m4.6-.1h0m-.2-1.6h0m-1.1-.3h0m-1.8-.1h0m.9-.8h0m.5-.1h0m-2.3 0h0m-.4-.1h0m4.8 0h0m-4.4-.3h0m3-.1h0m-.7-.1h0m2.4-.1h0m-.2-.8h0m-5.1-.2h0m3.2-.3h0m-1.6 0h0m0-.1h0m3.9-.5h0m-2.7-.1h0m-.9-.3h0m2.1-.8h0m-4-.1h0m4.8-.2h0m-2.1-.1h0m-1.2-.5h0m1.3-.5h0m1.4-.1h0m1.1-1.2h0m-3.9 0h0m1.8-.4h0m1.6-.1h0m-2.5-.2h0m1.5-.1h0m-2-.4h0m-.5-.4h0m-1.3 0h0m4.7 0h0m.9-.2h0m-1-.1h0m-.2-.1h0m-.3-.1h0m-1-1.2h0m-2.9-.1h0m4.6 0h0m-1.6-.2h0m1.8-.6h0m-1.1-.1h0m1.4-.1h0m-1.2-.6h0m-2.9 0h0m3.9-.2h0m-.1-.1h0m-.3-.1h0m.4-.2h0m-1-.1h0m-1 0h0m-2-.3h0m-.2-.4h0m4.8-.1h0m.1 0h0m-4.9-.7h0m4.3-.1h0m-2.5-.1h0m2.6-.1h0m-1.4-.2h0m-4.1-1.6h0m1.3-.1h0m1.1-.5h0m-1.6-.1h0m1.8 0h0m-1.6 0h0m3.9-.1h0m1-.1h0m-2.6-.3h0m-1.3 0h0m2.1 0h0m-2.5-.3h0m2-.6h0m-2.9 0h0m4.8 0h0m-.2-.3h0m.6-.3h0m-1.6-.2h0m-.7-.1h0m-2.3-.3h0m.9-.2h0m3.7 0h0m-3.4-.1h0m-.2-.2h0m1-.1h0m2.2 0h0m-1.9-.4h0m-2.5-.4h0m4-.7h0m-4.6-.5h0m.3 0h0m4.4-.8h0m-3.5-.3h0m1.6-.3h0m.8-.4h0m.9-.2h0m-2.5-.4h0m2.5-.3h0m-2.1-.2h0m1.7-.1h0m-3.5-.4h0m2.8-.1h0m-3.1-.1h0m1.8 0h0m.8-.5h0m.5-.9h0m-3-.2h0m4.3-.1h0m-2.6-.5h0m3-.2h0m-5.2-.1h0m4.3-.6h0m-3.7-.2h0m.2 0h0m3-.7h0m-2.3-.2h0m-.8-.1h0m2.2-.5h0m-2.2-.5h0m2.7-.7h0m-2.3-.1h0m2.4-.1h0m-3.4-.3h0m-.4-.1h0m2.8-.4h0m-.9-.9h0m.5-.2h0m1.3-.3h0m1.3-.2h0m-1.7-.1h0m-2.9-.5h0m0 0h0m1.3-.2h0m3.4-.6h0m-4.2-.1h0m3.1-.3h0m-2.8-.4h0m1.4-.1h0m.1-.7h0m2.2 0h0m-1.7-.2h0m-1.8-.3h0m4.4-.2h0m-4-.2h0m3.7-.1h0m-3.2-.1h0m-1.9-.6h0m.8-.3h0m3.6 0h0m-2.1-.1h0m2.3-.3h0m-3.7-.7h0m3.2-.2h0m.6-.7h0m-.6 0h0m-4.2-.3h0m.4-.2h0m2.9 0h0m-1.7-.8h0m1.4-.2h0m-1.5-.4h0m3.7 0h0m-4.6-.2h0m1.8 0h0m2-.5h0m-2.7-.3h0m3.2 0h0m-2.1-.6h0m.7-.1h0m-3.1 0h0m.5-.1h0m4.4-.5h0m-1.3-.1h0m-1-.1h0m-2.4-.4h0m-.6-.1h0m3.7-.1h0m-3.3-.3h0m2.8-.8h0m-1.9-.3h0m2.4-.8h0m-4-.3h0m2.6-.3h0m1.7 0h0m-2.6-.1h0m-.9 0h0m3.7-.2h0m-3.9-.3h0m4.9 0h0m-.3 0h0m-1.3-.1h0m-2.5 0h0m1.8-.4h0m-.9-.3h0m.1-.1h0m-.2-.2h0m-1.8-.3h0m3.1-.6h0m-3.4-.3h0m1.9-.3h0m-.3 0h0m.2-.1h0m3.4-.4h0m-2.1-.1h0m.7-.5h0m.9-.1h0m-3.1-.3h0m2.7 0h0m-4.2 0h0m4.1 0h0m-1.6-.2h0m1.9-.1h0m1.2-.1h0m-2.6-.4h0m1.7-.2h0m-3.5-.6h0m1.6-.2h0m-.1-.1h0m.4-.3h0m-.5-.4h0m1.1-.3h0m.2-.8h0m-4.1-.1h0m2.6 0h0m-1.1-.2h0m1.1 0h0m1.2-.3h0m-.5-.3h0m-2.9-.3h0m3.1-.1h0m-2-.1h0m-.7 0h0m3.9 0h0m1.2-.2h0m-.6-.2h0m-.3-.3h0m-3.7-.3h0m1.5-.2h0m1.7 0h0m-4.5-.4h0m4.1 0h0m-3.5-.4h0m5.1-.1h0m-.2 0h0m-4.9-.6h0m2.1-.1h0m1.5 0h0m-1.2-.1h0m-1.5-.1h0m4.2-.1h0m-4.3-.1h0m2.1-.1h0m-2.6-.1h0m3.6-.2h0m-2.9 0h0m4.2-.2h0m-2-.6h0m-.1-.1h0m.8-.3h0m0-.4h0m-3.1-.1h0m.4-.3h0m2.4 0h0m.4 0h0m-.8-.5h0m-1.8-.1h0m.1-.1h0m-.8-.3h0m.5-.1h0m1.1 0h0m2.7 0h0m-1.4-.1h0m-2.9-.1h0m1.5-.4h0m-1.8 0h0m-.9-.4h0m4.6-.6h0m-1.8-.6h0m2.9-.3h0m-3.6-.2h0m.6-.3h0m-.3-.3h0m3-.2h0m-1.9-.3h0m-1.9-.1h0m3.5-.4h0m-1.7-.4h0m1.9-.2h0m-2.5 0h0m2.1-.6h0m5.5-2.7h0m.2 .3h0m-.4 .3h0m-1.6 0h0m-.3 1.1h0m-2.4 .4h0m1.4 .2h0m4.4 .2h0m-4.5 1h0m-1.1 .8h0m1 .2h0m2.9 0h0m-.1 .1h0m1.3 0h0m-1.8 .2h0m2.3 .1h0m-3.2 .1h0m-.7 .2h0m-.7 .3h0m2.2 0h0m2.3 0h0m-4.7 .2h0m.8 .1h0m-1 .4h0m1.7 .1h0m.4 .1h0m-1.7 .1h0m2.7 .4h0m.3 .1h0m-3.9 .4h0m1.1 .2h0m-.6 0h0m0 .2h0m-.7 .2h0m1.1 .5h0m2.5 .3h0m-1.6 .1h0m3 .1h0m-1.9 .2h0m-3.3 .1h0m2.9 .1h0m-1.8 .1h0m4.5 .1h0m-4.4 .3h0m.7 0h0m.5 .1h0m3.3 0h0m-.3 .1h0m-1.6 .1h0m-.4 .4h0m-1.1 .3h0m1.8 .1h0m.5 .1h0m-1.2 .3h0m.2 0h0m-1 0h0m1.9 .2h0m1.3 0h0m-2.1 .2h0m1.2 0h0m.7 .1h0m-5 .1h0m2.6 .9h0m-.6 .3h0m-2.4 1h0m5.2 0h0m-4 .1h0m.3 .1h0m3.5 .7h0m-4.3 .1h0m.9 .2h0m.9 .5h0m3.2 .1h0m-4.4 .2h0m.1 .1h0m.1 .4h0m-1.2 .1h0m3.6 .3h0m-2.2 0h0m-.6 .3h0m.6 .2h0m.9 .4h0m1.8 .3h0m.6 0h0m-.2 .4h0m-4.8 .3h0m5.2 .1h0m-4.7 .6h0m4.9 .1h0m0 .2h0m-2.7 .1h0m1.7 .1h0m-.9 .2h0m.9 0h0m-3.1 .3h0m1.3 .1h0m2.1 .1h0m.4 .1h0m-3.8 .8h0m.4 .6h0m3.9 0h0m-4.6 .2h0m1.5 .4h0m.8 0h0m-2.9 .2h0m4.8 .1h0m-3.9 0h0m-.8 .2h0m3.2 .1h0m1.7 .1h0m-2.1 0h0m-.7 0h0m-2.5 .1h0m3.7 0h0m-2.3 .3h0m1 0h0m-.5 .1h0m0 .4h0m1.5 .2h0m-3.4 .5h0m4.6 0h0m-2.6 0h0m-1.8 .3h0m.8 .2h0m-.7 .8h0m1.7 0h0m.8 .4h0m1.4 .5h0m-1.1 .8h0m1.5 .2h0m-3.5 .3h0m4.3 .6h0m-3.4 .1h0m.5 .1h0m-1.3 0h0m3.8 0h0m.6 .1h0m-.8 .1h0m.3 .1h0m0 0h0m.5 .2h0m-3.5 0h0m2.1 .3h0m-.2 .2h0m-3.6 0h0m.6 .1h0m4 .2h0m-2.3 .4h0m-.3 .1h0m-.3 .8h0m3.1 .2h0m-1.5 0h0m1.7 .2h0m-4.3 .3h0m1.1 .3h0m1.2 .1h0m-.7 .1h0m-1.7 .1h0m3.6 .1h0m-.6 .4h0m-3 .1h0m-1.3 .1h0m4.2 .1h0m-3.3 .2h0m4.5 0h0m-3.7 .2h0m.7 .2h0m1.8 .4h0m-2.3 .2h0m.4 .3h0m1.1 .2h0m-2.2 0h0m-.6 .1h0m.6 0h0m-.3 .5h0m3.9 0h0m.9 .7h0m-3.4 .1h0m-2 0h0m1 .3h0m3.9 .2h0m-5.1 .4h0m5.1 0h0m-4.1 .2h0m3.9 .1h0m-3 .1h0m.4 .7h0m2.5 .5h0m-.1 2.4h0m.6 .6h0m.6 .5h0m-5.5 1h0m3.3 .3h0m-.4 .3h0m-1.9 .3h0m2.1 .6h0m-2.7 0h0m.5 .2h0m1.6 .1h0m-1.1 0h0m2.9 .1h0m-2.6 .1h0m2.1 .2h0m1.3 .1h0m-1.5 .1h0m-4 .2h0m2.6 .2h0m-.9 .1h0m2.6 .6h0m-3.1 .2h0m-.8 .3h0m2.9 .2h0m.5 .1h0m1 .7h0m-2.8 .1h0m2.9 .5h0m-3.7 .1h0m2.7 .2h0m-1.9 .1h0m-.8 0h0m2.2 .5h0m-3.3 .2h0m5.2 .2h0m-2.1 0h0m.6 .1h0m-.7 1.1h0m-1.6 .1h0m-1.5 .1h0m3.2 .1h0m-2.4 .7h0m2.8 .1h0m-2.1 .1h0m3.2 0h0m-1.4 .1h0m1.6 0h0m-.9 .3h0m1.5 .5h0m-.9 .1h0m1.1 .1h0m-1 .1h0m-3 .2h0m2.4 1h0m.5 0h0m-2.9 0h0m-1.3 .2h0m2.5 .6h0m.2 0h0m-1.2 .2h0m2.4 .3h0m-1.8 0h0m2 .3h0m-.7 0h0m-1 .1h0m-1.8 .2h0m2.7 0h0m.1 .6h0m1.9 .1h0m-.5 0h0m-2.7 .1h0m1.8 .3h0m.7 0h0m-1.3 .2h0m-.5 .2h0m2.7 0h0m-2.6 .2h0m.3 0h0m-1.5 0h0m2.4 .2h0m0 .1h0m-2.3 .3h0m2 .2h0m-3.5 0h0m3.1 .1h0m-2.9 .8h0m2.5 .1h0m-2.7 .4h0m1 .2h0m2 .2h0m.5 0h0m-3.9 .2h0m3.9 0h0m-.6 .1h0m-2.5 .3h0m4.3 .3h0m-.3 .5h0m-4.2 0h0m.5 .1h0m2.1 0h0m-2.7 0h0m1.7 0h0m1.8 .1h0m.2 .2h0m-2.3 .1h0m-.1 .1h0m-.7 0h0m1.3 .4h0m-2.7 .5h0m4.9 0h0m.9 .3h0m-2.2 .4h0m-1.8 .1h0m1.8 .1h0m-.6 .2h0m.3 .2h0m-1.7 .2h0m4.1 .6h0m-2.1 .3h0m-.8 0h0m2.4 .1h0m-.1 0h0m-3.3 .1h0m1.2 .3h0m-1.6 .7h0m-.5 .4h0m-.2 .2h0m4.8 .1h0m-2.3 0h0m-.8 .7h0m-2 .5h0m1.5 0h0m-.8 .3h0m-.1 .2h0m1.6 .9h0m-2.4 .4h0m5 .2h0m-3.7 0h0m3.6 .2h0m-3.4 0h0m1.6 .1h0m1 .2h0m1.4 .1h0m-4.8 0h0m2.3 .3h0m0 .9h0m1.2 0h0m-3.9 .1h0m2.8 0h0m.9 .1h0m-.2 .4h0m1.9 .1h0m-5.1 .1h0m4.3 .2h0m-1.9 .8h0m0 .1h0m-1 .2h0m-.6 .1h0m2.1 0h0m1.7 .5h0m-3.3 0h0m1.2 0h0m2.2 .4h0m-1.8 .4h0m1.5 .3h0m-.4 .5h0m-.2 .1h0m.1 .1h0m-2.5 0h0m-.8 .1h0m4.2 .3h0m-1.6 .3h0m-.7 .2h0m-2.7 .2h0m5.1 .2h0m-2.9 .1h0m-.2 .1h0m0 .6h0m.6 .9h0m.5 .1h0m.8 .1h0m.8 .2h0m-.8 .9h0m.4 .2h0m.1 .3h0m-1.5 .7h0m1.5 .9h0m.5 .4h0m3.5-.7h0m-.4-.1h0m2.2-.1h0m.4-.7h0m-2.7-.2h0m1.7-.1h0m-3.8-.6h0m.8-.3h0m3.4-.1h0m-1.9-.4h0m-1.6-.1h0m3.2 0h0m-2.9-.2h0m3.9-.1h0m.5-.2h0m-1.3-.1h0m-4.5-.3h0m.5-.1h0m2.9-.1h0m2.3-.3h0m-4.9 0h0m.2-.3h0m-.6-.3h0m.5-.4h0m2.1-.2h0m-1.6-.3h0m2.3-.1h0m.9-.5h0m.3-.2h0m-4.2-.7h0m2.6-.1h0m1.4 0h0m-3.9-.1h0m4.2-.2h0m-2.6-.5h0m-.5-.4h0m.1-.1h0m2.1-.6h0m-1.9-.4h0m-.4 0h0m1.4-.1h0m-2.6-.4h0m4-.1h0m-4-.4h0m.8 0h0m.6-.1h0m-.2-.1h0m.2-.3h0m3-.1h0m-3.5-.5h0m4.4 0h0m-2.2 0h0m-3.7-.4h0m3.7 0h0m-2.7-.3h0m.3-.3h0m.8-.2h0m2.6-.4h0m-.6-.1h0m-3.2-.2h0m-.6 0h0m3-.1h0m-2.4-.2h0m1.3-.1h0m2.4-.3h0m-4.6-.2h0m2.7-.1h0m.9-.6h0m1.5-.1h0m-1.2-.3h0m-.8-.1h0m-.8 0h0m1.6-.1h0m-3.6-.3h0m3.3-.2h0m-.3 0h0m-2.6-.1h0m0-.2h0m4.4-.1h0m.2-.4h0m-3.5-.6h0m2-.2h0m-.6-.1h0m-.1-.5h0m-.9-.4h0m3.6-.2h0m-.4 0h0m-3.4-.1h0m0-.2h0m1-.1h0m2.8 0h0m-2.7-.1h0m.1 0h0m-3.2 0h0m0-.1h0m5.2-.1h0m-4.9 0h0m2.7-.6h0m-1.6 0h0m3.5 0h0m.2-.4h0m.8-.2h0m-4.5-.3h0m.2-.5h0m3.9 0h0m-4.9-.1h0m.9-.5h0m1.8-.2h0m-2.5-.1h0m2.4-.2h0m-1.7-.1h0m4.1-.1h0m-2.2-.1h0m.9 0h0m1.4-.2h0m-4.8-.3h0m2.7-.2h0m-3.3-.2h0m1.8-.3h0m-1.4-.1h0m1.6 0h0m2.3-.1h0m-3.4-.2h0m1.5-.6h0m-.8-.2h0m2.1-.2h0m-1.1-.1h0m-.4-.2h0m2.6-.2h0m-2.6-.3h0m-1.6 0h0m4.1-.2h0m-3.3-.2h0m-1 0h0m-.2-.3h0m5.1-.9h0m-.2-.3h0m-3.6-.1h0m-1.6-.3h0m4.9-.4h0m-4.9-.2h0m2.5-.1h0m.2-.2h0m2.6-.6h0m-.1 0h0m-4.8 0h0m-.4-1.2h0m1.8-2.8h0m3.4-.4h0m-5.5-.4h0m5.9-.2h0m-1-.3h0m.2 0h0m-5.1-.4h0m.8 0h0m4.5-.3h0m-1.2-.1h0m1.2 0h0m-2.1-.1h0m.5-.1h0m-.4-.1h0m-2.9-.1h0m2.5-.5h0m-.1-.1h0m.7-.4h0m-3.2-.3h0m5.1-.3h0m-3.7-.1h0m.4-.2h0m.7-.3h0m-2.2-.3h0m1.7-.5h0m1.7-.3h0m1.3 0h0m-5.2-.1h0m1.3-.5h0m1.4-.5h0m2.3-.3h0m-4.4 0h0m1.9-.3h0m-.5 0h0m3.3-.3h0m-1.7-.3h0m-3.6-.3h0m1.8-.2h0m.5 0h0m-1.2-.3h0m2.5 0h0m-2.4-.3h0m-.2-.1h0m3.8-.1h0m-4.5-.3h0m3.3-.1h0m.4-.1h0m-3-.1h0m-.3-.2h0m2.7-.5h0m-.3-.2h0m-2.7-.6h0m3.4-.2h0m-1.4-.3h0m-1.1-.4h0m-.6-.1h0m1.2-.1h0m-1.1-.2h0m.6-.4h0m3.5-.5h0m-2-.1h0m2.5 0h0m-2.9 0h0m3-.2h0m-4.8-.1h0m2.1-.2h0m-.2-.5h0m1.2-.2h0m-.2-.2h0m2.2-.2h0m-4.2-.4h0m-.7 0h0m2.8-.6h0m.2-.1h0m-2.5 0h0m2.7-.3h0m-.5-.2h0m-2.3 0h0m4.3-.1h0m-.6-.2h0m-.4-.2h0m1-.2h0m.2-.2h0m-5.1-.2h0m.3 0h0m1.2-.7h0m-1.7-.1h0m3.2-.2h0m-2-.1h0m-.6-.1h0m3.7-.1h0m-3.2-1.2h0m3.4-.1h0m-5-.1h0m3.3-.6h0m-.8 0h0m-1.9-.2h0m4 0h0m1-.1h0m-1.9-.1h0m1.4 0h0m-5-.5h0m5.2-.4h0m-1.8-.1h0m-1.1-.1h0m1.6-.1h0m1.8-.2h0m-2.8-.2h0m2.3 0h0m-3-.1h0m.4-.1h0m3.2-.1h0m-3.6-.6h0m3.5-.1h0m-3.2-.1h0m1.3 0h0m-.2 0h0m1.3-.2h0m-.2-.1h0m-3.9-.2h0m-.2-.3h0m3-.2h0m-3.7-.1h0m3.8-.1h0m-.8-.1h0m-2.4-.6h0m2 0h0m2.5 0h0m-1.8-.4h0m2.2-.2h0m-.8 0h0m-.8 0h0m.4-.3h0m.4 0h0m1.1-.1h0m-1.5-1.2h0m-3.1-.1h0m3.9 0h0m-5.2 0h0m2.7-.1h0m-.5-.1h0m.9-1.2h0m-2.4-.1h0m.9-.1h0m2.5-.1h0m-3.7-.1h0m-.2 0h0m-.1-.2h0m.3-.4h0m.1-.2h0m3.3 0h0m1.6-.1h0m-1.7-.1h0m-1 0h0m-1.9-.1h0m1 0h0m-.1-.1h0m.2-.2h0m2.1-.3h0m-2.1-.1h0m-.4-.3h0m.3 0h0m4.1-.5h0m-3.4-.3h0m.3 0h0m1.3-.1h0m-1.6-.3h0m1.3 0h0m.2-.1h0m1.8-.3h0m-4.6-.4h0m1.7 0h0m-.1-.3h0m-2.6-.1h0m3.1-.3h0m1.7-.1h0m-4.6 0h0m2.1-.2h0m-1.8-.4h0m1.3 0h0m3-.3h0m.2 0h0m-1.1-.2h0m-1.2-.1h0m-2.3-.1h0m5.3-.3h0m-4.3 0h0m.1-.2h0m3.5-.4h0m.5-.4h0m-5.2-.4h0m.3 0h0m2.8-.2h0m-.6-.3h0m1.1-.5h0m-2.7 0h0m1.5-.2h0m-1.6-.1h0m-.7 0h0m.7-.1h0m3.1-.1h0m.5-.1h0m-4.4-.4h0m4.8-.5h0m-2.8-.1h0m-1.9-.1h0m-.4-.5h0m3.4-.2h0m-.6-.2h0m-1.5-.2h0m-1.3-.1h0m3.7-.1h0m-1.9-.1h0m-1-.2h0m-.6-.2h0m2.3-.3h0m3.2-.3h0m-3.8-.4h0m-.1-.1h0m-.7-.4h0m.9-.2h0m-1.3-.1h0m3.5-.1h0m-2.9-.1h0m.2-.4h0m.2-.3h0m-.3-.1h0m2.3-.2h0m1.3 0h0m-1.8-.2h0m-.1-.1h0m-2.6-.5h0m.4-.1h0m.3-.9h0m2.6-.1h0m-.5-.1h0m.1-.1h0m-.9-.4h0m1.2-.5h0m-2.3-.3h0m-1 0h0m2.4-.3h0m.4 0h0m-2.2-.2h0m.4-.9h0m-1.5-.4h0m7.4 6.9h0m.1 0h0m1.5 1.3h0m-1.2 .3h0m2.7 .8h0m.4 .2h0m-3.1 .8h0m-.6 0h0m3.6 .3h0m-1.5 .2h0m2.3 .1h0m-4 .1h0m4.1 .1h0m-2.2 0h0m2.2 0h0m-2.8 .1h0m-1.9 0h0m-.2 .4h0m.8 0h0m2.4 .3h0m-2.9 0h0m1.6 0h0m-2.5 .1h0m1.1 .3h0m-.7 .6h0m4.4 .2h0m-4.9 .3h0m2.2 .3h0m1.3 .2h0m-2.8 .1h0m3.9 .2h0m-.7 .2h0m1.8 .1h0m-4.3 .2h0m-1.6 .3h0m3.1 .1h0m-2.2 .2h0m2 0h0m1.1 .2h0m-1.7 .1h0m3.2 .3h0m-3.4 0h0m.6 0h0m-2.1 .6h0m1.6 0h0m1.1 .1h0m-1.7 .2h0m-.1 .1h0m-1.2 .2h0m1.7 0h0m2.7 .1h0m-2.8 .2h0m0 .1h0m3.4 .5h0m-3.8 .3h0m-.2 .3h0m3.2 .1h0m-4 .4h0m3.1 0h0m-1.1 .4h0m-1.4 0h0m.5 .3h0m2.6 .3h0m-3.9 .1h0m4.6 0h0m-2.3 .1h0m1.8 .3h0m-2.3 .1h0m-1.6 1h0m-.3 .1h0m2.6 .1h0m-2 .1h0m3.1 .2h0m0 .1h0m.5 .2h0m-.8 .4h0m2.1 .4h0m-2.7 0h0m-1.3 0h0m-.8 .1h0m-.8 .8h0m.7 0h0m.3 .1h0m3 .1h0m-3.2 .7h0m-.2 .1h0m.3 .4h0m0 .1h0m2.7 .4h0m-.3 .1h0m1.3 .3h0m-.8 0h0m-2.3 .1h0m1.9 .5h0m-3.3 0h0m5.4 0h0m.3 .5h0m-5.5 .2h0m.3 .2h0m3.9 .2h0m.4 .1h0m.3 .4h0m-1.3 0h0m-1.7 0h0m3.2 .1h0m-2.6 0h0m-.7 .2h0m3 .3h0m-1.9 .1h0m-.4 .2h0m.6 0h0m-1.9 .2h0m2.2 .6h0m-3.1 0h0m4.7 .1h0m-4.9 0h0m5 .3h0m-2.4 .7h0m-1.3 .1h0m-1.1 .3h0m-.7 .1h0m5.7 .1h0m-5.5 .1h0m1.1 .3h0m-.2 .1h0m-.1 0h0m2.8 .1h0m1.6 .1h0m-1.5 .6h0m-.2 .5h0m-.6 .1h0m-.7 .1h0m1.5 .3h0m-1.3 .3h0m-2.6 .2h0m3.5 .3h0m.1 .2h0m-1.2 .1h0m-1 0h0m-1.1 .4h0m5.6 0h0m-1 .2h0m-4.6 .1h0m3.3 .6h0m1 .4h0m0 0h0m-1.4 .1h0m-1.5 .4h0m-1 .1h0m.6 0h0m.2 1h0m.4 .3h0m-1.6 .1h0m1 .3h0m1.6 .2h0m.1 .3h0m-.8 0h0m1 .2h0m-2.2 0h0m-.4 0h0m2.1 .1h0m-2.1 0h0m.9 .1h0m2.4 .2h0m-2.6 0h0m.8 .2h0m-1.1 .1h0m.1 0h0m3.6 .2h0m-2.4 .2h0m1.5 .2h0m-2.2 .1h0m3.6 .3h0m-4.6 0h0m2.6 .1h0m.5 0h0m-3.4 .1h0m4.9 .3h0m-1.5 0h0m-.3 0h0m-2.8 .2h0m1.6 .1h0m2 .1h0m-1.2 .1h0m-2.1 0h0m.8 .4h0m3.3 0h0m-4.5 .4h0m3 .2h0m.3 .2h0m-2 .4h0m-.2 0h0m.3 .2h0m3.7 .1h0m-4.7 .1h0m1.4 0h0m1 .1h0m-1.6 .2h0m3 0h0m-1.1 0h0m.2 .1h0m0 .2h0m-3.7 0h0m.3 .4h0m5.2 .3h0m-2.5 0h0m-.4 .2h0m-.9 .1h0m2.5 .8h0m-3.9 .3h0m.1 .1h0m2.5 .7h0m-2.5 0h0m2.4 .3h0m-1.7 .2h0m3.4 0h0m-1.6 .3h0m-2.5 .1h0m.5 .1h0m4.1 0h0m-3.8 .2h0m3.4 0h0m-1.3 0h0m-2.1 .1h0m3.7 .4h0m-1.4 .3h0m-.8 0h0m1.1 .1h0m.1 .1h0m-2.3 .1h0m3.3 .1h0m.2 0h0m-2.8 0h0m1.1 .3h0m1.9 .7h0m-2.1 .1h0m2.3 .1h0m-5.1 .2h0m5 .1h0m-.2 0h0m-4.8 .4h0m4.5 .2h0m-3.9 .3h0m0 .8h0m1.9 .4h0m-1.4 0h0m-.9 .7h0m5.2 .1h0m-.5 .6h0m-3.1 0h0m1.4 .1h0m-1.7 .1h0m1.3 .1h0m.2 .2h0m-1 .2h0m-.7 0h0m.9 .2h0m1.5 .1h0m-1.9 .3h0m3.4 0h0m-4.6 .1h0m3.3 0h0m-1.6 .1h0m-2.5 .2h0m4.5 0h0m-4.7 .2h0m0 .1h0m3.6 .2h0m-.3 .1h0m-2.5 .2h0m3.8 .4h0m-2.5 .2h0m2.4 .3h0m-2.5 .3h0m.9 .2h0m1.8 .2h0m0 0h0m-2.9 .1h0m2.5 .3h0m-3.1 0h0m.4 .2h0m1.3 .2h0m-2.7 .6h0m1.9 .2h0m.3 .2h0m.8 .1h0m-2 0h0m1.6 .3h0m-1.5 .1h0m-1.3 .3h0m2.4 0h0m-.5 .2h0m1.9 .1h0m.6 0h0m-.2 .1h0m-4 .1h0m.9 .3h0m4.3 .3h0m-4.2 .1h0m.1 .1h0m1.5 .2h0m-2 .4h0m2.5 .2h0m-1.5 .1h0m3 .1h0m.6 .1h0m-1.4 .4h0m-3.7 .1h0m2.7 .1h0m-.5 .3h0m-2.3 .1h0m2.7 0h0m2.3 .6h0m-4.2 0h0m-1.1 .3h0m4 .3h0m1.3 .1h0m-4.4 .1h0m-.2 0h0m1.5 .3h0m-2.1 .4h0m.3 .3h0m1.3 .3h0m-1.6 .1h0m5.4 0h0m-2.5 .3h0m.4 .1h0m-2.1 .1h0m3.8 .3h0m-3.9 .1h0m3.3 .2h0m-4.1 .4h0m5.4 1.2h0m-2.5 .1h0m2.3 .2h0m-3.3 .4h0m1 .3h0m1.2 0h0m.7 0h0m-.4 .3h0m-3.2 0h0m3.3 .3h0m-.1 .2h0m-.3 .1h0m-2 .1h0m3.5 .2h0m-1.5 0h0m-4.3 .2h0m3.3 .1h0m-3 .1h0m1.4 .3h0m-1.5 .2h0m3.9 .1h0m-.7 .1h0m-1.9 .2h0m-.2 .4h0m1.2 .2h0m.4 .2h0m1.3 .1h0m.1 .1h0m1.4 .1h0m-.1 0h0m-5.6 .5h0m3.8 0h0m.6 0h0m-1.6 .4h0m-.1 .1h0m-2.2 .1h0m3.8 .1h0m.7 .1h0m-.1 .2h0m-1.1 .3h0m1.3 0h0m-.3 .3h0m-1.3 .2h0m-.8 .1h0m-1.7 .2h0m4.6 .2h0m-1.4 .1h0m.3 .5h0m-4 .5h0m3.2 0h0m-2.5 0h0m3.3 .4h0m-2.7 .1h0m-1.1 .1h0m5 0h0m-3.1 .5h0m-.6 .2h0m0 .1h0m-1.3 .2h0m4.3 .2h0m-1.1 .2h0m-1 .1h0m.5 .7h0m-3.4 .1h0m4.8 .3h0m-2.2 .1h0m-.7 .2h0m-.4 0h0m1.2 .3h0m1.8 .3h0m-2.9 .1h0m3.9 .6h0m-3.5 .1h0m-.7 0h0m2.4 .3h0m-1.4 .3h0m-.3 .5h0m-.2 .3h0m0 0h0m3.3 .6h0m-1.9 0h0m.6 0h0m-1.6 0h0m-.5 .2h0m0 .1h0m1 .7h0m.9 .3h0m2.9-4.5h0m-.6-.9h0m3.5-.5h0m-2.1 0h0m-1.1-.2h0m.8-.1h0m4.7-.4h0m-1.4-.5h0m1.1-.2h0m-3-.3h0m-.2-.3h0m-.5-.1h0m-1.5-.2h0m3.2 0h0m1-.1h0m-3.8 0h0m5-.3h0m-2.6-.3h0m-1-.2h0m-1.8-.3h0m.5-.2h0m3.5 0h0m-2.2-.1h0m.4-.3h0m1.9-.1h0m1.1-.3h0m-.2-1.1h0m-1.7-.2h0m2.2-.2h0m-5.5-.1h0m4.6-.3h0m-2.5-.2h0m2.5-.4h0m-.5-.4h0m1.2-.1h0m-2.7 0h0m1.6 0h0m-3.4-.2h0m4.1 0h0m-1.8-.7h0m-2.1-.2h0m.8-.1h0m1.8-.3h0m.5-.1h0m-3.4 0h0m1.9 0h0m-2.8-.1h0m4.6 0h0m-2.4 0h0m-1.7-.2h0m3.1-.2h0m-.1-.1h0m-2.2-.2h0m1.4 0h0m.9-.2h0m.3-.1h0m.3-.2h0m-1.5-.3h0m1.5 0h0m-4.2-.1h0m.3-.1h0m.6-.4h0m-.1 0h0m-.6 0h0m3.5-.2h0m1.3-.1h0m-4.1 0h0m3.3-.8h0m-.7-.1h0m-.6 0h0m-.6-.1h0m-.6 0h0m1.5-.6h0m.7-.2h0m-3.1-.3h0m.2-.4h0m0-.2h0m4.6-.1h0m-1.9 0h0m-1.9-.2h0m1.3-.3h0m.6-.1h0m.6-.1h0m-.5-.1h0m1.4-.1h0m0-.1h0m-2.9 0h0m-.5-.3h0m-1.1-.1h0m1.1-.1h0m.2-.1h0m1.8-.2h0m0-.3h0m-3.7-.2h0m4.3 0h0m-2.9 0h0m.6-.3h0m-.6-.1h0m1.4 0h0m-2-.1h0m4.6-.1h0m-4.4-.2h0m-.8-.1h0m1.1-.1h0m2.3-.1h0m-1-.2h0m0-.1h0m.4-.4h0m-.1-.4h0m-2.6 0h0m1.7 0h0m1.4-.3h0m1.2-.1h0m-.5-.4h0m.6-.2h0m-3.7-.3h0m-.9-.1h0m2.3-.1h0m1.4-.2h0m-3.9-.1h0m2.6-.5h0m-2.4 0h0m5.4 0h0m-5.5-.1h0m2.9 0h0m-2 0h0m.9 0h0m1.4-.3h0m-.1-.2h0m-.7 0h0m.5-.4h0m-2.9-.2h0m2.3-.1h0m-2.5-1.3h0m5.2-.2h0m-2.6-.6h0m1.5-.1h0m-3.2 0h0m-.8 0h0m5.1-.1h0m0-.3h0m-4.6-.1h0m3.5-.2h0m1.8-.2h0m-3.2 0h0m-2.5-.4h0m4-.2h0m.3-.1h0m-4.2-.2h0m4.9-.7h0m-1-.1h0m.1-.1h0m-4.2 0h0m3.9 0h0m1.8-.3h0m-3.6-.3h0m-.3-.1h0m-1.5 0h0m-.3-.5h0m-.1-.3h0m5.4-.1h0m-1.3-.5h0m-1.9 0h0m1.8-.2h0m-.5-.3h0m-1.7-.2h0m2.7 0h0m-.4-.2h0m1.3-.2h0m-1.3-.3h0m-2.8-.1h0m3.6-.9h0m-3.7-.1h0m3.8-.1h0m-2.1 0h0m-2.1-.1h0m.1-.2h0m.5-.1h0m2.9-1.2h0m-4.4 0h0m5.3 0h0m-4.7-.1h0m4.1 0h0m-1.8-.1h0m1.9-.6h0m-4.4 0h0m.6-.3h0m0-.1h0m2.7 0h0m-1.9-.4h0m1-1.2h0m.5-.2h0m-2.8 0h0m1.4-.6h0m2.1 0h0m-.9-.3h0m-2.2 0h0m1.4-1.4h0m.2-.1h0m-1.6-.3h0m2.5-.2h0m2.2-.6h0m-2.8-.1h0m1.7-.1h0m-.9-.1h0m-1.5-.1h0m-1 0h0m.7-.2h0m1.1-.1h0m.5 0h0m-.1-.3h0m-1.8 0h0m4.2-.2h0m-3.1-.1h0m2.3-.5h0m.6-.1h0m-2.7 0h0m1.6 0h0m-2.6-.6h0m3.5-.6h0m-.5 0h0m-3.1 0h0m2.3-.4h0m0 0h0m-3.4-.1h0m3.1-.1h0m1.5-.2h0m-1.2-.2h0m.7-.1h0m1.2 0h0m-4.6-.1h0m.7-.2h0m3.1-.2h0m-1.4-.1h0m-1.7-.5h0m3.6-.1h0m-1.7-.2h0m-.2-.6h0m-.4 0h0m.3-.1h0m-3.2-.3h0m3.4-.4h0m-3.5-.3h0m1.2-.1h0m1.2-.1h0m1.1-.3h0m0-.1h0m-.1-.5h0m-2.1-.1h0m1.6-.2h0m-.5-.1h0m.4-.2h0m-1.5 0h0m-.5 0h0m-.2-.4h0m4.3-.1h0m.1-.5h0m-2.5-.3h0m.3-.1h0m.2-.1h0m2.3 0h0m-1.7 0h0m-1.2-.2h0m3.2-.2h0m-3.9-.1h0m-.6 0h0m1.7-.5h0m1.1 0h0m-3.6-.1h0m1.2-.1h0m-1.6-.1h0m4.8-.1h0m.5-.1h0m-2-.1h0m-.4-.2h0m.7-.1h0m2-.5h0m-4-.3h0m2.6 0h0m1.5-.1h0m-2.3-.1h0m-1.9-.2h0m3.5-.1h0m-3.7 0h0m-.6-.3h0m3.7-.2h0m-4.1-.3h0m3.9-.1h0m-3.8-.4h0m1.3 0h0m2.7-.2h0m-1.4 0h0m2.1-.4h0m-3.4 0h0m3.6-.3h0m-3.4-.3h0m-.2 0h0m-1.8 0h0m.6-.1h0m.5-.1h0m2.3-.1h0m-2-1h0m-1.2-.1h0m4-.1h0m-2.4-.4h0m2.6-.1h0m-3.2-.4h0m2.4 0h0m2-.1h0m-3.5-.2h0m1.6-.1h0m1.5-.1h0m-1.9-.1h0m-1.7 0h0m2.4-.4h0m1.2-.1h0m-4.3-.1h0m4.6-.3h0m-2-.2h0m-3.1-.1h0m1.7 0h0m3.3 0h0m-1.3-.3h0m-2.7-.2h0m2.3-.1h0m.9 0h0m-2.5-.2h0m1.4-.1h0m.6-.3h0m-1.9-.4h0m2.1-.1h0m.1 0h0m-3.9 0h0m5.2 0h0m-.8-.6h0m-1.9-.2h0m-.3-.2h0m-.6-.1h0m3.2-.2h0m-2.2-.3h0m-1.1-.3h0m-.8-.1h0m3-.3h0m1.1-.2h0m-3.1-.2h0m1.8-.2h0m-1.4-.1h0m2-.4h0m-4.2-.1h0m-.2-.2h0m1.6 0h0m2.1-.1h0m-2.5 0h0m4.4-.1h0m-.4-.3h0m-1.1-.1h0m-2.8-.3h0m4.2-.5h0m-4.5-.2h0m1.9-.2h0m1.6-.5h0m-.6-.1h0m-.7-.5h0m-1.6-.4h0m-1-2.3h0m6.2 4.8h0m3 .6h0m-3.8 .4h0m.5 .9h0m4 .3h0m.7 0h0m-3.3 .2h0m3.3 .1h0m-.6 .1h0m-1.6 .1h0m-1.5 .1h0m4 .3h0m-2.5 .1h0m-1.7 .6h0m1.5 .1h0m-1.9 .6h0m-.2 .1h0m-.3 .4h0m.3 .2h0m-.6 .3h0m2.8 .4h0m-.4 .3h0m-2.4 0h0m2.5 0h0m-2.2 .4h0m-.7 .1h0m3.9 .2h0m-1.9 .3h0m2.4 .7h0m-1.6 .1h0m.7 .1h0m.6 .1h0m-3.7 .2h0m2.3 1.4h0m-1.3 .4h0m-.6 .7h0m-.8 .6h0m2.9 .6h0m3.1 0h0m-1.4 0h0m-2.4 .2h0m-1.4 .1h0m1.5 0h0m-1.7 .2h0m-.6 0h0m.9 .2h0m1.2 0h0m1.4 .2h0m-.2 0h0m-1.6 .3h0m.6 .1h0m-1.9 .2h0m3.7 .2h0m-2.3 0h0m-.1 .4h0m-.4 0h0m1.2 .2h0m1.2 0h0m2.1 .1h0m-2.1 0h0m-3.4 .3h0m2.8 .6h0m2.6 .6h0m-3.5 0h0m3 .2h0m-1.6 .1h0m-1.5 0h0m-.7 .5h0m.6 0h0m2.3 .3h0m-4.2 .1h0m5.6 1.3h0m-1.7 1h0m1.7 .3h0m-5.1 .1h0m2.7 0h0m1.2 .2h0m-1.7 .1h0m1.8 0h0m-3.4 0h0m.1 .1h0m1.1 .1h0m1.1 0h0m.1 .6h0m1.5 .1h0m-.6 .1h0m-2.2 .7h0m-2.2 .1h0m0 .1h0m2.2 .1h0m3.1 .1h0m-4.3 .4h0m1.9 .4h0m-1.9 0h0m4.7 .1h0m0 .2h0m-.6 .3h0m-5.2 0h0m5.2 .3h0m-.7 .1h0m-1.2 0h0m1.7 .4h0m-3.6 .1h0m3.1 .2h0m-2.1 .6h0m2.1 .4h0m-.5 .1h0m1.3 .1h0m.3 0h0m-2.3 .2h0m1.7 .1h0m-2.5 .3h0m-2.4 .5h0m2.4 .3h0m.8 .1h0m-2.5 .1h0m.1 .1h0m.4 .2h0m0 0h0m4.4 .1h0m-1.8 .1h0m1.9 .1h0m-2.9 .4h0m.4 .1h0m.1 .1h0m2.4 .4h0m-1 .5h0m-2.4 .2h0m-.3 0h0m-.9 .1h0m1.3 0h0m.9 0h0m-2.9 .3h0m5.2 0h0m-2.2 .3h0m-2 .4h0m1.4 .1h0m3.1 0h0m-5.3 1.2h0m4.7 .3h0m-2.7 .7h0m-1.5 .2h0m-.8 .5h0m-.2 .2h0m.3 .1h0m2.9 .1h0m.2 0h0m-1.4 .4h0m3.6 0h0m-4.3 .1h0m-.9 0h0m5.4 .4h0m-1.4 .1h0m-.7 .1h0m-1.2 0h0m-2 .2h0m.4 .2h0m2.4 .1h0m-3.5 .1h0m3.4 .7h0m-2.3 .3h0m3.7 .5h0m1.1 .1h0m-1.8 .1h0m-.6 .2h0m-2.8 .2h0m1.4 .1h0m3 0h0m-5 .1h0m4.8 0h0m-3.3 .2h0m.7 0h0m1.3 0h0m.1 .1h0m-1.5 .1h0m1.7 .6h0m-3.8 .1h0m2.3 .1h0m1.1 0h0m1.7 0h0m-2.6 .2h0m2.4 .2h0m.7 .1h0m.1 .1h0m-5.4 0h0m1.9 .2h0m2.4 .6h0m-.4 .2h0m.2 .2h0m-2.5 0h0m2.7 .3h0m-2 .4h0m-1.6 0h0m2.2 .2h0m2.7 .2h0m-3.8 .2h0m2.4 0h0m.1 .5h0m-2.6 0h0m3 0h0m-3.2 .5h0m4.1 0h0m-1.2 .1h0m-1.4 .1h0m2.5 0h0m-4.1 .3h0m-.8 .8h0m.5 0h0m2.3 0h0m-1.5 .2h0m-1.1 0h0m0 .8h0m2.1 .2h0m2.5 .1h0m-.1 .2h0m-4.9 .1h0m4.2 .1h0m-4 .3h0m.5 1.1h0m.3 0h0m-1.8 .5h0m1.6 .1h0m2.1 .1h0m-.4 .1h0m-2.1 .3h0m.8 .1h0m2.6 .1h0m-2.6 .1h0m-.1 0h0m3.8 .6h0m-1.6 .1h0m1.7 0h0m-.7 .1h0m.1 0h0m-.4 .2h0m-2 0h0m-.4 .2h0m-2.2 .1h0m.8 .5h0m.3 .2h0m.2 .1h0m2.8 .1h0m-4.3 .1h0m1.9 .3h0m-1.1 .3h0m-.5 .1h0m4.6 .1h0m.7 0h0m.1 .2h0m.2 .2h0m-1.5 .3h0m-2.5 .1h0m-.7 .2h0m-.1 .1h0m.4 0h0m.6 .1h0m3.1 .4h0m-.5 .3h0m-.4 .1h0m-.9 .4h0m1.5 0h0m-3.4 0h0m2 .2h0m1 .3h0m1.4 .5h0m-.9 0h0m-.3 .1h0m-4.1 .1h0m3.6 0h0m1 .2h0m-.2 0h0m-3.4 .1h0m.6 .2h0m0 .1h0m.8 0h0m1.7 .3h0m-2.2 .1h0m.3 0h0m-.2 .2h0m-1.8 .2h0m4.8 .5h0m0 0h0m-5.5 .1h0m1.2 .2h0m2.4 .1h0m-1.5 0h0m.8 .4h0m2.9 .6h0m-.9 .6h0m-1.8 0h0m1.6 .2h0m.3 .2h0m.2 .6h0m-4.9 .4h0m2.6 .4h0m-1.4 0h0m.7 .2h0m1.9 .1h0m-1.8 .5h0m-2 .2h0m3 .6h0m-3.1 .2h0m3.9 .1h0m-2 .1h0m-.2 0h0m3.6 1.3h0m-1.8 .3h0m1.7 0h0m-4.6 0h0m-.4 0h0m-.2 0h0m2.6 .1h0m-.7 0h0m.7 1.5h0m3.5 1h0m3.6-.6h0m-2.4-.2h0m-.6-.3h0m4.7-.2h0m-2.8-.2h0m1.1-.4h0m.3-.2h0m-.6-.6h0m1.2-.2h0m-2.1-.2h0m2-.2h0m-1.1 0h0m1.5-.3h0m-2 0h0m-2.4 0h0m4.2-.6h0m.4-.2h0m-1.3 0h0m.1-.7h0m.3-.1h0m.5-.2h0m-3.1-.1h0m3 0h0m-3.5-.3h0m.1-.1h0m.3-.3h0m.8 0h0m0-.1h0m2.1-.1h0m-1.3-.3h0m.9-.6h0m-1.4-.3h0m2.2-.3h0m-.9-.3h0m-2.7-.1h0m.4 0h0m.1-.2h0m-.8-.1h0m2.6 0h0m1.3-.1h0m0-.2h0m-4.7-.1h0m2.9-.4h0m-2.5-.4h0m-.4-.1h0m-.2-.5h0m4.3-.4h0m-2.7-.7h0m-1.7-.1h0m1.2-.3h0m1.1-.5h0m2-.2h0m1.1-.1h0m-5-.1h0m1.3-.2h0m.8-.2h0m1.6-.2h0m1.2-.1h0m.1-.2h0m-3.4-.1h0m.5-.1h0m1.1-.3h0m0-.3h0m-2.8-.1h0m1.6 0h0m0-.6h0m2.4-.7h0m-4.7-.3h0m5.6 0h0m-3.6-.3h0m2.2-.1h0m-4.1-.1h0m5.5 0h0m-2.3-.4h0m1.3-.8h0m-2.1-.4h0m-2.6-.1h0m2.5-.1h0m.9-.1h0m1.7-.5h0m-4.9-.2h0m3.9-.2h0m-2.1-.2h0m-1.9-.3h0m-.2 0h0m3.4-.5h0m-1.5-.1h0m3.3-.3h0m-2-.4h0m-1-.1h0m2.7-.3h0m-4.5-.3h0m4.2-.4h0m-.6-.3h0m-2.6-.3h0m.9 0h0m-1.2-.1h0m4.7-.2h0m-1.5 0h0m1.1-.1h0m-.8-.3h0m-4.4-.2h0m5.3-.5h0m-.3-.2h0m-2.8-.1h0m-1.5-.2h0m2.6-.1h0m.6-.3h0m.8-.1h0m-1.7-.5h0m-3.2-.3h0m5.5-.1h0m-4.3-.3h0m4.8 0h0m-.6-.3h0m-5-.1h0m2.4-.1h0m.4-.6h0m-2.1 0h0m2.5-.5h0m-1.5 0h0m3.8-.1h0m-.7-.1h0m-3.3-.2h0m3.2-.1h0m0-.3h0m.3 0h0m-3.4-.5h0m-.2-.3h0m1.4-.2h0m1.2-.2h0m-.9-.2h0m1.8-.1h0m-1.7-.3h0m-.2-.1h0m-.7-.2h0m-1.1-.2h0m2.9 0h0m-4.4-.5h0m3.1 0h0m2.3-.2h0m-2.8-.3h0m-2.6 0h0m1-.1h0m.5-.4h0m3.9-.1h0m-2.6-.1h0m.7-.1h0m-.9-.6h0m.5-.1h0m-1-.1h0m-1.7 0h0m2.9-.3h0m-2.1-.1h0m.5-.1h0m-1.4 0h0m.2-.2h0m.1 0h0m4.8-.1h0m.1-.4h0m-5 0h0m5-.1h0m-5.6-.2h0m5.2-.3h0m-.6-.2h0m-2.6-.2h0m-.5 0h0m.1-.1h0m-.1-.2h0m-.6-.2h0m-.8-.1h0m4.3 0h0m-3.8-.2h0m.6-.2h0m1.3-.1h0m.8-.1h0m-2.5-.3h0m.8-.2h0m3.7-.3h0m-1-.1h0m-.7-.1h0m-1.8 0h0m3-.2h0m.4-.2h0m-2.7-.3h0m1.2 0h0m-1.6-.3h0m3.4 0h0m-.9-.2h0m-.1-.4h0m-3 0h0m.4-.1h0m.4-.1h0m-2.3-.1h0m1.3-.3h0m.6-.1h0m3.9 0h0m-5.7-.2h0m.4-.1h0m4.7-.1h0m.2-.1h0m-1.9-.1h0m-2.8-.2h0m2.9-.1h0m-2.4-.4h0m3.4-.1h0m-3.5 0h0m-.7-.2h0m3.7 0h0m1.4-.4h0m.5 0h0m-.6 0h0m-1.7-.2h0m-2.9-.2h0m2 0h0m1.7-.2h0m-4.1-.5h0m3-.2h0m-2.3-.2h0m-.5 0h0m3.8-.1h0m-1.5 0h0m2.2-.2h0m-3-.3h0m-.3-.2h0m-1.8-.4h0m.4-.1h0m-.2 0h0m5.3-.5h0m-.3-.1h0m-.8 0h0m-1.2-.4h0m-1.4 0h0m-.6 0h0m-.2-.4h0m1.3-.1h0m3.6 0h0m-1.3-.6h0m-4.2 0h0m1.7-.4h0m3.5-.1h0m-.2-.7h0m-1-.4h0m-.5 0h0m-3.4-.1h0m3.8-.1h0m-2.4 0h0m1.1-.5h0m-.2-.2h0m-1.9-.2h0m.5-.1h0m-.8-.1h0m4.7-.3h0m-4.6 0h0m.5-.2h0m-1.1 0h0m3.8-.2h0m1.6-.4h0m-3.2-.1h0m.1 0h0m-1.7-.5h0m5.2-.3h0m-1.5 0h0m-3.5-.4h0m1.4-.1h0m-.1-.1h0m-1.1-.1h0m0-.7h0m2.9-.1h0m-2.3 0h0m-1.2-.1h0m2.8-.4h0m-.8 0h0m-2.2-.4h0m.2-.2h0m.8 0h0m-.4-.1h0m-.3-.1h0m2.2-.3h0m-.8-.1h0m-1.6-.1h0m1.8-.2h0m2.5 0h0m-1.3-.1h0m-1.2-.4h0m1.5-.2h0m-3.5-.1h0m1.8 0h0m-.2-.1h0m-1.4 0h0m1.6-.7h0m.4-.1h0m-.4-.2h0m-1.3-.1h0m1.2-1.5h0m-1.8-1.9h0m.8-.4h0m-.2-1.4h0m6.1 12.2h0m.5 .1h0m-.8 .6h0m1.3 1.1h0m-.6 1.2h0m.8 2.5h0m.1 .1h0m.7 0h0m-1.9 .1h0m.6 .6h0m1.2 .6h0m-1.2 .4h0m-.6 .3h0m.2 .1h0m1.8 .6h0m-1.4 .7h0m1 .5h0m-.9 .5h0m2.2 .2h0m-1.1 .2h0m-.3 .9h0m-2 0h0m.1 .2h0m-.2 .6h0m1.1 .2h0m1.6 .9h0m-1.4 .9h0m-.9 .7h0m.9 1.5h0m1.5 .1h0m-1 .6h0m-1.4 .1h0m.7 .3h0m2.4 .2h0m-1.8 .1h0m-.6 .5h0m-1.3 .1h0m2.5 .3h0m-.6 0h0m.5 .2h0m-1.4 .2h0m1.9 .5h0m-1.6 .2h0m-.1 .1h0m2.8 .4h0m-1.4 1.6h0m2 .2h0m-4.1 .1h0m1.8 .1h0m-2.1 .7h0m1.9 .1h0m.7 .4h0m1.2 .2h0m-1.6 .3h0m-1.4 .2h0m2.7 1h0m-.5 0h0m.9 .9h0m-.4 .2h0m-1 .4h0m-1.9 0h0m.5 0h0m-.6 .5h0m2.9 .2h0m-1.2 .3h0m-2.2 .1h0m2.8 0h0m-.8 .1h0m-.5 .7h0m.3 .3h0m-.7 .4h0m-.1 0h0m3 .6h0m-4.2 .1h0m1.7 .1h0m2.5 .1h0m-3.4 .4h0m4.7 .9h0m-.2 .1h0m-3.9 .7h0m3.9 .2h0m-1.2 .4h0m-.9 0h0m-2.8 .2h0m1.6 .3h0m2.3 0h0m.7 .7h0m-2.9 .1h0m-1.8 .1h0m2.3 0h0m-2.7 .1h0m3 .2h0m2.8 .1h0m-5.1 .1h0m.5 .1h0m-.7 .3h0m3.7 .1h0m-.1 0h0m1.1 .2h0m-.7 0h0m.1 .2h0m-3 0h0m3.1 0h0m-1.8 .3h0m-.9 0h0m-.8 .5h0m1.3 .5h0m1.1 .5h0m-2.8 .2h0m1.5 .1h0m1 .2h0m.6 .2h0m-2.5 .2h0m1.5 0h0m3 .7h0m-3.6 .2h0m3 .1h0m-1.8 .5h0m-1.8 .4h0m-1 .2h0m2.1 .7h0m.4 .2h0m-3.2 .4h0m2.8 .2h0m-2.8 .4h0m2.7 .1h0m-1.6 .2h0m-.2 .7h0m.2 .7h0m-1.1 .4h0m11.1 .7h0m.4-.5h0m-2.6 0h0m3-.2h0m-.6-.1h0m-1.8-.5h0m.6-.1h0m-1.7-1.1h0m1.6-1.1h0m1.5-.7h0m.4-.1h0m-4.6-.2h0m4.3-.3h0m.2-.5h0m-.1-.4h0m-5.1-.5h0m5-.5h0m.1-.3h0m-1.2 0h0m-.9-.3h0m.4-.2h0m-2.4-.1h0m-.3-.1h0m.1-.2h0m-.6-.1h0m-.7-.2h0m2.2 0h0m-1.3-.7h0m.1-.3h0m1-.2h0m.8-.3h0m-.5-.1h0m-.9-.1h0m.2-.3h0m2 0h0m-2.8-.1h0m4.5-.1h0m-3.2-.4h0m-.9-.2h0m1.5-.3h0m-1-.2h0m3.2 0h0m-2.2-.1h0m-1.2-1.5h0m-.4-.1h0m2.7-.3h0m-3.7 0h0m1.6-.2h0m-.5-.5h0m5.6 3.1h0m1.1 .3h0m-2 .4h0m1.3 .7h0m.2 .6h0m-.1 0h0m-.3 .2h0m-.6 0h0m1.6 2.3h0m-2.1 .7h0m1.6 .9h0m1.4 .1h0m-1.6 .3h0m-.6 1.3h0m1.5 .8h0m-2 .6h0m-.1 .6h0m.4 1.1h0" stroke="#069bb9" stroke-width="2.40" stroke-linecap="round" fill="none"/><path d="M585.5 213.2h0m0-.1h0m2.3-.6h0m-4.2-.1h0m.9-.4h0m0-.3h0m2.5-.3h0m-3.4-.5h0m.5-.3h0m.5-.4h0m2.2-.3h0m-3.8-.6h0m-.2 0h0m3.2-.4h0m-2.7-.3h0m2.5-.1h0m-1.1-.8h0m2-.1h0m.5-.1h0m.6-.1h0m-2.3-.2h0m.8-.3h0m1.3-.2h0m-1.6-1.2h0m1.9-.3h0m-4.3 0h0m2.9-.2h0m.4-.9h0m-3.4-.4h0m3.9-.3h0m-1.1-.7h0m-.9-.2h0m2-.3h0m-.4-.2h0m.3 0h0m.1-.8h0m.3-5.4h0m.2-.1h0m-.4-1.7h0m.2-.4h0m-.2-.9h0m-.3-1.1h0m0-3.6h0m-.2-.4h0m.3-2.8h0m-.8-2.4h0m1.3-1h0m.1-19.6h0m-.9-.4h0m.3-1.5h0m-.1-.1h0m0 0h0m-1.1-.7h0m.4-1.7h0m.6-.7h0m.2-.4h0m.2-.2h0m.1-2.5h0m-.5-.4h0m6.8-8h0m-1.5 .4h0m1.2 .9h0m-1.1 0h0m-1.7 .6h0m1.3 .9h0m-.3 .5h0m1.1 1.1h0m.5 .7h0m-2.1 .1h0m-.5 .3h0m1.2 .5h0m1.1 .4h0m-3.2 .2h0m3.6 .3h0m.2 .3h0m-.6 0h0m-4.2 .3h0m.5 .3h0m.2 .1h0m.9 .2h0m1.9 .2h0m-.4 .1h0m-.5 .2h0m2.2 .2h0m-.5 .1h0m.6 .2h0m-2.3 .2h0m-2.2 .1h0m.8 0h0m.5 0h0m2.7 .1h0m-2 0h0m.2 .4h0m.6 0h0m-1 .3h0m-2.5 0h0m-.4 0h0m2.4 .1h0m.8 .1h0m-3.2 .7h0m.3 .2h0m5.1 .1h0m-3.5 0h0m2 .1h0m1.9 .2h0m-1.9 0h0m-2.8 .1h0m.3 .4h0m1 .2h0m.2 .4h0m.7 .5h0m0 .1h0m-3.3 .4h0m3.5 .1h0m-2.2 .1h0m.4 .3h0m-.1 .5h0m3.5 .2h0m-4.9 0h0m4.7 .2h0m-2.8 .1h0m-.7 .2h0m.1 0h0m2.5 .7h0m-1.2 .9h0m-.7 .8h0m-1.5 .8h0m2 .1h0m.3 .4h0m-2.3 .1h0m1.5 .3h0m-.6 1h0m2.6 .2h0m-3.3 .4h0m.7 .4h0m2.4 .5h0m-2.3 .4h0m2 .6h0m-1.5 .7h0m-1.6 .2h0m3 .4h0m-.4 0h0m1.2 .5h0m1.5 0h0m-5.3 .2h0m3.3 .3h0m1.8 .5h0m-.5 0h0m-1.3 .4h0m-.6 0h0m-.4 .3h0m1.3 0h0m-.8 .2h0m2.3 0h0m-2 .1h0m.6 .1h0m-1.1 0h0m-.1 .2h0m.1 1.4h0m1.1 0h0m1.5 .1h0m-2 .5h0m-1.1 .8h0m2.6 .6h0m-1.5 0h0m.7 .5h0m1 .3h0m-1.4 .1h0m1.5 0h0m0 .4h0m-1.7 .4h0m.8 .1h0m.8 .6h0m.4 .1h0m-3.2 .3h0m1.5 0h0m-2.3 .1h0m1.2 .1h0m1.7 .2h0m-1.3 0h0m-1.2 1.1h0m-1.2 1h0m.4 .3h0m3.5 .5h0m-4.2 .1h0m5 .1h0m-3.8 .1h0m-1.5 .1h0m.2 0h0m1.9 .6h0m-.7 .6h0m3.3 .1h0m-4.1 .2h0m3.6 .6h0m-4.2 .3h0m.5 .1h0m4.2 .1h0m-1.7 0h0m-.4 .3h0m.5 0h0m-3.2 .4h0m3.7 .4h0m.6 .8h0m-1.7 .2h0m2.8 .2h0m-5.8 .1h0m3.2 1.1h0m1.8 .2h0m-3.1 .5h0m-1.3 .5h0m2.2 .2h0m2.4 .1h0m-.4 .7h0m-.5 .1h0m-2.7 .4h0m2.3 1h0m-.6 0h0m-1.9 .1h0m4.2 .1h0m-3.9 0h0m-.7 .2h0m1.2 .1h0m.1 .5h0m2.8 0h0m.2 .1h0m-2.9 .3h0m-2.3 .3h0m3.5 1.1h0m2.3 .1h0m-2.6 .1h0m.4 .1h0m-.1 .1h0m2.1 0h0m-4.5 .3h0m1.5 .9h0m1.7 .1h0m-1.7 .1h0m-2.1 .1h0m2.6 .6h0m1.3 .7h0m-3.6 0h0m2.3 .1h0m-1.9 .1h0m-.8 .1h0m.5 .4h0m4.4 0h0m-.6 .4h0m-1.3 0h0m-2.9 .1h0m1.4 .1h0m3.6 .6h0m.3 .1h0m-3.2 .1h0m2 0h0m-2.3 .2h0m2.1 0h0m-.7 .1h0m-2.3 .3h0m-1.1 .2h0m5.4 0h0m-3.9 .5h0m1.4 .2h0m-.5 .1h0m1.7 .2h0m-2.3 0h0m-2 0h0m5.5 .6h0m-.5 .2h0m.2 .3h0m-1.9 0h0m-.3 .1h0m-2.5 .1h0m2.9 .2h0m-.4 .4h0m.9 .3h0m-1.5 .1h0m3.2 0h0m-.1 .3h0m-3.9 .4h0m2.5 .3h0m-.8 .8h0m0 .2h0m2.2 .2h0m-2.4 .1h0m.4 .8h0m.6 .2h0m-2.7 0h0m3.4 .2h0m-1.5 .2h0m2.2 .2h0m-.3 .3h0m-2.9 .1h0m.8 .3h0m-2.4 .8h0m3.2 .2h0m-2.1 .2h0m2.8 .4h0m.7 .3h0m-2.2 .1h0m-2.8 .6h0m3.1 0h0m.4 .6h0m-.8 1.3h0m-.8 .1h0m-.3 .6h0m8.8 3.7h0m.7-.1h0m-.7-1.9h0m-4.6-.2h0m4.3-.1h0m.8-.1h0m-2.2-.1h0m-2.2-.2h0m2.2-.2h0m1.6-.3h0m-3.8-1.6h0m3.2 0h0m.6 0h0m-1.6-.8h0m-2.7-.3h0m2.2-.3h0m.7-.1h0m1.8-.1h0m-.6-.2h0m1.1-.1h0m-1.4 0h0m-1.4 0h0m.9-.5h0m1.8 0h0m-2-.2h0m-.1-.3h0m2-.2h0m-.3 0h0m-1.7 0h0m2.2-.1h0m-3.9 0h0m-1.2-.1h0m2.1-.1h0m-2.7-.1h0m4.6-.1h0m-4-.4h0m-.4-.1h0m3.3-.3h0m1-.1h0m1.2-.1h0m-.4-.1h0m-2.4-.5h0m.1-.1h0m-.2-.2h0m2.7 0h0m-.4-.1h0m-.3-.5h0m-3.1-.6h0m.5 0h0m-.2-.2h0m1.6-.1h0m-1.8-.5h0m-1.4 0h0m-.5-.3h0m5.5 0h0m-4.7-.7h0m.1-.2h0m1.5-.1h0m3.3-.4h0m-1.1 0h0m-2.8-.8h0m1.6-.1h0m-.9-.1h0m-.5-.2h0m-1.2-.1h0m2.3-.1h0m.2 0h0m.5-.3h0m1.9-.2h0m-1.1 0h0m.2-.9h0m-4.8-.3h0m4.9-.1h0m-1.7-1h0m1.9-.1h0m-4.3-.1h0m4.4 0h0m-3.1-.2h0m.6-.1h0m-1.2-.2h0m.6 0h0m1.4-.3h0m-2.9-.3h0m4.5-.2h0m-5-.3h0m2-.7h0m-.6-.1h0m-.2-.1h0m-.5-.6h0m0-.2h0m-.3-.3h0m.2 0h0m1.5-.2h0m1.6-.1h0m0-.5h0m1.9-.1h0m-.4-.5h0m-3.6-.1h0m2.6-.1h0m-4.3-.1h0m1.4-1.1h0m2.2-.6h0m-.7 0h0m1.1-.2h0m-1.2-.4h0m-2.3-.3h0m2.1-.6h0m3-.5h0m-5.2-.5h0m-.3-.4h0m5.9-.2h0m-1.3-.6h0m-2.5-.1h0m-1.9 0h0m.9 0h0m1.7-.3h0m1.3-.2h0m-.4-.4h0m-1.7-.1h0m1.8-.3h0m.6 0h0m.6-.2h0m-2.5-.4h0m1.1-.1h0m1.9-.1h0m-.8-.2h0m-3-.5h0m2.5-.1h0m-3.4-.1h0m-.9-.1h0m1.1-.1h0m2.4-.2h0m-1 0h0m.1-.9h0m-1-.1h0m-.6-.4h0m-.8 0h0m3.3 0h0m-.7-.5h0m1.6 0h0m-4.1-.5h0m1.6 0h0m-1.8-.1h0m2.5-.5h0m-.5-.3h0m3.1 0h0m-3.6 0h0m.2 0h0m3.8-.1h0m-1.8 0h0m.9-.1h0m-.8-.2h0m-2 0h0m1.6-.5h0m2.4-.4h0m-5.5-.2h0m4.1-.4h0m-.7-.2h0m-3.2-.1h0m.4-.1h0m4.7-.1h0m-4.4-.1h0m3.2-.1h0m-2.8-.3h0m-.5-.1h0m.8-.1h0m-.7-.1h0m-.7-.4h0m3.3 0h0m.6-.8h0m.8-.1h0m-1.9-.1h0m-.8-.7h0m1.8-.3h0m-4.1-.1h0m2-.3h0m-2-.3h0m5.4-.3h0m-4.5-.7h0m4.6-.1h0m-3.9 0h0m3.6-.3h0m-1.1 0h0m-2-.3h0m.2 0h0m-1.5-.7h0m2.3-.1h0m.9-.2h0m-3.8-.2h0m.5-.1h0m3.1-.3h0m1 0h0m-4.7-.1h0m4.4-.2h0m-1-.1h0m-.4-.5h0m-2.1 0h0m4.1-.8h0m-1.7-.4h0m2 0h0m-3.9-.2h0m.4 0h0m2.5-.2h0m-2.9-.2h0m3.5-.3h0m-.6-.7h0m-1.2 0h0m.4-.1h0m1.9-.3h0m-2-.1h0m-1.8-.4h0m2.1-.5h0m.1-.1h0m-.1-.1h0m.3-.2h0m-2.9-.5h0m4.2-.4h0m-.7-.1h0m-3.1 0h0m2.4-.1h0m-.1-1.2h0m-.4-.2h0m.9-.3h0m-.3-.1h0m1.3-.2h0m-2.8-.8h0m1.4-.6h0m-.4-.6h0m-1.4-.7h0m-1.6-.5h0m3.7-.1h0m-1.3 0h0m-1-.2h0m.3-.2h0m1.2 0h0m-.4-.4h0m-.6 0h0m-.4 0h0m-1.8-.1h0m4.9-.3h0m-1.7-.6h0m-1.1-.1h0m-.1-.8h0m2-.5h0m.5-.1h0m-1.6 0h0m.5-.6h0m-1.2-.8h0m-.4-.6h0m.8-.2h0m2.5-.5h0m-.3-.4h0m.2 0h0m-1.5-.3h0m1.7-.5h0m-4.9 0h0m3.6-.2h0m-.9-.3h0m-3.3-.2h0m3.2-.1h0m1.2-.3h0m-4.2-.1h0m4-.3h0m-2.7-.2h0m-.4-.2h0m1.3 0h0m-2.4-.2h0m3.6-.1h0m-2.7-.3h0m-.1 0h0m-.9 0h0m1-.6h0m2.5-.1h0m-3.1-.2h0m1.9-.1h0m-.1-.3h0m1.7-.6h0m-2.5-.3h0m1.2 0h0m-2-.1h0m3.2-.4h0m-3.4-.2h0m-.3-1h0m1.9 0h0m2.9-.8h0m-1.6-.1h0m-.1-.8h0m-1.3-.3h0m-.9-.1h0m0-.5h0m6 9h0m-.4 0h0m-.6 .1h0m-.1 .4h0m1.8 .3h0m-1.6 .6h0m4.3 .5h0m-1.3 .6h0m-3.1 .1h0m.7 .2h0m2.2 .2h0m-2.9 0h0m.9 .3h0m.9 .3h0m.3 .3h0m-1 .3h0m.2 .1h0m0 .3h0m3.6 1h0m-1 .1h0m-.1 .4h0m-1.6 .1h0m-.1 .1h0m-1.3 .3h0m4.4 .2h0m-4.5 .5h0m4.3 0h0m-4 0h0m1.6 .4h0m3.1 .1h0m-3.7 0h0m3.3 .1h0m-2 0h0m-2.6 .5h0m4.9 .4h0m-5.1 0h0m2.3 0h0m-2.8 .7h0m-.2 .2h0m4.2 .1h0m-1.9 .1h0m2.6 .2h0m.7 .9h0m-3.9 .2h0m.8 .5h0m1.4 0h0m-3.7 .2h0m3.8 1.1h0m-.6 .3h0m-.8 .4h0m.8 .3h0m1.9 .3h0m-5.1 .1h0m.3 .1h0m-.3 0h0m2.2 .4h0m-.1 .4h0m-1.6 .3h0m-.4 .1h0m4.6 .1h0m-3.2 .5h0m2.7 .3h0m-.5 .1h0m-3.8 .1h0m5.8 .1h0m-.6 .1h0m-4.8 .5h0m5.4 .1h0m-3.4 1h0m.8 .1h0m-3 .1h0m-.2 .3h0m.9 .3h0m4 .2h0m-2.3 0h0m-1.4 .9h0m1.9 0h0m.7 .3h0m-2.3 .3h0m-.9 .1h0m4.2 .2h0m1 .1h0m-5.6 .6h0m3.5 .3h0m0 .1h0m-1.9 .2h0m2.3 .2h0m-2.2 .3h0m1.1 .8h0m2.6 .1h0m-3.8 .1h0m-.3 .2h0m.1 0h0m3.7 .5h0m-2.2 0h0m.3 .1h0m-1.7 1.8h0m-1.1 .1h0m4.2 .2h0m-3.1 .5h0m-1.4 1h0m3.8 .1h0m-1.1 0h0m-.2 .8h0m.5 .6h0m-2.9 .3h0m2.3 0h0m2 .2h0m-1.1 .1h0m-2.2 0h0m2 .2h0m1.5 0h0m-3.1 .4h0m-1.8 .2h0m4.1 .1h0m-1.2 .3h0m-.4 .1h0m3.3 .1h0m-3.3 .2h0m-1.6 .1h0m-.8 0h0m.6 .1h0m.3 1h0m4 0h0m-.3 .3h0m-3.9 .2h0m3.7 .2h0m-4.2 0h0m2.1 0h0m2.7 1h0m-2.6 .1h0m2 .7h0m-2.8 0h0m4 .9h0m-5.6 .4h0m5.4 .5h0m-3.7 .3h0m2.9 3.7h0m-.4 0h0m-1.8 1.3h0m1.8 .5h0m-3.1 .6h0m.6 .6h0m1.1 .5h0m-1.5 .1h0m3.8 .1h0m-3.8 .2h0m4.5 .1h0m-2.9 .2h0m2.3 .1h0m-3.4 .2h0m1.1 .2h0m1.1 .5h0m-1.4 .1h0m-2.4 .9h0m-.3 0h0m1.8 .2h0m1 .5h0m-2.5 .1h0m3.2 .4h0m-1.7 .1h0m.2 .2h0m.6 0h0m-1.1 .1h0m4 .4h0m.1 0h0m-.6 .6h0m-2.1 .3h0m-2.5 .2h0m3.4 .1h0m-3.1 .2h0m2.6 .2h0m1.9 .5h0m-4.8 1.4h0m2.3 0h0m1 .1h0m-3.5 .3h0m1 .2h0m3.9 .5h0m-2 .2h0m-.1 .1h0m.3 0h0m.9 .3h0m-1.7 0h0m-2.1 .6h0m.2 0h0m3 .2h0m.8 .3h0m.8 .2h0m-4.7 .1h0m5.1 .1h0m-5.3 .1h0m5.4 .7h0m.1 .3h0m-4.4 .3h0m4.3 .1h0m-5.3 0h0m1.2 .2h0m-.4 .4h0m.9 .2h0m2.9 .2h0m-1.5 .3h0m-1.6 0h0m2.4 .3h0m-3.5 0h0m3.2 0h0m-1.2 0h0m1.7 .6h0m.1 0h0m-2 .8h0m.1 .2h0m-.9 .1h0m2.1 .1h0m-2.1 0h0m1.1 .2h0m-1.8 .4h0m.6 .2h0m.4 .1h0m3.7 .5h0m-4.8 .3h0m4.4 0h0m.2 .2h0m-5.6 .4h0m1 .3h0m3 .1h0m-3.4 .2h0m1.5 .2h0m-1.6 0h0m2.6 .1h0m1.1 .1h0m3-2.5h0m-.9-.6h0m-.1-.4h0m.4 0h0m0-.1h0m.1 0h0m2.6-.7h0m-.2-.1h0m-2.6-.3h0m2.5-.1h0m-1.2-.3h0m1.1-.3h0m-2.5-.1h0m2.4-.5h0m-.1 0h0m2.2-.5h0m-.6-.3h0m0-.2h0m-1.8-.6h0m1.2-.4h0m-.3-.3h0m-1.9-.4h0m1.6-.1h0m.8-.3h0m-.4 0h0m-1.1-.8h0m.9-.1h0m-3.3-.1h0m2.1-.5h0m1.1-.3h0m-2.1-.3h0m.7-.1h0m-.5 0h0m-.5-.3h0m3.7-.5h0m-2.4-.3h0m-1.7-.1h0m1.5 0h0m1.4-.3h0m-1.5 0h0m2.1-.3h0m-.3-.3h0m-2.3-1h0m2.3-.1h0m.4-.2h0m1.7-.1h0m-.5 0h0m.6 0h0m-2.5-.1h0m-1.6-.5h0m2.1-.1h0m2 0h0m-3.9-.1h0m-.3-.1h0m1.7-.5h0m.5-.2h0m1.3-.6h0m-2-.4h0m-2.2 0h0m.6-.7h0m3.9 0h0m-5-.1h0m4.8-.2h0m-1-.3h0m.4-.3h0m1.3-.2h0m-1.7-.5h0m1.6 0h0m-5-.2h0m3.8-.2h0m-3-.2h0m.3-.1h0m4-.5h0m-5.1-.1h0m.8-.3h0m-1.4-.1h0m4.3-.3h0m.4-.1h0m.3-.1h0m.5-.1h0m-3.9-.2h0m2.7-.2h0m.5 0h0m-2.6-.1h0m-1.4-.2h0m1.2-.4h0m2.2-1.1h0m-2.2-.1h0m-2 0h0m.1-.1h0m.6-.3h0m1.7-.2h0m-1.7-.5h0m2.1-.2h0m-2.7-.2h0m3.4-.4h0m2.1-.5h0m-4.7-.2h0m.9-.4h0m1-.9h0m-2.4-.5h0m4.6-.3h0m-5.2-.1h0m3.7 0h0m1.5-.5h0m-.8 0h0m-4.3-.2h0m3.1-.4h0m-1.7-1.1h0m-.5-.1h0m4-.1h0m-4.4-.1h0m1.4-.7h0m1.6-.1h0m-3.3 0h0m2.4-.4h0m1.7-.1h0m-1.7-.2h0m.9 0h0m-2.4-.2h0m.3-.2h0m-1.1-.7h0m5.3-.2h0m-5.2-.3h0m3.1-.2h0m.7-.2h0m-.1-.2h0m-2.9-.9h0m-.1-.1h0m1.9 0h0m2.4-.1h0m-4.7-.2h0m-.7-.1h0m.8-.2h0m2.7 0h0m-3.3 0h0m.3-.2h0m3.7 0h0m-1.2-.1h0m-2-.2h0m3.8-.2h0m-3.4 0h0m3.1-.1h0m-4.2-.3h0m3.9-.7h0m.1-.1h0m-.4-.1h0m1-.4h0m-4-.7h0m4.8-.1h0m-3.5-.3h0m1.2 0h0m-1.6-.4h0m2.2 0h0m-1.5-.1h0m-1.9-.1h0m2.5 0h0m.5-.2h0m-.8-.5h0m.9-.4h0m-3.8 0h0m0-.3h0m2.3 0h0m-2.1-.2h0m3-.2h0m-.9 0h0m-1.8-.3h0m5.3 0h0m-2.8-.1h0m-.4-.1h0m.4-.4h0m-1.3-.1h0m3.3-.3h0m-2.1 0h0m2.9-.3h0m-.5-.1h0m-3.7-.1h0m-1.2-.3h0m.6-.1h0m2.8-.3h0m-3 0h0m4.5-.1h0m-4.7 0h0m3.1-.1h0m2.2-.1h0m-1.8-.1h0m-.1-.1h0m-2.2 0h0m0-.1h0m-1.6-.2h0m2.2 0h0m-1.3-.2h0m-.8-.6h0m2.1-.4h0m3.2-.4h0m0-.1h0m-2.7-.2h0m-.9-.1h0m.3-.2h0m2.2-.1h0m-.4-.9h0m1.5-.1h0m-2 0h0m.2-.4h0m0-.3h0m1.3-.2h0m-.9-.1h0m1.4-.6h0m-5.3-.1h0m.3 0h0m.1-.4h0m1.9-.7h0m1.4-.7h0m1 0h0m-3.7-.1h0m.8-.1h0m1.7-.1h0m-2.1-.1h0m-.6-.1h0m2.7-.1h0m-3.4-.1h0m5.5-.5h0m-3.6-.5h0m2.4-.4h0m-3.7-.2h0m1.8-.3h0m1.9 0h0m.4-.1h0m-3.7 0h0m1.7 0h0m1.4-.5h0m-2.4-.5h0m1-.1h0m-1.2-1.2h0m-.3-.4h0m.8-.1h0m2.7-.3h0m-3.2-.3h0m1.1-.7h0m1.3-.2h0m-1.5 0h0m.4-.4h0m-2-.1h0m3.6-.5h0m-2.4-.1h0m-.4-.2h0m-1.1-.1h0m1.7-.6h0m-.4-.3h0m-2.2-.4h0m3.7-.5h0m-3.7-.7h0m6.3 3.7h0m-.2 .8h0m.3 .1h0m1.9 2.6h0m.6 .8h0m-2.4 .7h0m4.6 .6h0m.6 1.1h0m-2.8 .3h0m-2.5 .1h0m3.1 .1h0m-.4 .1h0m-1.8 0h0m3.5 .2h0m-3.4 0h0m-1.2 .1h0m.3 .2h0m-.2 .3h0m2.4 .4h0m.1 0h0m-1.5 .3h0m.5 0h0m2.4 0h0m-1.8 .5h0m1.2 .2h0m1.3 0h0m-2.2 0h0m1.2 .1h0m-.8 .2h0m2.6 .1h0m-4.3 .1h0m2.9 .1h0m-1.6 0h0m2.5 .4h0m-2.1 .6h0m-1.9 .2h0m1.2 .1h0m2.7 .3h0m-3.6 0h0m3.4 .1h0m-3.3 .2h0m3.6 .1h0m-2.4 .5h0m-2.4 0h0m2 .4h0m1.1 .1h0m-1.3 .2h0m-1.9 .2h0m.2 .1h0m4.4 .1h0m0 .4h0m-2.6 .2h0m.3 .1h0m0 .1h0m-1.4 .4h0m2.7 .1h0m-2.6 0h0m-.3 .2h0m-.2 0h0m4.6 .3h0m.4 .1h0m-5.1 .3h0m.9 .3h0m3.9 .1h0m-4.2 .2h0m.1 .2h0m3.5 .3h0m-2.4 .2h0m2.3 .1h0m-1.6 .2h0m-1.9 .2h0m2.7 .2h0m1.6 .2h0m-4.5 0h0m1.1 .1h0m-1.7 .2h0m.1 .1h0m5 .3h0m-3 0h0m1.5 .7h0m-.6 .1h0m-3.5 .6h0m5.8 .4h0m-1.3 .1h0m-2.3 1h0m2.5 .5h0m-3.5 0h0m.8 .2h0m-2.1 0h0m3.7 .1h0m2.1 0h0m-4.8 0h0m1.3 .1h0m.2 .1h0m3.4 0h0m-4.8 .2h0m-.4 0h0m1.4 .1h0m.5 .2h0m-1.8 .3h0m1.1 .1h0m-1.8 1h0m4.2 .3h0m-1.4 .1h0m2.1 .4h0m-1.4 .2h0m.4 .4h0m-1 .1h0m-1.4 .1h0m4.1 .2h0m-4.2 .3h0m1 .1h0m-2.2 .2h0m2.2 .3h0m0 .1h0m-2.1 .3h0m1.8 .5h0m2.1 .3h0m-3.1 0h0m4.1 0h0m-.5 .5h0m-1.5 .3h0m-1 0h0m2.7 .3h0m-1.4 0h0m-2 .1h0m3.7 0h0m-4.8 .1h0m1.3 .6h0m-1.1 .4h0m2.4 .4h0m-1.2 .4h0m-.6 0h0m-.4 .1h0m-.2 .1h0m3.6 .1h0m-1.2 0h0m-1 .1h0m2.8 .1h0m-3.9 0h0m3.9 0h0m-.4 .1h0m1.2 .1h0m-3.1 0h0m.1 .7h0m.8 .8h0m-2.7 .3h0m2.2 0h0m.4 .2h0m-.2 .1h0m-1.4 0h0m.1 .1h0m0 .1h0m2.5 .6h0m-.9 0h0m-1.5 .1h0m1.9 .1h0m1.1 .2h0m-.2 .1h0m.8 .5h0m-4.8 .1h0m1.6 .4h0m1.9 .3h0m-2.1 0h0m.3 .7h0m-2.2 0h0m4.5 .2h0m-2.5 1.1h0m3.6 .1h0m-2.2 .1h0m-1.1 0h0m1.8 .3h0m-3.8 .1h0m2.4 .1h0m-.9 .3h0m-2.1 .1h0m1.4 0h0m-.5 .2h0m1.9 .1h0m-2.2 .2h0m0 0h0m-.1 .4h0m1.6 .1h0m2.4 .5h0m.1 .1h0m-.9 1.2h0m-1 .5h0m-1.8 .8h0m1.5 .5h0m-2.3 .8h0m1.2 .4h0m-1.2 .2h0m.2 1h0m1.4 0h0m-1.7 .3h0m1.4 1.5h0m-.7 .2h0m1 .7h0m-1.6 0h0m.8 .5h0m-.4 1.2h0m6.1-17.7h0m-.2-5.1h0m-.3-.9h0m.6 0h0m1.2-2.3h0m0-.1h0m-.7-.7h0m1.2-.2h0m-1.7-.1h0m2.1-.4h0m-2.6 0h0m3.3-.9h0m-2-.1h0m.1 0h0m.7-.4h0m-1.3-.2h0m.2-.9h0m-.7-.4h0m2-.2h0m-1.9-.1h0m3.1-.2h0m-2.7-1.2h0m2.9-.1h0m-.4-.2h0m-1.7-.1h0m2.1-.1h0m-3.6-.1h0m1.8-.9h0m1-.1h0m1.3-.7h0m-3-.1h0m-.1-.2h0m.6 0h0m1.4-.1h0m-2.5 0h0m-.4-.7h0m.6-.4h0m-.8-.6h0m2.3-.1h0m-2.3-.3h0m.3-.8h0m2.5-.8h0m-2.4-.7h0m-.6 0h0m.4-.1h0m2.1-.2h0m-1-.1h0m-.2-.6h0m-.9-.7h0" stroke="#a77d65" stroke-width="2.40" stroke-linecap="round" fill="none"/><path d="M545.3 141.8h0m14.3 70.7h0m4.1-6.6h0m-.5-7.5h0m4.7-31.2h0m.2 21.1h0m.5 3.1h0m-.9 7.9h0m-2.2 16.3h0m5.8-14.5h0m10.2 12.8h0m-3.3 2.2h0" stroke="#a77d65" stroke-width="2.40" stroke-linecap="round" fill="none"/><path d="M575.8 211.9h0m-2.3-1.9h0m2-2.5h0m-3.8-.7h0m-1-1.9h0m4.4-.2h0m-1.4-.7h0m3.1 .5h0m2.9 1.6h0m-3.3 1.1h0m1.3 2.8h0m.1 .8h0m.5 .2h0m-.6 .2h0m.8 .8h0m1.2 .2h0" stroke="#a77d65" stroke-width="2.40" stroke-linecap="round" fill="none"/><path d="M570.3 211h0m1.6 0h0m3.8-1.4h0m-2.5-6.1h0m6.6 3.4h0m-.7 .7h0m-2.1 4.7h0m-.7 1.5h0" stroke="#069bb9" stroke-width="2.40" stroke-linecap="round" fill="none"/><path d="M556 198.2h0m1.5 1.3h0m-.8 1.1h0m-.3 .2h0m1.2 .2h0m-.1 .7h0m.6-2.1h0m.7-1.2h0" stroke="#a77d65" stroke-width="2.40" stroke-linecap="round" fill="none"/><path d="M581.5 203.7h0m1.6-8.1h0m1.1-4.9h0m1.1-4.8h0" stroke="#069bb9" stroke-width="2.40" stroke-linecap="round" fill="none"/><rect x="493.1" y="129.3" width="135.7" height="101.2" fill="none" stroke="#747474" stroke-width="0.55"/><path d="M508.5 230.5v1.2M524.9 230.5v1.2M541.3 230.5v1.2M557.7 230.5v1.2M574.1 230.5v1.2M590.5 230.5v1.2M606.9 230.5v1.2M623.3 230.5v1.2M493.1 142.2h-1.2M493.1 162.9h-1.2M493.1 183.6h-1.2M493.1 204.3h-1.2M493.1 225.0h-1.2" stroke="#555" stroke-width="0.4" fill="none"/><g font-family="'Liberation Serif','Times New Roman',serif" font-size="4.9" fill="#000" font-weight="normal" stroke="#000" stroke-width="0.12"><text x="508.5" y="236.0" text-anchor="middle">−60</text><text x="524.9" y="236.0" text-anchor="middle">−40</text><text x="541.3" y="236.0" text-anchor="middle">−20</text><text x="557.7" y="236.0" text-anchor="middle">0</text><text x="574.1" y="236.0" text-anchor="middle">20</text><text x="590.5" y="236.0" text-anchor="middle">40</text><text x="606.9" y="236.0" text-anchor="middle">60</text><text x="623.3" y="236.0" text-anchor="middle">80</text><text x="491.2" y="143.8" text-anchor="end">40</text><text x="491.2" y="164.5" text-anchor="end">20</text><text x="491.2" y="185.2" text-anchor="end">0</text><text x="491.2" y="205.9" text-anchor="end">−20</text><text x="491.2" y="226.6" text-anchor="end">−40</text></g><text x="561.4" y="248.1" text-anchor="middle" font-family="'Liberation Serif','Times New Roman',serif" font-size="12.2" fill="#111">LLiM(1B)</text><rect x="30.0" y="258.7" width="248.5" height="184.9" fill="#fff"/><path d="M58.5 258.7V443.6M88.5 258.7V443.6M118.5 258.7V443.6M148.5 258.7V443.6M178.5 258.7V443.6M208.5 258.7V443.6M238.5 258.7V443.6M268.5 258.7V443.6M30.0 281.2H278.5M30.0 319.5H278.5M30.0 357.8H278.5M30.0 396.1H278.5M30.0 434.4H278.5" stroke="#b9b9b9" stroke-width="0.60" stroke-dasharray="0.75 0.45" fill="none"/><path d="M41.4 386.2h0m.6 4h0m-.4 2.3h0m6.1 7h0m.1-1.9h0m-2.8-2.2h0m-1.7-1.4h0m1.5-.4h0m-.1-.1h0m-2.5-.5h0m2.5-.2h0m-.5-1.6h0m2.3-1.4h0m1.1-.1h0m-1.7-1h0m-3.3-.7h0m5.2 0h0m-3.3-1.6h0m-1.7-.4h0m2.7-.9h0m-2.1-.7h0m.6-.6h0m2.8-.8h0m1-.2h0m-2.9-.4h0m1.1-2.6h0m.5-1.1h0m.5-1.8h0m.5-.9h0m-2.9-.2h0m2.2-1.9h0m6.5-9.9h0m-2.2 1.5h0m1.6 1.2h0m.3 .5h0m-2.6 0h0m.6 1.3h0m0 1h0m-.3 .3h0m.4 3.9h0m-2.5 1.5h0m-.1 1h0m.6 1.3h0m-.9 1h0m.8 0h0m2.9 .7h0m1.6 2.4h0m-1.6 0h0m-1.1 .7h0m.3 1.6h0m-2.1 .3h0m-.5 1h0m0 0h0m-.4 1.3h0m.2 .1h0m3.6 1.8h0m-3.8 .1h0m1.3 1.7h0m-.6 .1h0m4.4 .6h0m-3.7 .2h0m0 .7h0m4.1 .1h0m-3.3 4.3h0m2 .1h0m-1 .2h0m1.6 3h0m-2.2 1.3h0m2.9 .4h0m-1.4 1.2h0m.9 1.1h0m-.6 1.1h0m.4 .1h0m.1 1.1h0m.2 2.3h0m6.1 8.8h0m0-3.9h0m-.2-3.6h0m-.2 0h0m-2.3-.8h0m1.2-1.3h0m1.9-.7h0m.2-1.7h0m-4.4-.3h0m1.2 0h0m-2.3-.6h0m1.6 0h0m0-.9h0m.8-.2h0m2.7 0h0m-4.2-1.3h0m4.1-1h0m-1.2-.5h0m-3.9-.3h0m2 0h0m-.8-.3h0m.6-.9h0m3.4-.7h0m-4.2-.1h0m3.6 0h0m.3-.1h0m.5-3h0m-3.2-.9h0m-1.7-.9h0m-.4-.2h0m1.3-.4h0m.2-.4h0m-1.8-.4h0m5.1-.7h0m-1.5-2.2h0m0-.8h0m-1.4-.1h0m-1.2-.1h0m2.4-.7h0m1.8 0h0m-2-.6h0m-3 0h0m-.2-1h0m3.3-.1h0m-2-1h0m.3-.6h0m.1-.1h0m4-.2h0m-4.2-.2h0m3.8-.2h0m-.3-4.2h0m-3.3-.8h0m3.7-.1h0m-.4-.4h0m-1.7-.6h0m2.3-.7h0m-1.9 0h0m-2.7-.1h0m4.7-.3h0m-.7-1.5h0m.4-.6h0m-5-.1h0m5.1-.1h0m-2.6 0h0m-1.9-.3h0m-.8-.1h0m2.8-2.3h0m-.8-.9h0m2.3-.1h0m.5-.1h0m-.5-.4h0m-1.9-1.5h0m-2.1-1.1h0m-.1-.1h0m2.6-.6h0m.1-.9h0m2.5-1.5h0m-.6-.2h0m-2.1-.5h0m2.4-29.6h0m.1-2.2h0m-.4-.7h0m-.7-5.9h0m-.8-3.4h0m1.6-.1h0m-1.4-.9h0m1.3-3h0m.9-1h0m-.2-2.9h0m-1.4-1.2h0m-.5-3.1h0m.7-.4h0m1.2-2.6h0m-2.6-.8h0m-.3-.9h0m2.3-6.6h0m.4-7h0m5.9-6.5h0m-.1 0h0m-2.8 .1h0m1.7 2.6h0m.5 .5h0m-2 .4h0m1.7 .1h0m-.7 .6h0m-1.7 1.9h0m.8 .8h0m2.8 1h0m-2.8 .5h0m-1.6 .6h0m3.8 .3h0m-4.8 1.5h0m.7 1.6h0m.5 .4h0m3.1 .7h0m.2 .1h0m-4 1.5h0m4.7 1.6h0m.4 0h0m-5.7 .1h0m1.3 1.2h0m4.3 .6h0m-1.4 .2h0m-1.4 .7h0m.7 1.3h0m2.2 1h0m-1.8 .2h0m1.7 .2h0m-4.1 1.5h0m.7 .2h0m.9 .3h0m-1.8 2.2h0m1.6 .2h0m-2.2 1.2h0m3.3 .5h0m.2 .4h0m1.3 .1h0m-3.1 1.1h0m2.9 .4h0m-1 1.2h0m-2.4 .8h0m0 .5h0m-1.9 .4h0m3 .4h0m-.8 .7h0m-.3 2.3h0m1.9 .8h0m-2.4 .5h0m-.8 1.9h0m.9 .9h0m1.4 3.1h0m.7 1.3h0m-.9 1.9h0m-1.2 1.8h0m3.6 1.5h0m-4.2 1.5h0m4.6 1.8h0m-2.4 4.8h0m1.9 .2h0m-3.3 1.1h0m.5 .4h0m3 1.9h0m0 .9h0m-.7 0h0m.4 .5h0m.8 1.8h0m-3.8 13.3h0m.3 1.6h0m1 0h0m-2.8 .4h0m4.1 1.2h0m-2.5 3.3h0m2.5 .3h0m-.3 .2h0m.5 1.1h0m-2.5 0h0m3.2 .4h0m0 2.2h0m-1.3 1.3h0m-.1 .5h0m-3.5 .4h0m-.6 1.2h0m2.6 .5h0m-.2 .1h0m-1.2 .4h0m-1.1 1h0m5.8 .9h0m-2.3 .5h0m2.1 1.6h0m-3.7 2.8h0m3.5 .1h0m-4.5 1h0m.1 .5h0m.8 .7h0m0 .3h0m-.5 .2h0m2.4 .3h0m-.3 .5h0m.6 .6h0m-.7 .7h0m2.4 .1h0m-.7 1.5h0m-2.3 1.2h0m2.9 2.3h0m-3.3 1.9h0m-.7 1.3h0m.4 0h0m-1.1 1.7h0m-.5 .4h0m3.2 1h0m-2.9 0h0m1.3 1.8h0m3.3 .4h0m-3.2 1.4h0m3.4 .5h0m-4.1 .2h0m-.3 .2h0m-.5 .8h0m3.8 .4h0m0 1.8h0m-.2 3.9h0m-2.1 .7h0m-.8 .2h0m-.4 1.4h0m4.2 0h0m-.2 .3h0m-1 .5h0m1.3 .8h0m-1.5 .9h0m.6 1.3h0m2.6-1.7h0m1.7-2.6h0m2.9-.2h0m-1-.2h0m-.9-.7h0m.8-.6h0m.3-.2h0m-4.4-.5h0m3.7-.2h0m-4-1.1h0m3.2-1.8h0m2-.1h0m-.3-.8h0m.6-1.5h0m-2.7-1.2h0m.8-.4h0m-3.6-.4h0m.2-.8h0m4.1-2.1h0m-4.1-.3h0m.2-1.3h0m2.7-.2h0m2.1-.8h0m-4.9-.5h0m-.4-1.3h0m3.2-.2h0m2.2-1.3h0m-2.5-.5h0m-2.9-.5h0m5.8-.1h0m-5.8-.3h0m.1-1h0m.9-.1h0m2.1-.7h0m1.5-.1h0m-3-2.5h0m.7-.5h0m2.4-.3h0m-.1-1.4h0m-.5-.1h0m1-.7h0m-2.4 0h0m1.6-.6h0m-.5-1.9h0m1-1.4h0m-1.9-2.7h0m-2.5-.7h0m-.3-.9h0m1.4-.8h0m1.6-.4h0m-1.8-1.3h0m3-3.6h0m-1.2-.8h0m2.3-.6h0m-4.8-.7h0m2.8-.2h0m-1.5-.7h0m-1.1-.6h0m2.3-2.5h0m1.5-.5h0m-4.1-1.5h0m4-.2h0m-3.1-1.1h0m.8-1.4h0m2.2-5.3h0m-1.5-.3h0m1.1-1h0m-.3-3.4h0m1.6-3h0m-1.1-.1h0m1.2-1.2h0m-3.1-.8h0m1.9-1.5h0m.4-1.2h0m-2.7-3.3h0m-.6-.4h0m3-.3h0m-3.7-.8h0m4.2-.5h0m-3.1-.4h0m-.7-1.5h0m.2-.1h0m.4-.7h0m3.6-.4h0m-1.8-.9h0m.5-.2h0m-3.4-.6h0m1.9-3.2h0m-.6-.2h0m2.6-.1h0m-.3-1.2h0m-.4-1h0m-1.8-.7h0m.9-.1h0m-.5-1.1h0m1.6-1.3h0m-2.5-.8h0m3.8-.4h0m.5-1.4h0m-2.5-.2h0m2.2-.7h0m-2.3-.3h0m2.7-.1h0m-.9-1.9h0m-.2-.1h0m-2.3-.2h0m-1-2h0m-1-1.5h0m.8-.1h0m2.2-.3h0m-2.1-.5h0m4-.7h0m.3-.6h0m-1.5-.3h0m-1.7-.2h0m3.3-.1h0m-5.5 0h0m.9-1.4h0m1.5-1.2h0m1.7-.5h0m1.5-.3h0m-4.9-1.7h0m2.6-.1h0m.5-1h0m-3.2-.1h0m.1-.2h0m4.9-.4h0m-5.4-.7h0m1.8-.9h0m.7-.4h0m2.6-1.1h0m.4-2.5h0m-1.2 0h0m-.7-1h0m-2-2h0m.5-.8h0m-.4-.4h0m1.9-1.4h0m-1.8-2h0m-1.3-.7h0m3.1-.8h0m-.9-1.3h0m-.5-.2h0m-2.2-.1h0m1.8-.2h0m2.5 0h0m-1.4 0h0m-1.7-1.7h0m3.5-.7h0m.6 0h0m-2.1-.7h0m.9-1.2h0m-4.5-.9h0m.5-2.8h0m2.8-.3h0m.5-.1h0m-2.7-.2h0m2.9-2.2h0m5.9-3h0m.4 .5h0m.7 .5h0m-1.5 2.2h0m-3.6 .1h0m4.9 2.3h0m.6 1.7h0m.4 .1h0m-3.3 0h0m3.3 .3h0m.1 .5h0m-5.4 .9h0m5.4 .7h0m-4.1 0h0m1 1.2h0m1.3 3.1h0m-1.4 .2h0m-1.2 1.2h0m1.2 1.3h0m-2.6 .1h0m1.1 .9h0m4.1 .1h0m-1.3 .2h0m.3 .2h0m-.2 1.4h0m-2.2 .3h0m2 .7h0m.4 1.4h0m-4.4 .6h0m1.4 2.9h0m2.5 .9h0m-2.7 .4h0m3 0h0m-1.5 .4h0m-.2 .5h0m-2.3 .7h0m.8 2.2h0m-.5 .3h0m.6 1.7h0m3.7 .6h0m-1.3 .4h0m-1.6 .3h0m2.2 2.4h0m-.6 .3h0m-2 .2h0m-.1 1h0m1.6 .5h0m-2.3 .8h0m2.7 1.7h0m-1.2 .6h0m2.9 1.2h0m.1 .7h0m-3.7 2.3h0m4.4 .9h0m-3.5 .5h0m3.5 .7h0m-5.4 1h0m-.4 .7h0m1.7 .8h0m3.9 1.1h0m-3.2 .6h0m2.2 .3h0m.1 0h0m.5 2.4h0m-1.7 1.1h0m-2.3 0h0m2.8 .3h0m-4.1 .9h0m5.5 .7h0m-4.2 1.2h0m2 .9h0m2.5 .9h0m-2.6 1.5h0m2.5 2.2h0m-5.3 .2h0m.6 .2h0m2.9 4.6h0m-.4 2.2h0m-2.9 1.1h0m2.6 .3h0m.8 .5h0m-2.8 1.9h0m1.8 .6h0m-2.2 .6h0m.5 .3h0m4.7 1h0m-5.8 1.1h0m5.4 .4h0m-.4 1h0m-4.6 1.5h0m3.1 7.4h0m.2 2h0m.9 2.9h0m.4 3.4h0m-2.7 1.1h0m2.2 1h0m.7 .8h0m-3.9 .3h0m2 .1h0m-2 1.8h0m-.2 2.2h0m4 .3h0m-3.9 2.3h0m3.8 1.1h0m-4 .1h0m1.9 4h0m1.1 .3h0m-2.9 2.2h0m3.7 0h0m-4.1 0h0m4.8 .1h0m-3.9 1.2h0m2.6 .2h0m.4 1.9h0m-3.1 .1h0m.4 1.9h0m2.2 .1h0m-3.5 1.6h0m1.1 .2h0m-1.4 .6h0m2.6 1.5h0m1.2 1.1h0m-1.4 1.3h0m-2.4 5.6h0m.3 0h0m2.2 .2h0m2.7 3.4h0m-2.6 .9h0m.1 1h0m0 1.7h0m6.9-2.2h0m-3.6-.4h0m.4-1.8h0m1.7-.1h0m0-.3h0m.3-1.7h0m1.2-.3h0m-.8-.2h0m-.3-.1h0m-2.6-.2h0m3.9-.1h0m-3.9-2.6h0m2.6-.5h0m.5-.9h0m-.3-1h0m.9 0h0m.4-.9h0m.8-.9h0m-1.8-.4h0m-.3-2.5h0m.5-.1h0m-2.4-1.1h0m3.9-1.3h0m-.9-1.3h0m.9-.5h0m-.9 0h0m-2.7-1.8h0m1.3-.5h0m1.2-1.4h0m-.1-.5h0m-1.3-1.4h0m2.9-.6h0m-2.2-.7h0m.8-1h0m.4-.3h0m-2.1-.2h0m3.2-1.3h0m-4.8-.6h0m1-.4h0m-.8-1.6h0m1.5-.4h0m1.7-.3h0m-.4-1.6h0m-3.9-.3h0m1.5-3.5h0m.8-.2h0m-2-1.3h0m4.5-1.9h0m.6-.6h0m-3.8-.4h0m1.7-.4h0m-2.2-1.1h0m.6-.4h0m-1.2-.3h0m5.5-2.4h0m-5.9-.6h0m2.5-.2h0m-2.3-1.4h0m-.3-.5h0m4.6-1h0m-.1-1.7h0m-1.6-1.4h0m3-.2h0m-3.1 0h0m.6-.7h0m2.4-1.7h0m-.9-.7h0m.9-.5h0m-4.5-1.4h0m-.4-.4h0m-.8-.4h0m1.4-.5h0m.7-.3h0m3.4-.8h0m-4.7-.2h0m.4 0h0m-.5-.9h0m3.1-.6h0m-2.4-1.4h0m.9-1.1h0m-.6-.3h0m.7 0h0m1-1.2h0m-2.7-2.2h0m1.2-1.5h0m3.9 0h0m-5.5-.3h0m.5-.9h0m-.4-.4h0m.9-.8h0m-.9-.6h0m3.6-.5h0m-2.2-1.8h0m-1.7-.1h0m4.4 0h0m-3.2-.3h0m-.5-.7h0m.2-.9h0m3.4-.8h0m-2.7-.3h0m-.8-.3h0m3.7-2.8h0m.4-.2h0m-2.2-.9h0m1.6 0h0m-1.9-.9h0m2.7-1.9h0m-3.3-.4h0m2.1-.4h0m-1.6-.2h0m2.6-.3h0m-3.6 0h0m-1.4-.4h0m2.7-.2h0m-2.8-.5h0m2.9-2h0m2.4-.9h0m-.1-.1h0m.6-.7h0m.2-.8h0m-5-.4h0m.7-.4h0m-.6-1.2h0m4.3-.2h0m-3.1-.1h0m.4-1.7h0m.9-.5h0m1.4-1.2h0m-1.2-.8h0m-1.7-.3h0m1-.5h0m.6-.2h0m-1.7-1.1h0m1-.1h0m1.2-1.4h0m-1.6-.9h0m2-.6h0m-3.8-.3h0m-.3-1.8h0m3-2h0m-3.5-3.2h0m4.6-1.5h0m-1-.4h0m1.7-.5h0m-2.3-1h0m-1.5-.7h0m2-2.3h0m-1.4-.8h0m-1.9-.1h0m5.3-1.1h0m-3.4-.1h0m3.4-.7h0m-.4-.9h0m-3.4-.2h0m3.8-1h0m-3.2-.3h0m3.3-4h0m-4.9-.6h0m2.3-.3h0m.3-.1h0m.9-.1h0m-3.3-1.2h0m-.5-.6h0m0-.8h0m2-.2h0m-2.2-2.6h0m4.8-.8h0m-.6-.4h0m-3-1.7h0m2.6-2h0m7-1h0m-2.2 1.4h0m1.6 .1h0m-3.8 2.9h0m-.3 1.6h0m.7 .3h0m2.7 .1h0m.1 .3h0m-2.7 1.3h0m-.4 1.7h0m.2 2.5h0m3.1 .7h0m.9 .7h0m.3 .4h0m-1.9 .7h0m.8 .1h0m-1.3 1h0m-2.4 1.3h0m1.6 .7h0m-.6 1.4h0m-.1 1.4h0m-.5 .3h0m3 .4h0m2 .1h0m.1 .7h0m-3.4 2.3h0m3.1 2h0m-.1 .6h0m-3.4 1.9h0m3.4 .4h0m-.4 1.1h0m-1.9 .2h0m.6 3.2h0m.3 1.8h0m-1 .9h0m2.1 .2h0m-3.5 .5h0m3.3 1.1h0m-3.8 0h0m.1 3.7h0m.3 .2h0m-1.3 .1h0m3.6 .7h0m-.9 .2h0m-1 1.6h0m-1.2 .8h0m-.4 .3h0m4.7 1.2h0m-.7 .7h0m-3.7 .4h0m.9 .3h0m3.7 .1h0m-2 .4h0m1.7 .2h0m-3.9 2.7h0m.8 .3h0m1.8 .3h0m-3 .7h0m1 .2h0m3.7 .6h0m-1.1 1.2h0m-.4 .3h0m-2.2 1h0m-1.5 .1h0m.7 .9h0m2.1 2.4h0m.4 1.1h0m0 0h0m-.2 1h0m2.3 .5h0m-2.9 .3h0m1.2 .2h0m-.7 .4h0m-2.4 .4h0m1.8 1.3h0m-.4 0h0m2.7 .9h0m-3.7 .4h0m3 1h0m.1 .7h0m1.5 1.8h0m-3 3.1h0m-1.8 .2h0m4.5 1.5h0m-2.1 1h0m-1.8 .6h0m.1 2.3h0m-.1 .6h0m.4 2.3h0m.9 .5h0m2.9 .6h0m-4.7 .1h0m3.4 1.2h0m1 1.1h0m-4.5 2.8h0m3.7 1.4h0m-2.9 .1h0m-.2 .4h0m2.1 1.2h0m-.2 .2h0m1.3 .4h0m-1 .8h0m-1.2 .7h0m1.9 .1h0m-.8 1h0m-2.7 .4h0m4.7 .5h0m-2 1.6h0m-.6 0h0m-2.1 .4h0m-.9 .2h0m.1 .6h0m.1 .3h0m-.1 1h0m.2 1.9h0m1.2 1h0m2.5 0h0m0 .7h0m-3.6 2.3h0m4.8 .5h0m-1.2 1.6h0m-.4 .2h0m1.7 .2h0m-3.4 .8h0m3.4 0h0m-3.6 .8h0m3.2 .4h0m.1 2.3h0m.6 .1h0m-4.1 .8h0m0 .9h0m2.4 .3h0m.9 .2h0m-1.1 .9h0m1.8 .2h0m-1.4 .3h0m-1.4 .3h0m1 .3h0m-3.2 .8h0m-.2 .4h0m.9 .5h0m2.6 1.5h0m-2.6 .1h0m1.3 1.4h0m3.4 .4h0m-5 .1h0m2.4 2.4h0m2.1 1h0m-1.2 .6h0m1 .9h0m-3.8 .1h0m-1.3 .2h0m5.4 .5h0m-1.4 .1h0m-.2 .4h0m.1 .3h0m.4 1.5h0m-1.1 1.3h0m.7 .5h0m-.7 .6h0m-.2 1.4h0m2.2 .7h0m-4.5 .9h0m-.6 .4h0m.2 .3h0m1.6 1.2h0m1.5 .2h0m1 2h0m-.3 .1h0m6-1.8h0m1.6-1.2h0m-.8-.3h0m-3.1-.5h0m0-.6h0m1.4-.7h0m-.9-1h0m-2-.5h0m3.7-2.3h0m-3.3-2.9h0m3.8-1h0m.5-2.4h0m.1-.4h0m.4-1.1h0m-3.4-1.8h0m-1.6-.3h0m4.7-2.5h0m-.7-.1h0m-.2-.2h0m-3.2-1h0m.6-.9h0m2.6-.8h0m1.2-.2h0m-2.4-.3h0m1.4-.5h0m-.4-1.6h0m.4-.6h0m-.6-1.1h0m-3.6-.3h0m3.9-2h0m-.7-.6h0m-1.6-.2h0m-1.2-.6h0m4.5-.4h0m-4.2-1.9h0m.6-.4h0m1.9-.2h0m-1.2-.3h0m-2.4-1h0m2.1-1h0m-2-.8h0m1.1-.3h0m4.3-.5h0m-3.5-.4h0m.1-2.7h0m2.6-1.6h0m-1.7 0h0m1.7-.2h0m-4.1-.1h0m2.2-1h0m1.3-.5h0m-2.9-.7h0m3.7-2.1h0m-2.3-2.1h0m3-2.7h0m.3-1.5h0m-2-.3h0m-3.3-.8h0m5.3-1.5h0m-.4-.1h0m.4-.6h0m-4.7-.5h0m-.5-.9h0m2.4-.2h0m2.8-.1h0m-5.5-9.6h0m-.1-1h0m2.2-1.3h0m2.9 0h0m.2-.6h0m-3.7-.3h0m.5-1h0m2.7 0h0m-1.5 0h0m-3.5-.2h0m2.7-.8h0m-.5-.3h0m.2-.6h0m.3-1.8h0m-.4-.4h0m1.1-1.4h0m.5-.9h0m-.6-.1h0m-1.7-.8h0m-1.1-.1h0m3.4-.1h0m-2.1-2.3h0m-1.2-.6h0m.2-.6h0m-.6 0h0m1.2-.4h0m.4-.4h0m-1.7-.5h0m1.8-.8h0m1.2-1.4h0m-2.4-1h0m2.5-.5h0m-2.8-.1h0m1.5-1.1h0m1.1-.1h0m1.1-1.3h0m1 0h0m-.7-1h0m-.3-.2h0m1.5 0h0m-2.4-.2h0m-3-.1h0m5.7-.2h0m-2.4-.8h0m-1.9-.3h0m2.3 0h0m-.4-.2h0m1-1.7h0m-.5-3.6h0m-2.9-.6h0m2.3-1h0m.8-.9h0m-3-1h0m-1.1-.2h0m0-.1h0m-.1-.3h0m2.6 0h0m2.9-.8h0m-4.9-.6h0m2.4-.5h0m1.5-.4h0m-2.4-.4h0m3.1-1.8h0m-4.2-.9h0m-.8-.1h0m3.5-.1h0m.9-1.8h0m-.5-2.4h0m.9-2.4h0m-2-.2h0m1.7 0h0m.8-1.4h0m-3.6-3.1h0m-1.1-.9h0m1.1-.4h0m-1.8-2h0m1.8-.3h0m1.4 0h0m1.1-1.4h0m1.4-.4h0m-1.7-2.5h0m-2-.5h0m3.4-.1h0m-1-.1h0m.2-2.3h0m-1.9-.9h0m-.7-.2h0m2.6-.3h0m.3-.3h0m-.6-1h0m-2.3-.2h0m1.3-.9h0m1.3-2.3h0m-2.4-1.9h0m9.5-2.3h0m-4 0h0m1 .4h0m3.1 .1h0m-2 1h0m-.9 .6h0m-1.1 0h0m-1.3 .7h0m2.7 1.1h0m-3.3 .3h0m1.9 1.5h0m2.1 .4h0m.7 .6h0m-2.4 .7h0m-2.2 .3h0m.1 .1h0m.4 .6h0m.6 .8h0m-1 .7h0m.8 2.2h0m.9 .4h0m1.8 .6h0m-3.5 .2h0m2.6 .4h0m.9 .3h0m.3 1h0m1.9 .7h0m-2.1 0h0m-.9 .9h0m1.8 .5h0m-.9 .9h0m-.8 .2h0m-1.4 2.4h0m-1.2 1.7h0m4.7 1.9h0m-.7 2.4h0m-2.1 .1h0m-.7 1.5h0m1.7 .2h0m.7 .7h0m-3.5 .2h0m4.4 .1h0m-2.4 .1h0m1 3.2h0m-.9 .9h0m.8 .8h0m2 .7h0m-4.7 .7h0m1.8 .3h0m-1.2 1.2h0m4.3 1.1h0m-4.2 2.1h0m1.3 .3h0m1.4 .9h0m-.9 .1h0m-1.9 .3h0m2.7 .3h0m.7 .8h0m-2.6 .5h0m.1 1.4h0m-.1 .4h0m-.1 1.2h0m-.3 1.3h0m2.6 .1h0m-4.3 .6h0m3.8 .4h0m-1.5 .5h0m2.7 1.9h0m.3 .3h0m-1.9 .2h0m-1.8 2.9h0m3.6 .9h0m-2.7 2.2h0m.5 .1h0m1 .9h0m.2 .2h0m-.2 .5h0m.9 .4h0m-3.4 .8h0m-.1 1.7h0m1.5 .2h0m-.1 1h0m-1.1 2.6h0m4 .4h0m-2.6 .7h0m-3.1 .8h0m3.7 .6h0m-3.3 .3h0m1.2 12.8h0m-1.6 6.3h0m4.5 .3h0m.1 .2h0m-.8 2h0m.8 1.9h0m-2.6 .6h0m3.3 .9h0m-2.4 0h0m-1.8 .6h0m1.7 .2h0m1.1 .7h0m-1.9 0h0m.1 7h0m-.9 1h0m.3 .8h0m.7 1h0m-1.4 .4h0m.3 .2h0m4.1 .3h0m-4.1 .8h0m.5 1.2h0m-1.2 .7h0m-.3 1.6h0m2.2 .4h0m-2.2 .1h0m.4 1.7h0m3.7 2h0m-1.8 .5h0m2.1 .1h0m1.1 0h0m-5 4h0m-.6 1.1h0m3.4 .2h0m-2.3 1.2h0m0 0h0m2.4 2.5h0m-1.8 1.2h0m-1 .3h0m-.1 1h0m3.1 .9h0m-3 .4h0m5.1 2.8h0m-3.5 1.6h0m2.3 .3h0m-.4 .4h0m-2.4 .5h0m3.6 .3h0m-1.1 .1h0m-.4 .5h0m-3.9 .2h0m5.4 2.9h0m-2.5 .3h0m2.9 .6h0m-3.3 .4h0m3.3 0h0m-3.4 1.1h0m-1.9 .5h0m5.3 0h0m-3.7 .2h0m2.6 5.4h0m-1.8 .8h0m-1.4 .8h0m.5 0h0m-.3 .6h0m.6 1.1h0m2.9 .4h0m-1.1 .3h0m-3.2 1.9h0m4.7 .5h0m-3.7 .9h0m2.5 0h0m-.6 .7h0m-2.4 2.7h0m1.3 .3h0m6.9 2.2h0m2.2-1.7h0m-.7-1.3h0m-3.6-1.7h0m-1.5-2.6h0m3-.6h0m.3-1.2h0m-3.1-.2h0m5-1.3h0m-5.3-.3h0m2-.5h0m-.9-1.3h0m4.7-.1h0m-5.6-.2h0m3-.6h0m-1.9-.5h0m3.3-.3h0m-4-.2h0m-.5-.2h0m4.2-.1h0m-2.5-.7h0m.1-.6h0m2.1-2h0m-1.6-.8h0m1.4 0h0m-3.7-.2h0m0-.1h0m1.3-.1h0m4.4-.8h0m-1.2-2.7h0m-1.5-1h0m-3-.5h0m5.7-2.7h0m-.5-1.2h0m-4-.6h0m.6-.9h0m-1.1-.4h0m.5-.5h0m1.4-.8h0m-1.2-.3h0m.6-2h0m3.1-.3h0m-3 0h0m2.8 0h0m-3.3-.2h0m1.6-.7h0m1.1-2.7h0m-3.8-.4h0m.2-.2h0m4.3-.3h0m-.2-1.9h0m-4.8-1.9h0m2.1-.1h0m1.3-1.1h0m-.8-.3h0m2.8-.4h0m-2-.7h0m.2 0h0m1.1-1.1h0m.2-2.7h0m-.6-.9h0m-.6-.5h0m-1-1h0m-1-1.5h0m.1-1.1h0m-1.6-.1h0m1.9 0h0m2.8-.9h0m-3.5-.4h0m1.5-2h0m-1.3-9h0m-.3-.6h0m4 0h0m-2.2-.3h0m-3.1-1h0m.2-1.4h0m2.5-.3h0m1.8-.4h0m.7-2.2h0m.7-1.8h0m-2.4-1.2h0m.1-.6h0m.7-.5h0m-.7-1.5h0m.4-2h0m-.5-.2h0m1.5-.1h0m.9-.7h0m-3.1-2.2h0m2.9-1.1h0m0 0h0m-2.1-.9h0m-3.7 0h0m3.5-.3h0m-2.2-2.1h0m2.3-1.8h0m.8-2h0m.6-.2h0m-1.1-.2h0m.1-.1h0m-2-1.4h0m1.2-.5h0m1.1-.3h0m.1-.2h0m-1.5-1.5h0m-1.3-.2h0m-.5-.2h0m3 0h0m.5-3h0m-1.1-.1h0m-1.8-.5h0m4-.4h0m-1.8-1h0m-3.2-2.9h0m4.9-1.2h0m-3.9-.4h0m-1.2-.6h0m5-1h0m-1-.9h0m-3.4-2.3h0m3-.5h0m-.7-1.8h0m.8-.2h0m-1.9-.4h0m2.4-1h0m-2.6-.2h0m2.7-2.3h0m-4.8-.7h0m1.2 0h0m4.5-1.9h0m-2.9-.1h0m-1.7-1.1h0m1.7-.4h0m.2-.1h0m.3-2.8h0m2.3-.9h0m-4.2 0h0m3.3-.1h0m-4.1 0h0m5-1h0m-1.8-.5h0m-1.8-.3h0m-1.7-.3h0m3.4-2.4h0m1.9-1.4h0m-2.8-.1h0m-2.4-2h0m5-.1h0m.1-2h0m0-.5h0m.4-2.9h0m-2.9-.1h0m2-.3h0m-1.3-.8h0m-.2-.4h0m-1.2-1.1h0m2.6-2h0m-.9 0h0m1.7-.5h0m-4.9-1.3h0m4.6-.8h0m.2-.1h0m-2.9-.1h0m2.7-.9h0m-3.1-.5h0m-.7-.1h0m-.3-.5h0m-1.2-1.4h0m2.2-.1h0m-.2-.1h0m2.2-1.1h0m-3.7 0h0m4.2-.8h0m-3.2-.5h0m.7-.4h0m-1.1-.8h0m-.5-.2h0m-.7-.6h0m4.5-1.9h0m-3.5-1.4h0m4.8-1.7h0m-1.4 0h0m2.6 1.4h0m2.7 3.5h0m-2.5 .9h0m0 2.2h0m.6 1.3h0m1 1h0m.6 .3h0m-2.6 .3h0m4.4 1.6h0m-1.7 .4h0m1.4 .2h0m-3.3 .6h0m2.3 .2h0m-2.9 .9h0m2.1 .9h0m-1.5 0h0m.8 .4h0m0 0h0m-1.3 .1h0m4.5 .5h0m-2.2 .1h0m-.3 3h0m-1.6 1.8h0m.2 1.8h0m1.3 .8h0m-.8 2.2h0m1.8 1h0m-.2 .7h0m-2.9 .8h0m-.8 1.7h0m2.3 2.2h0m3.5 .6h0m-2 .1h0m-.8 1.1h0m-1.6 1.2h0m1.6 .4h0m1 .4h0m-1.7 2.7h0m2.3 1.4h0m.3 .2h0m-.2 .1h0m-.8 1h0m-2.1 .4h0m-.2 1.8h0m-1.1 .2h0m.6 2.2h0m2 1.3h0m.8 .5h0m.1 .3h0m.9 1.4h0m-.8 1.1h0m-3.5 1.3h0m.5 .3h0m3.5 1h0m.9 .4h0m-5 .7h0m4.1 .7h0m-1.7 .1h0m.8 1.9h0m-3.8 .4h0m0 .4h0m5.1 .2h0m-2 .8h0m1.3 .8h0m-.6 2.2h0m.1 .9h0m-1.1 .6h0m-1.6 0h0m1.9 2.4h0m1.6 .9h0m-4 1.9h0m2.4 4.4h0m-.2 1h0m1 .6h0m-2.5 .7h0m-.2 .4h0m.8 .2h0m2.7 .8h0m-.4 1.3h0m0 .5h0m1 .3h0m-2.8 1.4h0m.4 1.4h0m1.8 .7h0m-2 1.7h0m-.9 .6h0m.6 .1h0m2.9 .8h0m-1.7 1.1h0m-.7 0h0m-.4 .3h0m1.4 1.9h0m-1.6 .3h0m1.2 11.2h0m-2.2 .4h0m-.7 .8h0m5.3 .2h0m-5.8 .7h0m3.9 0h0m.3 .8h0m1 1.1h0m-2.5 .1h0m-.5 2.6h0m-1.2 .2h0m-.6 .7h0m2.8 .6h0m-2.4 2.5h0m3.9 .2h0m-2.7 .3h0m3.3 .5h0m-1.9 .1h0m.2 .3h0m-2.1 .8h0m.6 .5h0m1 .5h0m.9 .6h0m1.6 .1h0m-1.7 .2h0m-2.2 .2h0m3.7 0h0m-.3 .9h0m-1.5 1.1h0m-1.2 .4h0m-1.6 1.6h0m.5 1.2h0m.4 1.9h0m3 1.2h0m-4.1 2.3h0m.1 .5h0m4.2 .1h0m-4.1 1h0m2.1 .7h0m2.7 .1h0m-3.9 0h0m-.5 2.3h0m4.1 0h0m-3.6 .5h0m2.1 .2h0m-3.8 1.5h0m1.2 2.1h0m4.1 .3h0m-1.3 .1h0m.3 .7h0m1.1 .5h0m-5.5 .5h0m4.6 .9h0m-2.4 .1h0m.9 .5h0m1.9 2.3h0m-4.7 2h0m0 .1h0m1.1 .4h0m4.3 1.5h0m-2.9 1.2h0m1.9 .1h0m-2.3 .3h0m2.3 .2h0m-3.9 4.6h0m5.1 0h0m-1.4 1.5h0m-1.5 2.4h0m2.9 8.5h0m3.2-.2h0m-1.9-.6h0m1.9-1.7h0m.5-2.3h0m-.3-.7h0m-1.6-.5h0m2.8-.8h0m.6-.6h0m-2.2-.7h0m-1.3-4.1h0m.5-.4h0m-1.5-2.7h0m1.1-1.3h0m2.5-1h0m-1.5-.1h0m-2.2-.2h0m4.5-.6h0m-3.6-.9h0m2.3-.7h0m2.2-1h0m-2.8-.2h0m-1-4.6h0m.1-.4h0m.7-1h0m2.6-.3h0m-1.3-2.8h0m-2.1-.6h0m.6-.2h0m-.4-.8h0m3.2-.4h0m0-.1h0m-4.8-.2h0m1.9 0h0m-1.3-2.4h0m2-.1h0m-2.6-1.1h0m3.1-2.1h0m.6 0h0m1.4-.7h0m-.5-.5h0m-.6-2.6h0m.4-1.6h0m-3.7-.1h0m3.3-.5h0m1.3-1.2h0m-.3-3.9h0m-1.6-.1h0m-.1-.4h0m-2.6-1.6h0m-.9-1.3h0m3.1 0h0m-.6-.3h0m.8-2h0m-.6-.9h0m-.1-1.3h0m-2.7-.6h0m3.4-.7h0m-3.5-.2h0m3-1.1h0m-3.3-.6h0m1.1-.3h0m.3-1.1h0m-.1-.3h0m3.2-.5h0m-1.4-2.2h0m1.9-1.1h0m.6-4.9h0m-3.1-3.1h0m2.7-.3h0m-1.4-2.5h0m1.4-.1h0m-4.2-.1h0m2-.8h0m1.7 0h0m-3.5-1.3h0m-.8-1h0m1.4 0h0m2.3-.3h0m-3.6-.2h0m-.5-1.2h0m.6-.7h0m-.1-.1h0m2.9-.2h0m-1.4-.8h0m2.2-.3h0m1.1-.1h0m-1.8-.5h0m.1-.2h0m.1-.9h0m-1.5-2.5h0m2.7-.2h0m-3.2-.3h0m2.1-.7h0m1.7-.6h0m-4.8-1.1h0m2.6-.1h0m2.4-.2h0m-2.1-1.7h0m1.8-.1h0m-2.9-1h0m1.9-.5h0m-3-.6h0m.3-.4h0m.2-1h0m2.5-.5h0m-3.8-1.1h0m3.5-1.9h0m.5-1.7h0m-1.9-.4h0m2.7 0h0m-3-.6h0m-.4-1.1h0m-.6-.2h0m2.6-.2h0m.2-.1h0m-3.7-.3h0m-.4-5h0m3.4-.4h0m1.2-.6h0m.3-1.5h0m.6 0h0m-.9-.8h0m.7-1.3h0m-.3-3.2h0m-1.9 0h0m.3-.1h0m2-1h0m-.8-2.3h0m-3-.1h0m3.4-1.4h0m-2.1-1.1h0m1.2-1.9h0m-3.3-.4h0m.3-.5h0m1.1-.2h0m2.4-.2h0m.9-1.2h0m-.1-2.1h0m-4.4-1.2h0m3.1-.1h0m-2.2 0h0m1.6-.9h0m0-.5h0m-3.2-.2h0m4.6-2.9h0m.6-3.8h0m-.8-1.4h0m-2.5-1.4h0m3.4-.9h0m-.7-.6h0m.3-2h0m-.9-.1h0m-2.6-.3h0m-1.8-1.5h0m3.7-.1h0m-.5-.7h0m2.2-.8h0m-1.1-.8h0m-3.2-2h0m.8-1.3h0m-1.1-1.3h0m.9-.5h0m0-.4h0m-1.3-2.5h0m11.1 9.4h0m0 .2h0m-2.7 2.6h0m2.2 .3h0m-.4 .1h0m-3.2 .5h0m1.1 0h0m.2 1.1h0m.1 .9h0m.7 .5h0m-2.1 .2h0m-1.1 .8h0m2 2.4h0m.3 .2h0m2.6 0h0m-3.1 .1h0m.2 .3h0m-1 .4h0m-.7 .1h0m5.4 2h0m-.4 0h0m-1.4 .5h0m-2.6 1.5h0m2.8 .8h0m.7 0h0m-.2 .7h0m-3.7 .3h0m3.2 1.6h0m.6 0h0m-.4 .6h0m.3 .4h0m-2.3 .8h0m1.1 .1h0m-.7 .2h0m1.6 .5h0m-3.9 .1h0m5.2 1.2h0m-2.4 1h0m-.1 .6h0m.4 4.4h0m-1.7 .2h0m2.5 .1h0m-3.1 .3h0m-.7 1.3h0m.1 .1h0m3.9 1h0m.1 .1h0m-.8 1h0m-2.8 2.8h0m2.9 1.4h0m-3.7 1.6h0m0 .3h0m5.3 .3h0m-5.7 .3h0m4.4 .3h0m.1 .3h0m-3.9 1.6h0m4.1 .6h0m-1.2 .9h0m-1.7 2.1h0m-1 .6h0m-.5 2h0m5 0h0m-3.1 .7h0m-1.6 .2h0m5.3 .6h0m-3.2 .1h0m1.3 2.5h0m-.9 .8h0m1.2 .7h0m-4.2 .1h0m1.9 .8h0m3.8 .7h0m-1.4 .8h0m1.3 1.7h0m-.9 .5h0m-2.4 1.6h0m.2 1.6h0m.8 .7h0m-2.5 1.6h0m3.5 .5h0m-3.5 .6h0m3.2 1.9h0m-1.2 .8h0m-.1 .2h0m-2.9 .4h0m.9 1.1h0m-.2 .6h0m.8 .9h0m-1.1 .4h0m2.7 1.1h0m-3 1.6h0m.3 .1h0m-.4 .1h0m3.6 .6h0m-1.4 .2h0m2.2 1.5h0m1.3 .8h0m-1.8 .1h0m-2.3 .9h0m-1.3 .3h0m3.7 0h0m1.5 5.1h0m-5.3 .2h0m1.8 1.3h0m.1 .3h0m3 .6h0m-4 0h0m.2 1.6h0m.8 1.1h0m-1.3 .4h0m2.8 .6h0m-1.2 .1h0m1.6 1.4h0m.3 1.1h0m-4 .4h0m4.1 .4h0m1.5 .9h0m-1.9 1.6h0m-.3 .2h0m2.1 0h0m.1 .1h0m-5.4 2.4h0m3.4 2.5h0m-.2 .7h0m-3.2 .6h0m4.7 1.3h0m.3 1.9h0m-.9 .4h0m0 2.1h0m-1.7 .3h0m2.6 .7h0m-.8 2.2h0m-2.5 1h0m3.7 1h0m0 2h0m-3.5 0h0m-1.9 1.5h0m1.4 0h0m-1.4 .5h0m.3 3.1h0m3 0h0m1.6 .3h0m-1.9 .4h0m.5 0h0m-3.6 .7h0m3 .7h0m-2.1 .8h0m1.1 .1h0m.2 2.3h0m1.3 .1h0m-2.4 .6h0m-.4 .2h0m.3 .4h0m3.8 3.1h0m-4.2 0h0m3.1 .9h0m-3.5 1.7h0m.9 .1h0m.9 .7h0m-1.9 0h0m3.6 1.3h0m-3 .4h0m3 .9h0m-.6 .5h0m-1.3 .4h0m-1 .1h0m-1.1 .3h0m2.1 1.4h0m2.2 .3h0m-3.1 1.1h0m3.4 .2h0m-.5 .7h0m-2.3 .2h0m-.3 1.8h0m.1 .8h0m1 .7h0m3.8-3.4h0m-.2-1.1h0m.3-2.9h0m2.5-1.5h0m.1-1.6h0m.9-.1h0m-3.1-.5h0m1.1-1.4h0m-.4-.6h0m3.3-.1h0m-3.9-.1h0m2.7-1h0m-2.2-.3h0m.7-.6h0m1.9-.1h0m-2.8-2.5h0m.1-.1h0m1.5-.3h0m1.6-.9h0m-3.5-.2h0m4.9-.6h0m-1.1-.2h0m-.6-.3h0m-3.8-1.5h0m4.2-.2h0m-2.1-.2h0m-.4-1.5h0m2.4-.2h0m.1 0h0m-1-1.1h0m-.7-.4h0m.6-.5h0m1.9-3.3h0m-3.3-1.6h0m-1.5 0h0m4.7-.2h0m-3-.9h0m-1.8-1.8h0m2.8-.3h0m1.5-.1h0m-2.4-.1h0m1.4-.4h0m0-1.6h0m1.5-.1h0m-2.5-.2h0m-1-.5h0m-.2 0h0m2-.2h0m-2.3-.2h0m-1.1-1.5h0m4.3-.2h0m-2.8-.4h0m4.2-.5h0m-5.5-2.4h0m5.1-.1h0m-4.1-.2h0m4.1-.4h0m-4-.9h0m-.8-.3h0m-.4-.4h0m2.9-.4h0m1.2-1.7h0m-3.2 0h0m-.9 0h0m4.3-1.1h0m-3.4-1.1h0m1.4-.7h0m-.6-1.6h0m2.6-1.2h0m-4.7-1.1h0m3.9-.7h0m-3.1-.3h0m4.3-2.7h0m.5-1h0m.2-2.7h0m-5.6-.3h0m-.2-.2h0m4.3-.1h0m-2.7-1.6h0m-.1-.2h0m-.2-1.1h0m2.2-3.2h0m.7-.6h0m-3.1-.1h0m3.7-.5h0m-.6-.1h0m-2.8-.3h0m1.7-1.3h0m-1.2-.1h0m0-.4h0m-1.3-2h0m-.5-.1h0m2.6-1.4h0m-1.4-1.4h0m.5-.8h0m1.4 0h0m1.1-2.1h0m-3.6-1.5h0m2.3-.4h0m-2.3-2.2h0m0 0h0m1.2-.4h0m3.2-.4h0m-.3-.9h0m-3.2-.5h0m2.8-.6h0m-2.8-.3h0m3.8-.3h0m-.2-.9h0m.3-.1h0m-.1-.4h0m-3.3-.1h0m1.5-.1h0m-3.4-1.1h0m.2-.1h0m1.2-1.7h0m2.5-.6h0m-3.2-.3h0m.8 0h0m-.7-.8h0m2.2-.2h0m.1-.1h0m-2.1-3h0m3.9-.4h0m.6-.8h0m-4.2-1.6h0m2.9-.3h0m.2-1.4h0m-1.4-.2h0m-.4 0h0m-.6-2.6h0m1.1-1h0m-2.8-1.5h0m3-.7h0m.7 0h0m-.4-2.2h0m-2.1-.4h0m0-.7h0m2.9-.1h0m-2.7-1.2h0m.4-.2h0m2.8-1h0m-1-.2h0m1.7-.3h0m-2.4-2.6h0m-1.2-1.2h0m-.1 0h0m-1.7-.2h0m1.2-.6h0m4.3-.5h0m-1.7-.4h0m-2.2-1.1h0m-1-.8h0m3.2-.3h0m-1.5-.6h0m2.8-2h0m-2.4-.1h0m-.2-.4h0m.7-.1h0m.2-.7h0m-1-.8h0m2.2 0h0m-4.1-.7h0m2.5-1.2h0m1.8-.1h0m-1.6-1.8h0m-.2-.2h0m-1.4-.8h0m1.4-.5h0m2-.3h0m-5.1-.5h0m3.8-1.1h0m1.1-.5h0m-3.1-.3h0m-1.5-.1h0m2.1-.8h0m2.7-2.3h0m-1.8-.3h0m-1.1-1.5h0m3.4-.2h0m-4.6 0h0m1.2-.3h0m.4-.3h0m-2.7-1.2h0m2.4 0h0m-1.2-.5h0m-.9-2.5h0m5.6 8h0m5.3 2.1h0m-.7 1.3h0m-3.9 1.4h0m4.7 .2h0m-2.7 .9h0m-1.2 .1h0m1.6 .4h0m-2.9 4.7h0m5.3 .9h0m0 .2h0m-2.3 .5h0m1.8 1h0m-1.4 3.4h0m-1.8 .5h0m3.8 1.2h0m-.6 .3h0m-2.8 .5h0m3 .2h0m-3.4 .4h0m2.4 1.5h0m.8 2h0m-2.3 .7h0m.3 .6h0m.3 .5h0m-2.4 1h0m-.4 .3h0m2.4 2h0m.5 .4h0m-1.8 .8h0m1.7 1.1h0m-2.6 .1h0m3.9 1.5h0m-.5 1.7h0m1.8 .9h0m-2.4 .9h0m-3.2 .5h0m1.3 3.1h0m-1.3 .2h0m.7 .1h0m4.8 .8h0m-5 1.8h0m2.5 1.4h0m-.7 .2h0m-.5 .1h0m3.1 3.4h0m-2.4 .6h0m2.8 .6h0m-.4 .8h0m-5.3 .7h0m5.9 .1h0m-5.5 1.8h0m3.2 .6h0m2.3 .6h0m-4.2 1.3h0m.4 1.3h0m-1.4 1.8h0m2.4 .8h0m.8 1.2h0m.6 2.1h0m-2.4 2.8h0m-.6 .5h0m2.5 2.3h0m-1 .4h0m-1.8 .5h0m4.6 2.1h0m-2.6 1.9h0m1.6 .2h0m-2.2 1h0m1.8 .2h0m-3.1 .5h0m.7 .5h0m3.8 .6h0m-4.7 .8h0m2.5 .1h0m-.3 2.8h0m2.2 .7h0m-.1 .1h0m-4.7 1.6h0m3.7 1.8h0m-.6 1.2h0m-.6 .1h0m-2 1.6h0m-.6 .5h0m-.3 .8h0m2.2 .9h0m-1.6 .4h0m2.6 .4h0m-2.9 .2h0m5.3 .3h0m-5 3.1h0m.8 2.3h0m3.9 1.2h0m-.5 .6h0m.4 1.7h0m-1 0h0m-2.8 .8h0m-.8 .3h0m3.6 .6h0m1.2 1h0m-2.4 .7h0m2.2 1.2h0m-3.7 1.8h0m3.8 .1h0m-1 .5h0m.8 .3h0m-1.9 .2h0m2.1 4.1h0m-4.1 .2h0m4.4 .1h0m-3.3 .4h0m-.3 .7h0m3.2 .1h0m-2.5 1.3h0m.5 .1h0m-2.4 .5h0m.5 .1h0m1.5 .2h0m2.6 1.5h0m-1.4 .9h0m1 .1h0m-1.8 1.1h0m1 .6h0m.9 1.9h0m-.4 .1h0m-3 .3h0m-1.7 .1h0m3.5 .2h0m1.9 0h0m-.3 .4h0m-2.9 .8h0m1.2 1.7h0m-1.8 .5h0m1.8 .2h0m-2.5 .7h0m4.3 .5h0m-4.7 .4h0m.4 1.1h0m1 .1h0m-1 1.4h0m8.9 1h0m.5-.3h0m-.1-.1h0m1.5-.1h0m-4.5-1h0m1-.3h0m-2.5-.7h0m1.4-.2h0m1.2-2.2h0m2.6-.3h0m-1.6-2.6h0m.4-.3h0m.3-.3h0m.6 0h0m.6-.4h0m-.5-2.8h0m-3.1-2h0m.8-1.9h0m-.2-.1h0m-2.2-.2h0m1.4-2.6h0m1.3-2.1h0m-1.6-.3h0m4.4-1.9h0m-.6-.4h0m-5-.1h0m1.4-.4h0m-1.3-.2h0m2.7-.6h0m2.5-.1h0m-1.8-.4h0m.6-1.7h0m-2.9-.3h0m.3-.7h0m3.9-.5h0m-4.6-.4h0m1-.7h0m3.4-.4h0m-4.7-.1h0m1.6-2.5h0m3-.4h0m-2.8-1.3h0m1.8-.3h0m-4.2-1.8h0m1.3 0h0m-.8-.1h0m3-.4h0m-1.6-.4h0m2.1-1.7h0m1.2-2.6h0m-2.4 0h0m-2.9-.6h0m6-1h0m-5.8-.8h0m1.6-1.1h0m1.6-1.8h0m2.3-1.5h0m-5.6 0h0m2.4-1.3h0m2.9-.8h0m-.9-.4h0m.7-.5h0m-1.1-.1h0m-1.9-1.2h0m3.4 0h0m-5.2-.8h0m-.3 0h0m.2-.2h0m2.8-1.2h0m1.9-2.8h0m-1.5-1.6h0m-.8-.4h0m-.2-.3h0m-2.2-.8h0m2.8-.1h0m1.8-.8h0m.4-1.1h0m-.8-2.1h0m-.4-2.5h0m-2.4-.5h0m2.8-1.8h0m-.9-.1h0m2.1-.4h0m-2-.6h0m-.4-1.4h0m-2.3-.6h0m1.2-1.6h0m3-4.9h0m-2.4-.3h0m2.3-.7h0m-.4-.7h0m-4.5-.6h0m5.1-4h0m-2 0h0m-2.1-1.9h0m-.7-1.8h0m2.7 0h0m2-.2h0m.2-2.4h0m-2.1-.1h0m2-1.1h0m-2.5 0h0m-2-.8h0m-.5-.8h0m4.5-.2h0m-1.8 0h0m1.6-.1h0m-3.5-1h0m-.3-1.1h0m2.7-.9h0m.9 0h0m-3.2-.3h0m3.1-.1h0m-4-1.6h0m-.2-.2h0m3.5-1h0m-1-.3h0m2.1-.2h0m-2.1-1.9h0m-2.2-.3h0m2.4-.1h0m1.3-.9h0m-1.6-.6h0m.1-.6h0m-1.1-.2h0m-1-.2h0m5.4-.1h0m-1.5-.1h0m-2.6-.6h0m.4-.3h0m-.8-.6h0m1.8-1.6h0m2.5-.6h0m-3.6-2.1h0m-1.5-.3h0m-.1-.1h0m1 0h0m4.1-.8h0m-1.9-.6h0m.6-.1h0m-3-1h0m3.1-.7h0m-3.7-.1h0m.5-.1h0m-.3-1.5h0m4.7-1.2h0m-4.5-.7h0m-.9-.9h0m2.9-.5h0m.4-.6h0m1.5-1.3h0m-4.5-.2h0m.1-.4h0m2.3-.4h0m-.3-1.4h0m-2.6-2.5h0m7.1 5.8h0m.2 .3h0m3.9 3.3h0m-2.1 3.1h0m2 .2h0m.8 .2h0m-.3 1.1h0m.2 .9h0m-2.4 1h0m1.6 1.8h0m-3.5 2.4h0m4.4 .7h0m-5.1 .9h0m3.5 .3h0m-4.2 .2h0m2.8 2.3h0m2 .2h0m-2.4 .3h0m-1.6 .1h0m3.8 .2h0m-1.5 .3h0m1.5 .7h0m-3.3 2.8h0m-1 2h0m3.4 .1h0m-3.6 0h0m2.7 .4h0m1.6 .6h0m-4.3 0h0m1 .2h0m-.1 .2h0m4 4h0m-.2 .2h0m-2.8 2.1h0m3.8 2.5h0m-.9 .9h0m-2.5 1h0m1.5 .5h0m-2.9 .3h0m4.7 .7h0m-.6 .6h0m-4.7 3.1h0m2.9 .4h0m.2 .1h0m-.6 0h0m2.2 .4h0m-3.8 .6h0m3 .9h0m-.9 1.4h0m.7 .2h0m-3.8 .2h0m.7 .8h0m3.6 .4h0m-3.8 0h0m.1 .1h0m2.9 .3h0m-.6 2.6h0m-3.2 .2h0m0 .3h0m1 .8h0m2.1 .1h0m1.3 .4h0m.7 1.2h0m-.7 .4h0m-2.1 .3h0m-2.2 1.8h0m.6 .3h0m.2 .3h0m2 .7h0m0 .5h0m3 .3h0m-3.3 1.5h0m1.7 .7h0m-3.2 .3h0m4.4 1.8h0m-4.9 .6h0m4.7 .6h0m-1.3 2h0m-.4 .9h0m-2.4 1.1h0m.3 .4h0m.4 .1h0m1.6 .3h0m-3.2 .2h0m2.6 .5h0m-2.8 1.2h0m5.3 1h0m-2.1 .3h0m-.9 .8h0m-1.1 1.1h0m4 .9h0m-.7 .3h0m-3.1 .4h0m3.9 .8h0m-3.2 .3h0m-1 .8h0m2.8 2.7h0m1.6 .6h0m-3.2 .3h0m.9 .4h0m-.4 .9h0m1.3 .6h0m-.3 .5h0m-1.9 .4h0m1.5 .6h0m-2.2 .2h0m3.7 .8h0m-4.2 3.6h0m.5 2.7h0m4.3 1.5h0m-1 .4h0m-1.6 .4h0m-3.1 0h0m2.7 0h0m2.2 1.8h0m-1.6 3.4h0m.9 1.4h0m-1.3 .3h0m-2.6 .8h0m.9 .3h0m.8 1.4h0m3.8 3.1h0m-3.4 .6h0m-1.7 3.8h0m2.5 3.1h0m-1.1 .5h0m2.2 2.8h0m-2.8 .1h0m4 0h0m.1 2h0m-.7 1.7h0m-3 .3h0m-1.2 0h0m4.3 .4h0m-3.6 .2h0m2.1 .3h0m5.3-1.3h0m1.4-2.4h0m-1.8-1.2h0m2.4-.2h0m-1.7-2.3h0m-2.5-.3h0m5.3-1.4h0m-5.5-.1h0m3.8-1.7h0m-1.5-.3h0m2.9-.2h0m-.4-1h0m-2.6-.5h0m-1-.7h0m-1.4-1.7h0m3.6-1.3h0m-2.2-.3h0m2.8-1.6h0m-1.2-.4h0m.9-.6h0m.4-.4h0m1-2.8h0m-4.9-.8h0m1.4-.6h0m2.2-1.9h0m-3.7-.6h0m1-.2h0m.7-.5h0m2.2-1h0m.2-1.7h0m-1.6-.2h0m.1-.3h0m-.2-.5h0m.6-4h0m1-2.3h0m-1.3-.6h0m-2-1.2h0m1.9-2h0m.4-.4h0m-.7-.4h0m-.5-2.4h0m-1-.3h0m4.7-2.6h0m-.4-.3h0m-.5-2.1h0m.3-.5h0m-.8-.7h0m-.6 0h0m-1.5-.4h0m-.9 0h0m3.8 0h0m-5.2-.1h0m4.5-.7h0m-4.1-1.3h0m1.2-1.2h0m3.4-.4h0m-4.6-.1h0m.1-.3h0m3.5-.5h0m1.5-1.1h0m-4.3-.8h0m3.9-1.4h0m-1.3-.4h0m-1.4-2.7h0m-.7-.2h0m1.3-.3h0m1.6-.3h0m-2.7-1.8h0m1.4-.8h0m-2.7-1.1h0m2.4-.3h0m-1.3-2.5h0m2.6-.5h0m1.5-.1h0m-1.4-.1h0m-2-1.1h0m.9-1.3h0m-3-.6h0m4.3-.5h0m-.9-.8h0m.7-.2h0m-2.1-.7h0m-.3-.6h0m2.1-.2h0m-.9-.2h0m.5-.7h0m.1-1.4h0m-3.4-1.3h0m2.5-.6h0m-1.2-1.2h0m1.4-.7h0m.2-1.2h0m1-.5h0m-1 0h0m-1.7-.6h0m2-3.9h0m1.5-.7h0m-2.5-.3h0m-.4-.2h0m-1.8-1h0m1.5-.2h0m-.6-3.4h0m2.6-.2h0m-.7-.9h0m-2.8-.2h0m4.8-1h0m-.5-.2h0m-1.5-.1h0m-1.3 0h0m1-.5h0m.2-.2h0m.9-.1h0m.6-.5h0m-3.4-.3h0m-.4-.2h0m-.6-1.4h0m4.2-1.1h0m-4.1 0h0m2.6-.8h0m-.4-.2h0m2.1-1.7h0m-2.2-.3h0m1.1-.1h0m-3.5-.2h0m4.5-1.7h0m-1.5-1.3h0m-1-1.3h0m.9-.1h0m1.3-.6h0m-3.6-.3h0m-.6-1.6h0m1.1-6.1h0m-.6-1.3h0m-.4-1.1h0m1.4-2.8h0m4.4 15.6h0m.4 2.7h0m3.2 1.3h0m-2.4 .5h0m.7 .8h0m-1.6 5.3h0m4.8 1.3h0m-5.1 .2h0m.8 .3h0m4.7 .2h0m-.3 1.2h0m.1 1.9h0m.6 2.1h0m-2.4 .1h0m-2.5 4h0m4.7 .2h0m-1.2 1.2h0m.4 .9h0m-1.9 .2h0m1.3 0h0m-.7 1.7h0m-2.9 .1h0m1.1 .2h0m3.6 .2h0m-3.7 1.9h0m2.9 .2h0m-.4 .1h0m-3.5 .4h0m.6 1.4h0m1.7 1.5h0m1.5 .7h0m-1.9 .5h0m-.3 .3h0m1.7 2.6h0m-2.4 2.8h0m-1.1 .4h0m2.8 1.1h0m-2.1 .3h0m1 3h0m-.4 .5h0m.2 1.2h0m-.5 1.5h0m4.3 1.6h0m-3.9 2.5h0m3.1 .3h0m-2.5 .2h0m-.7 .3h0m-.2 .4h0m0 .4h0m-.2 .6h0m3.4 3.4h0m-1.5 1.1h0m-1.7 .5h0m3.5 .4h0m-.8 .1h0m-.5 .2h0m-3.1 .8h0m1.2 2h0m-.7 .5h0m4.1 .1h0m-5.2 .6h0m2.5 .6h0m2.9 1.1h0m-4.9 .2h0m4.1 .4h0m-.3 1h0m.8 3.1h0m-4.3 .6h0m4.9 0h0m.1 .6h0m-3.4 .4h0m2.4 1h0m-4 .7h0m.6 .2h0m2.2 .1h0m-1.1 1h0m.6 .5h0m-.1 2.6h0m-.9 .3h0m-1 .7h0m.3 .2h0m-.7 2.8h0m3.8 .4h0m-3.3 .5h0m-.1 1.5h0m1.3 .9h0m-.2 .4h0m-.4 .9h0m-.5 .9h0m4.4 .5h0m.1 .4h0m-6 .1h0m2.6 .3h0m2.5 .3h0m-.8 1.3h0m-4.2 1.4h0m5.2 1.7h0m-.5 1h0m-2.3 .7h0m-.6 .2h0m1.4 .5h0m-.4 1.7h0m-1.2 .5h0m-.2 .4h0m2.3 .3h0m1.3 .5h0m-5 .5h0m1.1 2.2h0m.3 .8h0m2.1 .7h0m-2.4 .6h0m.6 1.5h0m.6 .2h0m4.5-11h0m3.2-2.6h0m-2.1 0h0m3.4-1.2h0m-4.1-.1h0m3-1.5h0m-2.5-2.3h0m-1.4-.7h0m3.8-.6h0m1.1-2.1h0m-4.6-.8h0m3.9-1.6h0m-4.2-.3h0m1.5-2.3h0m1.8-.9h0m.3-.1h0m-3.4-2.2h0m1.6-.1h0m-.2-.1h0m.7-.7h0m1.2-.4h0m-.1-1.5h0m-3.4-.9h0m2.7-1.4h0m-2.4-.6h0m2.6-1.2h0m.4-1.4h0m-1.1-.2h0m.1-1.5h0m.8-.8h0m1.4-.1h0m-3.5-1.2h0m4.2-3.7h0m-2.7-.2h0m1.1-.8h0m-1.8 0h0m1.5-5.3h0m-.1-.3h0m-2.5-2.9h0m2.2-1.2h0m-1.4-.7h0m.7-.7h0m-1.5-.5h0m.3-1.8h0m3.2-.2h0m-.1-.1h0m.3-1.4h0m-.9-2.7h0m-3.6-.1h0m.2-1.3h0m3.9-.1h0m-.8-6h0m-3.6-.5h0m4.1-.3h0m-3.5-1.1h0m4.4-1.4h0m-.1-2.2h0m.5-.2h0m-5.3-.2h0m-.1-1.4h0m3.4-.8h0m-3.1-3.1h0m2.9-.1h0m-3.2-1.1h0m1.4-.7h0m-.9-.4h0m.3-3h0m1.5 0h0m-.3-2.4h0m5.4 35.7h0m-.7 1.2h0m-.5 3.1h0m.3 1.7h0m.5 8.3h0m3.6 4.9h0m-1.7 .1h0m-.3 .3h0m.4 2.1h0m1 .1h0m.3 0h0m-1.2 .3h0m1.9 .4h0m-3.2 .8h0m4.2 .6h0m-1.4 .8h0m-2 .6h0m-1.8 .7h0m1.3 1.5h0m2.1 1.2h0m.7 .3h0m-.8 .1h0m-.1 .6h0m.9 .1h0m-1.8 0h0m-1.4 1.4h0m-1.6 .9h0m2.8 .1h0m-1.4 .1h0m-.8 0h0m4.5 .7h0m-1.6 .7h0m-2.2 .6h0m2.4 2.4h0m1.8 .4h0m-5.2 .5h0m11.5 9.2h0m-.3-.3h0m-.6-.5h0m.1-1h0m-1.9-.9h0m-1.9-1.4h0m2.8-.1h0m.3-.4h0m-2-1.1h0m-.4-1h0m3.9-.2h0m-.3-.7h0m-4.9 0h0m-.6-.1h0m.6-.9h0m1.3-1.5h0m2.4 0h0m-3.3-.5h0m4.3-.3h0m-.4-.1h0m-4.8-.2h0m4.1-.1h0m.9-1.6h0m-3.7-.2h0m-.7-2.1h0m2.7 0h0m.5-1.6h0m-3.2-.1h0m1.2-.8h0m.5-.4h0m1.2 0h0m-2.1-.3h0m0-2.4h0m1.1-1.2h0m-1.4-.4h0m-1-.5h0m3.1-1.3h0m-2.5-2h0m5.9 3h0m-.7 .3h0m.1 .6h0m5.1 .2h0m-.5 .8h0m-1.1 .4h0m-1.2 .4h0m.2 .8h0m-1.4 .5h0m3.5 1h0m-.4 .1h0m.5 1.4h0m-3 2.2h0m-.6 .3h0m2.2 .2h0m1.8 2.9h0m-1.4 .3h0m-3.7 2.1h0m1.1 1.6h0m.5 .1h0m4.1 .4h0m-3.8 .5h0m-1.3 0h0m1.3 .2h0m.9 .5h0m.3 1.6h0m-3.2 .4h0m1.5 .3h0m3.3 .2h0m-4.7 .4h0m.2 2.5h0m8.1-6.7h0m-1-2.3h0m-1.4-1.5h0m.5-.1h0m2.1-.8h0m-2.1-1.1h0m.3-.5h0m-.3-.8h0m2.2 0h0m-1.9-.3h0m-.7-2.4h0m-.2-2.2h0" stroke="#069bb9" stroke-width="4.00" stroke-linecap="round" fill="none"/><path d="M198 385.8h0m-.7 3.7h0m.4 4.5h0m-1.3 .6h0m-.6 3h0m1.5 .7h0m-2.1 .1h0m1.8 .7h0m-1.1 3.4h0m1.9 .9h0m-1.2 .4h0m-.5 1.7h0m-.1 1.2h0m-1 .1h0m-2.5 .2h0m3.8 1.5h0m1.7 .1h0m-2.2 .8h0m-1.7 .1h0m-1 .1h0m4.8 .3h0m-1.1 .7h0m-3.5 .1h0m1.9 3.2h0m5.8 .3h0m-2.1-.9h0m.1 0h0m2.1-.6h0m-.8-1.9h0m-1.3-.1h0m2.5-1.3h0m1.5-1.8h0m-1.1-.3h0m-2.4-.3h0m.5-1.9h0m-1.9-1.2h0m2.4-.2h0m3.2-.2h0m-2.7-2.3h0m-2.8-1.1h0m-.1-.5h0m4.1-.3h0m1.4-.3h0m-2.4-.2h0m-1.7-.4h0m1.9-3.5h0m-2.9-1.4h0m3.8 0h0m-.9-.3h0m-1.4-.1h0m.5-.4h0m-.6-.2h0m1.5-3.4h0m1.4-2.7h0m-.3-.2h0m.5-1.4h0m-3.6-.2h0m3.7-.4h0m-1.3-1h0m1.6-3.2h0m-.3-.6h0m.2-.3h0m-1-1.1h0m.1-2.6h0m.9-4.1h0m-.4-4.2h0m0-.2h0m-1-2.1h0m.6-2.4h0m-2.5-1.4h0m2.1-4.3h0m1.5-1.9h0m-2-36.1h0m1.3-2.5h0m0 0h0m-1.3-2.1h0m-.4-.2h0m2.1-.8h0m-2 0h0m-.8-.2h0m-1.4-.3h0m4.5-1h0m-.7-1.3h0m.3-.7h0m-.1-.2h0m-1.2-1.2h0m-3-.4h0m2.9-.3h0m1-.2h0m-1.7-.4h0m.3-.5h0m1.9-2.7h0m-.5-1.8h0m-.3-.3h0m.2-1.5h0m6.9-9.6h0m.2 .2h0m-1.6 1.6h0m-.5 2.2h0m-.4 .4h0m1.2 .5h0m-1.6 1h0m-.7 1.7h0m2.2 2.2h0m-1.6 .5h0m2.1 .3h0m-.4 .2h0m-2.2 .8h0m-1.7 1.3h0m4.1 .8h0m-1.6 .7h0m2.5 1.3h0m.2 .7h0m-3.8 .7h0m2 .4h0m-1.2 .6h0m1.2 .1h0m.7 2.9h0m.3 .9h0m-3.5 .5h0m4.4 2h0m-2 .7h0m1.4 1.3h0m-4.5 1h0m1.3 .5h0m2.6 1h0m-3.4 2.5h0m-.3 .6h0m1 1.2h0m2.9 2h0m-4.3 .2h0m5 1.2h0m-5.1 1h0m2.3 0h0m1.4 .1h0m-2.1 1.1h0m3.5 .7h0m.1 .8h0m-2.2 .7h0m2 1.1h0m-5 .8h0m4.2 .6h0m.9 2.3h0m-2.5 .1h0m-.5 .2h0m0 2h0m1 2h0m-.1 .3h0m-.5 3.3h0m1.2 1.4h0m-1.5 .8h0m2.2 .4h0m-1.2 2.1h0m-.7 3.3h0m3 .4h0m-2.7 1h0m-2.5 .5h0m2.4 .4h0m-2.5 .2h0m2.6 .7h0m-1.5 4.8h0m3.1 1.6h0m-.9 .8h0m0 .7h0m-2.4 .2h0m3.8 .5h0m-.2 1.4h0m-2.1 .1h0m-1.2 .3h0m-1.3 .3h0m-.5 .4h0m.7 2.6h0m5.2 .7h0m-5.7 2.3h0m2.8 1.4h0m-.3 .9h0m.3 .5h0m-.7 1.7h0m-2 .2h0m.9 1.1h0m2.4 .1h0m-.4 .1h0m-2.9 .8h0m2.6 1.6h0m-.8 .3h0m.9 .2h0m2.6 .6h0m-1.5 1.9h0m-.5 1h0m.7 .2h0m-4.2 .5h0m3.1 .4h0m1.9 .3h0m-.9 .7h0m-1.8 1.2h0m3.2 .7h0m-2.1 .4h0m1.5 2.6h0m-.6 .3h0m-2.8 .8h0m.6 1h0m1 .1h0m-3.3 .8h0m5.9 .2h0m-1.8 .8h0m-1.4 .1h0m-1.9 0h0m.5 1.4h0m1.1 .9h0m-.3 1h0m-.5 .5h0m3.6 .6h0m-.3 .1h0m-4.7 .2h0m2.4 0h0m-.5 .3h0m2.8 .9h0m-2.7 1.4h0m-.4 1.1h0m-.1 0h0m2.1 .1h0m-.3 .5h0m1.4 .7h0m-2.4 .5h0m1.8 0h0m-.7 .4h0m-.9 .1h0m-2.4 1.6h0m3 1.6h0m2.4 1.1h0m0 1.4h0m-4.2 0h0m-.8 .2h0m5 .7h0m3.2 4h0m1.7-2h0m-1.2-.3h0m.6-.1h0m1.6-.3h0m-1.3-2h0m.4-.6h0m-1.5 0h0m-.8-1.9h0m2.5-.5h0m-4.3-1h0m3.7-.5h0m-4.3-.4h0m.7-.8h0m-.5-.7h0m5.1-.3h0m-1 0h0m-1.3-.4h0m-1.3-2.1h0m-.5-.2h0m4.3-1.2h0m-1.1-1.1h0m-.5-.1h0m-.4-.1h0m-1.3-.1h0m1.4-6.9h0m-.1-1.7h0m.7-.2h0m-2.3-.2h0m1.5-1.3h0m.1-1.6h0m-3.5-.1h0m.5-1.8h0m5.3-1.6h0m-5.6 0h0m1.5-.5h0m.6-1.9h0m-.7-.3h0m-1.2 0h0m3.9-.5h0m-.1-.3h0m-1.7-1.8h0m.3-.3h0m2.8-.2h0m-3.5-.1h0m1.9-1.7h0m-2.7-3.6h0m0-1.4h0m.8-.3h0m2.6-1.5h0m-2.4-.6h0m-2-2.1h0m4.6-.2h0m-2.7-.2h0m-.8-1h0m2.4-.5h0m-2.7-.8h0m4-1.8h0m-4.7-1.4h0m-.2-.9h0m2.9-1.4h0m-.7-.6h0m-1.9-.3h0m-.2-1.1h0m1-1.1h0m2.4-.8h0m-.1-1.5h0m-3.4-.1h0m1.9-.8h0m3.1-2.3h0m-1.5-.3h0m2-.4h0m-1.8-.1h0m-.8-1.2h0m-1.6-.8h0m4.4-.1h0m-.5-.5h0m.1-.5h0m-3-.3h0m1.9-.8h0m-2.5-.6h0m-.6-1.2h0m1.8-.4h0m1.7-.8h0m.5-.5h0m.2-2.2h0m.1 0h0m-.2-1.7h0m-2-.3h0m-2.6-1.9h0m.6-1.3h0m-1.4-.6h0m5.3-2.2h0m.3-.8h0m-.6-.3h0m.2-.9h0m-4-.9h0m-.3-1h0m-.5-.5h0m-.1-.1h0m.3-2.3h0m-.1-2.4h0m-.5-.7h0m1.3-7.5h0m2.4-1.8h0m-3.5-1.5h0m2.9-1.4h0m-.7-2.1h0m.3-.2h0m1.4-.5h0m-.1-.2h0m-3-2.8h0m.8-1h0m.1-.1h0m1.6-.2h0m-2.6-.2h0m2.6-.1h0m2.4-.2h0m-3.7-.5h0m-2.1-1.2h0m4.8-2.8h0m-3.8-.7h0m3.2-.1h0m0-1.3h0m-2.2-.9h0m1.4-1.1h0m-3-2.8h0m5.2-1.1h0m-5.6-.8h0m1.7-1.5h0m3.6-.5h0m-3-.7h0m-.6-.6h0m3.5 0h0m-1.5-1.1h0m8.1 .1h0m-4.6 .7h0m.4 1.5h0m2.5 1.5h0m-1.5 .2h0m-1.6 .3h0m4.4 .2h0m-4.3 1.7h0m.4 3.1h0m4.3 1.6h0m-4.7 .3h0m4.5 .8h0m-4.8 .5h0m-.3 1.4h0m0 .7h0m1.9 .3h0m-1 .7h0m1.2 1h0m.5 .1h0m-1.1 0h0m-1.5 .1h0m4.8 .3h0m-4 .2h0m4.3 .2h0m-4.2 0h0m.7 .1h0m-.4 0h0m-.5 1.3h0m1.7 .8h0m2.1 1.3h0m-2 1.2h0m-3 .4h0m4.4 0h0m1.5 .1h0m-4.3 1.8h0m1.4 1.3h0m-.8 0h0m.5 .1h0m.3 2.2h0m1.1 .2h0m-1.6 .8h0m1.1 1.7h0m-.2 1.2h0m1.4 3.4h0m-.8 .8h0m1.4 3h0m-.7 2h0m1.2 1.1h0m-.7 1.7h0m-.1 .3h0m-2.1 1.1h0m-.3 .4h0m.3 .5h0m-1.8 .5h0m-.5 .3h0m3.6 .3h0m-1.1 2.1h0m2.1 .3h0m-2.8 3.7h0m-1.3 .7h0m-.9 .7h0m.9 1.1h0m.2 1.5h0m.2 1.3h0m.6 .9h0m.1 1.3h0m2.2 2.4h0m.9 .7h0m-2.3 0h0m1.3 2.3h0m-2.9 1h0m-1.4 1h0m3.7 .1h0m-.3 .2h0m-2.6 1.5h0m-1 1h0m.1 .5h0m3.6 1.4h0m-3 2.5h0m.3 .4h0m2.1 .7h0m-2.4 .3h0m-.2 .3h0m3.5 1.6h0m1.9 2h0m-1 4.4h0m.3 .2h0m-5 .3h0m2.5 .1h0m-.4 .4h0m1.1 .8h0m1.2 .1h0m1.1 .2h0m0 .9h0m-4.2 .6h0m2.3 .4h0m-2.6 .1h0m3.7 2h0m-.3 3.6h0m-3.6 3h0m3 1.8h0m-.4 0h0m.2 0h0m.3 1.2h0m1.6 1.6h0m-3.4 .2h0m2.6 .9h0m.8 2.1h0m-2.7 .3h0m-.9 .5h0m-.3 .4h0m2.5 .8h0m-2 .7h0m.3 .3h0m.2 .1h0m-.6 .8h0m-.3 3.1h0m.9 .3h0m.7 2h0m-2.4 .6h0m3.1 .9h0m-3.9 1h0m1 .5h0m1.1 .7h0m-1 1.1h0m1.6 .4h0m1.9 .5h0m.1 0h0m-2.5 2.9h0m2.5 .3h0m.7 .6h0m-3.5 .1h0m1.8 1h0m-1.9 .6h0m2.6 .1h0m1.2 .4h0m-2.8 1.7h0m-2.1 1.2h0m2.2 0h0m-2 .2h0m-1.1 0h0m2.6 .6h0m3 2.3h0m-3.9 0h0m1.2 1h0m.5 .1h0m.1 .3h0m.8 .8h0m5.6 2.3h0m.7-1.1h0m-2.6-1.1h0m2.5-2.5h0m-3-1h0m2.1-1.9h0m1.5-.4h0m-.2-1.6h0m-1.1-.1h0m-2.6-.2h0m0-.4h0m.4-.1h0m2.1-.1h0m-.6-2.8h0m.4 0h0m2.3-1.3h0m-2.9-.2h0m-1.9-.8h0m-.3-.6h0m1.9-1.3h0m1.2-.8h0m-.2-1.2h0m.2-1.8h0m1.5 0h0m-.2-.4h0m.1-1.6h0m-.8-.8h0m-2.1-.3h0m-.6-.3h0m-1.1-2.5h0m2.7-.9h0m1.6-.3h0m-.7-.3h0m.7-1.1h0m-.8-.9h0m-2.5-1.3h0m-.6-.8h0m1.5-.1h0m-1.7-.4h0m1.5-.1h0m-.8-.8h0m1.3-.8h0m1.3-.8h0m-3.3-.1h0m4.3-.3h0m-2.1-1.2h0m2-.1h0m.8-2h0m-2.1-.1h0m1.5-.2h0m.5-.9h0m-5.3-1h0m.2-2.6h0m-.3-6.2h0m4.8-1.3h0m-2.8-.5h0m-.5-.6h0m-1.4 0h0m2.6-1.4h0m-3-.7h0m-.1-1.1h0m2.8-.2h0m-.9-.4h0m1-.3h0m1.4-1.6h0m-2-.3h0m-.1-.6h0m3.1-.8h0m-3.9-.7h0m4.4 0h0m-1-.4h0m-.4-.7h0m.1-1.2h0m-2.2-.2h0m.3-.2h0m.6-1.6h0m-2.4-.3h0m.9-.6h0m.8-.1h0m-1.7-1.3h0m2.4-1.6h0m-.1 0h0m2.4-1.3h0m-2.5-.7h0m2.2-1.9h0m.1-.3h0m-1.7-.2h0m-.8-.6h0m-2.5 0h0m4.1-1h0m-1.7-.2h0m-2.4-.7h0m3.6 0h0m-3.7-.1h0m4.8-.1h0m.2-.2h0m0-.2h0m-4.5-1.8h0m2.5-.3h0m1.7-.8h0m.8 0h0m-2.8-1.3h0m1.4-.2h0m-1.8-.1h0m1.8-.5h0m1-1.3h0m-2.7-1.5h0m2.5-.4h0m-1.5-1h0m1.4-1h0m-3.8-.4h0m2.3-.3h0m1-3h0m-2.4 0h0m1.5-.9h0m-.9-1.1h0m-2.7-.5h0m.8-.3h0m3.5-.7h0m-1.2-.4h0m-3-1.3h0m4.8-.4h0m.8-2.6h0m-3.6-1.4h0m.9-2.4h0m.6-.3h0m1.6-2.9h0m-.7-.3h0m-4.2-.1h0m-.1-.1h0m4.5-1h0m.9-.3h0m-3.8-.9h0m3.1-.1h0m-4-.3h0m3.1-.6h0m-1.8-.1h0m1.4-.2h0m-1-2.1h0m-2-1.1h0m3.3-.3h0m-.1-1.5h0m-.6-1.3h0m1.2-.8h0m1.4-.3h0m-.5-.2h0m-.6-.3h0m1-.7h0m-1.7-1.8h0m-1.9-.4h0m.2-2.2h0m2.1 0h0m-3.9-1h0m3.3-1.9h0m-2.6-.9h0m2.4-.6h0m-2.8-.6h0m1.1-3.3h0m-1.8-.4h0m.4-1.3h0m-.3-3.7h0m6.5 10.4h0m-.3 1.3h0m.5 1.6h0m1.6 5.5h0m2.3 1.3h0m-3.3 2.2h0m3.2 2.8h0m.2 1.1h0m-1.5 .5h0m0 .7h0m-.2 1.6h0m1.4 .4h0m.8 .1h0m.6 .1h0m-.2 0h0m-1.7 1.3h0m-2.1 .8h0m2.2 1.4h0m1.7 2.1h0m-5.1 1.1h0m3.1 .6h0m-2.6 .1h0m1.6 0h0m2.2 .7h0m-4.9 1h0m3.9 .6h0m1.5 1.2h0m.2 0h0m-1.4 1h0m1 1.1h0m-4.8 1.3h0m3.9 2.7h0m-3.3 .3h0m2.8 .9h0m.8 0h0m-.3 1.2h0m-.9 .7h0m-3.4 .7h0m2.7 1.3h0m2.5 1.9h0m-4.7 2.8h0m4.8 2.6h0m-2.2 .2h0m1.5 .4h0m1 .1h0m-4.5 .4h0m2.4 1.3h0m-1.6 .4h0m1.9 .2h0m-2.5 1.1h0m.7 1.7h0m3.2 1.1h0m-5.1 1.8h0m3.6 1.6h0m-2.7 1.9h0m-1 .9h0m0 .3h0m5.1 .3h0m-2.9 .1h0m-.3 1.6h0m-1 .9h0m2.9 .2h0m-1 .6h0m-1 .1h0m3.1 .2h0m-1.4 1.7h0m.5 .9h0m-1.1 .9h0m-.5 .1h0m1.2 .1h0m-3.4 0h0m1.6 0h0m2.3 .9h0m-2.5 .2h0m1.5 0h0m1.1 1.5h0m-1.8 1.2h0m-1.1 .3h0m2.9 1.1h0m.9 2.4h0m-.4 6.2h0m.9 1.4h0m-1.7 .4h0m-1.8 1.3h0m2.9 .5h0m-5 1.4h0m4.5 .4h0m-2.2 2.4h0m-.4 1h0m-2.1 2.1h0m5 1.4h0m-2.1 .2h0m1.6 .1h0m-4.3 3h0m4.1 .2h0m-.4 0h0m1.3 2.6h0m-1.9 2h0m-.2 .1h0m1.9 2.3h0m.1 .1h0m-2.4 .4h0m1.3 .7h0m-2.6 .1h0m.3 .8h0m-1.4 .3h0m.1 .5h0m5.1 1.5h0m-5.4 0h0m3.7 1.2h0m1.8 1.2h0m-2.5 .1h0m.5 0h0m-3.4 .5h0m1.5 0h0m1 .9h0m0 .1h0m3 1h0m-3.4 .2h0m3 .7h0m-5.3 .8h0m5 .6h0m-2.6 1.8h0m1.8 .4h0m-2.5 .5h0m-.8 .3h0m-.2 .7h0m1.7 1.1h0m-.6 .9h0m.5 .1h0m1.8 .1h0m-2 .9h0m4.3-.7h0m3.4-.5h0m.9-2.3h0m-3.4-.3h0m2.5-.6h0m-.1-.5h0m-2-.8h0m-1.5-.9h0m0-.4h0m3.2-2.1h0m-.3-.3h0m-3-.9h0m3.5 0h0m2.3-.3h0m-2.3-1.2h0m2.2-.1h0m-1.5-1.4h0m.2-.3h0m-4.4-1.8h0m3.6-.1h0m2.2-1h0m-5.5-2.6h0m4.8-.5h0m-3.4-.1h0m1.7-.5h0m-1.1-.9h0m-1.1-1.1h0m-.7-.7h0m1.3-.5h0m3.6-4.4h0m-5.1-.6h0m2.4-1h0m-.3-.9h0m1 0h0m2.2-1.6h0m-2.3-.1h0m-.9-.4h0m2.2-.6h0m-3-.2h0m3.3-2.2h0m-2.1-2.5h0m-.5-.4h0m2.2-.3h0m-3.2-.2h0m2.5-.5h0m-2.9-.8h0m3.7-.1h0m-1.4-.7h0m-.2-3.5h0m-3-.5h0m5.8-.2h0m-1.6-1.9h0m-2.9-2.3h0m-.8 0h0m1.4-1.8h0m-.9-1.1h0m3.6-.2h0m.5-.7h0m.6-1.2h0m-2.2-1.6h0m2-.1h0m-3.5-.8h0m0-.2h0m-.2-1.3h0m.9-.3h0m1.2-.5h0m1.2-1.1h0m-.4-.2h0m-2.3-1.6h0m2.6-3.5h0m-.8-.2h0m-4-.2h0m2.2-.2h0m.9-.2h0m1-1.6h0m-3.2-.3h0m0-2.2h0m.5-.3h0m3.8-.2h0m-4.5-1.8h0m4.4-.4h0m-.5-.4h0m-.4-.8h0m-.1-2.5h0m1.2-.4h0m-4.3-.6h0m1.9 0h0m-3.1-1.8h0m4.1-.7h0m-3.5-2.5h0m4.6-.4h0m-2-.3h0m-2.3-.1h0m3.8-.3h0m.9-1.6h0m.1-.8h0m-2.6-.8h0m.4-1.1h0m-3.2-.7h0m4.4-2.1h0m1.1-3.9h0m-1.1-.6h0m-3.2-2.3h0m3.8-.8h0m-1.6-2.5h0m-1.1-.8h0m.5-4h0m1.2 0h0m-2.4-.4h0m1.4-1.1h0m-.3 0h0m2.2-.2h0m-4.1-.3h0m3.2-.2h0m-4.4-.8h0m5.6-.2h0m-.9-.5h0m-2.3-.1h0m-1.3-.1h0m3.6-.2h0m-4.3-3h0m4.2-1.5h0m-2.5-1h0m.3-1.1h0m6.2 .1h0m-.8 1.4h0m3.6 .3h0m-3.2 .4h0m1.6 .2h0m1.3 .3h0m.1 .3h0m-4.1 .4h0m-.4 .1h0m-.4 2.5h0m2.3 .5h0m1.2 .2h0m-2.7 .6h0m3.6 .5h0m-1.1 .4h0m-.8 .7h0m-1.5 3.5h0m-.7 .9h0m5.4 .3h0m-5.3 .6h0m4.5 .9h0m-5 .4h0m1 .1h0m4.5 .4h0m-4.2 .8h0m-.4 1.1h0m-.6 .4h0m3.4 .7h0m.6 0h0m-3.7 .5h0m3.7 .6h0m-4.4 .4h0m4.1 .6h0m-1.2 .2h0m2.1 .3h0m-4 .8h0m-.9 1.2h0m-.1 1h0m3.6 1h0m1.1 2.8h0m-4.4 1.1h0m1.6 .1h0m.9 1.7h0m-1.7 .9h0m-.7 .1h0m3.7 .8h0m-1.8 1h0m1.6 0h0m-2.3 .5h0m.4 3.7h0m-1.2 .3h0m1.8 2h0m2 .1h0m-4.5 .7h0m5.7 .4h0m-4.9 .3h0m4 .7h0m.7 .2h0m-4.2 1.2h0m1 2.6h0m.2 .8h0m1.6 .1h0m1.3 .2h0m-4.9 .6h0m2.2 .5h0m1.7 .7h0m-4.2 .2h0m1.9 .1h0m-2.2 .9h0m1.5 .1h0m-.2 .7h0m3.2 .4h0m-4.2 2.5h0m2.5 .3h0m2.6 .4h0m-3.5 .6h0m.2 .3h0m.2 .3h0m-2.4 .6h0m4.1 1.6h0m.6 .7h0m-.5 .3h0m.3 3.4h0m-2.6 .9h0m.9 .5h0m-1.7 0h0m4.8 .4h0m-5.8 1.1h0m3.2 .4h0m-3.1 .5h0m.9 .8h0m3.6 3.7h0m-2 1.4h0m-.6 1.2h0m-1.1 1h0m1.7 1.3h0m2.8 .5h0m-.3 2h0m-3.8 1.2h0m4.3 3.1h0m-4.9 .1h0m1.2 .1h0m.3 .3h0m-1.2 .4h0m.8 1.4h0m1.3 1.5h0m1.9 0h0m-2.3 .1h0m1.5 .9h0m1.7 .1h0m-4.5 .2h0m-1.2 0h0m2.2 1.1h0m3.1 .2h0m-4.8 .9h0m4.7 .7h0m-3.8 1.8h0m2.1 .1h0m1.2 1.1h0m-3.8 .4h0m2 .2h0m1.4 .1h0m-1.1 2.2h0m-1.1 0h0m2.6 .1h0m-2.3 1.1h0m1.4 .9h0m-.4 2h0m-3.1 .5h0m4.5 .2h0m-5 .8h0m1.3 1.6h0m-1.3 2.9h0m.4 .1h0m5.4 1.9h0m-4.8 .8h0m-1.1 .6h0m2.9 1h0m-.7 .8h0m-1.8 1.2h0m-.2 1.4h0m8.3-9.7h0m-2.1-1.3h0m3.9-3.7h0m1.6-2h0m-5.6-2.2h0m1.1-.3h0m3.1-1.7h0m-1.1-3.2h0m1.5-.4h0m-.6-.4h0m-.9-.8h0m1.6-1.1h0m.7-1.2h0m-.2-.1h0m-2.5-.1h0m-1.7-.3h0m1.5-1.1h0m1.7-1.4h0m-3.9-.1h0m5.2-.2h0m-.8-.1h0m.4-1h0m-1.4-.1h0m1.5-.4h0m0-2.4h0m-4.7-.7h0m5.2-1.4h0m-1-.3h0m-4.7-.7h0m2.1-.5h0m-.9-.1h0m3.8-1.3h0m-1.9-1.3h0m1.6-.3h0m-.8 0h0m.1-1.4h0m.5-.8h0m-1.4-3h0m-2.1-.2h0m2.9-.1h0m-.8-.1h0m-.1-.1h0m1.9-.8h0m-4.1-1.5h0m1.2 0h0m2.9-.3h0m-2.6-1.1h0m-.8-.3h0m-.4-1.2h0m1.3-1.5h0m0-.1h0m1.9-.3h0m-1.1-.1h0m.8-.6h0m-.2-2.3h0m1.9-4.8h0m-3.9-.9h0m0-.4h0m1.5-.7h0m.2-.4h0m.5-1h0m.6-.1h0m-.3-1.1h0m-.3-1.1h0m-.4-.1h0m-.2-.8h0m-2.5-2h0m3.7-.1h0m-1.5-1h0m.3-.4h0m1.7-.6h0m.3-1.3h0m-.8-.3h0m-4.9-.2h0m1.6-.9h0m3.3-.4h0m0-.3h0m-1.4-1.2h0m-3.3 0h0m2.1-.4h0m.9-1.2h0m-2.1-1.3h0m.4-.2h0m-1.2-.5h0m1.7-1.2h0m-.5-.4h0m.8-3.8h0m-.2-.3h0m2.5-.1h0m-1.7-.8h0m1.1-.2h0m-.9-3.5h0m-.9-1.5h0m-.1-.3h0m-1.9-.5h0m2.8-.3h0m.7-.8h0m-.4-1h0m-1.4-.1h0m-1.6-.2h0m4.4-1.5h0m-.4-2.1h0m0-2.7h0m1-1.2h0m-1.6-.9h0m.6-2.7h0m-1.6-.8h0m-2.7-.1h0m.3-1.5h0m.9-1.9h0m.1-.3h0m6.2 10.9h0m.9 .9h0m-.2 1.2h0m1.8 1.1h0m1.1 1.3h0m-3 .6h0m2 .5h0m.1 .1h0m-1.1 .1h0m-1.6 .9h0m4.4 .3h0m-.3 2.9h0m-.5 .1h0m-.2 .6h0m.6 1.9h0m-5.1 .6h0m2.9 1.9h0m-1.1 1h0m1.8 .8h0m1.7 .3h0m0 .1h0m-1.5 .2h0m-3.8 .7h0m4.6 1h0m-2.4 .3h0m1.7 .1h0m-3.7 .3h0m3.4 .3h0m.9 .2h0m-1.5 .5h0m-2.2 1.6h0m2.5 2.5h0m1.6 .4h0m-.6 .2h0m-.5 .5h0m.5 .5h0m-2.1 .1h0m1.1 .6h0m-2.8 0h0m1.2 .3h0m-1.2 .2h0m4.9 .2h0m-3.5 .7h0m-.1 .8h0m3.5 1.2h0m-5.4 .1h0m4.1 .1h0m.1 .9h0m.9 .5h0m-1 2.1h0m-2.5 1.9h0m-1.5 .5h0m.1 .5h0m5 .9h0m-4.8 .1h0m1.7 .1h0m-.2 .5h0m2.1 2.7h0m-.3 4.8h0m-1.2 .2h0m2.6 .1h0m-.6 .7h0m-4.6 1.1h0m3.5 .2h0m-3 0h0m4.9 1h0m-4.5 .1h0m4.1 0h0m.4 .1h0m.4 .8h0m-2.3 .6h0m-1 4.6h0m-.5 .1h0m1.4 1.7h0m2 .9h0m-2.8 .7h0m3.2 .2h0m-4 .1h0m1.3 .2h0m-1.5 .5h0m3.8 1h0m-4.8 .5h0m2.5 .4h0m-1 2.2h0m-.1 .4h0m1.6 .9h0m-.2 1h0m1 .3h0m.9 2.5h0m.4 .5h0m-2.4 1h0m-.6 .1h0m.8 .6h0m-1.6 1.6h0m2.1 .3h0m-4.2 .7h0m.6 1h0m3 .1h0m-2 0h0m2.3 0h0m-2 3.2h0m4.7-14.9h0m1.2-4.2h0m-.9-.8h0m.3-4.8h0m-.7-.1h0m2.5-4.7h0m.9-5.5h0m1.1 0h0m-2.3-.8h0m-.4-.9h0m-2.2-1.6h0m4-.8h0m-1.6-1h0m-.8-.5h0m1.1 0h0m-2-.9h0m3.3-.5h0m-2.1-.1h0m3.7-3h0m-3.8-.5h0m-.6-.2h0m.4-.8h0m.1-.5h0m3.6-1.5h0m-1.1-1h0m-3.7-1.3h0m1.6-.9h0m-1.1-1.6h0m-.1-.5h0m1.7-.1h0m1.6-1.4h0m-.9-2.6h0m-3-1.2h0m4.2-.7h0m-1.3-1.1h0m-2.8-.1h0m4.2 0h0m-1.5-.1h0m-1.1-.2h0m0-.4h0m2.1-1.4h0m1.1-.7h0m-.2-2.3h0m-2.6-.5h0m-1.3-.9h0m1.1 0h0m-.8-1.1h0m1.8-.9h0m.1-.2h0m-3.2-1.4h0m-.2-.1h0m2.1-.7h0m-.1-.2h0m-.4-.1h0m-1.5-2.1h0m6.7 12.1h0m1.5 2.6h0m-1.5 .8h0m-.6 6h0m3.7 2.1h0m0 3.6h0m-2.6 .6h0m-.8 .1h0m1.3 .5h0m-.1 .6h0m-1.6 1.6h0m2 1.7h0m-.3 1.7h0" stroke="#a77d65" stroke-width="4.00" stroke-linecap="round" fill="none"/><path d="M125.9 280.2h0m26.1 131.3h0m6.6-26.2h0m.8 13.9h0m3.3 18h0m4.1-30.2h0m.8-20.5h0m-.5-39.2h0m1.3 45h0m4.9 17.9h0m12.7 27.8h0m6-4h0" stroke="#a77d65" stroke-width="4.00" stroke-linecap="round" fill="none"/><path d="M171.2 406.5h0m1.5 5.4h0m1.3 1h0m2.6 1.6h0m2-2.5h0m-4.3-.5h0m.7-1.5h0m1.8-.2h0m2.3-1h0m-2.2-3h0m2-2.1h0m-.8-2.8h0m.4-6.5h0m5.4 .9h0m-1.8 6.3h0m3.3 3.1h0m-2.3 .1h0m2.8 2.3h0m-2.5 1h0m1.7 3.5h0m-.4 .2h0m-3.6 1h0m2.4 1.3h0m5.3-7.9h0m-.2-1.3h0m.4-7.3h0" stroke="#a77d65" stroke-width="4.00" stroke-linecap="round" fill="none"/><path d="M174 394.9h0m-.2 10.3h0m.2 6.3h0m1.2-4.6h0m-.8-2.9h0m2.7-4.3h0m5.7-.5h0m1.3 1.3h0m.7 8.8h0m2.4-2.5h0m-.9-1.9h0m.9-.1h0m-.3-4.8h0m-.8-3.6h0" stroke="#069bb9" stroke-width="4.00" stroke-linecap="round" fill="none"/><path d="M146 384.1h0m-.9 .8h0m3 1.1h0m-1.7 .5h0m.8 2.8h0m-2 .9h0m3.7 .4h0m2-4.2h0m.8-.7h0" stroke="#a77d65" stroke-width="4.00" stroke-linecap="round" fill="none"/><path d="M195 380h0m-3 15h0m7-33h0" stroke="#069bb9" stroke-width="4.00" stroke-linecap="round" fill="none"/><g opacity="0.92"><path d="M206.4 298h0m2.9 .7h0m-.8 .5h0m-.1 .5h0m1.2 .6h0m-2.5 1.7h0m-.4 .1h0m1.8 .3h0m-2.3 .5h0m3 .1h0m-2.7 .2h0m2.5 .8h0m-3.4 .1h0m.3 .7h0m3.8 5.4h0m-1.5 1.8h0m-1.2 .1h0m.9 2.2h0m-.8 1.1h0m.3 5.8h0m1.4 2.1h0m7 25.4h0m-1.9-2.1h0m-.1-.8h0m1.4-3.5h0m.3-1.3h0m-1.6-.1h0m-1.9-2.6h0m3.2-1.6h0m-2.9-2h0m1.4-.8h0m-.4-.4h0m.2-.5h0m1-.5h0m.8-1.6h0m-2.8-2h0m1.2-2.2h0m-.3-.1h0m-2.8-4.8h0m1.3-.2h0m-.5-2h0m-.5-4.9h0m.4-.6h0m3.6-3.3h0m-3.7-.3h0m3.7 0h0m.6-2h0m-1.8-1.5h0m-.1-.2h0m.4 0h0m-1.5-.3h0m-1.6-.7h0m-.6-.2h0m.6-1.6h0m.4-.6h0m.9-.5h0m-1.8-1.1h0m.6-1.3h0m-.1-.4h0m3.2-1.8h0m-2.9-1.8h0m.2-1.5h0m-1-.5h0m.5-.1h0m-.1-.9h0m4.6 0h0m4.7-2.8h0m.4 0h0m-3.5 .6h0m-.4 .6h0m1.1 2h0m3.7 1.5h0m-.9 1h0m.5 .1h0m.3 .2h0m-.1 2.4h0m-1.2 0h0m-1.9 .3h0m2.9 1.4h0m-2 2.9h0m.2 1.1h0m.9 .5h0m-4.1 .1h0m3 1.3h0m-.3 .1h0m-2.2 .3h0m4.5 0h0m-4.3 1.5h0m1.7 1.3h0m.1 .1h0m.3 1.5h0m2.1 .5h0m-1.1 2h0m-2.1 0h0m3.9 .2h0m-.5 5.7h0m.7 4h0m-3.1 2h0m1.7 .2h0m-3.2 0h0m.8 .1h0m-1.9 .7h0m4.8 .5h0m-1.3 1h0m1.6 .1h0m-2.7 1.9h0m-.3 .3h0m-.4 .6h0m-1 .9h0m3.5 0h0m-2.2 .2h0m-.5 .4h0m-.4 .1h0m.6 .2h0m3.6 .9h0m-4.7 .4h0m2.2 .4h0m-1.7 1.2h0m-.9 .9h0m2.1 .1h0m-1.8 .1h0m2.8 .1h0m-.2 .6h0m2.7 .8h0m-3.1 1.9h0m1.5 1.5h0m-3.7 .6h0m2.7 .6h0m-1.1 .8h0m3.6 .8h0m-3.1 .1h0m.3 2.1h0m-2.6 .2h0m1.6 1.4h0m1.4 .8h0m.9 .5h0m-2.7 1h0m3.5 .1h0m-2.6 .8h0m.5 1.7h0m-2.6 .5h0m.9 .6h0m2.8 .9h0m4.3 8.4h0m1.2-1h0m1.4-.1h0m-.9 0h0m.7-2.5h0m-2.5 0h0m.4-.4h0m.6-.4h0m-1.7-.2h0m2.8-3h0m.7-4h0m-4.3-.5h0m.3-2h0m2.7-.3h0m-3.3-1.1h0m5.1-3.3h0m-4.3-.7h0m3.2-.4h0m.5-.4h0m-1-.8h0m.7-2.9h0m-.9-.3h0m-1.6-.2h0m3.6 0h0m-.1-1.4h0m-.8-.5h0m-2.7-1h0m.2 0h0m1-1.3h0m-.7-1.1h0m1.5-1.3h0m-1.6-1h0m.4-.4h0m-2.3-1h0m3.6-1.9h0m-3.1-.3h0m.2-2.3h0m1.1-.1h0m-.1-.5h0m2.7-.5h0m.2-.7h0m-4.5-.2h0m2.5-1.2h0m.9-1.7h0m1.6-1.5h0m-3.4-1.3h0m-.9-.1h0m.6-.6h0m-1.3-.4h0m3.6-.4h0m-1.2-.2h0m-1.5-.1h0m2.9-.3h0m-1.5-1.3h0m1-.4h0m-2.3-.5h0m1.1-.2h0m1.1-.1h0m-2.7-.7h0m.5-.9h0m-1.1-.2h0m3.1-.6h0m-3.3 0h0m.9 0h0m2.2-.8h0m-3.4-3.4h0m5.3-1.1h0m-3.1-.9h0m.4-.7h0m1.4-.3h0m-3.5-.2h0m.2-.2h0m3.7-.1h0m-1-.3h0m.4-.3h0m1.3-.4h0m-4-1h0m.7-1.7h0m.1-.1h0m-.6-1h0m3.2-.4h0m1.3-.3h0m-4.5-.1h0m.6-1.1h0m1.7 0h0m-3.1-1.1h0m.8-.1h0m1.1-.2h0m1.7-1.6h0m-2.8-.2h0m.3-2.2h0m5.3 1.3h0m-.8 4h0m.1 3.8h0m-.4 2h0m4.8 0h0m-.3 .6h0m-3 .6h0m-.1 .9h0m4.4 .5h0m-4.4 .3h0m3.6 1.9h0m-.6 1h0m-3.8 .1h0m2.8 1h0m.4 1.5h0m2.1 .5h0m-4.4 .7h0m1.2 .2h0m2.7 .7h0m-2.2 .2h0m-.6 .3h0m.8 .7h0m-3.3 0h0m2.2 1.3h0m-.1 .6h0m0 .7h0m.1 .4h0m3.3 3.5h0m-4.8 0h0m2.8 .6h0m-3.5 .4h0m4 .2h0m-1.7 .2h0m.2 .1h0m2 .4h0m-1.7 2.3h0m.9 0h0m.5 .7h0m.5 0h0m.1 .5h0m-1.6 .1h0m-.9 .1h0m3.3 .5h0m-1.7 1.4h0m.4 1.4h0m-3 .2h0m3.2 .3h0m-3.8 .8h0m1.6 .6h0m2.9 1h0m-3 4.1h0m3.4 .6h0m-4.8 .7h0m2.4 .1h0m-1.1 1.3h0m3.7 .4h0m-5.4 .4h0m3.2 .2h0m1.4 2.4h0m-1.3 .8h0m-2.7 .2h0m1.9 1.2h0m1.1 .3h0m-1.8 1.8h0m2.1 .2h0m-1.7 .2h0m-2.7 0h0m3.8 .1h0m-2.1 .2h0m2.9 .4h0m-.2 .1h0m1.2 2.1h0m-.2 .1h0m-.6 0h0m1.1 .9h0m-3.7 .3h0m2.5 1.1h0m-1 .2h0m.9 1.6h0m-1 1.8h0m1 .8h0m-2 .3h0m2.8 .6h0m-2 .4h0m2.5 .3h0m-1.8 1.9h0m-1 .2h0m1.8 .5h0m-3.7 1.7h0m-.4 .4h0m4.9 .2h0m.3 .6h0m-1.5 .2h0m5.3 7h0m-1.5-.2h0m2.1-1.6h0m-3.1-1.3h0m4-.8h0m-1.4-2.6h0m-1.7-1h0m.1-3h0m-.1-1h0m.4-1.7h0m3.3-.1h0m-4.8-.6h0m3.6-.6h0m.5-1.8h0m-2.3-.9h0m1.9-.6h0m-2.9-.6h0m3.3-.2h0m-3.6-.3h0m-1.6-.3h0m3.7-.5h0m-.8-.6h0m-.2-.6h0m1-3.6h0m-2.9-2.2h0m1.7-.7h0m-1.4-.4h0m-.4-1.1h0m4.3-1h0m-1.4 0h0m-.2-1.7h0m-2.7-.1h0m.8-1.1h0m2.5-1.1h0m-.2-.2h0m1.4-1.2h0m-3.7-1.2h0m.6-1.4h0m.9-1.1h0m-2.9-.6h0m5.2-.2h0m-.1-1.5h0m-4-.2h0m-1.2-.7h0m3.8-.1h0m-2.9 0h0m.4-2.1h0m1.4-.8h0m2.9-.5h0m-4.2-.2h0m1.2-.3h0m-1.6-.2h0m1.2-.5h0m-1.4-.3h0m3.5-1.6h0m-.9-4.5h0m-2.5-1.8h0m0-.3h0m-.3-1.3h0m3.9-.3h0m-1.9-.6h0m-1.2-1.4h0m.4-2.2h0m2.5-.1h0m-1.9-.7h0m-.8-.4h0m2.6-.1h0m-.8-.8h0m-2.8-.4h0m.8-1.6h0m3-.9h0m-3.7-1.1h0m2.8-.2h0m.5-.8h0m3 0h0m2.7 1.4h0m.3 .9h0m-1.9 .3h0m2.4 .2h0m-2.1 .5h0m1.8 .7h0m1.4 .8h0m-5.3 .3h0m5.6 .7h0m-3.5 .6h0m-1.6 1.4h0m-.1 2.4h0m4.2 1.2h0m-4.2 1.2h0m.1 .8h0m4.6 .4h0m-2.8 1.1h0m-.9 1.9h0m-.3 .4h0m1.3 .1h0m-.1 .6h0m.2 1.3h0m.5 .6h0m.2 .2h0m2.3 .5h0m-4.7 1.1h0m3 1.4h0m-1.5 .1h0m-1.9 3.7h0m.5 1.1h0m2.6 1.1h0m-1.4 .4h0m-2.1 .2h0m3.9 .3h0m.5 .1h0m-1.7 .5h0m2.5 .1h0m-4.7 2.5h0m2.7 .2h0m-.7 .1h0m-2 .3h0m1.4 .1h0m2 1.1h0m-2.5 0h0m-1.4 .6h0m3 .3h0m1.5 1.5h0m-3.5 .3h0m1.1 .2h0m-2 .4h0m.2 .8h0m3.2 0h0m-3.8 1.1h0m1.5 .3h0m-1.2 .7h0m.8 1h0m-1.1 .6h0m3.6 .3h0m1.3 0h0m-.5 2h0m.6 1.6h0m-.1 3h0m.3 1.5h0m-4.6 .8h0m.5 .1h0m.4 .1h0m-1.3 .3h0m3.7 .1h0m-1.9 2.3h0m-.4 .7h0m1.3 .1h0m1.1 1h0m1.8 2.4h0m-4.8 .1h0m-.9 .2h0m4.2 .2h0m-4 .7h0m3.1 .1h0m1.7 .6h0m-.4 .5h0m-4.7 .8h0m3.1 .3h0m-1.9 .2h0m.8 .3h0m0 1.2h0m1.2 0h0m-.6 1.4h0m2.9 .4h0m-3.4 .4h0m-2.1 .1h0m4.3 .6h0m-1.1 0h0m.5 .4h0m-2.4 .1h0m4.5 1h0m-.6 .2h0m-4.3 2.4h0m4 .1h0m.9 1.1h0m-3.9 .4h0m.7 2.4h0m1 1.9h0m0 .4h0m1.2 1.2h0m.6 .9h0m1.7 4.9h0m2.8-.7h0m1.2-.9h0m-4-.2h0m2.3-.3h0m-.6-.8h0m.8-.6h0m-.7-.9h0m-2.8-2.1h0m3.1-.6h0m-1.7-5h0m-.8-1.2h0m2-2.5h0m1.6-.9h0m-.2-.6h0m-3.5-.3h0m-.4-.2h0m.3-.3h0m4.4-.1h0m-4.3-1.7h0m.2-.2h0m.9-2.3h0m.8-.1h0m-1.3-.9h0m4.5-.6h0m-5.1-.8h0m.8-1h0m.6-1.1h0m3.6-.8h0m-.2-1h0m-2.7-.6h0m.8-.1h0m-2.6-.7h0m1.6-.2h0m3.2-1.4h0m-4.4-.8h0m-.8-2.6h0m3.7-.3h0m-.3-.9h0m.4-.1h0m0-.5h0m-.8-.4h0m-3-1.2h0m5-.3h0m-1.1-.8h0m1.4-.3h0m-4.6-.5h0m1.9-.7h0m2 0h0m-.8-.4h0m-1.7-.4h0m-2.4-.2h0m2.6-.1h0m-2.2-2.8h0m4.5-.3h0m.7-1h0m-5.4-.8h0m3.1 0h0m2-.3h0m-3.5 0h0m3.4-4h0m-2.6 0h0m-1.1-.8h0m3.2-.5h0m-3.4-2.4h0m3.4 0h0m-3.3-1.4h0m-1.1-.8h0m3-.9h0m.7-.3h0m-4-1.5h0m.1-.1h0m.7-.2h0m3-.8h0m.2-.4h0m-1.3-.7h0m-1.5-1h0m.2-2.5h0m3.2-3.1h0m-3.8-.4h0m.1-1.8h0m3.9-1h0m-3.8-.5h0m-1.2-1.8h0m4.5-1.2h0m-3.1-.5h0m-.2-1.6h0m2.7-.2h0m-3.6-.2h0m0-.9h0m.8 0h0m-.4-.3h0m-.7-1.1h0m9.7 9.6h0m-3.4 .1h0m-.3 .4h0m2.6 2h0m-1 1.5h0m-.3 .7h0m1.6 .2h0m2 .2h0m-1.7 1.1h0m-1.4 0h0m1.3 .3h0m2.4 .3h0m-.9 2.5h0m-1.1 1.8h0m-1.7 .6h0m.9 0h0m1.6 .1h0m-1.3 1.6h0m2.5 1.1h0m-1.9 1.3h0m-2.3 1.9h0m1.4 .3h0m3 .8h0m-.6 2.7h0m-4.1 .2h0m1.2 .2h0m.2 1.3h0m-1.4 2h0m3.4 .2h0m-1.9 .8h0m1.1 0h0m1.2 .4h0m-2 2.2h0m1.7 .1h0m-.5 1h0m-.1 .4h0m0 .5h0m-1.6 .5h0m.7 .1h0m-2.9 .4h0m5.1 2.5h0m-2.1 .6h0m.5 .7h0m-1.1 0h0m1.8 .2h0m-3.4 3h0m1.1 2h0m-.8 1.6h0m2.1 2.3h0m1.4 .1h0m-3.5 .2h0m1.3 .8h0m2.5 .1h0m.5 .2h0m-4.4 .7h0m3.3 .7h0m-.7 1.5h0m-.4 .8h0m-2.2 1.1h0m4.2 1h0m-2.6 1h0m1.5 1h0m-4.1 .7h0m5.8 .9h0m-.6 2.2h0m-1.2 2.8h0m-1.5 .3h0m-.9 .1h0m-1.3 1.1h0m2 3.5h0m3 .3h0m-4.5 .6h0m4 1.3h0m.3 .2h0m.5 .7h0m-1.9 .9h0m0 .5h0m1.9 .7h0m-2.1 .2h0m-2.2 .3h0m.4 .6h0m1.3 1.1h0m.4 .6h0m4.3-6h0m1.3-.7h0m-2.9-.5h0m2.2-.7h0m-1.6-.3h0m-.5-.6h0m0-1.6h0m.6-.1h0m2-.1h0m-2.4-2.5h0m2.6-.3h0m-.8-2.7h0m1.1-.8h0m-.3-.6h0m.1-.4h0m-1.7-5.2h0m3.2-1.2h0m-2.5-.1h0m-.2-1.3h0m3.2-.2h0m-3.5-1.5h0m1.4-.1h0m2.9 0h0m-1.5-.1h0m-.4-.8h0m-2.5-.1h0m-.9-.2h0m1 0h0m-1-.1h0m-.5-3.6h0m5.3-.3h0m-2.2-4.1h0m-3.3-.1h0m3.7-1.5h0m-1.3-.8h0m-.1-1.3h0m-2.2-1.4h0m5.6-.3h0m-3.6-.1h0m1-1.3h0m-.6-.9h0m3.1-.3h0m-1-.9h0m-4.4-2.7h0m5.3-.2h0m-3.4-.4h0m2.5-1.8h0m.5-1.2h0m-3.4-.1h0m2.4-.2h0m-3-1h0m4.7-.5h0m-5.8-.5h0m3.3-.6h0m-2 0h0m-1-.4h0m.1-.2h0m4.6-.6h0m-2.5 0h0m-.2-.4h0m2.2-.6h0m-.8-1h0m-2.5-2.5h0m-.2-.2h0m.8-1.1h0m-1.5-3.4h0m1-.4h0m5.5 12h0m-.5 6.7h0m0 5h0m.1 3.9h0m1.1 2.3h0m-.9 .3h0m.8 1.8h0m-.8 .6h0m.6 1.6h0m-.9 2.9h0" stroke="#a3a6aa" stroke-width="4.00" stroke-linecap="round" fill="none"/></g><path d="M201.7 293.7h0m42.3 2.9h0m3.5-6.6h0m5.3 20h0" stroke="#a3a6aa" stroke-width="4.00" stroke-linecap="round" fill="none"/><path d="M217.8 348.1h0m4 1.3h0m-1.5 3.2h0m-2.6 1.7h0m1.1 .1h0m-1.9 .2h0m2.2 .6h0m.7 .2h0m-2.5 .1h0m4.3 0h0m-4.7 .1h0m.4 .1h0m.7 1.3h0m1.1 .7h0m-1.7 .7h0m1 .1h0m2.6 1.2h0m-1.7 .3h0m1.7 .6h0m.1 3.3h0m5.2 5.5h0m-.8-.1h0m-.3-1h0m-2.7-4.9h0m1.5-.2h0m-.8-.3h0m-.4-.8h0m-.1-.2h0m1.7 0h0m2.2-1.1h0m-.6-1.9h0m.3-.3h0m-1.1-2.1h0m1.8-.8h0m-3.5-.2h0m-.4-1h0m.9-.6h0m-.2-1.1h0m.3-2.2h0m1.6-.5h0m-2.6-4.1h0" stroke="#a3a6aa" stroke-width="4.00" stroke-linecap="round" fill="none" stroke-opacity="0.92"/><clipPath id="gcl"><path d="M205.9 300.6L205.1 304.2L205.6 310.3L214.7 346.3L217.7 354.1L221.2 359.2L225.7 363.6L237.0 370.4L240.6 373.4L243.0 377.1L246.5 385.0L249.2 388.4L252.5 390.6L254.1 391.0L257.3 390.2L261.6 385.9L263.9 380.4L264.8 374.1L265.4 354.5L264.9 343.9L263.5 335.5L260.5 325.3L256.9 317.5L252.2 310.6L244.7 303.3L234.1 296.0L226.4 292.6L220.4 291.7L214.4 292.6L209.3 295.7Z"/></clipPath><path clip-path="url(#gcl)" d="M208.5 285V400M238.5 285V400M268.5 285V400M195 319.5H275M195 357.8H275M195 396.1H275" stroke="#7f8286" stroke-width="1.9" stroke-dasharray="2.4 1.2" stroke-opacity="0.5" fill="none"/><path d="M230.7 304.3h0m3.2 2.8h0m-.8 .5h0m-5 .1h0m1.7 3.5h0m2.5 4.1h0m1.9-.2h0m.6-1h0m.7-3.7h0m-.9-1.3h0m1.4-4.1h0m.3-.8h0" stroke="#a77d65" stroke-width="4.00" stroke-linecap="round" fill="none"/><path d="M243.4 328.5h0m1.4 0h0m-1.9 .7h0m0 4.9h0m1.9 2h0m2-1.8h0m3.3-2.3h0m-1.5-2.5h0" stroke="#a77d65" stroke-width="4.00" stroke-linecap="round" fill="none"/><path d="M238.6 346.7h0m0-4.4h0m-.2-.7h0m-.1-1.3h0m.4-1.3h0m.2-.2h0m2-1.1h0m3.8 .7h0m-4.1 .1h0m5.1 2.3h0m-.8 2h0m-4 .2h0m1.4 .3h0m-.9 .1h0m4.5 2.1h0m-3.6 1.8h0m-.5 4.4h0" stroke="#a77d65" stroke-width="4.00" stroke-linecap="round" fill="none"/><path d="M257.4 329.2h0m-1.7 2.5h0m2.2 1h0m1.3 3.2h0m4.1-1.2h0m-4.8-1.3h0m2.5-7.8h0m3.7 4.7h0m0 3.6h0" stroke="#a77d65" stroke-width="4.00" stroke-linecap="round" fill="none"/><path d="M263.6 345.7h0m-1.9-1.3h0m1.9-.6h0m-1.4-2.8h0m-.3-.3h0m4 3.5h0m-1.3 1.8h0m1.7 3.5h0m-1.7 1.4h0" stroke="#a77d65" stroke-width="4.00" stroke-linecap="round" fill="none"/><path d="M238.6 354.2h0m-.3-7.5h0m3.2 3.4h0m-.9 1.2h0m.3 .4h0m-.8 1.7h0" stroke="#a77d65" stroke-width="4.00" stroke-linecap="round" fill="none"/><path d="M233.3 373.7h0m2.9 4.4h0m-1.9-3h0m2.3-.5h0m-.9-1.2h0m1.3-.4h0m1-.9h0" stroke="#a77d65" stroke-width="4.00" stroke-linecap="round" fill="none"/><path d="M222 300.3h0m.3 .8h0m2.2-.1h0m.2-1.7h0" stroke="#a77d65" stroke-width="4.00" stroke-linecap="round" fill="none"/><path d="M250.2 319.7h0m.6-4.3h0m2.1 4.3h0" stroke="#a77d65" stroke-width="4.00" stroke-linecap="round" fill="none"/><path d="M214.5 410.6h0m1.5-.7h0m-1.3-2.4h0m-.8-6.8h0m-.2-.2h0m2-2.8h0m.3-.7h0m4.8-3.1h0m-1 1.4h0m-.8 .2h0m3 .1h0m-1.2 .8h0m-1.7 1.1h0m-.3 .1h0m.1 3.7h0m-1.8 2.4h0m3.2 1.5h0m1.7 .4h0m-2.6 2.7h0m-2.2 1.2h0m-.4 1.5h0m4.5 1.2h0m-1.8 .8h0m-1.9 .5h0m3.2 .6h0m.8 .8h0m-3.5 2h0m1 0h0m7.5 5.9h0m-3.7-.5h0m3.8-1.6h0m-1.4-.6h0m-1.4-.3h0m1.2-2.8h0m-1.1-1.3h0m2.1-.4h0m-3.5-.1h0m5-.8h0m-4.4-.7h0m2-1.5h0m1-.2h0m-1.9-.9h0m.5-2.2h0m3-1h0m-1.9-.5h0m-2.8-1.2h0m3.4-.2h0m-3.6-1.6h0m.1-2.1h0m4.4-.3h0m-5.4-.5h0m5.5-1h0m0-.6h0m-.6-.6h0m-3.9-1h0m.5-1.2h0m4.3-.5h0m-3-1.7h0m-1.7-.2h0m1.8-.2h0m1.6-1h0m-3.6-.6h0m3.4-.6h0m-3.8-.2h0m4.9-.6h0m-4.8-.1h0m5.1-.6h0m-1.4-.3h0m1-1.4h0m5.4-1.3h0m1 0h0m-.4 1.1h0m-1.7 .4h0m1.2 1.3h0m-4.4 1.9h0m-.3 .2h0m5.7 .9h0m-3.9 1.9h0m.1 .2h0m-.3 1.9h0m-.2 .1h0m.6 0h0m-.4 .3h0m2.1 .8h0m-1.9 1.2h0m4 1.4h0m-4.8 .7h0m-1 1.2h0m4.6 1.4h0m-2.6 .2h0m2.1 1.3h0m-1.5 .3h0m-1.8 4.8h0m4.2 .8h0m-2.3 .1h0m-.6 .8h0m3.6 2.6h0m-2.4 .2h0m1.3 .7h0m-3.3 .2h0m1.2 .3h0m.4 .7h0m2.8 .3h0m-5.3 1.1h0m5.4 .1h0m-4 0h0m3.8 1.8h0m.3 1h0m4-2.2h0m-.8-.1h0m-2.4-2.2h0m.9-2.4h0m3.5-.8h0m-.9-.6h0m-1.5-1h0m.7-1.1h0m-1.4-4h0m0-.9h0m1.7-.4h0m.1-1.4h0m-1.6-.2h0m.5-.4h0m-2.1-.4h0m4-.1h0m-4.1-.5h0m.8-2.3h0m1.9-2.4h0m-2.9-.2h0m5.5-.1h0m-4.7-.5h0m-1-1.3h0m5.7-1.9h0m-2.3-.7h0m-.1-.5h0m-1.6-.3h0m3.2-2.6h0m-4.7-.8h0m1.5-.6h0m5.9 2.3h0m0 1.2h0m.3 2.6h0m-1 .2h0m3.2 0h0m-.7 .1h0m-2.5 .1h0m-.1 .7h0m1.5 .5h0m-.5 .9h0m-1.3 1h0m2.3 .7h0m-1.9 1.8h0m4.5 2.4h0m-2.5 .4h0m1.3 .2h0m1 .2h0m-1.3 .2h0m.6 .7h0m-.4 .2h0m-2.6 1.3h0m-.1 .5h0m.7 2.1h0m1.3 1.5h0m-.2 1.6h0m1.4 .9h0m-1 1h0m.2 .4h0m-1.9 2.3h0m4.3-8.4h0m1.9-.8h0m-.8-1.4h0m-.9-.9h0m-.1-.4h0m.6-2h0m-.2-.7h0m-.3-.3h0m.1-3.3h0m1.4-.4h0m-1.8-2.8h0" stroke="#d9714a" stroke-width="4.00" stroke-linecap="round" fill="none"/><path d="M206.9 409.5h0m4.8 4.6h0m.2-3.3h0m3.9-.1h0m-4-.7h0m-.2-.3h0m.2-5.4h0m5.2-5h0m.5 5.7h0m1.7 2.1h0m.7 .6h0m-2.1 1.7h0m-1.3 1.6h0m3.6 1.3h0m-.3 .1h0m1.5 1.7h0m-4.5 .6h0m.9 1.7h0m5.2-4.9h0m.9-2.5h0m-1.3-.6h0m.9-.4h0" stroke="#a77d65" stroke-width="4.00" stroke-linecap="round" fill="none"/><path d="M191.3 385.6h0m-.9-1.7h0m.9-5.9h0m6.1-15.2h0m-1.7 2.2h0m1.1 3.2h0m-1.4 2.1h0m.7 2.7h0m-3.3 .6h0m1.4 .8h0m1.4 .9h0m2 4.7h0m-4.3 .1h0m1.2 1h0m.1 .2h0m2.4 2.4h0m-3.4 .6h0m3.9 .2h0m-4.9 .9h0m1.3 .1h0m-.4 .1h0m-1.3 .9h0m3.4 .1h0m-2.9 2.3h0m3.1 1.1h0m-2.7 .9h0m.2 0h0m0 .7h0m6.1-10.4h0m1-4.5h0m.8-4.9h0m-2.3-2.9h0m.6-1.2h0m.5-4.3h0" stroke="#6f63a9" stroke-width="4.00" stroke-linecap="round" fill="none"/><path d="M209.3 374.8h0m-.5 2.2h0m.3 .4h0m2.4 4.6h0m1.6-3.8h0m-.9-.9h0m-1.6-1h0m1.6-1.5h0m.9-3.3h0m.8-1.2h0m-.3-1.1h0m-1.5-1.8h0m-.9-.7h0" stroke="#6f63a9" stroke-width="4.00" stroke-linecap="round" fill="none"/><path d="M189.9 398.5h0m5.8-2.7h0m7.3-18.8h0m3.1-41.3h0m5.5 63.8h0m1.8-51.2h0m-1.5-11h0m9.9-2.1h0m-2.6 18.8h0m0 15.2h0m6.5 23.5h0m.8-44.4h0m4.7-4.7h0m-2.6 55.9h0" stroke="#6f63a9" stroke-width="4.00" stroke-linecap="round" fill="none"/><ellipse cx="232.6" cy="339.2" rx="57.7" ry="29.7" transform="rotate(68.9 232.6 339.2)" fill="none" stroke="#a6a8ac" stroke-width="1.75"/><ellipse cx="207.3" cy="369" rx="32.4" ry="19.7" transform="rotate(-48 207.3 369)" fill="none" stroke="#776bad" stroke-width="1.65"/><circle cx="227.8" cy="404.6" r="23.3" fill="none" stroke="#d9784f" stroke-width="1.65"/><rect x="30.0" y="258.7" width="248.5" height="184.9" fill="none" stroke="#888888" stroke-width="1.10"/><path d="M58.5 443.6v2.0M88.5 443.6v2.0M118.5 443.6v2.0M148.5 443.6v2.0M178.5 443.6v2.0M208.5 443.6v2.0M238.5 443.6v2.0M268.5 443.6v2.0M30.0 281.2h-2.0M30.0 319.5h-2.0M30.0 357.8h-2.0M30.0 396.1h-2.0M30.0 434.4h-2.0" stroke="#555" stroke-width="0.4" fill="none"/><g font-family="'Liberation Serif','Times New Roman',serif" font-size="8.0" fill="#111" font-weight="normal" stroke="#111" stroke-width="0.00"><text x="58.5" y="453.7" text-anchor="middle">−60</text><text x="88.5" y="453.7" text-anchor="middle">−40</text><text x="118.5" y="453.7" text-anchor="middle">−20</text><text x="148.5" y="453.7" text-anchor="middle">0</text><text x="178.5" y="453.7" text-anchor="middle">20</text><text x="208.5" y="453.7" text-anchor="middle">40</text><text x="238.5" y="453.7" text-anchor="middle">60</text><text x="268.5" y="453.7" text-anchor="middle">80</text><text x="26.3" y="283.8" text-anchor="end">40</text><text x="26.3" y="322.1" text-anchor="end">20</text><text x="26.3" y="360.4" text-anchor="end">0</text><text x="26.3" y="398.7" text-anchor="end">−20</text><text x="26.3" y="437.0" text-anchor="end">−40</text></g><path d="M256.3 307.8L258.3 306.2L260.4 304.7L262.5 303.3L264.7 302.0L266.9 300.8L269.2 299.6L271.5 298.6L273.8 297.6L276.1 296.7L278.5 295.9L280.8 295.1L283.2 294.4L285.5 293.8L287.9 293.3L290.2 292.8L292.6 292.4L294.9 292.0L297.2 291.7L299.4 291.4L301.6 291.2L303.8 291.1L306.0 291.0L308.0 290.9L308.1 294.4L319.0 288.9L307.9 284.0L308.0 287.5L305.8 287.6L303.6 287.7L301.4 287.9L299.1 288.1L296.8 288.3L294.4 288.6L292.0 289.0L289.6 289.5L287.2 290.0L284.7 290.5L282.3 291.1L279.8 291.9L277.4 292.6L274.9 293.5L272.5 294.4L270.1 295.4L267.7 296.6L265.3 297.8L263.0 299.0L260.7 300.4L258.5 301.9L256.3 303.5L254.1 305.2Z" fill="#a3a6aa" stroke="#222" stroke-width="0.5" stroke-linejoin="miter"/><path d="M255.2 358.8L257.8 358.8L260.4 358.8L262.9 358.8L265.5 358.7L268.1 358.8L270.6 358.7L273.1 358.8L275.6 358.7L278.1 358.8L280.5 358.8L282.9 358.8L285.2 358.8L287.5 358.8L289.8 358.7L292.0 358.8L294.1 358.8L296.2 358.8L298.2 358.8L300.2 358.7L302.0 358.8L303.8 358.8L305.6 358.8L307.2 358.8L307.2 362.7L317.2 357.5L307.2 352.3L307.2 356.2L305.6 356.2L303.8 356.2L302.0 356.2L300.2 356.2L298.2 356.2L296.2 356.2L294.1 356.2L292.0 356.2L289.8 356.2L287.5 356.2L285.2 356.2L282.9 356.3L280.5 356.3L278.1 356.2L275.6 356.2L273.1 356.2L270.6 356.2L268.1 356.3L265.5 356.2L262.9 356.2L260.4 356.3L257.8 356.3L255.2 356.2Z" fill="#7268ab" stroke="#222" stroke-width="0.5" stroke-linejoin="miter"/><path d="M254.6 410.7L256.4 412.3L258.4 413.8L260.4 415.2L262.4 416.6L264.5 417.9L266.7 419.1L268.9 420.3L271.2 421.4L273.5 422.5L275.9 423.5L278.2 424.4L280.6 425.3L283.1 426.1L285.5 426.8L287.9 427.5L290.4 428.0L292.8 428.6L295.2 429.0L297.6 429.4L300.0 429.7L302.3 430.0L304.7 430.2L306.9 430.3L306.8 434.0L317.2 429.2L307.2 423.6L307.1 427.3L304.9 427.2L302.6 427.0L300.4 426.8L298.1 426.5L295.7 426.1L293.4 425.6L291.0 425.1L288.7 424.5L286.3 423.9L284.0 423.2L281.6 422.4L279.3 421.6L277.0 420.7L274.7 419.8L272.5 418.7L270.3 417.7L268.2 416.5L266.1 415.3L264.0 414.1L262.1 412.8L260.2 411.4L258.3 410.0L256.6 408.5Z" fill="#d9744c" stroke="#222" stroke-width="0.5" stroke-linejoin="miter"/><text x="324.3" y="293.0" font-family="'Liberation Serif','Times New Roman',serif" font-size="16" fill="#111">b1</text><text x="324.3" y="363.0" font-family="'Liberation Serif','Times New Roman',serif" font-size="16" fill="#111">b2</text><text x="324.3" y="434.5" font-family="'Liberation Serif','Times New Roman',serif" font-size="16" fill="#111">b3</text><rect x="367.0" y="259.2" width="263.3" height="52.0" fill="#fff" stroke="#dcdcdc" stroke-width="0.6"/><g font-family="'Liberation Serif','Times New Roman',serif" font-size="5.4" fill="#222"><text x="378.9" y="314.8" text-anchor="middle" font-size="4.0">0</text><text x="436.4" y="314.8" text-anchor="middle" font-size="4.0">200</text><text x="493.9" y="314.8" text-anchor="middle" font-size="4.0">400</text><text x="551.4" y="314.8" text-anchor="middle" font-size="4.0">600</text><text x="608.9" y="314.8" text-anchor="middle" font-size="4.0">800</text><text x="365.3" y="267.6" text-anchor="end">4000</text><text x="365.3" y="274.4" text-anchor="end">3800</text><text x="365.3" y="281.2" text-anchor="end">3600</text><text x="365.3" y="288.1" text-anchor="end">3400</text><text x="365.3" y="294.9" text-anchor="end">3200</text><text x="365.3" y="301.8" text-anchor="end">3000</text><text x="365.3" y="308.7" text-anchor="end">2800</text></g><text transform="translate(350.8,287.2) rotate(-90)" text-anchor="middle" font-family="'Liberation Serif','Times New Roman',serif" font-size="7.2" fill="#111">Voltage(mV)</text><text x="497.5" y="318.8" text-anchor="middle" font-family="'Liberation Serif','Times New Roman',serif" font-size="2.8" fill="#222">Index</text><path d="M378.9 267.8l.1 .6l.2-.4l.1 .2l.3-.1l.2 .3l.1-.3l.2 .1l.1-.6l.1 .5l.6 .1l.3-.2l.1 .1l.2-.1l.1 .1l.2 0l.1-.2l.3 .3l.4-.4l.2 .3l.1 0l.2-.1l.1 .2l.3-.2l.3 .1l.1-.1l.2 .5l.1-.6l.2 .3l.1 .1l.1-.2l.2-.1l.3 .2l.1-.1l.2 0l.1-.2l.3 .2l.1-.2l.3 .3l.2-.2l.4 .2l.1-.1l.2 .3l.1-.4l.2 0l.1 .3l.2-.2l.1 .1l.2-.2l.1 .4l.3-.4l.3 2.3l.8 5.5l.2 .4l.1 0l.5 1.5l.1 0l.4 .9l.8 3.8l.1 1.2l.3 .9l.1-.1l.3-.7l.4-3.3l.3-1.5l.2-.1l.1 0l.2 .4l.3 .1l.7-5.2l.1-.5l.2-.4l.1 .2l.1-.5l.3-.2l.2 .4l.1-.5l.2 .1l.1 .3l.3 0l.4-.3l.2 .4l.1-.2l.2 .2l.1 0l.3 1.8l.1 1.7l.2 .5l.1-.5l.3-2.6l.1-.4l.3-.3l.3 .3l.3-.5l.2 .5l.4 .2l.1-.2l.2-.1l.1 .2l.5 0l.1 .3l.3-.2l.1 .2l.3 0l.3-.1l.1 .2l.3 0l.3 .6l.3 2.2l.4 5.1l.3 1.9l.2-.1l.5-5.2l.3-1.5l.2-.1l.1-.3l.2 .2l.1 0l.3-.2l.1 .2l.2-.2l.1 .1l.2-.2l.1 .3l.2-.3l.4 1l.6 3.4l.1-.5l.4-3.1l.2-.4l.1 0l.2-.4l.1 .3l.2-.3l.1 .1l.1-.1l.5 1l.4 3.2l.1 .5l.2-.5l.6-3.8l.1-.1l.2-.4l.1-.1l.1 .4l.2-.2l.3 .1l.1-.2l.3 .9l.4 2.2l.2-.3l.3-2.2l.4-.6l.1 .1l.2-.3l.7 1.2l.6 4.4l.3 .2l.7-4.9l.3-.2l.1 .1l.5-.2l.2 .3l.6 3.4l.2-.3l.2-2.3l.2-.4l.4-.5l.2 .3l.4 .4l.3 1.4l.3 2.5l.4 2.4l.3-1l.6-4.6l.2-.6l.2 0l.1 .2l.2-.2l.3-.1l.3-.6l.2-.1l.3-.8l.2 0l.3-.7l.3-1l1.1-5.6l.9-1.5l.3-.7l.1-.7l.3 0l.1-.5l.5-.6l.2 .4l.2-.5l.1 .1l.2-.3l.1 .2l.2 0l.1-.4l.2 .3l.2-.4l.2 .1l.1 0l.3-.3l.2 .2l.4-.6l.1 .3l.2 0l.1-.2l.2 .1l.4-.4l.1 .2l.2-.1l.1 .3l.3-.6l.2 .3l.2 0l.2-.3l.3 .2l.1-.3l.3-.1l.1 .2l.2-.4l.1 .1l.3 .1l.3-.3l.2 .2l.1-.3l.1 .1l.2-.2l.3 .2l.1 .2l.2-.3l.1-.1l.1 .1l.2-.1l.1 .1l.3 .1l.2-.4l.4 .4l.3-.4l.3 .3l.1-.3l.5 0l.1 0l.3 0l.1 .3l.2-.3l.1 .2l.2-.2l.1 .6l.1-.4l.2 0l.1 .2l.3-.1l.3 .2l.4-.1l.2 .1l.3 .1l.1-.1l.2 .2l.1 0l.1-.3l.2 .1l.4-.4l.2 .1l.1-.3l.1 .2l.2-.4l.1 .3l.2-.1l.1-.4l.3 .3l.3-.1l.3 .1l.1-.1l.2 .3l.3 0l.1-.2l.3 .1l.3 .2l.1-.1l.2 .2l.1-.1l.2 0l.1 .3l.3-.1l.3-.3l.1 .4l.2 .1l.1 .2l.2-.4l.2 .1l.2-.4l.1 .3l.3-.4l.2 .2l.1-.4l.1-.1l.2 .3l.1-.1l.2-.3l.3 .1l.5-.2l.2 .1l.1-.1l.3 .2l.3-.1l.3 .4l.1-.2l.2 .1l.1-.2l.2 .3l.3 0l.1-.2l.1 .3l.2 .1l.1-.1l.2 .1l.4 0l.1-.2l.2 .4l.3 0l.1-.2l.2 .2l.4-.4l.4 0l.3-.5l.2 .1l.2-.1l.2 .1l.4-.2l.3 .2l.1-.3l.2 0l.1 .3l.5-.1l.1 .4l.2-.4l.1 .3l.1-.2l.3 .3l.3-.1l.2 .2l.2 0l.2 .2l.1-.4l.3 .3l.2-.1l.1 .3l.3-.3l.1 0l.2 .5l.1 .1l.3-.7l.2 .2l.3-.2l.1 .2l.3-.3l.3 0l.1 .1l.2-.1l.1 .1l.3-.5l.1 .4l.2 .2l.1-.2l.3-.2l.2 0l.1 .3l.1 0l.2-.3l.1 .3l.2-.2l.1 .1l.2-.1l.4 0l.1 .3l.2-.2l.1 .1l.3-.2l.3 .3l.3 0l.1-.1l.2 .2l.1-.3l.4 .4l.3-.2l.2 .3l.1-.4l.2 0l.1 .2l.1-.1l.2-.2l.3 .5l.1-.1l.3 0l.2 .3l.1-.4l1.2 10.2l.1 .4l.1 0l.5 2.1l.4 2.9l.3 1.1l.1-.3l.3-1.8l.5-3.5l.4-2.2l.1-.2l.3-.2l.2 .4l.7 4.4l.1-.3l.7-4.5l.2-.3l.1 0l.2 .2l.1-.1l.2 .2l.1-.2l.1 .1l.3 0l.3 1.4l.4 4.8l.3 2l.3-1.5l.3-3.6l.3-1.8l.3-.8l.1-.1l.2 0l.3 .3l.1-.4l.1 .3l.3 0l.2 .5l.1 .2l.6 4l.1-.2l.5-3.6l.3-.3l.1-.3l.3 .1l.1 .3l.2-.4l.1 .8l.2-.2l.1 .2l.7 6.5l.2 .2l.3-1.3l.4-4l.1-.8l.3-.6l.2-.2l.1 .2l.4 .1l.2-.1l.3 .4l.6 3.8l.5-3.6l.2 0l.1-.2l.2 .1l.1-.1l.3 .2l.1 .2l.3 1.8l.6 6l.1 .2l.3-1.6l.3-3.2l.3-2l.6-1.6l.3 .4l.2 0l.2 .3l.1 0l.2 .4l.6 5l.1 0l.3-1.1l.4-3.7l.2-.4l.3-.3l.2 .2l.5 1.5l.5 5.2l.2 .6l.1-.5l.6-5.3l.3-1.3l.1 .1l.2-.3l.1 .3l.5 .1l.5 3.8l.2 .4l.1-.3l.5-3.5l.1-.2l.1 0l.2-.5l.3 .4l.1 0l.2 .2l.1 0l.3 1l.4 3.7l.2 .2l.1-.2l.6-4.1l.3-.8l.1-.1l.3 .6l.4 2.7l.2 0l.1-.4l.4-3.5l.8-1.6l.4-1.9l.4-1l.6-2.5l.1-.3l.2-.1l.1-.4l.3-.3l.2 .1l.1-.3l.2-.1l.1-.3l.1 0l.3-.3l.2-.4l.3 0l.3-.3l.1-.5l.1 .3l.5-.5l.1 .1l.4-.3l.2 .1l.1-.3l.2 .2l.1-.2l.2 .3l.1-.3l.2 .2l.1 0l.1-.3l.2 .1l.1-.2l.2 .2l.1-.5l.3 .3l.3-.4l.1 .2l.3-.5l.4 .3l.2-.2l.3 .5l.1-.4l.2 .1l.1-.4l.3 .3l.1 0l.2-.2l.1 .1l.8-.2l.2-.2l.2 .4l.1-.6l.2 .4l.1-.1l.2 .3l.1-.1l.3 .2l.1 0l.3 .3l.3-.1l.2 .1l.1 .2l.3 .1l.3 .2l.1-.3l.2 .3l.1 0l.1 .2l.2-.3l.1-.1l.2 .3l.1-.1l.2 .2l.1-.3l.3 .4l.1-.3l.2 .1l.3 0l.1 .2l.2 0l.1-.2l.3 .3l.1-.4l.2 .3l.1 .1l.2 0l.3-.2l.1 .1l.1-.1l.2 .3l.1-.1l.5-.1l.1 .4l.1-.7l.2 .5l.1-.1l.3-.1l.2 .1l.1 .5l.3-.5l.4 .4l.2-.5l.3 .3l.2-.1l.2 .2l.6-.4l.3 .3l.1-.2l.3 .3l.1-.4l.2 .2l.3-.1l.1 .3l.1-.3l.3 .1l.2 0l.3 .3l.1-.3l.1 .1l.2-.2l.3 .2l.3-.3l.5 .2l.3-.1l.2 .1l.1 0l.2 .2l.2 0l.3-.4l.2 0l.1 .3l.2 .1l.1-.3l.2 0l.1 .3l.1-.3l.2 .1l.1-.2l.2 .2l.1-.1l.3 .2l.2-.1l.1 .1l.1-.2l.3 .3l.2-.3l.3-.1l.1 0l.1 .4l.5-.2l.1 .3l.2-.3l.1 0l.1 .1l.3-.3l.2 .2l.1-.1l.2 0l.4 .1l.1-.2l.2 .3l.1 0l.2-.2l.1 .2l.3-.2l.2 .1l.2-.1l.2 0l.1 .3l.2 0l.1-.4l.3 .5l.3-.3l.1 .1l.2-.2l.3 0l.1 .3l.3-.5l.1 .4l.2-.3l.3 .1l.3 .3l.1-.1l.1-.2l.3-.1l.3 .1l.3 .3l.3-.3l.1 .1l.2 .2l.1-.1l.2 .1l.1-.2l.2 .1l.2-.1l.2 0l.1-.2l.3 .5l.2-.4l.3-.1l.1 .2l.3 0l.1 .2l.3-.3l.2 .2l.1-.4l.1 .5l.3-.4l.2 .3l.3 .1l.1-.1l.1-.3l.5 .3l.1-.2l.3 .2l.4-.3l.2 .2l.3-.3l.1 .4l.2 .1l.1-.3l.6 .1l.1-.1l.2 .1l.1-.1l.2 .3l.2-.2l.2 .1l.1-.2l.3 .2l.2-.1l.2 .2l.8-.3l.1 0l.2-.2l.2 .3l.2-.2l.1 0l.2 .3l.3-.3l.1 .2l.1-.1l.2 0l.1 0l.2 .1l.1-.1l.2 .1l.1-.1l.2 .3l.2-.4l.3 .2l.2-.1l.1 .2l.5-.1l.1-.1l.1 .2l.2-.2l.1 .3l.5-.4l.2 .5l.2-.4l.3 .2l.1 0l.4-.2l.2 .3l.1-.5l.2 .3l.1 0l.2-.1l.1 .1l.2-.3l.2 .3l.5 0l.1-.1l.2 .2l.1-.3l.2 .2l.1 0l.1-.1l.2 .4l.3-.4l.1 .1l.3-.1l.1 .2l.2-.1l.3 .2l.1-.4l.2 .3l.1 0l.2-.3l.1 0l.1 .3l.3-.1l.2 .1l.1-.2l.3 .1l.3-.1l.1-.2l.2 .1l.1 .4l.2-.3l.1 .3l.1 0l.2-.3l.1 .2l.3-.3l.2 .3l.1 0l.3-.3l.3 .4l.3-.2l.1-.3l.2 .2l.3-.1l.1 .2l.3-.1l.1 .2l.3-.2l.2 .3l.1-.3l.3 0l.1 .2l.3-.3l.3 .3l.3-.3l.1 .2l.2 0l.1-.3l.2 .3l.3 .1l.1 0l.1-.3l.3 .4l.5-.3l.1 .2l.2-.2l.1 .2l.1-.1l.3-.1l.2 .2l.3-.2l.1 .3l.1-.2l.3-.1l.2 .1l.3 0l.1 .1l.4-.1l.2 .1l.1-.1l.2 .3l.1-.4l.2 .2l.1-.1l.1 .2l.5-.3l.1 .3l.2-.3l.2 .2l.2-.2l.4 .2l.2-.1l.4 .1l.4-.3l.2 .2l.1-.2l.3 .4l.2-.3l.1 .2l.3-.2l.1 .1l.2 0l.1-.3l.2 .3l.2-.1l.3 .1l.2 0l.1 .3l.2-.5l.1 .4l.1 0l.2-.3l.3 .3l.1-.2l.2 .2l.1-.1l.2 .1l.2-.2l.2 0l.3-.1l.3 .2l.1-.1l.2-.2l.1 .2l.6 0l.5 .1l.3-.2l.2 0l.3 .2l.1-.2l.2 0l.1 .3l.1-.3l.2 0l.1-.1l.2 .4l.1 0l.2-.3l.1 .3l.1-.1l.3 0l.2 .2l.3-.4l.4 .1l.1-.2l.2 .1l.1 0l.2 .3l.1-.2l.2 .2l.1-.2l.1 0l.2 .2l.3-.4l.3 .1l.1 .2l.3 .1l.3-.4l.4 .4l.2-.3l.2 .4l.2-.1l.1-.2l.2 .1l.1-.3l.3 .3l.1 0l.2-.3l.1 .3l.2-.2l.1 0l.2-.1l.3 .3l.1-.2l.1 .1l.2-.1l.1 .1l.2-.3l.1 .3l.2-.1l.1 .2l.6-.2l.3 .2l.1-.3l.3 .3l.1-.3l.2 .1l.1 .5l.3-.5l.2 0l.1 .2l.1-.3l.2 .3l.7-.2l.2 .1l.1-.2l.1 .3l.2-.1l.1-.2l.2 .2l.1-.2l.2 .3l.4-.1l.1 0l.5-.2l.1 .2l.3-.1l.1 .2l.2 .1l.1-.4l.3 .2l.2 0l.3 .2l.1-.2l.1 .2l.2-.3l.1 .2l.3-.4l.2 0l.1 .3l.1-.2l.2 .3l.4-.3l.2 .3l.1-.2l.3 .3l.3-.4l.1 .2l.3-.1l.2 .2l.1-.3l.3 0l.1 0l.2 .3l.4 0l.2 0l.1-.2l.1-.1l.2 .3l.1-.2l.2 .3l.1-.2l.3 .2l.1-.2l.6 .1l.5-.1l.1 .2l.1-.2l.3-.2l.2 .1l.4 .3l.3-.4l.1 0l.2 .6l.1-.3l.2-.1l.1 .1l.1-.1l.3 .1l.2-.1l.1 .2l.3-.1l.2-.2l.1 .3l.3-.3l.1 .1l.2-.1l.1 .2l.5-.4l.1 .2l.1-.1l.2 .2l.1 0l.2-.2l.1 .1l.2-.1l.1 .1l.1-.2l.2 0l.1 .4l.2-.4l.1 .2l.3 .1l.1-.1l.2 .3l.3-.1l.3-.2l.3 .1l.2 .2l.2-.3l.3 .1l.1-.2l.2 .2l.1 0l.2 .3l.1-.4l.3 .2l.1-.1l.2 .1" stroke="#bcbd22" stroke-width="0.30" fill="none" stroke-opacity="0.80" stroke-linejoin="round"/><path d="M378.9 268.6l.1-.3l.2 .2l.6 0l.1-.2l.2 .3l.1-.1l.3 .1l.1 .3l.2-.1l.1-.4l.2 0l.1 .2l.3-.1l.1 .2l.2-.4l.1 .4l.2 0l.1 .2l.2-.5l.1 .2l.1-.2l.2 .3l.1-.2l.3 0l.2-.2l.1 0l.3 .3l.3-.2l.1 .1l.3 0l.1 .2l.3-.3l.2 .3l.3-.2l.1 .3l.2-.2l.1 .2l.1-.1l.2 .1l.6-.2l.1 .3l.1-.5l.3 .3l.3-.2l.2 .2l.3-.1l.1-.1l.1 .2l.2-.2l1.1 7.8l.2 .3l.1 0l1.2 3.9l.8 6.9l.2 .4l.3-.3l.7-5.9l.3-1.1l.1 .1l.2 .6l.3 .3l.8-6.9l.3-.9l.3-.4l.3-.2l.1 .2l.2-.2l.1 .4l.3 .1l.1-.3l.2 .4l.1 0l.2-.4l.1 0l.2 .1l.2 1.3l.5 4.4l.5-5.3l.2 0l.1 .3l.2 0l.1-.2l.2 .1l.1-.1l.2 .2l.2-.1l.3 .4l.5-.2l.4 0l.1 .2l.2-.3l.1 0l.2 .2l.1 .1l.2-.1l.5 .5l.3 .8l.2 .9l.5 8.5l.2 1.8l.1 .7l.2-.2l.5-7.5l.3-1.7l.3-.8l.3 0l.2 .2l.1-.2l.3 .1l.1-.4l.2 .5l.1-.2l.2-.1l.2 .2l.8 5.6l.1-.5l.6-5.2l.1-.3l.2 .1l.1 .2l.3 0l.4 .2l.6 5.4l.1 .2l.2-.1l.4-4.5l.3-1.4l.2 0l.1-.4l.1 .5l.2 0l.1-.2l.2 0l.1 .1l.2 .5l.1 .1l.4 3.5l.5-3.4l.3-.9l.1 .1l.1 .1l.2-.2l.4 .6l.2 .3l.1 1l.6 5.5l.1 .5l.3-1.6l.6-5.2l.1-.1l.2-.5l.1 .2l.3-.2l.3 .2l.1 .5l.5 3.8l.1 .6l.6-4.1l.1-.5l.2 0l.1 .2l.2-.2l.1 .2l.1 .1l.3 .9l.6 5.9l.3 1.6l.1-.3l.6-5.8l.3-1.8l.3-.3l.1 .1l.3-.3l.2-.3l.1 .2l.2-.3l.1-.8l.1 .2l.2-.1l.1-.3l.2 .3l.1-.8l.2 0l.1-.5l.2-1l1.2-5.8l.9-1.3l.2-.7l.1 .1l.1-.4l.3-.3l.2-.7l.3 0l.1-.2l.1 .1l.2-.2l.1 .1l.2-.2l.3 .1l.1-.3l.3 .1l.4-.5l.2 .3l.1-.3l.2 .1l.1-.2l.1 .1l.3-.2l.3 .2l.2-.3l.1 0l.3-.2l.1 0l.2-.2l.1 .2l.3-.2l.3 0l.1 0l.2 .1l.4-.4l.2 .2l.2-.4l.2-.1l.1 .3l.2-.2l.7-.1l.3 0l.4-.3l.2 .1l.2-.1l.2 .3l.3-.3l.3 .2l.1-.2l.3 .2l.1-.4l.2 .4l.1-.2l.2 .1l.3-.2l.1 .2l.3-.1l.1 .1l.2-.3l.4 .4l.3-.1l.1 .1l.2-.2l.1 .6l.2-.1l.1-.2l.2 .2l.1-.2l.2 .1l.1-.1l.1 0l.2 0l.3 0l.1 .1l.2-.1l.4 .1l.1-.1l.2-.3l.1 .3l.2-.4l.1 0l.1-.2l.3 0l.2-.2l.1 .3l.2-.3l.1 0l.2 .3l.1-.3l.1 .2l.2 0l.1 .2l.2-.2l.4 .3l.1-.2l.2-.1l.1 .2l.2-.1l.1 .3l.2-.1l.3 .1l.1-.4l.1 .4l.2 .2l.1-.2l.2 .3l.1-.2l.2 0l.1 .1l.3 0l.1-.3l.2 .1l.1-.4l.5 .2l.1-.5l.3 .1l.4-.1l.2-.4l.3 .5l.1 0l.1 .3l.2-.5l.4-.1l.2 .5l.2-.2l.3 .2l.2-.1l.1 .1l.2-.1l.1 .2l.6 .2l.6-.2l.2 .2l.2 .3l.3-.3l.1 .3l.6-.4l.1 0l.2-.2l.1 .1l.2-.2l.3 0l.1-.4l.1 .1l.2-.1l.1 0l.2-.2l.3 .2l.1 .3l.1-.4l.8 .3l.1 .2l.3-.1l.3 .2l.1-.4l.5 .5l.1 .3l.4-.5l.2 .5l.3-.5l.1 .2l.2 .1l.1-.1l.1 .2l.5-.2l.1 .2l.2-.4l.1 .4l.2-.1l.1-.6l.1 .5l.2-.2l.1 .2l.5-.1l.2-.4l.2 .1l.1-.1l.2 .2l.1-.2l.2 .1l.1-.1l.2 .3l.1 0l.1-.3l.5 .4l.4-.2l.1 .2l.3-.1l.2 .2l.1-.3l.3 .2l.1 .3l.5-.2l.1 .1l.2-.2l.3 .1l.1 .3l.1-.5l.2 .3l.1-.1l.2 .1l.3-.1l.1 0l.1 0l.2 .1l.1-.2l.2 .5l.3-.4l.4 .4l.1 .9l1.1 9.5l.1 .2l.3 1l.7 6.3l.3 1.3l.4-2.3l.6-6.6l.4-1.7l.2-.4l.3 .5l.5 5.3l.2 .7l.1-.5l.6-5.2l.3-.9l.1 0l.2-.3l.1 .4l.2 0l.1-.1l.1 .4l.3 0l.5 3.4l.2 4.6l.3 2.5l.2-.7l.4-6.1l.3-2.6l.1-.7l.3-.2l.2-.4l.1 .5l.4-.4l.2 .4l.1-.2l.3 .7l.6 5.7l.1-.6l.5-4.8l.1-.3l.2 .1l.5-.5l.3 .5l.3 .9l.2 .9l.4 5.4l.3 2.4l.1-.7l.6-6.6l.1-1.2l.3-.8l.3 .2l.2-.2l.4 0l.3 .6l.6 4.8l.5-4.6l.3-.3l.2-.4l.5 1l.3 2.5l.6 7.6l.1 .5l.2-.6l.1-1.5l.5-6l.2-1.9l.3-.7l.3 .1l.3-.3l.3 .3l.1-.1l.8 7.3l.1 .3l.1-.5l.5-4.9l.3-1.6l.1-.5l.2 0l.1 .3l.1-.2l.3 1l.2 1.1l.5 7l.2 .5l.3-1.8l.3-4.4l.3-2.3l.1-.4l.4-.6l.2 .1l.3 .3l.2 1.9l.3 3.5l.2 .6l.1-.5l.3-3.3l.3-1.9l.4-.6l.2 .3l.1 0l.2-.2l.4 2l.4 4.6l.2 .4l.1-.4l.6-5.3l.1-.6l.2 0l.1-.3l.3 .8l.4 3.1l.2 .5l.4-4l.3-1.7l.1-.3l.2 0l.1-.2l1.7-6.7l.3-.1l.2 .1l.1-.3l.2-.1l.4-.6l.4-.4l.2-.3l.1 .1l.3-.6l.2 .1l.4-.7l.1 .1l.2 .4l.1-.3l.3-.2l.1 0l.2-.3l.1 .1l.2 .3l.1-.2l.2 .2l.1-.6l.2 .2l.1 0l.1 .1l.3-.3l.2 0l.3 0l.1-.4l.1 .3l.2 .1l.4-.3l.3 0l.3-.3l.1 .3l.2-.5l.1 0l.2 .5l.3-.4l.2-.2l.2 .5l.4-.4l.2 .2l.1-.2l.3-.1l.1 .3l.2-.3l.3 .2l.1-.2l.2 .3l.1-.2l.1 .3l.2-.2l.1 0l.2 .5l.1-.1l.2 0l.1 .3l.2-.2l.2 .3l.3-.1l.3 .3l.2-.2l.1 .4l.3-.3l.1 .1l.2 .4l.1-.2l.3 0l.1-.2l.5 .1l.3-.1l.1 .5l.2-.6l.1 .4l.1-.2l.2 .4l.1-.2l.2 .1l.1-.3l.5 .2l.1 0l.1 .2l.3 0l.2-.3l.3 .4l.1-.2l.3-.2l.1 .3l.3-.3l.2 .3l.2-.1l.2 .1l.1 0l.3 .1l.2-.2l.3 .2l.7-.4l.1 .5l.2-.2l.1 .2l.2-.2l.1-.1l.1 .2l.5 .1l.3-.5l.1 .5l.1-.4l.3 .4l.2-.3l.4 .1l.1-.2l.2 .2l.3-.1l.3 .3l.1 0l.3-.3l.1 .3l.3-.4l.2 .4l.1-.3l.3 0l.1 .3l.2-.2l.1 .2l.2-.4l.1 .3l.2-.2l.1 .2l.2-.1l.1 .2l.1-.2l.2-.1l.1 .1l.2-.2l.1 .1l.3 0l.2-.2l.1 .4l.4-.2l.2 .1l.1-.1l.3 .2l.3-.2l.1 .4l.2-.5l.1 .3l.3-.1l.3 .2l.3-.4l.3 0l.1 .3l.4-.3l.5 .5l.1-.5l.2 .4l.1-.3l.2 0l.1-.4l.1 .5l.2 0l.4-.2l.4 .5l.2-.4l.1 .2l.2-.3l.1 .4l.2-.2l.3 .1l.1-.4l.1 .3l.2 0l.1-.1l.2 .2l.3 0l.1-.4l.1 .2l.3-.1l.2 .2l.1 0l.2 .2l.1-.3l.3 .1l.1-.2l.2 .4l.1-.3l.2 .3l.3-.2l.1-.2l.1 .4l.3 0l.2-.5l.1 .2l.2 0l.1-.2l.3 .6l.1-.3l.2 .2l.1-.5l.2 .5l.1-.3l.2 .2l.4-.1l.3 .2l.1-.1l.3 0l.1-.1l.3-.1l.2 .1l.1-.3l.2 .4l.1 0l.2-.3l.1 .3l.3-.3l.3 .2l.1-.1l.5 .3l.1-.2l.1 .2l.2-.1l.1 0l.3-.2l.2 .2l.1-.1l.3 .2l.3-.3l.3 0l.1 .1l.1 .4l.2-.5l.6-.1l.1-.2l.2 .3l.1-.1l.7 .3l.2-.2l.2 .3l.2-.1l.1 .1l.2-.5l.1 .3l.2 0l.1 .2l.2-.1l.1-.3l.1 .2l.3-.3l.2 0l.1 .2l.5 .1l.1-.3l.1 .5l.2-.2l.1 .3l.3-.4l.3 0l.3 .2l.3-.1l.3-.2l.4 .3l.1-.2l.2 .1l.1 .2l.2-.4l.1 .2l.3 .1l.1 0l.2-.2l.1 .2l.5-.4l.4 .3l.1-.1l.2-.1l.1 .2l.2-.1l.3 .3l.4-.4l.4 .3l.2-.2l.1 0l.2 .3l.1-.3l.1 .2l.2-.2l.4-.1l.2 .1l.1 .2l.1 0l.2-.3l.1 .1l.2 .3l.1 .1l.3-.6l.3 .3l.1-.1l.2 .5l.3-.6l.1 .1l.2 .4l.1-.5l.1 .1l.2 0l.1 .1l.2 0l.1 .1l.3-.2l.2 .2l.1-.2l.1 .2l.2-.3l.1 0l.2 .5l.1-.4l.2-.1l.1 .3l.3-.1l.1 .1l.3-.3l.2 .1l.1-.1l.3 0l.1 .2l.3-.3l.5 .4l.1 0l.3-.2l.1 .3l.2-.2l.3-.1l.1 .2l.2-.4l.2 .5l.3-.3l.9 .2l.1-.2l.2 .5l.3-.6l.1 .3l.1 .1l.2-.5l.4 .4l.5-.1l.1 .1l.1-.2l.3 .3l.3-.2l.3 .3l.1-.5l.3 .3l.2 0l.3-.3l.1 .3l.2-.2l.1 .2l.1-.1l.3 .2l.2-.2l.1 0l.2-.1l.1 .2l.2-.3l.1 .2l.1-.2l.2 .2l.1-.2l.2 .2l.3-.1l.1 .3l.1-.1l.2-.4l.1 .5l.5-.4l.1 .3l.1-.1l.2 .2l.3-.3l.3 .1l.1-.1l.3 .1l.3 .1l.1-.2l.2 .3l.3-.5l.1 .1l.2-.1l.1 .4l.1-.1l.5 .2l.1 0l.2-.3l.2-.1l.3 .1l.2 .2l.4-.3l.2 .2l.2 0l.2-.2l.4 .3l.2-.2l.1 .3l.1-.2l.3 .1l.3-.2l.2-.4l.1 .5l.1-.1l.3 .3l.2-.4l.1-.1l.2 .4l.3-.3l.2 .5l.2-.5l.1 .2l.2-.1l.1 .2l.2-.2l.1-.1l.2 .3l.1-.2l.1 .2l.3 0l.3 0l.2-.3l.2 .3l.2-.3l.1 .1l.2-.1l.1 .2l.2-.1l.2 .2l.2-.1l.3 0l.1-.1l.2 .3l.1-.3l.2 .2l.2-.2l.3 .2l.2-.2l.1 .1l.3-.2l.3 .3l.3-.2l.4 .3l.3-.1l.1-.2l.2 .1l.1-.1l.2 .1l.1-.3l.2 .3l.1-.1l.1 .1l.3-.2l.3 0l.2 .3l.3-.4l.1 .2l.4 .1l.3-.2l.6 .3l.1-.5l.2 .4l.4 0l.2 0l.2-.2l.2 .3l.1-.2l.2 .1l.1-.1l.2 .2l.1-.2l.3 .3l.4-.1l.3-.3l.2 .3l.1-.2l.4 .2l.2-.2l.1 0l.2 .1l.2 0l.2 .2l.4-.5l.2 .5l.3-.2l.1 .1l.7-.2l.2 .3l.1-.3l.2 .4l.1-.6l.3 .4l.1-.3l.2 .2l.3-.1l.2 .1l.2-.1l.6 .3l.1-.4l.3 .4l.1-.3l.2 .1l.1 .3l.5-.6l.4 .2l.1-.1l.2 .3l.1-.2l.2 0l.1 .3l.3-.4l.1-.1l.2 .1l.1 .3l.2-.1l.1 0l.2-.2l.1 .3l.3 .1l.1-.2l.2-.1l.3 .2l.3-.3l.1 .4l.1-.2l.5-.2l.3 .1l.1-.1l.4 .1l.2 .2l.1-.1l.3 .1l.1-.1l.2 .2l.4-.3l.2 .1l.3-.2l.2 .3l.2 .1l.3-.1l.1 .1l.3 0l.3-.4l.1-.1l.2 .4l.1-.1l.2 .2" stroke="#4aa84a" stroke-width="0.30" fill="none" stroke-opacity="0.80" stroke-linejoin="round"/><path d="M378.9 268.5l.1-.2l.3 .1l.2-.2l.1 .1l.2-.2l.1 .3l.2-.2l.1 .1l.3-.1l.1 .3l.6-.3l.3 .3l.3-.3l.1 .2l.2-.3l.4 .1l.1 .2l.2-.4l.1 .4l.3-.2l.3 0l.1 .2l.5-.3l.1 .3l.2-.2l.4 .1l.1 0l.2 .2l.1-.3l.2 0l.1 .1l.2-.1l.1 0l.1 .2l.2-.3l.1 .2l.2-.4l.1 .5l.3-.1l.3-.2l.3 .2l.1-.3l.6 .5l.3-.5l.6 4.4l.1 .5l.4 3.1l.2 .1l.3 1.1l.3 .7l.1 .9l.1 .1l.3 1.2l1 10.5l.2 .6l.1 .1l.2-.6l.3-2.3l.2-3.6l.3-2.2l.2-.6l.1 0l.2 1.1l.1 .3l.2 .1l.8-9.2l.6-1.5l.1 .2l.2-.2l.3 .3l.1-.1l.3 .2l.1-.2l.2 0l.1 .2l.5 0l.1 .3l.6 6.7l.5-6.3l.2-.1l.1-.5l.2 .4l.3-.1l.3 .1l.2-.1l.2 .2l.1-.3l.3 .7l.2-.4l.1 .3l.3-.5l.3 .6l.3-.1l.1-.2l.2 .3l.1-.2l.6 .6l.4 4.3l.4 9l.2 2.3l.1 .7l.2-.4l.5-9.8l.3-2.8l.5-.9l.1 0l.2-.1l.2 .2l.3-.4l.2 0l.1 .5l.2-.3l.1 .2l.3 1.2l.4 5.5l.2 .7l.1-.6l.3-4l.3-2.6l.3-.4l.3-.1l.1 .1l.1-.1l.3 .7l.2 .9l.5 6.6l.2-.7l.4-6l.3-1.3l.4-.4l.2 .2l.1 0l.2 .3l.1-.4l.2 .2l.4 4.3l.1 .8l.3-2.9l.3-1.9l.2-.5l.1-.2l.1 .3l.2-.1l.4 .6l.3 1.6l.4 5.8l.3 2.3l.2-.6l.5-7.2l.2-1.2l.3-.8l.3 0l.1-.1l.4 .6l.5 5.2l.1 .7l.2-.7l.2-4l.2-.9l.1-.5l.2 .2l.1-.3l.2 .1l.1 0l.3 .9l.1 1l.8 9.4l.1 .5l.3-2.3l.6-7.2l.2-1.6l.2-.1l.1 0l.2 0l.1 .2l.2-.6l.1 .2l.3-.8l.1-.2l.2 .1l.1-.4l.3-.4l.5-1.4l1.1-5.8l.1-.1l.3-.8l.2 .2l.3-1l.1 0l.3-.7l.1-.1l.2-.3l.1-.1l.2-.5l.3-.2l.1 .2l.1-.5l.2 0l.1 .1l.2-.3l.1 .4l.2-.4l.1 .2l.2-.6l.1 .6l.4-.6l.5 0l.1-.4l.1 .4l.3-.5l.2 .4l.3-.5l.1 .1l.1 .2l.3-.5l.2 .2l.1-.1l.3 .1l.2-.4l.1 .1l.1-.1l.2 .2l.4-.2l.3 .1l.1-.3l.2 .3l.3-.2l.3 0l.3-.3l.2 .1l.2-.3l.1 .4l.2-.4l.3 .3l.2-.2l.2-.2l.6 .3l.1-.2l.2 .2l.1-.2l.4-.2l.5 .2l.1-.2l.2 0l.1-.1l.1 0l.3 .5l.2-.3l.1-.1l.2 .3l.1-.2l.1 .2l.3 0l.2 .2l.1 .1l.2-.1l.1 .1l.2-.1l.1 0l.1 .4l.3-.4l.2 .4l.1-.2l.3 0l.1-.5l.2 0l.1 .1l.2-.1l.1-.3l.2 0l.1 .1l.1-.2l.3 0l.2-.2l.1 .1l.2-.2l.4 .3l.3-.1l.3 .3l.1-.2l.2 .2l.1 .1l.3-.2l.3 .1l.1-.1l.3 .3l.2-.1l.1 .2l.3-.1l.3 .4l.1-.2l.7 0l.2-.4l.4-.1l.2-.3l.2 .1l.2-.1l.1 0l.2-.2l.3-.1l.3 .2l.2-.1l.2 .3l.1 0l.2 .1l.1-.3l.2 .2l.1-.1l.1 .2l.2-.2l.1 .3l.3-.1l.3 .2l.2-.2l.1 .2l.3-.3l.1 .4l.2 0l.1 .2l.2 0l.1-.2l.4 .1l.3 .2l.2-.4l.1 0l.1-.1l.2 0l.1-.1l.2 .1l.3-.2l.3-.3l.1 0l.1 .4l.2-.4l.3-.3l.3 .3l.4 .1l.1-.3l.3 .3l.3-.3l.2 .4l.2 .1l.2 .1l.3 .1l.1-.2l.3 0l.1 .2l.2-.2l.1 .3l.3-.2l.3 .1l.2-.1l.2 .3l.3 0l.2-.2l.1 .2l.5 0l.1-.6l.3 .6l.1-.4l.3 .3l.2-.3l.4-.2l.1 .2l.3-.2l.5 .1l.1-.1l.1 .3l.2 .1l.1-.5l.2 .2l.1-.1l.3 .3l.3-.1l.1 .1l.7-.2l.2 .3l.3-.2l.1 .1l.2 .4l.1-.4l.6 .2l.1-.2l.3 .1l.2-.1l.1 0l.1 .3l.3 0l.2-.2l.1 .1l.2-.1l.4 .3l.3 2l.9 8.7l.2 1l.3 2.4l.7 8.5l.2 .3l.3-1.6l.7-9.6l.4-3l.2-.2l.1 .2l.2 .5l.4 5.4l.3 2.4l.1-.5l.6-7.1l.1-.9l.2-.1l.1-.3l.2 0l.1-.2l.2 .2l.2-.1l.3 .9l.2 1l.3 3.5l.4 8.3l.1 1l.3-3.1l.5-8.1l.1-1.5l.3-1.1l.1 .1l.3-.3l.2 .2l.1-.2l.1 .1l.2-.1l.1 .3l.3 .9l.6 7.4l.1-1l.3-4.6l.3-2.3l.2-.2l.1 .1l.1-.2l.2 .5l.1-.4l.2-.1l.4 1.4l.2 1.2l.4 7.7l.1 2l.2 .7l.1-.9l.7-10.4l.2-.4l.4-.6l.2 .3l.1-.4l.1 .2l.2 0l.1 .1l.3 1.6l.3 4.4l.2 .9l.5-6.1l.3-.5l.2 .4l.1-.4l.1-.1l.3 1.1l.2 1.2l.5 9.9l.2 2l.1 .8l.2-.8l.7-11.7l.4-1.9l.2 0l.1-.3l.2 .3l.1-.1l.3 .3l.1 .4l.3 2.3l.5 6.6l.1 .9l.1-.7l.5-6.6l.3-2.8l.1-.1l.3-.1l.3 .5l.1 .7l.3 3.3l.4 7.8l.2 1l.1-.8l.8-11.1l.4-1.3l.1 .1l.2-.1l.1 .3l.3 1.4l.4 6.1l.2 .7l.1-.8l.5-5.9l.2-1.4l.3 .2l.2-.3l.1 .4l.2-.1l.1 .4l.3 2.2l.4 5.8l.2 .5l.1-.5l.3-4.1l.4-3.7l.2-.3l.3-.2l.7 5.9l.7-7.3l.1 .1l.2-.7l.1-.1l.3-.8l.2-.7l.1-.3l.1-.9l.2-.2l.7-2.8l.3-.8l.3-.1l.1 .1l.3-.8l.2 .2l.4-.7l.1 .2l.2-.6l.1 0l.3-.2l.2-.4l.1 .2l.1-.4l.3 .2l.3-.3l.2 0l.2-.1l.3 .1l.2-.2l.1 .1l.2-.3l.3-.2l.2 .1l.2-.1l.1 .2l.2-.3l.1 .1l.2-.3l.1 .2l.1-.1l.2 0l.1-.2l.2 0l.1 .1l.2-.4l.2 .4l.2-.1l.3 .1l.1-.3l.2 .3l.1-.4l.2 .3l.2-.5l.2 .2l.3-.2l.1 .2l.2-.1l.1 .1l.3-.1l.3 .1l.1-.2l.2 0l.4 .4l.1-.2l.2 .1l.3 .5l.3-.3l.1 .1l.2 .3l.1-.3l.1 .4l.2-.2l.1 .2l.2-.1l.3 .3l.1-.1l.1 .2l.5 .1l.1-.2l.2 0l.2 .3l.2-.2l.3 0l.3 .1l.1-.2l.2 .3l.1-.1l.1 .3l.2-.2l.3 0l.1-.1l.2 .2l.1-.2l.3 .2l.1 .2l.2-.3l.1 0l.2 .2l.1 0l.2 .1l.1-.2l.1 .2l.2-.2l.1 .1l.2-.1l.3 .3l.1-.2l.1 .1l.2-.4l.1 .3l.2-.2l.4 .4l.3-.3l.1 .1l.3 0l.2 .2l.1-.2l.2 .1l.3-.3l.1 .5l.1-.3l.3-.2l.3 .3l.2-.2l.1 0l.1 .3l.2-.2l.3 .3l.1-.2l.2 0l.1 .2l.1-.6l.2 .5l.4-.5l.2 .3l.1-.2l.2 .3l.1-.1l.3 .1l.3-.4l.1 0l.3 .4l.1 0l.2-.2l.3 0l.3 .2l.1-.2l.2 .1l.1-.2l.1 .3l.2-.2l.4-.2l.2 .4l.1 0l.2-.1l.2 .3l.2-.5l.1 .1l.2-.1l.1 .2l.2-.2l.2 .2l.2-.3l.1 .4l.2-.2l.1 .3l.2-.4l.4 .4l.3-.5l.3 .5l.1 .1l.2-.7l.1 .4l.1 .2l.5-.4l.3 .3l.1-.2l.2 .2l.1-.2l.1 .1l.2-.2l.1 .3l.5-.2l.1 .3l.3-.2l.1 0l.2-.3l.1 .2l.2-.1l.1 .2l.3 0l.1-.2l.2 .2l.1-.2l.2 .3l.1-.3l.3 .2l.1-.2l.5 .3l.1-.2l.2 .2l.1-.2l.1 .2l.2-.1l.1 .1l.3-.3l.2-.1l.1 .3l.2 0l.1 .2l.3-.4l.1 .3l.2 0l.1-.2l.2 .1l.3-.2l.1 .1l.3-.2l.1 .2l.2 0l.3 .2l.1-.3l.1 .4l.2-.2l.1 .1l.3 .1l.4-.4l.2 .4l.1-.3l.3 .2l.3-.1l.3 0l.1-.3l.2 .3l.1-.1l.2 .2l.1-.3l.2 .2l.1 0l.2 .1l.1-.1l.4 .2l.7-.5l.2 .4l.1 0l.2-.2l.1 .2l.2-.3l.1 0l.1 .3l.3-.3l.3 .2l.3-.1l.2 .2l.1-.2l.4 .2l.2-.2l.1 .2l.2-.2l.1 .3l.1-.2l.5-.2l.3 .1l.4 .2l.4-.3l.3 .1l.2 0l.1 .1l.4-.1l.3 .2l.2-.1l.1 .1l.2-.4l.1 .1l.1 .2l.2 .1l.1-.1l.2 .2l.1-.4l.3 .2l.1-.2l.2 0l.1 .2l.2-.2l.1 .4l.2-.1l.3 .1l.2-.6l.2 .6l.3-.4l.1 .2l.2 0l.1 .1l.2-.2l.1 .2l.1-.2l.3 0l.2 .2l.3-.2l.4 .4l.1-.3l.3-.2l.2 .3l.1 .1l.2-.4l.1 0l.1 .3l.2-.1l.1 .2l.3-.4l.2 .1l.1 .2l.1-.2l.2 .2l.1-.2l.2 .1l.3-.2l.1 .1l.4 0l.2 .1l.3 0l.1-.2l.2 .2l.1-.1l.3 .3l.3-.3l.3 .1l.4-.1l.3 .2l.1 0l.2-.6l.1 .5l.2-.1l.1 0l.1 .3l.2-.4l.3 .3l.1-.2l.2 .1l.1-.1l.1 .3l.3-.3l.3 .3l.3-.3l.2 .3l.1 0l.1-.3l.5 .1l.3-.1l.1 0l.2 .3l.1-.3l.1 .3l.2-.5l.1 .3l.2-.1l.3 .2l.1-.3l.1 .1l.2-.2l.3 .2l.1-.3l.4 .5l.2-.4l.3 .1l.1 .2l.3 .1l.2-.3l.1 .2l.1-.1l.2 .4l.1-.5l.3 .5l.4-.5l.2 .5l.3-.3l.1 .2l.2-.2l.1 .1l.2-.1l.1 .2l.1-.2l.2 .1l.4-.3l.2 .2l.1-.3l.2 .5l.2-.3l.2 .1l.1 .3l.2-.4l.1 .1l.2-.4l.1 .4l.1-.1l.2 .2l.1-.2l.2 .5l.1-.3l.2-.1l.1 .2l.1-.4l.2 .2l.1-.2l.2 .4l.3-.3l.1 .1l.2-.1l.1 0l.1 .2l.3-.2l.5 .1l.1 0l.3-.3l.1 .5l.3-.2l.2-.2l.1 .3l.2-.5l.1 .1l.1 .6l.2-.4l.1 0l.3 .3l.2-.3l.1 .1l.2-.2l.2 .3l.2-.4l.3 .1l.1 .2l.2-.2l.4 .4l.1-.3l.2 .3l.1-.3l.2 .3l.1-.3l.3 .2l.1 0l.2-.1l.1-.2l.3 .2l.2-.2l.1 .3l.1 .1l.2-.1l.1-.3l.2 .2l.3 0l.1 0l.2-.2l.2 .3l.2 0l.1-.1l.2 .1l.3-.2l.7 .2l.1-.3l.2 .3l.4-.2l.3 .3l.1-.5l.2 .4l.1-.2l.2 .2l.1-.2l.1 .2l.2-.4l.3 .5l.1-.5l.2 .5l.3-.4l.1 .2l.1-.2l.3 .3l.2-.3l.3 .2l.1-.2l.3 .4l.1-.1l.2-.5l.1 0l.2 .6l.1-.3l.1-.1l.2 .2l.1-.1l.2 .2l.3-.3l.1 .2l.3 0l.1 .2l.5-.2l.1 .1l.2-.4l.1 .5l.4-.3l.2 .3l.1-.3l.2 .2l.1 0l.2-.2l.2-.1l.2 .4l.1-.4l.8 .2l.2-.3l.2 .3l.3-.2l.1 .4l.2-.5l.1 .2l.1-.1l.3 .3l.3-.2l.2 .2l.1-.3l.3 .3l.1-.2l.8 .2l.1-.1l.3-.1l.1 .2l.3-.3l.2 .3l.3-.4l.1 .3l.3 0l.1 0l.2-.2l.4 .3l.1-.2l.5 .1l.1-.2l.2 .2l.3-.2l.1 .2l.1-.2l.2 .3l.1-.2l.2 .4l.1-.3l.3 .1l.1-.3l.2 .1l.3-.1l.4 .2l.1-.3l.3 .4l.2 0l.3 0l.1-.3l.2 .1l.1-.1l.1 .3l.2 0l.1-.3l.2 .5l.1-.2l.2 .2l.3-.7l.1 .5l.3-.3l.1 .3l.5-.2l.1 .3l.3-.4l.1 .3l.3-.3l.2 .2l.5 .1l.2 .1l.4-.3l.3 .2l.1-.4l.2 .3l.3 0l.1 0l.2 .1l.1-.1l.3 .1l.1-.1l.2 .2l.1-.5l.2 .4" stroke="#c9918a" stroke-width="0.30" fill="none" stroke-opacity="0.80" stroke-linejoin="round"/><path d="M378.9 268.1l.1 .2l.3-.1l.2 .4l.1-.5l.3 .3l.2 .1l.1-.2l.1 .3l.2-.5l.1 .3l.2-.1l.5 .2l.2-.3l.1 .2l.6-.1l.2-.1l.1 .2l.1 .1l.2-.1l.3 0l.1-.2l.3 .1l.1 .2l.2-.2l.3-.1l.3 .2l.1-.1l.3 .2l.4-.3l.3 .3l.2-.3l.1-.1l.1 .4l.3-.3l.3 .4l.2-.4l.1 .2l.3-.2l.1 .2l.2 .1l.1-.2l.2-.1l.1 .2l.2-.2l.1 .1l.1-.1l.2 .3l1.1 7.8l.2-.1l.1 .5l.2 .2l.5 2.3l.3 1.7l1 13.2l.2 1l.1 .3l.3-1.8l.4-6.3l.3-2.9l.2-.5l.1 .2l.3 1.7l.2 0l.8-11.2l.4-1.6l.2 .2l.1-.3l.3 .3l.2-.3l.2 .4l.2-.2l.3 .3l.3-.2l.1 .4l.3 .2l.6 8.4l.4-6.8l.1-1.3l.2-.4l.1-.1l.3 .2l.2-.2l.3 .1l.1 .1l.3 .1l.1 .2l.2-.2l.1 .2l.3 0l.2-.3l.1 .4l.1-.3l.2 .5l.3-.5l.1 .3l.2 0l.2 .4l.2-.2l.1 .1l.3 1.3l.2 1.9l.5 13.3l.3 3.7l.2-.8l.1-2.3l.6-11.9l.1-1.4l.5-.9l.1-.7l.3 .4l.3-.1l.3 0l.1 .3l.3-.1l.1 .3l.3 2.8l.3 5.3l.2 1l.1-1.2l.3-5.2l.3-2.7l.3-.7l.1 .3l.4-.2l.2 .2l.3 2l.4 7.1l.1 1l.2-1l.4-6.8l.2-1.6l.1-.5l.2-.4l.1 .1l.1-.3l.2 .1l.3-.1l.1 .1l.3 1.3l.4 5.5l.2-.7l.3-4.7l.1-.9l.3-.5l.1 .1l.3-.2l.3 .6l.3 2.3l.6 9l.1 .5l.2-.4l.5-9.1l.2-1.2l.3-1l.1-.1l.2 .2l.1-.1l.2 0l.1 .1l.1 .4l.6 7.3l.2-1.2l.2-4.5l.3-1.8l.5 .2l.1-.2l.1 .3l.2 .9l.3 2.6l.4 7.9l.3 2.9l.1-.4l.6-9.9l.3-2.9l.3-.9l.3-.2l.1 .1l.3-.2l.4-1l.3-.2l.2-.3l.3-.3l.5-3l.9-3.8l.6-1.4l.1 0l.2-.1l.1-.5l.7-1.2l.3-.8l.2 .1l.1-.1l.1 .1l.2-.3l.3 .1l.6-.2l.1-.4l.6 .1l.1-.2l.2 .1l.2 0l.2-.4l.4-.1l.2 .4l.2-.6l.2 .1l.1 .2l.3-.3l.3 .1l.2-.1l.1 .3l.1-.4l.2 .1l.4-.2l.2-.3l.1 .3l.1-.1l.2 .2l.1-.2l.2 .1l.1-.4l.3 .1l.2-.2l.1 .2l.1-.1l.3 0l.5-.2l.2 .2l.2-.4l.3 .2l.1-.1l.2 .1l.1-.2l.2 .3l.1-.3l.3 .1l.1-.1l.2 .1l.1-.3l.3 .4l.2 0l.1-.4l.1 .3l.2-.1l.1 .1l.2-.2l.3 .1l.1 .2l.1 0l.2-.2l.3 .5l.1-.4l.3 .4l.2-.2l.2 .1l.2-.2l.1 .1l.2 .3l.4-.4l.1 .1l.2-.3l.1 .2l.2-.2l.1 .2l.3-.6l.1 0l.3 .4l.2-.5l.1-.2l.3 .2l.2 .3l.1-.1l.3 .2l.3-.4l.3 .4l.1 0l.1 .1l.3-.1l.2 .3l.1-.2l.2 .1l.1-.2l.2 .3l.1-.1l.1 .2l.2-.2l.1 .4l.2-.2l.3 .2l.3-.3l.2 0l.3-.2l.2-.3l.4-.1l.1-.2l.2 .2l.4-.2l.2-.2l.4 .1l.1 0l.2 .3l.1-.2l.3 .2l.4-.1l.2 .2l.1-.1l.5 0l.4 .4l.1-.3l.2 .3l.1-.2l.2 .1l.1-.1l.4 .5l.2-.3l.3 .2l.3-.3l.1 0l.1-.1l.2 .1l.3-.3l.1 .1l.2-.3l.1 .1l.2-.3l.1 .3l.3-.3l.4 0l.2-.2l.1 .3l.1-.2l.5 .2l.1-.2l.2 .6l.1-.2l.3-.1l.1 .1l.2-.1l.3 .1l.1 .2l.3-.2l.1 .3l.2-.1l.1 .3l.2-.2l.1 .2l.2-.2l.1 .3l.2-.2l.1 .2l.3-.2l.1-.3l.2 .2l.1 0l.2-.2l.1 .1l.2 .2l.1-.2l.4-.1l.2 .3l.3-.6l.2 .4l.3-.2l.3 .4l.2-.5l.1 .3l.6-.1l.1-.2l.2 .2l.1-.1l.2 .1l.1-.2l.3 .5l.1-.5l.3 .2l.2 .3l.1-.4l.3 .3l.1 0l.2-.2l.1 .2l.2 0l.1 .1l.2-.2l.1 .2l.1-.2l.2 .2l.1-.3l.2 .3l.3-.2l.1 .1l.1 .3l.2-.2l.3-.1l.1 .2l.2-.3l.1 .1l.3 .3l.4 3.4l.8 7.3l.2 1.6l.9 12.5l.1 1.6l.2 .4l.3-2l.6-10.2l.2-3.6l.3-2.1l.2-.2l.1 .3l.2 .7l.5 8.6l.2 1.1l.1-.8l.5-7.4l.2-2.6l.3-.4l.2-.1l.3 .3l.2-.3l.2 .7l.1 .1l.3 3.1l.4 10.1l.2 2.8l.1 1.1l.2-1l.4-10l.3-4.5l.1-1.1l.3-.7l.5 0l.1 .1l.1-.3l.2 .6l.1-.1l.3 1.1l.5 8l.1 1.1l.1-1l.5-7.6l.1-1l.3-.5l.1 0l.2 .3l.1-.1l.5 .9l.3 2.7l.5 11.3l.2 .9l.1-.7l.6-11.3l.3-2.7l.1-.3l.3-.3l.2 .3l.2-.1l.2 .1l.3 .7l.4 6.8l.2 1l.1-.8l.4-6.9l.2-.6l.1-.1l.3 0l.1 .2l.2 .5l.3 2.3l.5 12.3l.2 2.3l.1 1.1l.3-3.3l.6-12.2l.1-1.6l.3-1l.3-.3l.3 .2l.3 0l.1 .6l.3 3.1l.5 8.4l.1 .8l.3-3.2l.4-7.6l.2-1.2l.3-.6l.2 .3l.2 .4l.3 2.5l.5 11.9l.2 1.2l.3-3.7l.4-9l.3-2.8l.3-.8l.1 .3l.2-.2l.3 .9l.1 1l.4 7.3l.2 1.1l.1-.7l.5-7.8l.4-1.8l.1 .4l.2-.3l.1 .6l.2-.1l.2 1.4l.2 1.5l.4 7.2l.2 .8l.1-.7l.4-7.2l.3-2.5l.3-.3l.3 1l.4 5.7l.2 .4l.1-1l.4-6.5l.3-1.5l.3-.2l.2-.8l.3-1l.1-.1l.1-1.1l.2-.1l.1-.5l.7-2.9l.2 .1l.4-.5l.2 0l.1-.6l.2 .3l.2-.8l.2 .2l.1-.1l.3-.7l.2 .1l.1 .1l.3-.5l.1 0l.2-.2l.1 .3l.2-.5l.4 .1l.1-.4l.2 .1l.1-.2l.2 .3l.3-.5l.1 0l.2 .3l.1-.1l.1 0l.3-.2l.2-.3l.1 0l.2 .2l.1-.2l.1 .2l.3 .1l.3-.7l.2 .2l.2-.2l.2 .4l.4-.5l.3 .4l.2 0l.1-.3l.1 0l.2 .2l.1 0l.2-.2l.1 .1l.2-.2l.3 0l.1-.3l.1 .4l.2 0l.1-.1l.2 .3l.1-.3l.6 .3l.1 .3l.2-.2l.6 .1l.1 .1l.1 .4l.3-.2l.2 .2l.3 0l.1 .3l.3-.4l.3 .4l.1-.1l.3 .2l.1-.3l.3 .4l.2-.4l.1 .3l.3-.2l.4 .5l.3-.4l.2 .2l.3-.3l.1 .3l.2-.7l.2 .8l.2-.2l.1 .1l.2-.2l.1 .3l.2-.2l.1 .2l.3-.3l.1 .2l.2-.2l.1 .3l.2-.2l.1 .3l.3-.1l.1 .2l.3-.1l.2-.4l.3 .4l.1 .1l.1-.2l.2 .1l.1-.2l.2 .2l.1 0l.2-.2l.1 .3l.2-.5l.1 .4l.1 .1l.2-.3l.1-.1l.2 0l.3 .3l.5-.3l.3 .1l.2 .4l.2-.5l.2 .2l.1 0l.2 .1l.1-.1l.3 .3l.2-.4l.1 0l.3 .4l.1-.3l.2 .2l.1-.4l.3 .4l.3-.5l.3 .4l.1-.1l.2 .2l.1-.3l.2 .3l.1-.3l.1-.1l.5 .2l.4-.1l.6 .2l.1-.3l.2 .1l.3-.2l.1 .4l.3-.1l.1-.1l.2 .3l.3-.3l.1 .3l.3-.4l.3 .3l.1-.1l.2 .1l.3-.2l.1-.1l.1 .5l.3-.4l.2 .1l.1 .3l.2-.4l.1 0l.3 .1l.1-.1l.2 .3l.3-.3l.1-.4l.2 .6l.2-.4l.2 .2l.3-.1l.1 .4l.2-.3l.1 .1l.2-.2l.1 .1l.3 0l.1 .3l.2-.3l.1 .3l.4-.4l.3 .3l.3-.4l.2 .4l.1-.3l.1 .3l.3-.1l.2 .1l.1-.4l.3 .2l.2 .3l.1-.3l.1 .2l.2-.3l.1 .4l.2-.3l.1 .3l.2 0l.1-.3l.3-.1l.1 .2l.2 .1l.1-.3l.2 .3l.1 0l.2-.2l.2 .1l.2-.2l.1 .4l.3-.5l.2 .3l.1 .2l.1-.4l.2 .1l.1-.1l.6 .3l.2-.5l.1 .5l.1-.1l.2 .1l.3-.3l.1 .2l.3-.1l.2-.2l.1 .3l.3-.3l.1 .5l.2-.2l.1 0l.2 .1l.4-.3l.4 .3l.2-.3l.1 .4l.1-.1l.3 .1l.2-.3l.1 .3l.3-.4l.2-.1l.1 .5l.1-.1l.3 .1l.2-.4l.3 .1l.1 .2l.1-.2l.3 .1l.3-.2l.2 .2l.3 .1l.1-.3l.1 .1l.2 .4l.1-.3l.2-.1l.1 .3l.2 0l.1-.4l.3 .4l.1-.2l.2-.1l.1 .2l.5-.1l.1-.3l.4 .4l.2 0l.1 .2l.2-.3l.2 .1l.3-.3l.2 .4l.1-.3l.5 .2l.1-.4l.1 .2l.2-.2l.1 .4l.2 0l.6-.4l.1 .4l.1 .1l.2-.4l.3 .1l.1-.1l.3 .4l.1-.5l.3 .3l.3-.3l.2 .2l.1-.2l.2 .3l.1-.3l.1 .2l.2-.1l.1 .2l.2-.1l.3 .1l.2-.1l.3 .2l.3-.3l.3 .3l.1 0l.3-.4l.2 .4l.1-.3l.3 .3l.2 0l.1-.3l.1 .2l.3-.3l.2 .4l.3 .1l.1-.3l.2 .2l.2 0l.2-.3l.3 .1l.1 .3l.3-.2l.3-.1l.1-.1l.5 .2l.4 0l.1 .2l.3-.2l.2 .1l.1-.1l.2 .2l.4-.4l.1 .2l.3 .1l.2-.1l.1 .1l.2-.2l.1 .2l.1-.2l.3 .3l.2 0l.1-.3l.2 .2l.1 0l.1-.5l.2 .6l.1-.2l.2 .2l.3-.3l.1 .1l.1-.3l.2 .4l.1 0l.2 .1l.1-.2l.2 .1l.1-.1l.2 .1l.1-.2l.1 .2l.2-.1l.3 .1l.4-.2l.1 .4l.2-.5l.1 .2l.3-.1l.2 .3l.1-.3l.3 .2l.1-.2l.3 .2l.2-.2l.4 .1l.2-.2l.1 .3l.1-.2l.3 .1l.2-.1l.1 .2l.2-.2l.5 .3l.3-.5l.2 .4l.2 0l.3-.2l.3 .1l.2 .2l.1-.4l.2 .2l.1-.1l.3 .1l.1-.1l.2 .1l.1-.3l.5 .3l.1-.1l.1 0l.2 0l.3 .2l.1 0l.3-.2l.3 .2l.3-.2l.1 .1l.2 0l.3-.1l.1 .2l.7-.2l.2 .2l.1-.5l.1 .3l.2-.1l.1 .1l.2 .3l.3-.3l.2 0l.2 .3l.4-.4l.3 .4l.2-.1l.2-.1l.2-.2l.3 0l.1 .3l.3 .1l.3-.2l.1 .2l.2-.3l.3 .1l.1-.1l.2 .2l.1 0l.1-.3l.2 .2l.1-.2l.3 .5l.2-.4l.1 .3l.1-.1l.2-.2l.1 .3l.5-.5l.1 .4l.2-.2l.1 .2l.1-.3l.2 .2l.1-.2l.2 .4l.3-.4l.5 .4l.2-.3l.3 0l.1 .3l.3-.2l.1-.3l.2 0l.3 .5l.1 .1l.2-.3l.2-.3l.2 .4l.1-.3l.2 .2l.1-.1l.2 .2l.4-.1l.1 .1l.3-.2l.2 .3l.1-.2l.3 0l.1-.2l.2 .3l.1-.3l.2 .4l.3-.3l.1 .4l.3-.4l.1 .3l.2-.4l.1-.1l.2 .3l.4-.2l.2 .2l.1 0l.1-.3l.2 .2l.3 .2l.1 .3l.2-.4l.4 0l.1-.1l.5 .1l.2 0l.2 .1l.1-.3l.3 .2l.2-.3l.3 .4l.2-.1l.2 0l.1-.2l.2 .1l.4 0l.2 .3l.2-.1l.2-.2l.1 0l.2-.2l.3 .1l.1 .3l.3-.3l.1 .3l.2 0l.1-.4l.2 0l.1 .5l.2-.2l.2 .2l.3-.3l.3 0l.2-.1l.1 .3l.3-.3l.4 .4l.2-.2l.2-.1l.5 .2l.1-.1l.3 .2l.2-.2l.2 .1l.2-.2l.1 0l.2-.2l.1 0l.2 .3l.4 .2l.1-.4l.3 .3l.2-.4l.1 .2l.2 0l.2 .4l.2-.4l.3 .3l.1-.3l.2 0l.1 .2l.3-.2l.3 .2l.1-.3l.2 .2l.1-.2l.3 .2l.1-.2l.2 .3l.4-.3l.3 .4l.2 0l.1 0l.3-.2l.3 .1" stroke="#d0527e" stroke-width="0.42" fill="none" stroke-opacity="0.80" stroke-linejoin="round"/><ellipse cx="406.0" cy="289.1" rx="20.7" ry="10.8" transform="rotate(0.0 406.0 289.1)" fill="none" stroke="#2f63bb" stroke-width="1.25" stroke-dasharray="14 6.7" stroke-dashoffset="14"/><ellipse cx="484.5" cy="283.4" rx="20.5" ry="10.2" transform="rotate(0.0 484.5 283.4)" fill="none" stroke="#2f63bb" stroke-width="1.25" stroke-dasharray="14 6.7" stroke-dashoffset="14"/><text x="416.7" y="305.7" text-anchor="start" font-family="'Liberation Serif','Times New Roman',serif" font-size="10.3" fill="#111">Cell#7</text><text x="495.0" y="300.4" text-anchor="start" font-family="'Liberation Serif','Times New Roman',serif" font-size="10.3" fill="#111">Cell#7</text><text x="618.3" y="280.0" text-anchor="end" font-family="'Liberation Serif','Times New Roman',serif" font-size="10.3" fill="#111">Large voltage difference</text><rect x="367.0" y="329.3" width="263.4" height="51.7" fill="#fff" stroke="#dcdcdc" stroke-width="0.6"/><g font-family="'Liberation Serif','Times New Roman',serif" font-size="5.4" fill="#222"><text x="378.9" y="384.6" text-anchor="middle" font-size="4.0">0</text><text x="430.1" y="384.6" text-anchor="middle" font-size="4.0">200</text><text x="481.3" y="384.6" text-anchor="middle" font-size="4.0">400</text><text x="532.5" y="384.6" text-anchor="middle" font-size="4.0">600</text><text x="583.7" y="384.6" text-anchor="middle" font-size="4.0">800</text><text x="365.3" y="331.6" text-anchor="end">4160</text><text x="365.3" y="341.9" text-anchor="end">4140</text><text x="365.3" y="352.1" text-anchor="end">4120</text><text x="365.3" y="362.2" text-anchor="end">4100</text><text x="365.3" y="372.4" text-anchor="end">4080</text><text x="365.3" y="382.6" text-anchor="end">4060</text></g><text transform="translate(350.8,356.7) rotate(-90)" text-anchor="middle" font-family="'Liberation Serif','Times New Roman',serif" font-size="7.2" fill="#111">Voltage(mV)</text><text x="497.5" y="388.6" text-anchor="middle" font-family="'Liberation Serif','Times New Roman',serif" font-size="2.8" fill="#222">Index</text><path d="M378.9 367.7l1-8.7l.5-1.8l.5-2.5l.6-.7l1.5-7.1l.5-3.2l.5-1.5l.5-2.4l.5 .4l.6-1.6l.5-.7l.5 .9l.5 .5l.5 1.6l.5-.4l.5 .6l.5 .1l.5 1.2l.6 .5l.5 1.2l.5-.4l.5 1.2l1-.8l.5 1.4l.6-.3l.5 .6l.5 .2l.5 .8l.5-.4l1-.3l.5 .1l.5 .9l.6-.2l1 1.2l.5 0l.5-.3l.5 .2l.5 1.3l.5-.8l.5 .6l.6-.2l.5 .4l.5 .8l.5 .3l.5-.5l1 .1l.6 .6l.5-1l.5 1.7l.5-1.5l.5 .7l.5 .2l.5-.8l.5 .8l.5 0l.6 .4l.5-.3l.5 0l.5-.2l.5 .2l.5 .6l.5 .3l.5 .1l.5 .2l.6 0l.5 .1l.5-.2l.5 .1l.5 .5l.5-.3l.5 1.1l.6-.8l.5 1.1l.5-.7l.5-.3l.5 .2l.5 .7l.5-.3l.5 .1l.5 .3l.6-.2l.5 .4l1 .4l.5-.5l.5 .6l.5 .4l.5-.9l.6 .8l.5 .4l.5-.8l.5 .6l1 .3l.5-.6l.5 .1l.5-.1l.6 .8l.5-1.2l.5 1.3l.5 .2l.5-.2l.5 .6l.5-.3l1.1-.3l.5-.4l1 .8l.5-.1l.5 .5l.5-1l.5 .6l.6-.1l.5 .5l1 .3l1 0l.5-.5l.5 .7l.5-.5l.6-.1l.5 .3l.5-.1l.5 1.3l.5-1l.5 .4l.5-.7l1.1 .8l1-.1l.5-.6l.5 1l.5-.3l.5 .5l.5-.3l.5 0l1.1 .3l.5-.6l1 .5l.5 .5l.5-.4l.6 .2l.5-.3l.5 .2l.5 .5l1-.9l1 1.3l.5-.3l.6-.5l.5-.1l.5 1.2l.5-1l.5-.2l.5 .1l.5 1.2l1-1.1l.6 .3l.5 .5l.5 .3l1-.5l.5 .6l.5-.2l.6-.6l.5 0l.5 .5l.5-.4l.5 .7l.5 .2l.5 .1l.5 .2l.5-.2l.6-.1l.5-.9l.5 .5l.5-.5l.5 1.4l.5-.7l1 1l.5-.8l.6 .6l1-1.3l.5 1.1l.5 .1l1 .6l.6-.5l.5 .3l.5-.4l.5 .3l.5-.3l.5 0l.5-.3l.5 1l.5-.1l.6-.9l.5 .3l.5 .7l.5-1.3l.5 2.2l.5-1l.5 0l.5-.3l.6 .8l.5-.5l.5-.1l.5-.3l.5 1.3l.5-.5l.5 0l.5-.6l.5-.4l.6 .1l.5 1.1l.5-.4l.5 .2l.5 0l.5 .3l.5-.3l.5 .1l.6-.2l.5 .3l.5-1.1l.5 1.8l.5-.4l.5 0l1-.6l.6 .5l.5-1.3l.5 1.2l.5-.5l.5 .7l.5 .3l.5-1.3l.5 1.4l.5 .3l1.1-.6l.5-.5l.5 .7l.5 0l1-.3l.5 .7l.6-.5l.5 .4l.5-.4l.5 0l1-.4l.5 .9l.5 .2l.5-.4l1.1 .1l.5-.3l.5 .3l.5-.2l.5 .3l.5 .1l.6 .3l.5-.5l.5 .2l.5-.4l.5 .3l.5 .5l.5-.3l1 .2l.6 .5l.5-.6l.5 .1l.5 .6l.5-.6l.5 0l.5 .6l.5 .1l.6-.6l.5-.1l.5 .2l.5 .9l.5-.3l.5-.6l.5 .6l.5-.8l.5 0l.6 .8l.5-.4l.5-.1l.5 .1l.5 .4l1-.1l.5-.7l.6 .5l.5-.2l.5 .4l1-.2l.5 .4l.5 .3l.5-.5l.5 .4l1.1 .2l.5 .3l.5-.6l.5 .4l1-.2l.6 .4l.5-.7l.5-.1l.5 .9l.5-.3l1 0l1-.2l.6 .4l.5-.5l.5 1.1l.5-.4l.5-.7l.5 .6l1-.6l.5-.2l.6 1.1l.5-.1l1 .1l.5-.4l.5 .9l.5-.9l.5 .2l.6-.6l.5 1.2l.5-.8l.5 .4l.5 .2l.5-.6l.5 0l.5 .9l.6-.8l.5 .4l1 .2l.5-.2l.5 .3l.5-.3l.5 1.1l.6-1.4l1 .7l.5-.4l.5 .3l.5-.3l.5-.2l.5 .3l.6 1.4l.5-1.7l.5 .5l.5-.2l.5 .6l.5-.2l.5 .1l.5-.3l.5-.1l1.1 .3l.5-.2l.5-.1l.5 .2l.5 .4l.5-.4l.5 .6l1.1-.8l.5 1.2l.5-.1l.5 .4l.5-1.6l.5 .7l.5-.1l.6 .1l1 .5l.5-.4l.5 .5l.5-.6l1-.7l.5 1.3l.6-.2l1 .6l.5-.2l1-.8l.5-.1l.5 .9l.6-.7l.5 .4l.5-.2l.5-.3l1 .1l.5 .3l1 0l.6-.1l.5 .3l.5-.2l.5 .1l.5-.5l.5 1l1-.4l.6 .1l.5 .8l.5-1.3l.5-.1l.5 1.3l.5-.1l.5-1.1l.5 1.1l.5-.6l1.1 .3l.5-.3l.5 .6l.5 .2l.5-.4l1.1-.3l1-.5l.5 .4l.5 .3l.5-.2l.5 .7l.5-.2l.5 0l.6 .3l.5-.9l.5 .8l.5 .1l.5-.1" stroke="#1f77b4" stroke-width="0.35" fill="none" stroke-opacity="0.75" stroke-linejoin="round"/><path d="M378.9 367.3l1-8.2l.5-1.9l.5-.7l.6-2l.5-2.9l1-4.3l1-5.7l.5-1.3l.5-.1l.6-1.9l.5 .8l.5 .1l1 1.5l.5-.3l1 1.8l.5 .1l.6 1.2l1 .2l.5 .9l.5-.3l.5 1.4l.5 .3l.6-.2l.5 .2l.5 .4l.5-.6l1 1.4l.5 .2l.5-.3l.5 .9l.6-.4l.5 .8l.5-.2l.5 .2l.5 .9l.5-.2l.5 .2l1 0l1.1 1.3l.5-.2l.5 .5l.5-.2l.5-.4l1.1 .1l.5 .9l.5 .4l1-.5l1 .6l1-.7l.6 .7l.5-.2l.5-.6l.5 1.2l.5-.5l.5 1.1l1-.4l.5-.4l1.1 .9l1-.6l.5 .1l.5 1l.5-.5l.6 .6l.5-.4l.5-.1l.5 1l.5-1.2l.5 1.7l.5-.7l.5 .9l.5-.4l.6-.7l.5 .2l.5-.2l.5 1l.5 .4l.5 .1l.5-1.5l1.1 1.8l.5-.3l.5 .1l.5-.3l.5 .7l.5 .6l1-.8l1.6 .9l.5-.9l.5 .2l.5 .7l.5-.1l.5-.9l.5 1l.6-.6l.5 .6l1 .3l.5-.4l.5 .1l.5 .6l.5-1l.6 1l.5 .1l.5-.7l.5 .9l1.5-.5l.5 1.1l.5-.2l.6 .6l.5-1.1l.5 .2l.5-.1l.5 .2l.5 .4l.5-.4l.5 .7l.6 0l.5-.2l.5-.4l.5 .9l.5-1.6l.5 1.6l.5 .4l.5-.7l.5 .5l.6-.6l.5 0l.5 .8l.5-.5l.5 .5l.5-.3l.5 .3l1.1-.2l.5-.5l.5 .8l.5-.4l.5-.3l.5 1l.5-.7l.5 .6l.6-.2l.5 0l.5 .3l.5-.7l.5 .2l.5 .5l.5 .1l.5 0l.5-.2l.6 .1l.5 .8l.5-.8l.5 .1l.5 .4l.5 .2l.5 .4l.6-.8l.5 .5l.5-.1l.5-1.1l.5 1.6l.5 .3l.5-1.1l.5 1.1l.5-.5l.6-.2l.5 .5l.5-.8l.5 .5l.5 0l.5 .4l.5 .1l.5-.3l.5-.8l.6 .9l.5-.3l.5 .1l.5 .6l.5-.6l1 1.1l.6 0l.5-1l.5-.4l.5 .5l.5-.1l1 1.6l.5-1.8l.5 .3l.6 1.1l.5-.7l1 .2l.5 .4l.5-.6l.5-.1l.5 .9l.6-.7l.5 .8l.5-.8l.5 .4l.5-.5l.5 .2l.5 .9l.5-.2l.5-.4l1.1-.4l.5 1l.5-.4l.5-1l.5 1l1 .8l.6-.9l.5-.1l.5 .7l.5-.7l1-.1l1 .7l.6 .2l.5-.6l.5 .9l.5-1.1l1 .8l.5 .7l.5-.4l.5 .3l.6-.2l1-1.2l.5 1.3l.5 0l.5-1.2l.5 .9l.5-.1l.6 .4l.5-.9l.5 .7l.5-.3l.5 0l.5-.2l1 .9l.5-.4l.6 .3l.5 .7l.5-.5l.5 .4l.5-.5l.5 .2l.5 0l.6 .5l.5-.8l.5 .1l.5-.3l.5 1l.5-.3l.5 .1l.5-.4l.5 .5l.6-.5l.5 .7l.5-.6l1.5 .4l.5 0l.5-.4l.6 0l.5 0l1 .7l.5 0l1-.1l1 .5l.6-.1l.5-.7l.5 .7l.5-.3l.5 .2l.5-.3l.5 .3l.5-.6l1.1 1l.5-.4l.5 .5l.5-.3l.5-.5l.5 .9l.5-.7l.5 .3l.6-.4l.5 .4l.5-.4l.5 .4l.5-.4l1 .8l.6-.3l.5 .1l.5-.7l.5 1l.5 .4l.5-1.1l.5 .8l.5 .4l.5-.3l1.1-.1l.5-1l.5 1l.5-.4l.5 .1l1 1l.5-1.5l.6 1l.5 .2l.5-.6l.5 .6l.5-.1l.5-.5l.5 .6l.5-.3l.6 .3l.5-.8l.5 1.3l.5 .5l.5-1.1l.5 .2l.5-1.3l.5 1.2l.6 0l.5-.3l.5 .2l.5-.1l.5 .7l.5-.2l.5-.7l.5 1.1l1.1-.6l.5-.1l.5 .3l.5-.2l.5-.1l1 .7l.6-.5l.5 .5l.5 0l.5-.7l.5 .3l.5 .7l.5 .3l1-.8l.6-.1l.5 .3l.5-.8l.5 .9l.5 .4l1-.8l.5 .2l.5 .1l.6-.4l.5 .2l.5-.2l.5 .8l.5-.3l1 .1l.6-.7l.5 .6l.5 0l.5 .7l1-.7l.5 .2l.5 .4l.5-.6l.6 .3l.5-.4l.5 .2l.5-.2l.5 .8l.5-.1l1-1.4l.6 .9l.5 0l.5 .5l.5-1l.5 .7l.5 .1l.5-.1l.5 .3l.5-.4l1.1 .4l.5 .5l.5-.1l.5-.3l.5 .8l.5-.6l.5-.3l.6 0l.5-.8l.5 1.7l.5-.7l.5 .1l.5-.3l1 .5l.5-.4l.6 .2l.5-.9l.5 1l.5-.3l.5-.2l1 .5l1.1 0l.5 .3l.5-.4l.5-.6l.5 .1l.5 .9l.5-.6l.5 .3l1.1 .2l.5-.5l.5 .7l.5 0" stroke="#f5b183" stroke-width="0.35" fill="none" stroke-opacity="0.75" stroke-linejoin="round"/><path d="M378.9 368l.5-3.1l.5-4.8l.5-2.1l1.1-3.1l.5-3.4l2-9l.5-.9l.5-1.6l.6-1.1l.5 .8l.5-.5l.5 .5l.5 1.1l.5 1.4l.5-.2l.5 1.1l.5-.2l.6 1.1l.5 .6l.5 .9l1 .4l.5 .9l.5-.1l.6 .4l.5-.5l1 1.2l.5-.4l.5 .7l1 .7l.5-.4l.6 .7l.5 1l.5-.2l.5 .2l.5 1.1l.5-1.1l.5 .1l.5 1.2l.5-.5l1.1 .8l.5 .7l.5-.8l1 1.3l.5-.5l1.1 .9l.5-.5l.5 .3l.5 1l.5-.6l1.5-.2l.6 .5l.5 .1l.5 .7l.5-.4l.5 .4l.5-.5l.5-.1l1 1.6l.6-.9l.5-.2l1 1.2l.5-.7l.5 .7l.5-.3l.6 .2l.5-.3l.5 1l.5-1l.5 .5l.5-.6l.5 1.4l.5 .5l.5-.7l.6 .6l.5-.4l.5 .9l.5-1.1l.5 .4l.5-.1l.5 .4l.5 .6l.6-.9l1 .1l.5 .9l1-.3l.5 .5l.5-.1l.5 0l.6-.3l.5 1.2l.5-1.3l.5 .6l.5 .1l.5 .3l.5-.6l1.1 .5l.5-.3l.5 .7l.5-.5l.5 .7l.5-.1l.5-.8l.5 1l.6 .1l1.5-.3l.5 .2l1 .2l.5-1l.5 1.8l.6-.8l.5-.1l.5 .8l.5-.6l.5 .1l.5 1.4l.5-1.9l.5 .5l.6 .3l.5 .5l.5-.2l.5 .3l.5 .1l.5-.7l.5 1.4l.5 .1l1.1-1.1l.5 .8l.5-.7l.5 .7l.5-.2l.5 0l1.1-.2l1 .7l.5 .3l.5-1.1l.5 .4l.5-.2l.5 .7l.5-.5l1.1-.2l.5 .6l.5-.5l.5 1.1l.5-.4l.5 .4l.5 .1l.5-.5l.6-.3l.5 .7l.5 0l1 .1l.5-.5l.5-.1l.6 1.1l.5-.8l.5 .1l1 1l.5-.6l.5 .4l.5-.6l.5 .1l.6-.4l.5 .8l.5-.3l.5 .3l.5-.3l.5 .5l.5 0l.5 .3l.5-.4l.6 0l.5-.6l.5 .5l.5 .3l.5-.4l.5 0l.5 .6l.6-.2l.5 .2l1-.1l1 .4l.5-.4l.5 .4l.5 .6l.6-.5l.5-.6l.5 .3l.5-.1l.5 .2l1 .8l.5-.1l.6-.5l.5 .2l.5-.2l.5 .4l.5-1.2l.5 1.3l.5-.9l.5 .8l.5-.7l.6-.2l1 .2l.5 .5l.5 .8l.5 .1l.5-.7l.5-.3l.6 1l.5-1l1 1l.5-.5l.5-.9l.5 1.3l.5-.4l.6 0l.5 .4l.5-.6l.5-.1l.5 .3l.5-.3l.5 .6l.5-.2l.5 .8l.6-.9l1 1.2l.5-.6l.5 .6l.5-.1l.5-.8l.5 .1l.6 .8l.5 .5l.5-1.1l.5 .8l.5-.8l.5 0l.5 .2l.5-.7l.5 .6l.6 .4l.5 .1l1-.2l.5 .7l.5-.4l.5-.1l.6 .7l.5-.1l.5-.6l.5 .7l.5-1l.5 .3l.5 .1l.5 .4l.5 .2l.6-.5l.5 0l.5-.2l.5 1.5l.5-1.3l.5 0l.5 .6l.5-.4l.6 .4l.5 0l.5 .4l.5-.8l1 .5l.5 0l.5-.3l.5-.4l.6 0l1 1l.5-.6l.5 1l.5-1.3l.5 .3l.5 .6l.6-.1l.5 .2l.5-.4l.5 .6l.5-.4l.5 .3l.5 .5l.5-.7l1.6 .6l.5-.3l.5 0l.5 .2l1-.2l.6 .3l.5-.7l.5 .3l.5-.2l.5 .7l1-.4l.5 .1l.5 .3l.6 0l.5-.5l.5-.1l.5-.2l.5 .8l.5-.4l.5 0l.5 .2l1.1 .2l.5-.4l.5 .1l.5 .7l.5-.2l.5 .2l.5-.4l.5 .3l1.1-.7l.5 .8l.5-.6l.5 .4l.5 .1l1 .1l.6-.3l.5-.5l.5 .8l.5 .2l.5-.6l.5 .2l.5 .6l.5-.6l.6 .5l1-.4l.5 .6l1-.4l.5 .8l.5-.4l.6 .6l.5-.8l.5 .2l.5 .4l.5-.1l.5 .4l.5-.6l.5 .3l1.1-.6l.5 .5l.5 .3l.5-.9l.5 .8l.5-.7l.5 .3l.5-.3l1.1 1.2l.5-.4l.5-.2l.5-.7l.5 1.1l.5-.6l.5 .8l.6-.4l.5-.5l.5 0l1 .4l1-.3l.5 .4l1.6-.1l.5 .9l.5-.6l.5 0l.5-.1l.5 .3l.5-.7l.6 .1l.5 .3l.5-1.1l.5 .8l.5-.1l.5 .4l1-.3l.5 .7l.6 .4l.5-1.4l.5 1.5l.5-.2l.5-.4l.5 .2l.5-.3l.5-.6l.6 .3l.5 1.2l.5-.5l.5-.4l.5 .2l.5 .8l1-1.3l.5 .5l1.1 .6l.5-.9l.5-.6l.5 1.3l.5-.7l1.1 .9l.5 .1l.5-.7l1 .5l.5-.4l.5-.1l.5-.8l.5 1.1l.6 .3l.5 .1l.5-.6l.5-.1l.5 .4" stroke="#2ca02c" stroke-width="0.35" fill="none" stroke-opacity="0.75" stroke-linejoin="round"/><path d="M378.9 367.6l1-8.2l1.6-5.3l1-4.4l.5-2.4l.5-3.4l1-3.7l.5 .3l.6-1.6l.5 0l1 1.8l.5 .3l.5-.2l.5 1.3l.5 .1l1.1 .9l.5 1.8l.5-.2l.5 1.1l.5-.7l1 .2l.6 .3l.5 .1l.5 .3l.5 .5l.5 0l.5 1l.5-.2l.5 .7l.5 .1l.6-.1l.5-.3l.5 .9l.5-.1l.5 .5l.5-.3l.5 .5l.5 .7l.5-.3l1.1 .9l.5-.5l.5 .9l.5 .3l.5 .8l.5-.2l.6-.9l.5 1.8l.5-1.6l.5 .9l.5 .1l.5-.7l.5 1.2l.5-.4l.5 .2l.6-.1l.5-.5l.5-.2l.5 1.5l.5-.1l.5-1.4l.5 .8l.5-.4l.5 .2l.6 .8l.5 .5l.5-.6l.5 .3l.5-.4l.5 .6l.5-.8l.6 1.8l.5 .2l.5-.4l.5 .3l.5-.4l.5 .5l.5-.8l.5 .6l.5 0l.6 .5l.5-.1l1 .6l.5-.4l.5 1l.5-.5l.5 .2l.6-.7l1 1.4l.5-.5l1.5-.2l1 .2l.6-.3l.5 .8l.5-.3l.5 .2l1 0l.5 .4l1.1 0l.5 1l.5-1l.5-.2l.5 .5l.5 .2l.5 0l.5-.5l.6 .7l.5-.6l.5 1.1l.5-.3l.5-.8l.5 .9l.5 .5l.5-.7l.5 .4l1.1-.3l.5 .5l.5-.3l.5 .3l.5-.1l.5 .2l.5 .5l1.1-.1l.5-.5l.5 .7l.5 .1l.5-.4l.5-.2l1 .6l.6 .5l.5-.7l.5-.2l.5 .6l.5-.2l.5 .5l.5 0l.6-.3l.5 .1l.5-.2l.5 .2l.5 .3l.5 .1l.5-.4l.5 .7l.5-.6l1.1 .8l1-.3l.5-1.1l.5 1.1l.5 .5l.5-.9l.5 .9l.6 .1l.5-.6l.5-.2l.5-.4l.5 .7l.5 .5l.5-.3l.6-.5l.5-.1l.5 1.1l.5-1l.5 .8l.5 .4l.5-.7l.5 .3l.5 .7l.6-.2l.5-.3l.5-.2l.5 .7l.5-.9l.5 .9l.5 .1l.5-.7l.5-.1l.6 .6l.5 0l1-.4l.5 .6l.5 0l.5 .2l.6 .4l.5-.9l.5 .5l.5-.6l.5 .7l.5-.7l.5 .4l.5-.3l.5 1l.6-.2l.5 0l.5-1l.5 .6l.5 .4l.5 .8l.5-.5l.5-.9l.6 .8l.5-.5l.5 1l.5-.8l.5-.2l.5 .2l.5 .6l.5 .1l.5-.6l.6 .7l.5 .2l.5-.7l.5 .6l.5 0l.5-.3l.5 0l.5 .5l1.1-1l.5 .3l.5-.1l.5 0l.5 .4l.5 0l.5 .5l1.1 0l.5 .2l.5-1.3l.5 .3l.5 1.2l.5-.8l.5 .2l.5-.1l.6 0l.5-.1l.5 .8l1-.2l.5-.5l.5 .4l1.1 .1l.5-.3l.5 .2l.5-.4l.5-.2l1 1.2l.5 .1l.5-.4l.6-.1l.5 .1l.5-.1l.5 .2l.5-.5l.5 .6l.5-.5l.6 .4l.5 .3l.5-.2l.5 .3l.5-.2l.5 1l.5-.9l.5-.4l.5 0l.6 .8l.5 .2l.5-.9l.5 1.1l.5-.5l.5 .1l1.6-.6l.5 1.4l.5-.6l.5 .7l.5-.5l.5 .3l.5-.4l.5 .1l.5-.3l.6-.1l.5 .2l1-.3l.5 .5l.5 0l.5 .3l.5 .1l.6-.7l.5-.3l1 1.3l1-.6l.5 .1l.5 .4l.5-.4l.6 0l.5 .7l.5-.2l.5-.6l.5 .6l.5-.2l.5-.6l1.1 .3l.5 .8l1-.4l.5 0l.5-.3l.5 0l1.1-.2l.5 .6l.5 .4l.5-.7l.5 .3l.5 0l.5 .3l.5-.1l.5-1l.6 1.7l.5-1l.5 .2l.5-.1l.5 .5l.5-.2l.5 .2l.5 0l.6 0l.5-.8l1 .5l.5 .1l1 .8l.5-.7l.6 .6l.5-.2l.5 .2l.5-.2l.5 .1l.5-.7l.5-.1l.5 .7l.6-.2l.5 .2l.5-.1l.5 .3l.5-.3l.5 .9l.5 .4l.5-1.8l.6 .7l.5 .1l.5-.2l.5 .2l.5-.2l.5 .8l.5-.2l.5-.7l1.1 .8l.5 .3l.5-1.3l1 .6l.5 .9l.5-.4l1 .6l.6-.5l.5 0l.5-1l.5 1.4l.5-1l.5 .3l.5-.1l.6 .2l.5-.3l.5 .5l.5-.5l.5 .1l.5 .8l.5-.3l.5-.8l.5 0l.6 1.1l1-1l1 .9l.5-.5l.5 .2l.5 .8l.6-.9l.5 .2l.5-.2l.5-.5l.5 0l.5 .2l.5-.1l.5 1.1l.5 .1l.6-.6l.5 .2l.5-.2l.5 .4l1-.8l.5 .7l.5 0l.6 .2l.5 .7l.5-.8l.5 0l.5-.2l.5 .5l.5-.9l.5 .2l.5-.4l.6 1.9l.5-.8l.5-.5l1 .1l.5 .2l.5-.4l.6 .6l.5-.1l.5-1.1l.5 1.2l.5-.5l.5 .3l.5-.2l.5 .3l.5-.4l.6 0l.5 .5l1.5 .4" stroke="#d62728" stroke-width="0.35" fill="none" stroke-opacity="0.75" stroke-linejoin="round"/><path d="M378.9 367.5l.5-4.5l.5-2.8l1.6-6.2l.5-1.6l1.5-8.2l1-3.5l.5-.3l.6-1.7l1 .9l.5 .2l.5 .8l.5 .5l.5 .9l.5 .6l.5-.1l.6 .3l.5 1.1l.5 .5l.5 1.1l.5-.9l.5 1.2l1.1-.2l.5 2l.5-.8l.5 .6l.5-.1l.5 .1l.5 .8l.5-.8l.5-.3l.6 1.4l.5 .1l.5-.5l1 1.7l.5-.4l.5 .7l.5-.5l.5 1l.6-.6l.5 1.3l.5-.2l.5 1.1l.5-1.8l.5 1.1l.5 .2l.6-.2l.5 .3l.5-.1l.5-.6l.5 .3l.5 1l.5-.2l.5 .3l.5-.2l.6 .8l.5-.2l.5 .6l.5-.8l.5 .6l.5-.7l.5 .6l.5 .7l.5-1.2l.6 1.7l.5-2l.5 .6l1 .2l.5 .3l.5 .7l.6 .3l.5-.2l.5 1.2l.5-1.1l.5 .3l.5 0l1 .9l.5-.5l.6 .3l.5 .1l1.5-.4l.5 1.1l.5-.5l.5 1l.6-.2l.5 .1l.5-.3l1 0l1 .3l.5 .6l.5-.7l.6 .6l.5-.6l.5 .5l.5-.9l.5 1.3l.5-.6l.5-.2l.5 .8l.6 0l.5-.8l1.5 1.1l.5 0l.5 .5l.5-1.3l.6 .8l1-.5l1 .8l.5-.6l.5 1.4l.5-1.2l1.1 .6l1-.3l.5 .8l.5-.4l.5 .4l.5-.1l.5-.3l.6 .6l.5 .3l.5-.3l.5-.7l1 .5l.5-.3l.5 .8l1.1 .4l.5-.5l.5 .1l.5 .7l.5-1.4l.5 .7l.5 1l.6 .2l.5-.8l.5 0l.5 .6l.5-.4l1 .2l.5-.6l.5 1.1l.6-.4l.5 .5l.5-.5l.5 0l.5-.8l.5 1.3l.5-.4l.5 .2l.5-.1l1.1 .6l.5-.1l.5 .1l.5-.7l.5 .5l.5-.6l.6 1l.5 .4l.5-.5l.5 0l.5-1l.5 1.4l.5-.8l.5 .5l.5 .2l.6-.6l.5 .6l.5-1l.5 .6l.5 0l.5 .4l1-.4l.5 .8l.6-.3l.5 .4l1-.4l.5 .9l.5-.7l.5 .3l.6-.6l.5 .9l.5-.3l.5 0l.5-.6l.5 .5l.5-.6l.5 .3l.5 .8l.6 .2l1-.7l1 .7l.5-.6l1 .6l.6-.4l.5 .2l.5 .6l.5-.5l.5-.2l.5 .5l.5 .3l.5-.8l.5-.2l.6 .6l.5-.2l.5 .5l.5-.3l.5 .6l.5-.4l.5-.2l.5 .4l1.1-.2l.5-.5l.5 .8l.5 .4l.5-.3l.5 0l1.1-.7l.5 1.1l.5-.6l.5-.1l.5 .4l.5-.1l.5 .3l.5-.8l.5 .3l.6 .7l.5-.5l.5 .7l.5-.7l.5-.2l.5 1.2l.5-.6l.5 0l.6-1l.5 .7l.5 0l.5 .4l1-.3l.5 .2l.5-.1l1.1 .8l.5-.6l.5 .1l.5 .7l1-.3l.5-.8l.6 .4l.5-.4l.5 1.6l.5-1.1l.5-.4l.5 .8l.5-.3l.5 .6l.5-.5l.6 .2l.5 .6l.5-1l.5 .4l.5-.1l.5 .9l.5-1l.5 .6l.6-.5l.5 .8l.5-.9l.5 .6l.5-.1l.5 .2l.5 .5l1-1.1l.6 0l.5 .7l.5-.7l1 1.1l.5-.4l.5-.1l.5-.3l.6 1.3l.5-1.4l1 .3l.5 .9l.5 .1l.5-1.1l.5 .6l.5-.5l.6 .9l.5-.7l.5 .1l.5 .8l.5-.4l.5-.9l.5 1.1l.6-.7l1 .9l.5-.2l.5 .3l.5-1.2l.5 1.4l.5-.1l1.1-.8l.5 .9l1-.4l.5 .1l.5-.1l.5 .3l1-.5l.6 .8l.5 .2l1-.7l.5-1l.5 .8l.5 .1l.5 1.5l.6-.4l.5-1l.5 .5l.5 .1l.5-.6l.5-.2l1 .5l.6 .8l.5-.6l.5-.4l1.5 1.4l.5-.8l.5-.3l.6 .5l1-.4l.5 .4l.5-.1l.5 .2l.5 .1l.5-.5l.6 0l.5 .3l.5 .5l.5-.7l.5-.1l1 .1l.5 .3l.5 .1l.6-.3l1 0l.5 .7l.5 .4l.5-.9l1 .1l.5-.1l.6 .9l.5-.4l.5-.4l.5 .4l.5-.1l.5-.6l.5 .3l.6 .5l.5-.3l.5 .4l.5-.4l.5 .7l.5 .1l.5-1.2l.5 .2l.5 .8l.6-.6l.5 1.2l.5-1l.5-.4l1 .4l.5 .1l.5-.1l.6-.7l.5 1l1-.4l.5 .7l.5-1l.5 1.4l.5-.7l.5 .1l.6-.1l.5 .5l1-.6l.5 .5l.5-.7l.5 1.2l1.1-1.4l.5 1l.5-.4l1 .3l.5-.5l.5 .8l.5-.7l.5 .8l1.1-.9l.5 .6l.5-.2l.5-.9l.5 .9l1.1-.2l.5 0l.5 .3l.5 .1l.5-.2l.5 0l.5-.4l.5 .5l.5-.2l.6-.5l.5 1.5l.5-.6l1 0" stroke="#b9a6d6" stroke-width="0.35" fill="none" stroke-opacity="0.75" stroke-linejoin="round"/><path d="M378.9 367.2l1-8.2l.5-2.3l.5-.2l.6-2l1.5-8.1l.5-1.9l.5-3.3l.5-1.2l.5 0l.6-1.1l1-.1l.5 1.1l.5 .1l.5 .5l1 1.9l.5 1.2l.6-.7l.5 .5l1 1.5l.5-.5l.5 .7l.5-.1l1.1 .3l.5 .4l.5 1.1l.5-.6l1.5 1.2l.5 .2l.6 .1l1 .2l.5 1l.5-.2l.5-.4l.5 .1l.5 .7l.5 .3l.6-.7l.5 1.4l.5-.6l1 .6l.5-.2l.5 .2l.6 .4l.5-.3l.5-.6l.5 1l1-.5l.5 1.2l.5-.3l.5 .5l.6-.3l.5 .3l.5-.6l.5 .7l.5-.3l.5 .3l.5 0l.5 .7l.5-.7l.6 .6l.5 .1l.5 .3l.5-.4l.5 .5l.5 .2l.5-.1l.6 1l.5-1.3l.5 .7l.5-.4l.5 1l.5 .4l1-.8l.5-.3l.6 .1l.5 .2l.5 .9l.5 0l.5-.3l.5 0l.5 .8l.5 .1l.6 .2l.5-.9l.5 1l.5-.4l.5 .2l.5-.1l.5 .8l.5-.6l.5-.2l.6 .2l.5 .4l.5-.4l1 .6l.5-.1l.5-.9l.5 1.2l.6 .5l.5-.8l.5 0l.5 .2l.5 .3l1-.7l.5 .2l.6 1.5l1-.8l.5 1l.5-1.5l.5 .4l.5 .7l.5 .2l.5-.8l.6 .6l.5-.1l.5 .6l.5 0l1.5-.5l.5 .5l.6-.4l.5 .6l.5 .2l.5-.1l.5 0l1 .7l.5-.9l.5 .2l.6-.1l.5 1l.5-.5l.5 .5l.5-1l.5-.2l.5 .5l.6-.3l.5 1.2l.5-.4l1-.3l.5 .3l.5-.2l1 .4l.6-.5l.5 .7l.5-.4l.5 0l.5 .8l.5-.3l.5-1l.5 .9l.5-.2l.6 .5l.5-.6l.5 .5l.5-.4l.5 .1l.5 .7l1.1-.5l.5 .7l.5-.4l.5 .2l.5-.3l.5 .7l.5-.6l.5-.1l.5 .6l.6 0l.5-.4l.5 .5l1-.6l.5 1.1l.5-.7l.5-.3l.5 1.2l.6-.7l.5 0l.5 .4l.5-.3l.5 .6l.5-.4l.5 .3l.6-.5l.5 .3l.5 0l.5-.3l.5 .2l.5 .5l.5-.2l.5 .3l.5-.5l1.1-.5l.5 .5l.5 .6l.5-.5l.5 .7l.5 .2l.5-.1l.6-.6l.5 .9l.5-.9l.5 .3l.5-.7l.5 .8l.5 .1l.5 .4l.5-.1l.6-.4l1 1.2l.5-.8l.5-.1l1 .1l1.1 .6l.5-1.2l.5 .3l.5 .2l.5 .4l.5 .1l.5-.2l.5-.3l.6 .2l.5 .1l.5-.2l.5 .5l.5 .1l1-.2l.5-.7l.5-.2l.6 1.4l.5-.1l.5-.3l.5 .8l.5-.5l.5-.7l.5 .9l.5-.1l.6-.6l.5-.3l.5 .9l1-.2l.5-.2l.5 1.1l.5-.8l.5 .3l.6-.2l.5-.1l.5 1.2l.5-1.3l.5 .4l.5 .2l.5-.3l.6 0l.5-.6l.5 .5l.5 0l.5 .3l.5-.1l.5 .6l.5-.6l.5 .2l.6-.2l.5 0l.5 1l.5-.7l1-.2l.5 1.2l.5-.9l.6 .8l.5-.3l.5-.4l.5 0l1 .4l.5 .1l.5-.5l.5 0l.6 .3l.5 .8l.5 .2l.5-.2l1-.9l.5 .5l.5 .1l.6-.1l1.5 .3l.5 0l.5-.2l.5-.1l.5 .3l.5-.5l.6 .8l.5-.6l.5 .5l.5-.5l.5 .6l1-.7l.6 .1l.5 .7l.5-.1l.5 .2l.5-.3l.5 .6l.5-.5l.5 .2l.5-.2l.6 0l1 0l.5-.4l.5 .6l.5 .1l.5-.6l.5 1.7l.5-.9l.6 .1l.5-1l.5 .4l.5 0l.5 .3l.5-.2l.5-.4l.5 1.3l.6-.3l.5-.5l.5 .5l.5-.6l.5 0l.5-.1l.5 1.2l.5-.7l.6-.4l.5 .6l.5-.5l1 .9l.5-1.1l.5 1.3l.5-.6l1.1 .3l.5 0l.5 .5l.5-.7l.5 .5l.5-1.1l.5 .9l.6 .5l.5-.7l.5-.2l.5-.1l.5 .6l.5-.1l.5 .1l1-.6l.6 .2l.5 .6l1-.1l1 .5l1-.6l.5 0l.6 .7l.5-.6l.5 .3l1-.4l.5 .2l.5-.2l.6 .1l.5-.1l.5 .5l.5 .6l.5 .2l.5-.8l.5 .1l.5 .5l.5 0l.6 .3l.5-1.3l.5 1.4l.5-.1l.5-1l.5-.1l.5 .6l.5-.5l.6 0l.5 .5l.5-1.3l.5 .9l.5 0l.5 .2l.5-.2l.5 .6l.5-.3l1.1-.2l.5 .3l.5-.2l.5 .3l.5-.7l.5 1l.5 .1l.6-.5l.5-.3l.5 .5l.5-.2l.5 0l.5-.1l.5-.4l.5 1l.5-.1l.6-.3l.5 .2l.5-.3l.5-.5l1 .9l.5-.5l.6 .1l.5-.6l.5 1.2l.5-.5l.5-.3l.5 .1l1 .7l.5 .1l.6 0l.5-.4l.5-.1l.5 .3l.5 .2" stroke="#8c564b" stroke-width="0.35" fill="none" stroke-opacity="0.75" stroke-linejoin="round"/><path d="M378.9 367.4l.5-3.6l.5-5.9l.5-.5l.5-2.1l.6-1.6l1-5l.5-1.9l.5-3.7l.5-1.7l.5-.3l.5-2.3l.6-.7l.5 .1l.5 .6l.5 1l.5-.5l.5 1.3l1 1.8l.5 .2l.6 .9l.5-.2l1 1.4l1-.1l1.1 .8l.5-.3l.5 .5l.5 .1l1 .7l.5-.8l.5 1.4l.5 .6l1.1 .1l.5-1l.5-.3l.5 2.3l.5-1l.5 .6l.5-.6l.5 .8l.6 .6l.5-.4l.5 .5l.5 .2l.5 .9l.5-.8l1.6 .4l.5-.2l.5 .3l.5 .6l.5-.6l.5 .8l.5-.6l.5 .1l.6-.5l.5 .4l.5 0l.5 .2l.5 .6l.5-.3l.5 0l.5 1l.5-.2l.6-.7l1 0l.5 .4l.5 1.4l.5-.4l.5 .5l.6 0l.5-.7l.5 .5l.5 .3l1 .1l1 .5l.5-.8l.6 .5l.5 .8l.5-.4l.5-.1l.5 .4l.5-.4l.5 .5l.5-.3l.6 0l1 .6l.5-.3l1-.1l.5 .4l.5 .9l.5-1.2l.6 1.3l.5-.1l.5-1.3l.5 .8l.5-.6l.5 .9l.5 .1l.5 .9l.6-.8l.5-.2l.5 .2l.5-.9l.5 .7l.5 .2l.5-.1l.5 .3l.6 0l1 1.1l.5-.6l.5 .1l1-.3l.5 .4l.5 .6l.6-.6l.5-.2l.5 .9l.5-.8l.5 .7l.5 0l.5-.7l.5 .7l.6-.4l.5 .1l.5 .3l.5-.6l.5 .5l.5-.1l.5 .3l.5 1l.5 .2l.6-.6l.5-.2l.5-.6l.5 .4l.5 .6l.5-.1l1.1-.1l.5 0l.5 .6l.5-.6l.5 .1l.5 .4l.5-.8l.5 .4l.5-.2l.6 .7l.5 .9l.5-1.2l.5 .8l1.5 .3l.5-.5l.5 .5l.6 .2l.5 0l.5-.3l.5 .4l.5-.2l.5-.5l.5 .6l1.1-.3l.5 1l.5-1.3l.5-.1l.5 1.4l.5-.7l.5-.2l.5 .3l.6-.3l.5 .4l.5 0l.5-.3l.5 .3l.5-.2l.5 .5l1 0l1.1-.4l.5 .6l1 .2l.5-.6l.5 .4l.6 .3l.5-.4l.5 .1l.5-.3l.5 .3l.5 0l.5 .4l.5 .1l.5-.9l.6 .7l.5 .4l.5-.8l1 .3l.5 .3l.5-.2l.5-.1l.6 .9l.5-.8l.5 .7l.5-1.3l.5 .4l.5 .7l1-.1l.5 .2l.6 0l.5 .3l.5-1.1l.5 .5l.5 .3l.5-.5l.5 .6l.5-1.4l.6 1.7l.5-1.1l.5 1.3l1-.3l.5-.7l.5 .8l.5-.4l.6 1.3l.5-.3l.5-.7l.5 .3l.5-.6l.5 .5l.5-.4l1 .9l.6-1l.5 1.2l.5 .1l.5-.8l.5 .5l1 0l.5-.6l.6 1l.5 .1l.5-.5l.5 .6l.5-.7l.5-.1l.5-.4l.5 .9l.5 .3l.6-.2l.5-.8l.5 .4l.5-.7l.5 1.1l.5-.2l.5-.7l.6 1l.5 .1l.5-.4l1 0l.5 .3l.5-.2l.5 .1l.5 .4l.6-.5l1-.3l.5 .9l1 .3l.5-.1l.5 .4l.6-.6l.5-1l.5 1.1l.5-.2l.5 .5l.5-.3l.5 .1l.5-.2l.5 .1l.6 .5l.5-.9l.5-.2l.5 1l.5-.2l.5 .1l1-.7l.6 .9l.5 .1l.5-1.4l.5 .7l.5 0l.5 .8l.5-.6l.5-.2l1.1 1l.5-1.5l.5 .9l.5 .6l.5-.1l.5-.3l.5 .5l.6 0l.5-.1l.5-.4l.5-.1l.5 .2l.5 .4l.5-.6l.5 .3l.5 .7l.6-.7l.5 .2l.5 .4l.5-.2l.5 .5l2-.7l.6 0l1.5 .7l1-.7l.5 .1l.5 1.1l.6-.9l.5 .3l.5-.3l.5 .1l.5-.4l.5 0l1 .5l.6 .6l.5-1l.5 .5l.5-.3l.5 .6l1-.8l1.1 .8l.5-.4l.5 .4l.5 .6l.5-.9l.5 .8l.5-.2l.5-.8l.6 .1l.5 .6l.5 .3l.5-.2l.5-.4l.5 .7l.5-.5l.5 1.1l.5-1.1l.6 .9l.5-.1l.5-.6l.5 0l.5 .4l.5 .2l.5-.9l.5 1.3l.5-.7l.6 .2l.5-.2l.5 .4l.5-.2l.5 0l.5 .3l.5-.3l1.1 0l.5-.3l.5 .6l.5-.6l.5 .4l.5 .1l.5-.8l.5 .4l.6 .8l.5-.6l.5-.1l.5-.5l.5 .8l1 0l.5-.4l.6 .9l1 .1l1-.7l.5 .5l.5-1l1 1l1.1 0l.5-.2l.5 .8l.5-1.1l.5-.1l.5 1.2l.5 0l.6-.4l.5-.1l.5 .1l.5 .4l.5-.4l.5 .3l.5-.1l.5-.5l.5 .9l.6-.9l.5 .8l.5 0l.5-.1l.5-.3l.5-.5l.5 .3l1.1-.8l.5 1.2l.5-.1l.5-.2l.5 .8l.5-1.2l.5 .6l.5-.3l.6 .3l.5-.2l.5 .9l.5-1.4l.5 .9" stroke="#d9629f" stroke-width="0.35" fill="none" stroke-opacity="0.75" stroke-linejoin="round"/><path d="M378.9 369l.5-5.2l.5-3.9l.5-1.9l.5-1.3l.6-2.6l.5-1.6l.5-2l1.5-7.9l1.6-3.2l.5-.2l.5 .4l.5 .8l.5 1.3l.5 .3l.5 .7l.5-.8l.5 1.2l.6 .9l.5 1.2l.5 0l.5-.1l.5 1l.5 .6l.5-.3l.6 .9l.5-.2l1 .9l.5-.6l.5 1.7l.5-.8l.5 .5l.5 .3l.6 .5l.5-.5l.5 .8l.5 1.9l.5-1.3l.5 .5l.5 0l.5 .2l.5 .9l1.6 .5l.5 0l.5-.2l.5 .7l.5 .4l.6 .2l.5-.1l.5-.3l.5 .7l.5-.3l.5 .5l.5 .2l.5-.2l1.1 0l.5 .2l.5 .6l.5 .1l.5 .6l1-.3l.5-.7l.5 .8l.6-.6l.5 .9l.5-.4l1 .3l.5 .5l.5-.2l.6-.4l1 1.1l.5 .1l.5-.3l.5 .3l1 .1l.5-.5l1.1 .9l.5 .2l.5-.1l.5-.8l1 2l.5-.8l.6-.2l.5 .6l.5-.3l.5-.6l.5 .5l.5 .1l.5 1l.5-.4l1.1 0l.5-.7l.5 .2l.5 .8l.5-.3l.5 .7l.5-.7l.5 1.2l.6-1.1l.5 .9l.5-1.1l.5 .3l.5 .7l.5 0l.5 .4l1.6 .1l.5-.5l.5 .5l.5-.5l.5 .6l.5-.2l.5 0l.5 .2l.6 .5l.5-.8l.5 1l.5-.7l.5 .1l.5 .4l1-.1l.6-.7l.5 .8l.5 .4l.5-.6l.5 0l.5 .5l.5-.3l.5-.1l.5 1.4l.6-1l.5 .5l.5 .2l1-.2l.5 .4l.5-.1l.6 .3l.5-.5l.5 0l.5 .4l.5-.1l.5-.7l.5 1.1l.5-.9l.5 .1l.6 .3l.5-.2l.5 1.1l.5-1.3l.5 1.1l.5-.9l.5 .1l.5 .7l.5-.4l1.6 .3l.5-.1l.5 .8l.5 .2l.5-1.1l.6 1l.5 0l.5-.6l.5 .4l1 0l.5-.6l.5 .4l.5 .2l.6-.8l.5 .7l.5 .2l.5-.3l1 1l1-.3l.5-.7l.6 .2l.5 1.4l.5-.3l.5-.5l1 .1l.5 .2l.6-.6l.5 .4l.5 .5l1-.7l.5 0l.5 .5l.5 .3l.5-1.1l.6 .9l.5-.2l.5 .4l.5-1.2l.5 .4l.5 .9l.5-.5l.5 .4l.6-.4l.5 .2l.5 0l.5-.5l.5 1.2l.5-.5l.5 .6l.5-.7l.5 .7l.6-1.1l.5 .6l.5 1l.5-.8l.5 .7l.5-.7l.5 .2l.5 .6l.6-.5l.5-.1l.5-.3l.5 .8l.5-.8l1 .8l.5-.4l.6 .4l.5-.2l.5-.4l.5 0l.5 .1l.5 .9l1-.6l1.1 .2l1 .7l.5-.2l.5 .7l.5-1l.5-.3l.5 .7l.6-.7l.5 .3l.5 .5l.5-.4l.5-.1l1 .4l.5-.2l.5 .2l.6-.3l.5 .6l.5-.3l.5 .3l1-.8l.5 1l.6-.1l.5 .2l1.5-1l.5 .9l.5-.5l.5 .3l.5 0l.6 .5l.5 .1l.5-.5l.5-.1l.5 .4l.5-.4l.5 .6l.5-.6l.6 .1l.5 .3l.5 .1l.5-.4l.5 .1l1 .6l.5-.8l.5 .2l.6 1l1-.8l.5 .1l.5 .7l.5-.4l.5 0l.5-.9l.6 1l.5-.1l.5 .3l.5-.5l.5 .4l.5-.2l.5 1l.5-1l1.1-.1l.5 1l1-1l.5 .4l1 .2l.6 0l1.5-.2l.5 .5l.5 0l1-.6l.5 .3l.6-.6l.5 1.6l.5-.8l.5 0l.5 .4l1.5-.9l.5 1l.6-.9l.5 .3l.5-.2l1 .6l.5-1l.5 1.3l.5-.5l.6 .6l.5-.5l.5 .4l1-1.1l.5 .6l.5 0l.5 .8l.6 .1l.5 .2l.5-.3l.5 .1l.5-.6l.5-.2l.5 .8l.5-.2l.6 .5l1-.7l.5-.1l.5 .7l.5-.7l1 .3l.6-.2l.5 .6l.5 .2l.5-.6l.5-.3l.5 0l.5 2.1l.5-1.5l1.1 .7l.5-.6l.5 .1l.5-.3l.5 1.2l1-.7l.5-.8l.5 0l.6 .3l.5 0l.5 .6l1-.2l1 .5l.6-.7l.5-.2l.5 1.3l.5-.7l.5-.9l.5 1.3l1 0l.5 .4l.6-1.4l.5 .2l.5 .5l.5-1l.5 1.7l.5-.6l.5-.1l.5 .3l.6-.3l.5 0l.5 .3l.5-.5l.5-.3l.5 1l.5-.2l.5 .3l.5 .6l.6-.6l.5-.2l.5-.7l.5 .9l.5 0l.5-.8l.5 .8l.5-.4l.6 .5l.5 .9l.5-.7l.5 0l.5-.6l.5 .2l.5-1.2l.5 1.7l1.1-.5l.5-1.1l.5 1.6l.5-1.3l.5 1.3l.5-.2l.5-.9l.6 1.1l.5 .1l1-.8l.5 .8l.5-.6l.5 .6l.5 .3l1.1-1.4l.5 .4l.5 .8l.5 .1l.5-.6" stroke="#bcbd22" stroke-width="0.35" fill="none" stroke-opacity="0.75" stroke-linejoin="round"/><path d="M378.9 370.6l.5-1.9l.5-2.6l2.1-8.7l1.5-6.3l1-4.8l1.1-3.9l.5-.7l.5 .2l1 1.4l.5 .3l1.5 2l.6 .4l.5 .8l2 1.7l3.1 2l.5 .2l.5 .6l1.6 .8l.5 .5l.5-.1l1 .4l.5 1l.5 .1l.5 .4l1.1 .4l1 1l.5 .1l.5-.2l.5 .4l.5-.1l.6 .4l.5 .1l.5-.1l.5 .6l.5-.3l.5 .1l.5 .5l.5-.1l.5 .3l.6 0l1 .5l.5-.3l.5 .2l.5 .4l.5-.1l.5 .2l.5 .3l.6-.2l1.5 1.1l.5-.2l.5 0l1.6 .6l.5 .1l.5-.1l1.5 .6l.5 0l.5 .3l.6 0l.5 .1l.5 .4l1 .1l1 .5l.5-.1l.6 .2l.5-.1l.5 .3l.5 .1l.5 .5l1-.2l.5 0l.5 .4l1.1-.2l.5 .5l.5 .1l1-.3l.5 .3l1.1 .1l.5 .3l.5 0l.5 .2l.5 0l1.5 .3l.6 0l.5 .3l1-.2l.5 .4l.5 0l.5 .3l1-.1l.6 .3l.5 .1l.5 .3l.5-.1l.5-.2l1 .2l.5 .4l1.1-.1l1 .3l.5-.1l.5 .4l.5-.1l.5 .1l.5 .3l.6 0l.5-.2l1 .6l.5-.1l1 .2l.6-.1l1 0l.5 .5l.5-.2l.5 .3l.5-.2l.5 .1l.5-.1l1.1 .4l1 0l.5 .5l1.5-.1l.5 0l.6 .4l.5-.3l.5 .2l1 .1l1 .4l.6-.4l.5 .3l.5-.1l.5 .5l1 .1l.5-.2l1 .4l.6-.2l.5 .4l.5 .1l.5 0l1.5 .2l.5 .2l.5-.2l.6 .2l.5-.1l1.5 .3l1 .1l1.1-.1l1 0l.5 .2l.5-.1l.5 .5l.5-.5l.5 .2l.6 .3l1-.1l1 .2l1 0l1.1 .2l.5-.2l1.5 .1l.5-.1l.5 .2l1 .3l1.1-.2l.5 .3l.5-.1l1 .4l.5-.2l.5-.2l1.1 .5l.5-.2l.5 0l.5 .1l.5 .2l.5-.2l.5 .2l.6-.3l.5 .6l1-.1l.5 .1l.5-.1l.5 .2l.5 0l.5-.2l.6 .4l.5-.3l1 .4l.5-.3l.5-.1l.5 .3l.5-.2l.6 .2l.5 .1l.5-.1l.5 .3l.5-.1l.5 .2l1-.1l.5 .3l.6-.2l.5 .2l.5-.1l.5 .1l.5 .2l.5 0l.5-.4l.6 .1l.5 .3l1 0l.5 .3l.5-.3l1 .2l.5-.1l1.1 .5l.5-.1l2.5 .2l.6-.3l.5 .2l1.5-.1l.5 .3l1 0l.5 .3l.6-.1l.5-.3l1.5 .4l.5-.1l.5 .3l.5-.1l.6-.3l.5 .2l1 .2l.5-.1l.5 .2l.5-.2l1 .1l.6-.2l.5 .2l.5 .3l.5-.3l.5-.2l.5 .4l.5-.2l1.1 .3l1 .1l.5 .1l.5-.2l.5 .2l.5-.4l1.1 .5l.5 .1l.5-.4l1 .4l1-.1l.5 0l.5-.3l1.6 .7l.5-.3l1 .1l.5-.1l.5 .1l.6 0l.5-.2l.5 .5l.5-.3l.5 0l.5 .3l.5-.5l.5 .7l.6-.3l.5 .3l.5 0l.5-.2l.5 .1l.5-.1l2.1 .3l1-.2l.5 .2l1 0l.5 .3l.6 .1l1-.4l.5 0l1.5 .3l.5 0l.5 .1l1.1-.1l1 .4l.5-.5l.5-.1l.5 .5l.5 .1l.5-.4l.6 .5l.5-.1l1-.5l.5 .3l.5 .4l.5-.5l.6 .4l.5-.1l.5 .3l.5-.3l.5 0l.5 .3l.5 .1l.5-.4l.5 .1l.6 .3l1-.2l1 .4l.5-.3l1 0l.6 .2l1 .1l1-.3l1 .3l.5-.2l.5 .2l1.1-.2l.5 0l.5 .4l.5 0l.5 .1l1-.3l.6 .4l.5-.1l1 .1l1-.4l.5 .4l1 .1l1.1-.2l.5 .2l.5-.2l1 .4l1.1-.2l1 .3l.5-.2l.5 .2l1-.2l1 .1l.6 .2l.5-.3l.5 .3l.5-.5l.5 .6" stroke="#a5a5a5" stroke-width="0.50" fill="none" stroke-opacity="1.00" stroke-linejoin="round" stroke-dasharray="1.6 0.5 0.4 0.5"/><ellipse cx="561.4" cy="374.8" rx="61.0" ry="5.0" transform="rotate(0.0 561.4 374.8)" fill="none" stroke="#2f63bb" stroke-width="1.25" stroke-dasharray="17 5" stroke-dashoffset="0"/><text x="463.5" y="371.8" text-anchor="start" font-family="'Liberation Serif','Times New Roman',serif" font-size="10.3" fill="#111">Cell#8</text><text x="618.3" y="343.4" text-anchor="end" font-family="'Liberation Serif','Times New Roman',serif" font-size="10.3" fill="#111">Self discharge</text><rect x="367.0" y="399.5" width="263.3" height="51.8" fill="#fff" stroke="#dcdcdc" stroke-width="0.6"/><g font-family="'Liberation Serif','Times New Roman',serif" font-size="5.4" fill="#222"><text x="378.9" y="454.9" text-anchor="middle" font-size="4.0">0</text><text x="409.3" y="454.9" text-anchor="middle" font-size="4.0">100</text><text x="439.8" y="454.9" text-anchor="middle" font-size="4.0">200</text><text x="470.2" y="454.9" text-anchor="middle" font-size="4.0">300</text><text x="500.7" y="454.9" text-anchor="middle" font-size="4.0">400</text><text x="531.1" y="454.9" text-anchor="middle" font-size="4.0">500</text><text x="561.6" y="454.9" text-anchor="middle" font-size="4.0">600</text><text x="592.0" y="454.9" text-anchor="middle" font-size="4.0">700</text><text x="622.5" y="454.9" text-anchor="middle" font-size="4.0">800</text><text x="365.3" y="408.6" text-anchor="end">4000</text><text x="365.3" y="418.0" text-anchor="end">3800</text><text x="365.3" y="427.4" text-anchor="end">3600</text><text x="365.3" y="436.9" text-anchor="end">3400</text><text x="365.3" y="446.4" text-anchor="end">3200</text></g><text transform="translate(350.8,426.7) rotate(-90)" text-anchor="middle" font-family="'Liberation Serif','Times New Roman',serif" font-size="7.2" fill="#111">Voltage(mV)</text><text x="497.5" y="458.9" text-anchor="middle" font-family="'Liberation Serif','Times New Roman',serif" font-size="2.8" fill="#222">Index</text><path d="M378.9 424.3l1.8 .1l1.4-.2l.5 .2l.4 0l.5-.2l.4 0l.9 .1l.5-.1l.5 .1l.4-.1l.9 .1l.5 0l.4-.1l1.4 .1l1.4-.1l.9 .4l.4 .4l1 .6l.4-.2l1.4-1.1l.9 0l3.2 .2l.4-.1l.5 .1l.5-.1l1.3-1l10.5-14.4l1.4-1.8l.5-.3l1.3 .7l.5-.1l.9 .1l.9-.1l2.3 .1l1.8-.1l.5 .1l.9-.1l1.4 .1l.4 .1l1.4-.1l1.4 0l.9 .2l1.4-.2l2.7 .1l.9-.1l.9 .1l.5 0l2.7 .1l.5-.1l.9 .1l1.8 0l.5 .1l.9-.1l1.4 .1l2.2-.1l1.9 .1l.4-.1l2.3 .1l.5-.1l.4 .1l2.3 0l.9 .1l.9-.1l1.9 0l.4 .1l.9-.2l.5 .2l1.8 0l.5 .2l.4-.5l.5 .6l.9 .6l1.4 .5l.4 .3l1.4 .4l.5 .3l.4 .8l.5 0l.4-1.1l.5 1.6l1.3 .4l.5 0l.5 0l.4 .6l.9 0l.5 1.6l.4-1.5l.5-.3l1.8 .1l.5 .1l1.4-.1l1.8 .5l1.4 0l.4-.7l.9 .2l.5 0l.4-.2l.5 .1l.4-1.4l.5 1.6l.5-.1l.9 .3l.4 1.6l1.4 .8l.9 .7l.5 .7l.4-.6l.5-.1l.5-1.5l1.3 .1l.5-.6l.4 .8l.5-.2l.4 .3l1-.1l.4 2.5l.5-1.9l1.3 .1l.5-1l.9 .1l.5 1.6l.9-.1l.4 .2l1 0l.4 .2l.5-.5l3.2 .6l.4 .3l.9 .3l.5 0l.4 0l1 .3l.4 0l1.4 .3l.4 1l2.3 .6l.5 .2l.4 .1l.5 .2l.4-2.1l.5 .1l.5 .2l.4 1l1.4 .5l1.8 .5l.5 .1l.4-.1l.5 .3l.5 1l.9 0l.4 .2l.5 0l.4 .1l1.4 .1l.5 .1l.4 0l.5-.2l.9 .1l1.8 .2l.5 .2l.4-.3l2.8 .5l.4-.1l.5 .1l.4 .3l.5 .2l.4-1.3l.5 1.3l.5 .1l1.8 .2l.5-1.1l.4 .2l.5 .6l.4-.5l1.8 .1l.5 .1l.5 0l.4 .7l.5 .1l1.8 .2l1.4-.2l1.3 .2l.5 .2l.5-.1l.4-.7l3.2 .4l.5-.5l.4 1.2l1.4 .3l.5-.1l.4 1.9l.5-.6l.4-.1l1.4 .2l1.8 .2l.5-1.2l.4-.1l.9 .2l.5 .6l1.8 .1l.5-.3l.9 .1l.4 .1l2.3 .2l.5 .1l.5 .4l.9 0l.4 .2l.9-.1l.5 .2l1.4 .1l.4-1.3l2.8 .2l.4 .1l.5-.1l.4 .1l.5 2.9l1.4 .1l.9 .2l.4-.1l1.4 .2l.4-1.6l.5 0l.9 .2l.5-.1l.4 .2l1 0l.4 .7l.5-1.9l2.2 .3l.5 .9l.9 0l1.4 .2l.9 0l.9 .2l.5-.1l.4 .9l.9 .1l.5-.4l.5 .9l.4-.8l2.7 .3l.5 .1l.9-.3l3.2 .3l.5 .7l.9 .2l.5 0l.4 .1l2.3 .1l.4-.3l1 .1l.4-2.6l.5 2.5l.9 .2l.4 .2l.5 0l2.7 .3l.5 .8l.5 .1l.4-.1l.9 .3l2.3 .1" stroke="#bcbd22" stroke-width="0.30" fill="none" stroke-opacity="0.62" stroke-linejoin="round"/><path d="M378.9 424.3l3.7 0l1.3 0l1.4 .1l.5-.1l.4 0l.5-.1l.4 .1l1.8-.1l1 .1l.9-.1l.4 .1l.5 .4l.4 .2l.5 .4l.5 .2l.4 0l.5-.5l.9-.7l.4-.1l3.7 .3l.9 0l.5-.1l1.3-1l2.3-3.3l4.1-5.4l2.3-3.2l2.3-2.9l.9-1.5l.5-.2l.4 .1l.5 .4l1.4 .2l.4-.1l.9 .1l.5-.1l.9 .1l.5-.1l.4 .1l2.8-.1l1.3 .1l2.3 0l.5 0l.4 0l1.8 .1l.5-.1l2.7 .2l.9-.2l1.9 .2l1.3-.1l2.3 .1l.5-.1l.9 .1l2.7-.1l.5 .1l.5 0l.4 .1l.5-.1l1.3 .1l1-.1l.4 .2l.5-.1l.9 0l1.3-.1l2.8 .2l.5-.1l.9 0l3.2 0l.4 .1l.9-.1l2.3 0l.5 .3l.4-.5l.5 1.3l.9 .4l.5 .3l.9 .3l.4-1.5l.5 .3l.4 .1l.5 .2l.5 .5l.4 .2l.5 0l.4 .6l.5 0l.9 .4l.4 .1l.5 .6l.5 .1l1.8 .1l.4-.5l.5 .1l.5-.1l.4 .1l.9 0l1.4 .2l.5-.1l.4 .1l.5 .4l.9 .1l.4 .1l1.4 .1l.5-.4l.4-.1l.9 .2l1.9 0l.4 0l.9 .8l1.4 .8l.5 .4l.4 .2l1.9 .1l.4-.4l.5-.1l.4 .2l.5 0l.9 .2l.9-.2l.9 .3l.5 1.2l.4 0l2.3 .2l.5-.2l.4 .1l.9 0l.5 .2l.5 0l2.2 .5l.5-.4l.5 .2l1.8 .3l1.3 .4l2.3 .5l.5 .2l.9 .1l.9 .3l.5 .3l.4 0l1.4 .5l.4 0l.5 .2l.5-.8l.4 .2l1.4 .4l1.4 .4l.4 .3l.5 0l.4-.1l1.4 .4l.5-.1l.9 .2l.4-.7l.9 1.6l1.4 .2l.5 .5l.4 .1l.5 0l.4 .2l.5-.1l.5 .2l.4 0l.9 0l.5 .2l.4-.1l.5-1.2l.5 .2l.4 0l1.4 .3l.4 0l1.4 .2l.9 0l.5 .2l.4 .4l2.3 .2l.5-1l.4 .8l1.4 .1l1.4 .2l.4 1.2l.5-1.1l.4 .1l.5-.1l.5 .9l.4 .1l1.4 .1l.4 .2l1.4 0l.5-.5l1.3 .3l.5-.8l.9 .2l1.8 .1l1-.2l1.3 .3l1.4 .1l.5 .2l2.2 .3l.5 1l.4 0l.5 .1l1.4 .2l.9-.1l.9 .2l.9-.5l1.4 .2l.4 0l1 .2l.9 0l.4 .1l.5 1.9l.4-1.8l.5 .2l.4-.1l.5 .3l2.3 .1l1.4 .2l.4 .7l.5 0l.4-.5l.5 .6l.9 .1l.5 0l.4-1.5l1.8 0l.9 .2l.5 1.1l1.8 .3l1-.1l1.3 .2l.5-.1l.4 .2l1.4 .1l.5 .1l.4-.5l.5 .2l1.4 .1l.9-.1l.9 .3l.4 0l.5-.4l.4 .1l.5-.1l.9 .3l1.4 .1l.4 .5l.5 0l.4 .6l.5-.5l.5-.4l.4 0l.9 .2l.9-.1l.5 .2l1.4 .1l.4 .7l.5 1.3l1.4 .2l.4-1.1l.5 1l.4 .1l.5-1.5l.9 .2l.5 0l2.2 .5l1 0l.9 .2l.4-1.5l.5 .6l.4 0l1 .1l.4 .4l.5-.3l.9 .1l.4 .8l1.4 .1" stroke="#9c7a5b" stroke-width="0.30" fill="none" stroke-opacity="0.62" stroke-linejoin="round"/><path d="M378.9 424.3l.9 0l.5 .1l.4-.2l.5 .2l3.2-.2l.4 .1l.5 0l.5 0l.4-.1l.5 .1l.9-.1l1.3 .1l.5 .1l.5-.1l.9 0l.4 .1l1.9 1.2l.4-.2l.9-.8l.5-.3l2.7 0l.5 .2l.9 0l1.4-.1l1.3-1.1l.5-.7l.4-.4l1-1.4l3.6-4.8l5-7l1.4-1.8l.5-.4l.9 .5l.4 .2l.5 0l2.7-.1l.5 .1l.5 0l.4 .1l3.2 0l.5 0l1.3 0l1.9 .1l2.2-.1l1.9 .1l.4-.1l1.8 .1l.5-.1l.5 .2l3.6-.1l1.4 .1l1.8 0l.9-.1l.9 .2l.5-.2l.5 .2l.4-.1l1.8 .1l.5-.1l.5 .1l.4-.1l1.4 .1l.4 0l.5 .1l.9-.2l.9 .1l.5 0l1.4 0l1.3 0l2.3 .1l1.4-.1l.4 .1l1.4-.1l.5 .1l.4 0l.5 .2l.4 .9l.9 .5l.5-1.5l.5 .1l.4 .4l.5 .1l.4 .3l1.4 .4l.5 .2l.4 .8l.5-2.7l.4 2.6l2.3 .6l.5-.6l1.3 0l.9 .2l.5-.1l.5 1.2l2.2 .1l.5 .1l.5 0l.4 1l.5 .1l1.8 .1l.9 0l.9-.1l2.3 .1l.9 .2l.9 .4l.5-.6l.4 .1l1.4 1l.5 .6l1.8 .1l.5 .1l1.3 .1l.5 .2l.9 0l.5 1.2l.4-1.1l.5 0l1.8 .2l.5-1l1.3 .2l.5-.1l1.4 .2l1.3 .3l1.4 .3l.5-.2l2.2 .5l.5 .7l.4 0l.5 .2l.5-.2l.4 0l3.7 1l.4-.4l.5 .2l.4 .1l.5 .2l.4 1.4l.5 1l1.4 .4l.4-1.1l1.9 .6l.4 .1l.5 0l1.8 .2l.5 1l.9 0l.4 .2l.5-.1l1.8 .3l.5-.9l.4 .1l.5-.1l.4 1.5l.5 0l2.7 .3l.5-.2l.5 .1l.9 .1l.4-1.4l.5 .8l.4 .1l.5-.1l.4 .4l1 .1l.4 0l.5-.8l2.7 .4l.9-.1l.5 1.2l.4-.6l1 .1l.4 .1l.9 0l.5-.3l.4 0l.5 .1l1.4 0l.4 .2l.9 2.7l.5-1.5l4.1 .5l.5-.7l.9 0l.4 0l.5 1.2l1.4 .2l.4-.1l.5 .1l.4-.2l1 .4l.4-.1l.5 .1l.4-.9l.9 .2l1.4 .1l.5 .1l.4 0l.5 1.2l.4-.1l.5 .1l.4-.1l.5-1.6l.4 .1l.5 0l.9 .1l.9 0l1 .2l.4 .9l.5 0l.4 .3l.5-.2l.4 .1l1.9 0l.9 .5l1.8 .1l.9-.2l1.4 .3l.4 0l.5 .1l.5 0l.4 .2l1.4-.1l.4 .1l.9 .1l.5 1.2l.5-1.1l.4 .1l.5-.1l.4 .1l.5-.3l.5 .1l1.3 .1l.5-1.6l.4 2l.9 .1l1.4 .1l.9 .2l.5-.1l.9 .2l.5-3.1l.4 2.5l1.4 .2l.4 0l1 .2l.4 1.2l.5 0l.9 .2l.4 0l1.4 .1l.5-.7l.9 .1l.4-2l.5 2.2l.4-.1l.5-.2l.5 .4l1.3 .1l.5-.6l.5 .1l.4 0l.5 1.5l.9 .1l.4-1.6l.9 .1l1.9 .3l.9 0l.4 .4l.5 .1l1.8 .1l.5 1.1l.9 0l.5 .3l1.8 .1l.4 .2l.5-.7l.9 .1" stroke="#c9a27a" stroke-width="0.30" fill="none" stroke-opacity="0.62" stroke-linejoin="round"/><path d="M378.9 424.3l.9-.1l1.4 .2l.9-.2l.5 .1l1.8-.1l.4 .1l.5-.1l.5 .2l.4-.2l.5 .1l.4-.1l.5 .2l.4-.2l1.4 .1l.9-.1l.9 .2l1.9 1.2l.4-.2l.9-.9l.5-.2l2.7 .1l.9 .1l.9-.1l.5 .2l.5-.2l1.3-1.1l.5-.5l10-13.8l1.4-1.7l.5-.3l.9 .2l.4 .3l1.9 .1l3.2-.1l.4 .1l.5-.1l2.3 .1l.4 0l.9 .1l.5-.1l1.4 .1l.9-.2l1.3 .2l.5-.1l.5 .1l1.3-.1l1.4 .2l.4-.2l.5 .2l.5-.1l.4 .1l.5-.2l.4 0l1.4 .2l.9 0l.5-.1l.4 .1l.9-.1l1.4 .1l.5 0l.9 .1l.4-.1l1.4 0l.5 0l.9 0l2.3 0l.4 .1l1.4-.1l4.1 .1l.9 0l1.9 .1l.4-.1l.5 .1l.4-.1l1.4 .1l.9-.1l1.4 .3l.4 0l.5 .2l.4 .7l.5-.3l2.3 1l.9 .2l.9 .4l.5 0l.4-.2l1.4 .5l1.8 .3l.5 .2l.4 0l.5 .1l.4-.2l.5 .2l1.8 0l1.4 .2l.5-1.2l.4 1.6l.5 .1l2.7 .2l.9-.1l.5-.2l1.3 0l.5-.1l.5 .2l.4-.1l1.4 .7l.9 .7l.5 1l.4 .3l.5 .1l.4-2.2l.5-3.3l.5 1.3l.4 3.4l.5 1l1.3-.9l2.3 0l1.8-.2l.5 .1l.5-.4l.4-.1l.9 .1l.5-2.3l.4 2.1l3.7 .4l.5-.1l.4 .1l.5 0l1.3 .2l.5 .7l.4 .2l2.8 .2l.4-.8l.5 0l.5 .2l.9 .2l.9 0l1.3 .4l.5-.1l.5 .1l.4-1.4l.5 2l.4 .2l1.4 .2l.5 .1l.9 0l.4 1l.5-1.3l.9 .1l.5-.1l.4 .1l.5-.1l.4 2.3l.5-2.1l.4 .1l.5-.1l1.4 0l.4 .5l.5 0l.4 .4l.5-.5l.9 0l.5-.8l.9-.1l.9 .1l.5-.4l.4 .4l.9-.7l.5 .2l.4 0l.5-.5l.4 1l.5 .1l1.8 0l.5 .1l.5-1.3l2.7 .1l.4 0l.5-.3l.5 .4l.4 .7l.5 .2l.9 0l.4 0l.5-.3l.5-.1l1.8 .2l1.8 .1l.5-.4l.4 0l.9 .1l.5 .3l1.4 0l.9 .3l1.4 0l.4-.1l.9 .2l.5 .5l.9 0l.5-.4l.4 .1l.5 0l1.3 .4l.5-.1l2.3 .1l.4-1.3l.5 1.3l1.3 0l.5-.1l.5 0l.4-.2l1.9-.1l1.3 .2l.9-.2l1.9 .1l.4 .3l.5-.2l.9 .3l.5-.3l.9 .2l1.3-.2l.5 .1l.9-.1l.5 .1l1.3 0l.5-.4l2.3 .1l.4-.1l.5-.3l.4-.1l1 .1l1.3-.1l.5 .1l.4 0l.5-.1l.4 .1l1.9 0l.4 .7l1 .1l.4 1.7l.5 5.5l.4 3.7l.9 .1l.5 0l.4 .4l.5 .1l.5 .4l.4-.3l.5 0l.4 0l.5-.8l.4-.1l1.9 .4l.4-.1l.5 .2l.4 0l.5 .1l.4 .9l.5 0l.5 .2l.4 0l.5-.3l.4 0l3.2 .4l1.9 .1l1.3 .2l.5 1.3l.4-1.3l1 .2l.4 .3l.9 .1l.5 .2l.9 0l.5 .1l.4-.1l.5 .1l2.7 .3" stroke="#b98a86" stroke-width="0.35" fill="none" stroke-opacity="0.90" stroke-linejoin="round"/><path d="M529.6 448l.5-6.5l.4 4.4l.5-4.5l.5-6l.4 6.4l.5 3.3l.4-9l.5 5.1l.4 .7l.5 5.9l.4 .5l.5-7.4l.5 3.5l.9-3.9l.4 1.7l1 4.8l.4-1.3l.5-10.3l.4 8.7l.5-5.9l.4-.5l.5 10.1l.4-5.4l.5-4.1l.5-2.3l.4 11.2l.5-8.8l.4 5.9l.5-2.5l.4 6.4l.5-12.3l.5 6.8l.9-5.5l.4-1.8l.9 11.7l.5-10.8l.5 1.8l.4 4.8l.5-3l.4 6.5l.5-.5l.4-1.6l.5-2.8l.4 2.6l.5-.9l.5 .3l.4-7.4l.5 9.8l.4 1.2l.5-5.1l.5 .6l.4-2.8l.5-13.6l.9-.6l.9 0l.5 .2l.4-.2l.5 .1l.4-.1l.5 .5l.4-1l.9 .9l1-.1l.4-.7l.5 .6l.4-.2l.5-.5l.9 .8l.4-.2l.5 .1l.5 .2l.4-.6l.5-.1l.4 .8l.5-.4l.9-.2l.5 .7l.4-.4l.5 .4l.4-.4l.5 0l.4-.4l.5 .2l.5 .1l.4 .2l.5-.1l.4-.3l.5 .3l.5 .2l.4-.3l.5 .1l.4-.3l.5 .1l.4 .3l.5 0l.4 .3l.5-.7l.5-.1l.4 .5l.5-.3l.9 .1l.4-.3l.5 .5l.4-.5l.5 .3l.5-.7l.4 .8l.9 .2l1-.6l.4 .6l.5-.2l.4 .1l.5-.2l1.3 .3l.5-.7l.5 .5l.4 0l.5-.5l.4 0l.5 .6l.5-.6l.4 2.3l27.4 2.8" stroke="#9a86c8" stroke-width="0.50" fill="none" stroke-opacity="0.95" stroke-linejoin="round"/><ellipse cx="542.9" cy="442.5" rx="26.0" ry="7.6" transform="rotate(0.0 542.9 442.5)" fill="none" stroke="#2f63bb" stroke-width="1.25" stroke-dasharray="14 6.7" stroke-dashoffset="14"/><text x="486.0" y="445.8" text-anchor="start" font-family="'Liberation Serif','Times New Roman',serif" font-size="10.3" fill="#111">Cell#5</text><text x="618.3" y="409.6" text-anchor="end" font-family="'Liberation Serif','Times New Roman',serif" font-size="10.3" fill="#111">Abnormal battey cell</text><rect x="637.0" y="-2" width="46.8" height="27.4" rx="1.6" fill="#fff" stroke="#d4d4d4" stroke-width="0.7"/><circle cx="640.8" cy="6.8" r="1.5" fill="#a77d65"/><circle cx="640.8" cy="18.5" r="1.5" fill="#069bb9"/><text x="644.5" y="9.8" font-family="'Liberation Serif','Times New Roman',serif" font-size="9.2" fill="#111">Abnormal</text><text x="644.5" y="21.6" font-family="'Liberation Serif','Times New Roman',serif" font-size="9.2" fill="#111">Normal</text><rect x="637.6" y="258.8" width="46.2" height="97.8" rx="1" fill="#fff" stroke="#d8d8d8" stroke-width="0.7"/><path d="M639.9 264.5H655.4" stroke="#1f77b4" stroke-width="0.7" stroke-dasharray="2 0.9"/><text x="660.8" y="266.9" font-family="'Liberation Serif','Times New Roman',serif" font-size="7.3" fill="#111">Cell#1</text><path d="M639.9 275.2H655.4" stroke="#f5b183" stroke-width="0.9"/><text x="660.8" y="277.6" font-family="'Liberation Serif','Times New Roman',serif" font-size="7.3" fill="#111">Cell#2</text><path d="M639.9 285.9H655.4" stroke="#2ca02c" stroke-width="0.7" stroke-dasharray="3.2 0.8 0.8 0.8"/><text x="660.8" y="288.3" font-family="'Liberation Serif','Times New Roman',serif" font-size="7.3" fill="#111">Cell#3</text><path d="M639.9 296.5H655.4" stroke="#d62728" stroke-width="0.7" stroke-dasharray="2 0.9"/><text x="660.8" y="298.9" font-family="'Liberation Serif','Times New Roman',serif" font-size="7.3" fill="#111">Cell#4</text><path d="M639.9 307.2H655.4" stroke="#b9a6d6" stroke-width="1.0"/><text x="660.8" y="309.6" font-family="'Liberation Serif','Times New Roman',serif" font-size="7.3" fill="#111">Cell#5</text><path d="M639.9 317.9H655.4" stroke="#8c564b" stroke-width="0.7" stroke-dasharray="2 0.9"/><text x="660.8" y="320.3" font-family="'Liberation Serif','Times New Roman',serif" font-size="7.3" fill="#111">Cell#6</text><path d="M639.9 328.6H655.4" stroke="#d9629f" stroke-width="0.7"/><text x="660.8" y="331.0" font-family="'Liberation Serif','Times New Roman',serif" font-size="7.3" fill="#111">Cell#7</text><path d="M639.9 339.3H655.4" stroke="#bdbdbd" stroke-width="0.9" stroke-dasharray="3.2 0.8 0.8 0.8"/><text x="660.8" y="341.7" font-family="'Liberation Serif','Times New Roman',serif" font-size="7.3" fill="#111">Cell#8</text><path d="M639.9 349.9H655.4" stroke="#bcbd22" stroke-width="0.7" stroke-dasharray="2 0.9"/><text x="660.8" y="352.3" font-family="'Liberation Serif','Times New Roman',serif" font-size="7.3" fill="#111">Cell#9</text><text x="-1.0" y="122.2" font-family="'Liberation Serif','Times New Roman',serif" font-size="23.4" fill="#111">a</text><text x="0.6" y="368.0" font-family="'Liberation Serif','Times New Roman',serif" font-size="25" fill="#111">b</text></svg></body></html>
